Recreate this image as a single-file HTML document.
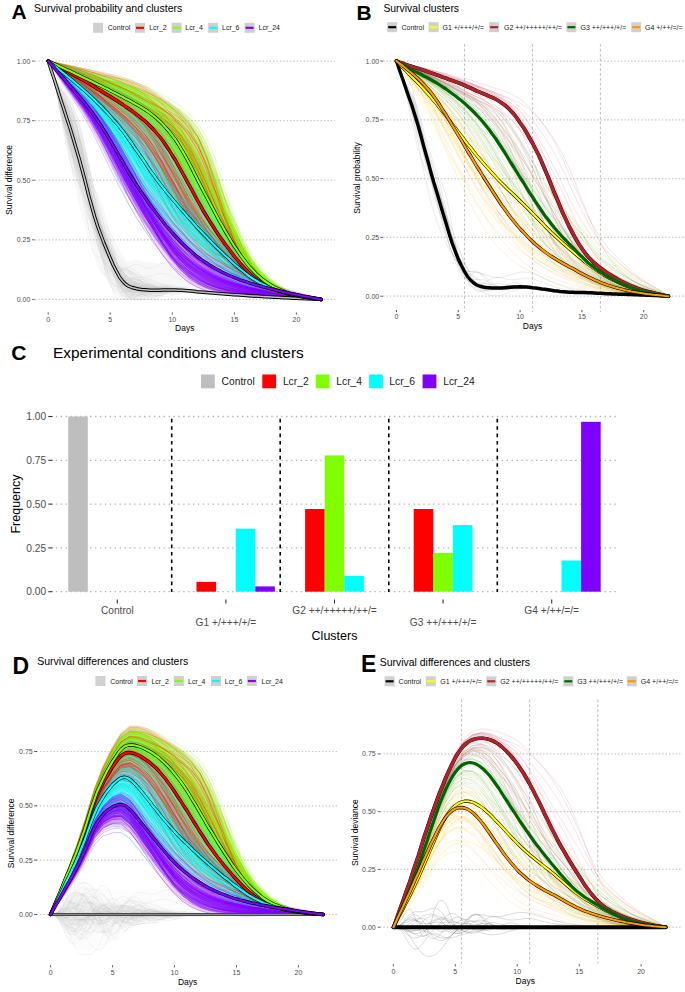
<!DOCTYPE html>
<html><head><meta charset="utf-8"><title>Survival clusters figure</title>
<style>html,body{margin:0;padding:0;background:#fff;}body{width:685px;height:992px;position:relative;overflow:hidden;font-family:"Liberation Sans", sans-serif;}</style>
</head><body>
<svg width="685" height="992" viewBox="0 0 685 992" style="position:absolute;left:0;top:0;font-family:'Liberation Sans', sans-serif">
<rect width="685" height="992" fill="#fff"/>
<text x="11.5" y="19.2" font-size="21" font-weight="bold">A</text>
<text x="34" y="12.4" font-size="10.55">Survival probability and clusters</text>
<rect x="93.1" y="22.8" width="10" height="10" fill="#d0d0d0"/>
<text x="107.8" y="30.3" font-size="7" fill="#1a1a1a">Control</text>
<rect x="135" y="22.8" width="10" height="10" fill="#d0d0d0"/>
<line x1="136" y1="27.8" x2="144" y2="27.8" stroke="#ff0000" stroke-width="2.2"/>
<text x="149.2" y="30.3" font-size="7" fill="#1a1a1a">Lcr_2</text>
<rect x="171.6" y="22.8" width="10" height="10" fill="#d0d0d0"/>
<line x1="172.6" y1="27.8" x2="180.6" y2="27.8" stroke="#80ff00" stroke-width="2.2"/>
<text x="185.3" y="30.3" font-size="7" fill="#1a1a1a">Lcr_4</text>
<rect x="208.2" y="22.8" width="10" height="10" fill="#d0d0d0"/>
<line x1="209.2" y1="27.8" x2="217.2" y2="27.8" stroke="#00ffff" stroke-width="2.2"/>
<text x="222" y="30.3" font-size="7" fill="#1a1a1a">Lcr_6</text>
<rect x="244.6" y="22.8" width="10" height="10" fill="#d0d0d0"/>
<line x1="245.6" y1="27.8" x2="253.6" y2="27.8" stroke="#8000ff" stroke-width="2.2"/>
<text x="258.6" y="30.3" font-size="7" fill="#1a1a1a">Lcr_24</text>
<line x1="35" y1="299.4" x2="335" y2="299.4" stroke="#c6c6c6" stroke-width="1.2" stroke-dasharray="1.4 2.0"/>
<line x1="35" y1="239.8" x2="335" y2="239.8" stroke="#c6c6c6" stroke-width="1.2" stroke-dasharray="1.4 2.0"/>
<line x1="35" y1="180.2" x2="335" y2="180.2" stroke="#c6c6c6" stroke-width="1.2" stroke-dasharray="1.4 2.0"/>
<line x1="35" y1="120.7" x2="335" y2="120.7" stroke="#c6c6c6" stroke-width="1.2" stroke-dasharray="1.4 2.0"/>
<line x1="35" y1="61.1" x2="335" y2="61.1" stroke="#c6c6c6" stroke-width="1.2" stroke-dasharray="1.4 2.0"/>
<text x="30.4" y="301.9" font-size="7" text-anchor="end" fill="#4d4d4d">0.00</text>
<line x1="32.2" y1="299.4" x2="34.6" y2="299.4" stroke="#333" stroke-width="0.8"/>
<text x="30.4" y="242.3" font-size="7" text-anchor="end" fill="#4d4d4d">0.25</text>
<line x1="32.2" y1="239.8" x2="34.6" y2="239.8" stroke="#333" stroke-width="0.8"/>
<text x="30.4" y="182.7" font-size="7" text-anchor="end" fill="#4d4d4d">0.50</text>
<line x1="32.2" y1="180.2" x2="34.6" y2="180.2" stroke="#333" stroke-width="0.8"/>
<text x="30.4" y="123.2" font-size="7" text-anchor="end" fill="#4d4d4d">0.75</text>
<line x1="32.2" y1="120.7" x2="34.6" y2="120.7" stroke="#333" stroke-width="0.8"/>
<text x="30.4" y="63.6" font-size="7" text-anchor="end" fill="#4d4d4d">1.00</text>
<line x1="32.2" y1="61.1" x2="34.6" y2="61.1" stroke="#333" stroke-width="0.8"/>
<text x="48.2" y="321.5" font-size="7" text-anchor="middle" fill="#4d4d4d">0</text>
<line x1="48.2" y1="312.4" x2="48.2" y2="314.6" stroke="#333" stroke-width="0.8"/>
<text x="110.2" y="321.5" font-size="7" text-anchor="middle" fill="#4d4d4d">5</text>
<line x1="110.2" y1="312.4" x2="110.2" y2="314.6" stroke="#333" stroke-width="0.8"/>
<text x="172.3" y="321.5" font-size="7" text-anchor="middle" fill="#4d4d4d">10</text>
<line x1="172.3" y1="312.4" x2="172.3" y2="314.6" stroke="#333" stroke-width="0.8"/>
<text x="234.4" y="321.5" font-size="7" text-anchor="middle" fill="#4d4d4d">15</text>
<line x1="234.4" y1="312.4" x2="234.4" y2="314.6" stroke="#333" stroke-width="0.8"/>
<text x="296.4" y="321.5" font-size="7" text-anchor="middle" fill="#4d4d4d">20</text>
<line x1="296.4" y1="312.4" x2="296.4" y2="314.6" stroke="#333" stroke-width="0.8"/>
<text x="184.8" y="331.3" font-size="8.5" text-anchor="middle">Days</text>
<text transform="translate(12.3 180) rotate(-90)" font-size="8.5" text-anchor="middle">Survival difference</text>
<text x="356.5" y="19.5" font-size="21" font-weight="bold">B</text>
<text x="383.4" y="12" font-size="10.4">Survival clusters</text>
<rect x="387.2" y="22.2" width="10" height="10" fill="#d0d0d0"/>
<line x1="388.2" y1="27.2" x2="396.2" y2="27.2" stroke="#000000" stroke-width="2.2"/>
<text x="401.5" y="29.7" font-size="7" fill="#1a1a1a">Control</text>
<rect x="428.6" y="22.2" width="10" height="10" fill="#d0d0d0"/>
<line x1="429.6" y1="27.2" x2="437.6" y2="27.2" stroke="#ffff00" stroke-width="2.2"/>
<text x="442.5" y="29.7" font-size="7" fill="#1a1a1a">G1 +/+++/+/=</text>
<rect x="489.1" y="22.2" width="10" height="10" fill="#d0d0d0"/>
<line x1="490.1" y1="27.2" x2="498.1" y2="27.2" stroke="#a52a2a" stroke-width="2.2"/>
<text x="504" y="29.7" font-size="7" fill="#1a1a1a">G2 ++/+++++/++/=</text>
<rect x="566.4" y="22.2" width="10" height="10" fill="#d0d0d0"/>
<line x1="567.4" y1="27.2" x2="575.4" y2="27.2" stroke="#006400" stroke-width="2.2"/>
<text x="580.5" y="29.7" font-size="7" fill="#1a1a1a">G3 ++/+++/+/=</text>
<rect x="631.2" y="22.2" width="10" height="10" fill="#d0d0d0"/>
<line x1="632.2" y1="27.2" x2="640.2" y2="27.2" stroke="#ff9a00" stroke-width="2.2"/>
<text x="645" y="29.7" font-size="7" fill="#1a1a1a">G4 +/++/=/=</text>
<line x1="383" y1="296.2" x2="684" y2="296.2" stroke="#c6c6c6" stroke-width="1.2" stroke-dasharray="1.4 2.0"/>
<line x1="383" y1="237.4" x2="684" y2="237.4" stroke="#c6c6c6" stroke-width="1.2" stroke-dasharray="1.4 2.0"/>
<line x1="383" y1="178.6" x2="684" y2="178.6" stroke="#c6c6c6" stroke-width="1.2" stroke-dasharray="1.4 2.0"/>
<line x1="383" y1="119.9" x2="684" y2="119.9" stroke="#c6c6c6" stroke-width="1.2" stroke-dasharray="1.4 2.0"/>
<line x1="383" y1="61.1" x2="684" y2="61.1" stroke="#c6c6c6" stroke-width="1.2" stroke-dasharray="1.4 2.0"/>
<line x1="464.5" y1="44" x2="464.5" y2="312" stroke="#c4c4c4" stroke-width="1.1" stroke-dasharray="2.7 2.15"/>
<line x1="532.5" y1="44" x2="532.5" y2="312" stroke="#c4c4c4" stroke-width="1.1" stroke-dasharray="2.7 2.15"/>
<line x1="600.4" y1="44" x2="600.4" y2="312" stroke="#c4c4c4" stroke-width="1.1" stroke-dasharray="2.7 2.15"/>
<text x="379.2" y="298.7" font-size="7" text-anchor="end" fill="#4d4d4d">0.00</text>
<line x1="380.3" y1="296.2" x2="383" y2="296.2" stroke="#333" stroke-width="0.8"/>
<text x="379.2" y="239.9" font-size="7" text-anchor="end" fill="#4d4d4d">0.25</text>
<line x1="380.3" y1="237.4" x2="383" y2="237.4" stroke="#333" stroke-width="0.8"/>
<text x="379.2" y="181.1" font-size="7" text-anchor="end" fill="#4d4d4d">0.50</text>
<line x1="380.3" y1="178.6" x2="383" y2="178.6" stroke="#333" stroke-width="0.8"/>
<text x="379.2" y="122.4" font-size="7" text-anchor="end" fill="#4d4d4d">0.75</text>
<line x1="380.3" y1="119.9" x2="383" y2="119.9" stroke="#333" stroke-width="0.8"/>
<text x="379.2" y="63.6" font-size="7" text-anchor="end" fill="#4d4d4d">1.00</text>
<line x1="380.3" y1="61.1" x2="383" y2="61.1" stroke="#333" stroke-width="0.8"/>
<text x="396.5" y="318.5" font-size="7" text-anchor="middle" fill="#4d4d4d">0</text>
<line x1="396.5" y1="310" x2="396.5" y2="312.2" stroke="#333" stroke-width="0.8"/>
<text x="458.3" y="318.5" font-size="7" text-anchor="middle" fill="#4d4d4d">5</text>
<line x1="458.3" y1="310" x2="458.3" y2="312.2" stroke="#333" stroke-width="0.8"/>
<text x="520.1" y="318.5" font-size="7" text-anchor="middle" fill="#4d4d4d">10</text>
<line x1="520.1" y1="310" x2="520.1" y2="312.2" stroke="#333" stroke-width="0.8"/>
<text x="581.9" y="318.5" font-size="7" text-anchor="middle" fill="#4d4d4d">15</text>
<line x1="581.9" y1="310" x2="581.9" y2="312.2" stroke="#333" stroke-width="0.8"/>
<text x="643.7" y="318.5" font-size="7" text-anchor="middle" fill="#4d4d4d">20</text>
<line x1="643.7" y1="310" x2="643.7" y2="312.2" stroke="#333" stroke-width="0.8"/>
<text x="532.5" y="329.3" font-size="8.5" text-anchor="middle">Days</text>
<text transform="translate(359.5 178) rotate(-90)" font-size="8.5" text-anchor="middle">Survival probability</text>
<text x="11.2" y="360.3" font-size="21" font-weight="bold">C</text>
<text x="53.1" y="358.3" font-size="15.4">Experimental conditions and clusters</text>
<rect x="201" y="374.5" width="13.8" height="13.8" fill="#bebebe"/>
<text x="221.5" y="385.1" font-size="10.3" fill="#1a1a1a">Control</text>
<rect x="262.3" y="374.5" width="13.8" height="13.8" fill="#ff0000"/>
<text x="282.9" y="385.1" font-size="10.3" fill="#1a1a1a">Lcr_2</text>
<rect x="315.7" y="374.5" width="13.8" height="13.8" fill="#80ff00"/>
<text x="336.3" y="385.1" font-size="10.3" fill="#1a1a1a">Lcr_4</text>
<rect x="369.1" y="374.5" width="13.8" height="13.8" fill="#00ffff"/>
<text x="389.3" y="385.1" font-size="10.3" fill="#1a1a1a">Lcr_6</text>
<rect x="422.6" y="374.5" width="13.8" height="13.8" fill="#8000ff"/>
<text x="443.2" y="385.1" font-size="10.3" fill="#1a1a1a">Lcr_24</text>
<line x1="55.8" y1="591.7" x2="618" y2="591.7" stroke="#b4b4b4" stroke-width="1.3" stroke-dasharray="1.4 3.5"/>
<text x="46.2" y="595.3" font-size="10.2" text-anchor="end" fill="#4d4d4d">0.00</text>
<line x1="48.3" y1="591.7" x2="52.6" y2="591.7" stroke="#333" stroke-width="1.1"/>
<line x1="55.8" y1="547.9" x2="618" y2="547.9" stroke="#b4b4b4" stroke-width="1.3" stroke-dasharray="1.4 3.5"/>
<text x="46.2" y="551.5" font-size="10.2" text-anchor="end" fill="#4d4d4d">0.25</text>
<line x1="48.3" y1="547.9" x2="52.6" y2="547.9" stroke="#333" stroke-width="1.1"/>
<line x1="55.8" y1="504.1" x2="618" y2="504.1" stroke="#b4b4b4" stroke-width="1.3" stroke-dasharray="1.4 3.5"/>
<text x="46.2" y="507.7" font-size="10.2" text-anchor="end" fill="#4d4d4d">0.50</text>
<line x1="48.3" y1="504.1" x2="52.6" y2="504.1" stroke="#333" stroke-width="1.1"/>
<line x1="55.8" y1="460.3" x2="618" y2="460.3" stroke="#b4b4b4" stroke-width="1.3" stroke-dasharray="1.4 3.5"/>
<text x="46.2" y="463.9" font-size="10.2" text-anchor="end" fill="#4d4d4d">0.75</text>
<line x1="48.3" y1="460.3" x2="52.6" y2="460.3" stroke="#333" stroke-width="1.1"/>
<line x1="55.8" y1="416.5" x2="618" y2="416.5" stroke="#b4b4b4" stroke-width="1.3" stroke-dasharray="1.4 3.5"/>
<text x="46.2" y="420.1" font-size="10.2" text-anchor="end" fill="#4d4d4d">1.00</text>
<line x1="48.3" y1="416.5" x2="52.6" y2="416.5" stroke="#333" stroke-width="1.1"/>
<line x1="171.7" y1="418.8" x2="171.7" y2="592" stroke="#000" stroke-width="1.6" stroke-dasharray="3.6 3.8"/>
<line x1="280.2" y1="418.8" x2="280.2" y2="592" stroke="#000" stroke-width="1.6" stroke-dasharray="3.6 3.8"/>
<line x1="388.8" y1="418.8" x2="388.8" y2="592" stroke="#000" stroke-width="1.6" stroke-dasharray="3.6 3.8"/>
<line x1="497.3" y1="418.8" x2="497.3" y2="592" stroke="#000" stroke-width="1.6" stroke-dasharray="3.6 3.8"/>
<rect x="68.2" y="416.5" width="19.6" height="175.2" fill="#bebebe"/>
<rect x="196.5" y="581.9" width="19.6" height="9.8" fill="#ff0000"/>
<rect x="235.7" y="528.6" width="19.6" height="63.1" fill="#00ffff"/>
<rect x="255.3" y="586.4" width="19.6" height="5.3" fill="#8000ff"/>
<rect x="305.1" y="509" width="19.6" height="82.7" fill="#ff0000"/>
<rect x="324.7" y="455.4" width="19.6" height="136.3" fill="#80ff00"/>
<rect x="344.3" y="575.9" width="19.6" height="15.8" fill="#00ffff"/>
<rect x="413.7" y="509" width="19.6" height="82.7" fill="#ff0000"/>
<rect x="433.3" y="552.8" width="19.6" height="38.9" fill="#80ff00"/>
<rect x="452.9" y="525.1" width="19.6" height="66.6" fill="#00ffff"/>
<rect x="561.5" y="560.5" width="19.6" height="31.2" fill="#00ffff"/>
<rect x="581.1" y="421.8" width="19.6" height="169.9" fill="#8000ff"/>
<line x1="117.3" y1="599.5" x2="117.3" y2="603.5" stroke="#333" stroke-width="1.1"/>
<text x="117.3" y="613.8" font-size="10.2" text-anchor="middle" fill="#4d4d4d">Control</text>
<line x1="225.9" y1="599.5" x2="225.9" y2="603.5" stroke="#333" stroke-width="1.1"/>
<text x="225.9" y="625.6" font-size="10.2" text-anchor="middle" fill="#4d4d4d">G1 +/+++/+/=</text>
<line x1="334.5" y1="599.5" x2="334.5" y2="603.5" stroke="#333" stroke-width="1.1"/>
<text x="334.5" y="613.8" font-size="10.2" text-anchor="middle" fill="#4d4d4d">G2 ++/+++++/++/=</text>
<line x1="443.1" y1="599.5" x2="443.1" y2="603.5" stroke="#333" stroke-width="1.1"/>
<text x="443.1" y="625.6" font-size="10.2" text-anchor="middle" fill="#4d4d4d">G3 ++/+++/+/=</text>
<line x1="551.7" y1="599.5" x2="551.7" y2="603.5" stroke="#333" stroke-width="1.1"/>
<text x="551.7" y="613.8" font-size="10.2" text-anchor="middle" fill="#4d4d4d">G4 +/++/=/=</text>
<text x="334.5" y="640.4" font-size="12.5" text-anchor="middle">Clusters</text>
<text transform="translate(20.3 504) rotate(-90)" font-size="12.5" text-anchor="middle">Frequency</text>
<text x="12.4" y="673.8" font-size="23" font-weight="bold">D</text>
<text x="37.2" y="665.3" font-size="10.5">Survival differences and clusters</text>
<rect x="95.4" y="676" width="10" height="10" fill="#d0d0d0"/>
<text x="110.2" y="683.5" font-size="7" fill="#1a1a1a">Control</text>
<rect x="137" y="676" width="10" height="10" fill="#d0d0d0"/>
<line x1="138" y1="681" x2="146" y2="681" stroke="#ff0000" stroke-width="2.2"/>
<text x="151.4" y="683.5" font-size="7" fill="#1a1a1a">Lcr_2</text>
<rect x="173.9" y="676" width="10" height="10" fill="#d0d0d0"/>
<line x1="174.9" y1="681" x2="182.9" y2="681" stroke="#80ff00" stroke-width="2.2"/>
<text x="188" y="683.5" font-size="7" fill="#1a1a1a">Lcr_4</text>
<rect x="211" y="676" width="10" height="10" fill="#d0d0d0"/>
<line x1="212" y1="681" x2="220" y2="681" stroke="#00ffff" stroke-width="2.2"/>
<text x="224.8" y="683.5" font-size="7" fill="#1a1a1a">Lcr_6</text>
<rect x="246.9" y="676" width="10" height="10" fill="#d0d0d0"/>
<line x1="247.9" y1="681" x2="255.9" y2="681" stroke="#8000ff" stroke-width="2.2"/>
<text x="261.5" y="683.5" font-size="7" fill="#1a1a1a">Lcr_24</text>
<line x1="36.5" y1="914.5" x2="339" y2="914.5" stroke="#c6c6c6" stroke-width="1.2" stroke-dasharray="1.4 2.0"/>
<line x1="36.5" y1="860.1" x2="339" y2="860.1" stroke="#c6c6c6" stroke-width="1.2" stroke-dasharray="1.4 2.0"/>
<line x1="36.5" y1="805.8" x2="339" y2="805.8" stroke="#c6c6c6" stroke-width="1.2" stroke-dasharray="1.4 2.0"/>
<line x1="36.5" y1="751.5" x2="339" y2="751.5" stroke="#c6c6c6" stroke-width="1.2" stroke-dasharray="1.4 2.0"/>
<text x="32.7" y="917" font-size="7" text-anchor="end" fill="#4d4d4d">0.00</text>
<line x1="34.2" y1="914.5" x2="37" y2="914.5" stroke="#333" stroke-width="0.8"/>
<text x="32.7" y="862.6" font-size="7" text-anchor="end" fill="#4d4d4d">0.25</text>
<line x1="34.2" y1="860.1" x2="37" y2="860.1" stroke="#333" stroke-width="0.8"/>
<text x="32.7" y="808.3" font-size="7" text-anchor="end" fill="#4d4d4d">0.50</text>
<line x1="34.2" y1="805.8" x2="37" y2="805.8" stroke="#333" stroke-width="0.8"/>
<text x="32.7" y="754" font-size="7" text-anchor="end" fill="#4d4d4d">0.75</text>
<line x1="34.2" y1="751.5" x2="37" y2="751.5" stroke="#333" stroke-width="0.8"/>
<text x="50.6" y="975" font-size="7" text-anchor="middle" fill="#4d4d4d">0</text>
<line x1="50.6" y1="965.2" x2="50.6" y2="967.4" stroke="#333" stroke-width="0.8"/>
<text x="112.6" y="975" font-size="7" text-anchor="middle" fill="#4d4d4d">5</text>
<line x1="112.6" y1="965.2" x2="112.6" y2="967.4" stroke="#333" stroke-width="0.8"/>
<text x="174.5" y="975" font-size="7" text-anchor="middle" fill="#4d4d4d">10</text>
<line x1="174.5" y1="965.2" x2="174.5" y2="967.4" stroke="#333" stroke-width="0.8"/>
<text x="236.5" y="975" font-size="7" text-anchor="middle" fill="#4d4d4d">15</text>
<line x1="236.5" y1="965.2" x2="236.5" y2="967.4" stroke="#333" stroke-width="0.8"/>
<text x="298.4" y="975" font-size="7" text-anchor="middle" fill="#4d4d4d">20</text>
<line x1="298.4" y1="965.2" x2="298.4" y2="967.4" stroke="#333" stroke-width="0.8"/>
<text x="187.6" y="984.5" font-size="8.5" text-anchor="middle">Days</text>
<text transform="translate(14.4 833.3) rotate(-90)" font-size="8.5" text-anchor="middle">Survival difference</text>
<text x="361" y="672.3" font-size="23" font-weight="bold">E</text>
<text x="379.7" y="665.9" font-size="10.46">Survival differences and clusters</text>
<rect x="384.6" y="676.3" width="10" height="10" fill="#d0d0d0"/>
<line x1="385.6" y1="681.3" x2="393.6" y2="681.3" stroke="#000000" stroke-width="2.2"/>
<text x="398.6" y="683.8" font-size="7" fill="#1a1a1a">Control</text>
<rect x="425.8" y="676.3" width="10" height="10" fill="#d0d0d0"/>
<line x1="426.8" y1="681.3" x2="434.8" y2="681.3" stroke="#ffff00" stroke-width="2.2"/>
<text x="440.3" y="683.8" font-size="7" fill="#1a1a1a">G1 +/+++/+/=</text>
<rect x="486.3" y="676.3" width="10" height="10" fill="#d0d0d0"/>
<line x1="487.3" y1="681.3" x2="495.3" y2="681.3" stroke="#a52a2a" stroke-width="2.2"/>
<text x="500.3" y="683.8" font-size="7" fill="#1a1a1a">G2 ++/+++++/++/=</text>
<rect x="563.3" y="676.3" width="10" height="10" fill="#d0d0d0"/>
<line x1="564.3" y1="681.3" x2="572.3" y2="681.3" stroke="#006400" stroke-width="2.2"/>
<text x="577.3" y="683.8" font-size="7" fill="#1a1a1a">G3 ++/+++/+/=</text>
<rect x="626.8" y="676.3" width="10" height="10" fill="#d0d0d0"/>
<line x1="627.8" y1="681.3" x2="635.8" y2="681.3" stroke="#ff9a00" stroke-width="2.2"/>
<text x="640.8" y="683.8" font-size="7" fill="#1a1a1a">G4 +/++/=/=</text>
<line x1="380" y1="927.2" x2="681" y2="927.2" stroke="#c6c6c6" stroke-width="1.2" stroke-dasharray="1.4 2.0"/>
<line x1="380" y1="869.4" x2="681" y2="869.4" stroke="#c6c6c6" stroke-width="1.2" stroke-dasharray="1.4 2.0"/>
<line x1="380" y1="811.7" x2="681" y2="811.7" stroke="#c6c6c6" stroke-width="1.2" stroke-dasharray="1.4 2.0"/>
<line x1="380" y1="753.9" x2="681" y2="753.9" stroke="#c6c6c6" stroke-width="1.2" stroke-dasharray="1.4 2.0"/>
<line x1="461.5" y1="699.6" x2="461.5" y2="963.8" stroke="#c4c4c4" stroke-width="1.1" stroke-dasharray="2.7 2.15"/>
<line x1="529.6" y1="699.6" x2="529.6" y2="963.8" stroke="#c4c4c4" stroke-width="1.1" stroke-dasharray="2.7 2.15"/>
<line x1="597.8" y1="699.6" x2="597.8" y2="963.8" stroke="#c4c4c4" stroke-width="1.1" stroke-dasharray="2.7 2.15"/>
<text x="375.7" y="929.7" font-size="7" text-anchor="end" fill="#4d4d4d">0.00</text>
<line x1="377.8" y1="927.2" x2="380.2" y2="927.2" stroke="#333" stroke-width="0.8"/>
<text x="375.7" y="871.9" font-size="7" text-anchor="end" fill="#4d4d4d">0.25</text>
<line x1="377.8" y1="869.4" x2="380.2" y2="869.4" stroke="#333" stroke-width="0.8"/>
<text x="375.7" y="814.2" font-size="7" text-anchor="end" fill="#4d4d4d">0.50</text>
<line x1="377.8" y1="811.7" x2="380.2" y2="811.7" stroke="#333" stroke-width="0.8"/>
<text x="375.7" y="756.4" font-size="7" text-anchor="end" fill="#4d4d4d">0.75</text>
<line x1="377.8" y1="753.9" x2="380.2" y2="753.9" stroke="#333" stroke-width="0.8"/>
<text x="393.4" y="973.5" font-size="7" text-anchor="middle" fill="#4d4d4d">0</text>
<line x1="393.4" y1="964.2" x2="393.4" y2="966.4" stroke="#333" stroke-width="0.8"/>
<text x="455.3" y="973.5" font-size="7" text-anchor="middle" fill="#4d4d4d">5</text>
<line x1="455.3" y1="964.2" x2="455.3" y2="966.4" stroke="#333" stroke-width="0.8"/>
<text x="517.2" y="973.5" font-size="7" text-anchor="middle" fill="#4d4d4d">10</text>
<line x1="517.2" y1="964.2" x2="517.2" y2="966.4" stroke="#333" stroke-width="0.8"/>
<text x="579.2" y="973.5" font-size="7" text-anchor="middle" fill="#4d4d4d">15</text>
<line x1="579.2" y1="964.2" x2="579.2" y2="966.4" stroke="#333" stroke-width="0.8"/>
<text x="641.1" y="973.5" font-size="7" text-anchor="middle" fill="#4d4d4d">20</text>
<line x1="641.1" y1="964.2" x2="641.1" y2="966.4" stroke="#333" stroke-width="0.8"/>
<text x="525.3" y="983.5" font-size="8.5" text-anchor="middle">Days</text>
<text transform="translate(357.5 832.6) rotate(-90)" font-size="8.5" text-anchor="middle">Survival deviance</text>
<g transform="scale(0.25)" stroke-linejoin="round" stroke-linecap="round">
<g fill="#bebebe" fill-opacity="0.12">
<path d="M193 244l16 46 17 24 16 11 17 10 17 39 16 38 17 54 16 61 17 72 16 71 17 75 16 44 17 45 16 54 17 36 17 35 16 34 17 25 16 26 17 2 16-9 17 4 16 7 17 0 16-1 17 7 17-1 16-1 17 3 16 6 17 6 16 9 17 12 16 14 17 13 16 12 50 27 50 14 49 7 50 6 50 4 49 3 50 3 50 2 49 2 50 3 0 0-50-3-49-2-50-2-50-3-49-2-50-3-50-3-49-2-50-2-50-2-16-1-17 0-16 0-17 1-16 2-17 3-16-1-17 4-16 9-17 7-17 0-16 0-17 0-16 0-17 0-16 0-17 0-16 0-17-14-16-5-17-36-17-29-16-22-17-48-16-59-17-43-16-52-17-62-16-67-17-61-16-66-17-80-17-89-16-93-17-73-16-55z"/>
<path d="M193 244l16 48 17 36 16 27 17 20 17 27 16 38 17 53 16 54 17 72 16 76 17 70 16 61 17 49 16 46 17 40 17 37 16 37 17 26 16 10 17 11 16 9 17 9 16 9 17 6 16 6 17 7 17 7 16 0 17 0 16 3 17 5 16 5 17 4 16 3 17 3 16 2 50 7 50 5 49 5 50 4 50 4 49 3 50 3 50 2 49 2 50 3 0 0-50-3-49-2-50-2-50-3-49-3-50-3-50-3-49-2-50-3-50-3-16-1-17-1-16 0-17 0-16 1-17 0-16 2-17 3-16 3-17 5-17 5-16 1-17 7-16 2-17 0-16 0-17-2-16-10-17-24-16-22-17-33-17-38-16-39-17-39-16-54-17-60-16-56-17-57-16-44-17-54-16-67-17-74-17-80-16-80-17-67-16-54z"/>
<path d="M193 244l16 49 17 41 16 35 17 30 17 33 16 39 17 52 16 61 17 75 16 77 17 59 16 58 17 53 16 43 17 40 17 38 16 34 17 23 16 18 17 8 16 8 17 1 16 10 17 5 16 7 17 2 17 2 16 1 17 3 16 1 17 3 16 2 17 3 16 2 17 2 16 1 50 5 50 6 49 4 50 4 50 3 49 3 50 3 50 2 49 2 50 3 0 0-50-3-49-2-50-2-50-3-49-3-50-3-50-3-49-3-50-3-50-4-16-1-17-1-16-1-17 0-16 0-17 1-16 1-17 1-16 2-17 2-17 3-16 3-17 3-16 2-17-1-16 0-17-6-16-13-17-29-16-26-17-29-17-40-16-34-17-45-16-54-17-52-16-57-17-54-16-58-17-57-16-61-17-66-17-76-16-68-17-61-16-53z"/>
<path d="M193 244l16 49 17 44 16 39 17 40 17 39 16 44 17 45 16 61 17 72 16 77 17 67 16 49 17 48 16 45 17 42 17 40 16 27 17 27 16 15 17 11 16 6 17 5 16 5 17 3 16 3 17 2 17 2 16 1 17 1 16 1 17 2 16 2 17 2 16 1 17 2 16 2 50 4 50 5 49 4 50 4 50 3 49 3 50 3 50 2 49 2 50 3 0 0-50-3-49-2-50-2-50-3-49-3-50-3-50-3-49-3-50-4-50-4-16-1-17-1-16-1-17-1-16 0-17 0-16 1-17 1-16 1-17 2-17 1-16 1-17 2-16 1-17-2-16-5-17-5-16-16-17-26-16-26-17-37-17-32-16-41-17-43-16-51-17-57-16-57-17-59-16-57-17-61-16-55-17-65-17-64-16-61-17-58-16-52z"/>
<path d="M193 244l16 50 17 46 16 43 17 44 17 45 16 46 17 53 16 56 17 70 16 73 17 66 16 51 17 40 16 46 17 47 17 37 16 31 17 21 16 15 17 10 16 7 17 4 16 4 17 1 16 3 17 0 17 2 16 0 17 1 16 0 17 1 16 2 17 2 16 2 17 1 16 1 50 5 50 4 49 4 50 4 50 3 49 3 50 3 50 2 49 2 50 3 0 0-50-3-49-2-50-2-50-3-49-3-50-3-50-3-49-4-50-3-50-5-16-1-17-1-16-1-17-2-16 0-17 0-16 0-17 2-16 0-17 1-17 1-16 0-17 0-16-1-17-1-16-5-17-8-16-14-17-25-16-34-17-34-17-36-16-41-17-41-16-46-17-61-16-64-17-61-16-56-17-61-16-57-17-57-17-56-16-57-17-54-16-52z"/>
<path d="M193 244l16 51 17 48 16 47 17 48 17 46 16 55 17 52 16 63 17 68 16 66 17 59 16 49 17 45 16 41 17 42 17 37 16 33 17 24 16 15 17 9 16 5 17 5 16 1 17 3 16 2 17 0 17 0 16 0 17 0 16 0 17 1 16 1 17 2 16 1 17 2 16 1 50 4 50 5 49 3 50 4 50 3 49 3 50 3 50 2 49 2 50 3 0 0-50-3-49-2-50-2-50-3-49-3-50-3-50-3-49-4-50-4-50-4-16-1-17-2-16-1-17-1-16-1-17-1-16 1-17 0-16 1-17 1-17 0-16 0-17-1-16-2-17-2-16-5-17-9-16-15-17-23-16-34-17-38-17-36-16-41-17-42-16-54-17-56-16-62-17-60-16-57-17-61-16-57-17-54-17-53-16-54-17-52-16-51z"/>
</g>
<g fill="#ff0000" fill-opacity="0.08">
<path d="M193 244l35 8 35 7 35 8 36 9 35 7 35 9 35 8 36 10 35 10 35 11 35 15 36 21 35 25 35 28 35 29 35 41 36 51 35 73 35 98 35 109 36 95 35 71 35 60 35 50 36 29 35 22 35 17 35 11 35 9 36 7 35 6 0 0-35-4-36-4-35-5-35-6-35-7-35-10-36-14-35-15-35-16-35-20-36-10-35-15-35-17-35-23-36-30-35-26-35-32-35-49-35-58-36-73-35-77-35-77-35-59-36-54-35-47-35-39-35-40-36-34-35-33-35-30-35-30z"/>
<path d="M193 244l35 10 35 10 35 11 36 11 35 12 35 10 35 10 36 10 35 14 35 15 35 19 36 19 35 25 35 31 35 31 35 45 36 56 35 76 35 99 35 93 36 88 35 66 35 57 35 42 36 29 35 20 35 14 35 11 35 8 36 6 35 6 0 0-35-4-36-5-35-5-35-7-35-8-35-12-36-14-35-19-35-20-35-23-36-21-35-19-35-23-35-28-36-34-35-48-35-49-35-62-35-66-36-59-35-67-35-50-35-46-36-46-35-41-35-34-35-31-36-31-35-29-35-26-35-27z"/>
<path d="M193 244l35 12 35 12 35 12 36 13 35 13 35 14 35 13 36 15 35 16 35 18 35 19 36 23 35 23 35 29 35 32 35 49 36 62 35 79 35 94 35 93 36 75 35 66 35 50 35 36 36 26 35 18 35 13 35 10 35 7 36 6 35 6 0 0-35-5-36-4-35-6-35-7-35-9-35-12-36-16-35-20-35-26-35-25-36-26-35-26-35-28-35-38-36-45-35-54-35-57-35-55-35-66-36-58-35-46-35-44-35-40-36-39-35-36-35-33-35-29-36-28-35-26-35-25-35-25z"/>
<path d="M193 244l35 14 35 13 35 14 36 14 35 15 35 16 35 17 36 17 35 19 35 19 35 20 36 22 35 24 35 31 35 40 35 50 36 68 35 79 35 83 35 82 36 72 35 62 35 47 35 36 36 23 35 17 35 12 35 10 35 7 36 6 35 5 0 0-35-5-36-5-35-6-35-7-35-10-35-12-36-17-35-23-35-25-35-28-36-30-35-32-35-36-35-42-36-46-35-54-35-57-35-62-35-59-36-54-35-50-35-43-35-34-36-32-35-30-35-28-35-28-36-27-35-24-35-24-35-24z"/>
<path d="M193 244l35 16 35 16 35 16 36 17 35 17 35 17 35 21 36 19 35 22 35 22 35 24 36 28 35 25 35 31 35 40 35 50 36 76 35 82 35 82 35 69 36 64 35 48 35 42 35 33 36 23 35 16 35 11 35 9 35 7 36 6 35 5 0 0-35-5-36-5-35-6-35-8-35-10-35-13-36-18-35-23-35-28-35-30-36-33-35-37-35-36-35-45-36-50-35-55-35-61-35-63-35-58-36-55-35-40-35-36-35-33-36-30-35-28-35-28-35-26-36-25-35-24-35-22-35-23z"/>
<path d="M193 244l35 19 35 19 35 19 36 21 35 21 35 20 35 18 36 23 35 24 35 27 35 33 36 43 35 59 35 61 35 67 35 57 36 64 35 52 35 44 35 43 36 40 35 41 35 36 35 30 36 21 35 15 35 11 35 9 35 6 36 6 35 5 0 0-35-5-36-5-35-6-35-9-35-10-35-14-36-19-35-24-35-30-35-34-36-32-35-38-35-41-35-45-36-52-35-57-35-63-35-63-35-60-36-48-35-39-35-34-35-30-36-27-35-27-35-27-35-25-36-24-35-22-35-22-35-22z"/>
</g>
<g fill="#8000ff" fill-opacity="0.13">
<path d="M193 244l35 33 35 33 35 34 36 35 35 37 35 41 35 49 36 55 35 59 35 60 35 55 36 57 35 49 35 45 35 39 35 37 36 34 35 26 35 24 35 20 36 19 35 16 35 14 35 13 36 11 35 11 35 10 35 10 35 9 36 9 35 10 0 0-35-1-36-1-35-1-35-1-35-1-35-2-36-1-35-2-35-3-35-3-36-5-35-6-35-10-35-13-36-20-35-29-35-39-35-46-35-55-36-56-35-59-35-62-35-68-36-72-35-71-35-65-35-59-36-53-35-50-35-50-35-48z"/>
<path d="M193 244l35 35 35 34 35 36 36 37 35 40 35 44 35 51 36 57 35 63 35 64 35 58 36 50 35 51 35 45 35 41 35 37 36 31 35 27 35 22 35 20 36 16 35 14 35 13 35 11 36 9 35 9 35 9 35 8 35 7 36 7 35 8 0 0-35-2-36-1-35-2-35-2-35-2-35-2-36-2-35-3-35-3-35-4-36-6-35-8-35-11-35-17-36-23-35-32-35-38-35-46-35-55-36-57-35-61-35-62-35-66-36-69-35-69-35-63-35-57-36-50-35-48-35-46-35-45z"/>
<path d="M193 245l35 35 35 36 35 37 36 38 35 41 35 47 35 54 36 59 35 65 35 61 35 61 36 54 35 50 35 47 35 40 35 34 36 30 35 26 35 21 35 17 36 15 35 13 35 11 35 9 36 9 35 8 35 8 35 7 35 7 36 6 35 7 0 0-35-2-36-2-35-2-35-2-35-3-35-3-36-2-35-4-35-4-35-5-36-7-35-10-35-11-35-19-36-25-35-30-35-41-35-50-35-54-36-56-35-62-35-64-35-68-36-68-35-65-35-59-35-52-36-48-35-46-35-45-35-43z"/>
<path d="M193 245l35 37 35 37 35 38 36 40 35 43 35 48 35 57 36 62 35 65 35 61 35 61 36 56 35 51 35 45 35 40 35 33 36 30 35 25 35 18 35 17 36 13 35 12 35 10 35 8 36 8 35 8 35 7 35 6 35 6 36 5 35 6 0 0-35-3-36-2-35-2-35-3-35-3-35-3-36-4-35-4-35-4-35-6-36-8-35-10-35-13-35-19-36-25-35-33-35-41-35-50-35-55-36-57-35-59-35-64-35-66-36-67-35-64-35-58-35-51-36-47-35-45-35-44-35-42z"/>
<path d="M193 245l35 38 35 39 35 39 36 41 35 45 35 50 35 57 36 62 35 66 35 64 35 60 36 56 35 53 35 47 35 41 35 33 36 27 35 23 35 18 35 15 36 12 35 10 35 9 35 8 36 7 35 6 35 6 35 6 35 5 36 5 35 5 0 0-35-3-36-3-35-3-35-3-35-3-35-4-36-5-35-4-35-6-35-7-36-8-35-11-35-13-35-20-36-26-35-36-35-42-35-47-35-53-36-58-35-60-35-64-35-67-36-67-35-62-35-56-35-49-36-45-35-43-35-43-35-42z"/>
<path d="M193 245l35 39 35 40 35 40 36 42 35 45 35 51 35 58 36 64 35 65 35 64 35 63 36 56 35 54 35 46 35 40 35 34 36 27 35 22 35 17 35 14 36 11 35 9 35 8 35 8 36 6 35 6 35 5 35 5 35 5 36 4 35 5 0 0-35-4-36-3-35-4-35-4-35-4-35-5-36-5-35-6-35-7-35-8-36-9-35-13-35-15-35-21-36-25-35-34-35-39-35-49-35-53-36-57-35-60-35-64-35-67-36-66-35-61-35-54-35-47-36-45-35-42-35-41-35-41z"/>
</g>
<g fill="#80ff00" fill-opacity="0.13">
<path d="M193 244l35 8 35 8 35 8 36 9 35 10 35 8 35 8 36 8 35 10 35 13 35 16 36 19 35 20 35 20 35 23 35 28 36 44 35 60 35 92 35 94 36 112 35 88 35 69 35 48 36 43 35 28 35 21 35 14 35 11 36 7 35 7 0 0-35-4-36-5-35-6-35-8-35-10-35-12-36-19-35-23-35-27-35-24-36-30-35-29-35-41-35-58-36-56-35-56-35-55-35-66-35-60-36-50-35-35-35-33-35-33-36-34-35-33-35-30-35-25-36-25-35-23-35-22-35-22z"/>
<path d="M193 244l35 11 35 11 35 11 36 11 35 11 35 11 35 8 36 9 35 11 35 14 35 18 36 21 35 20 35 23 35 29 35 36 36 48 35 67 35 88 35 95 36 96 35 82 35 64 35 45 36 34 35 25 35 19 35 13 35 10 36 7 35 6 0 0-35-5-36-5-35-6-35-9-35-11-35-16-36-21-35-26-35-32-35-37-36-41-35-45-35-45-35-52-36-58-35-59-35-68-35-65-35-48-36-35-35-29-35-23-35-29-36-29-35-31-35-23-35-22-36-22-35-20-35-21-35-21z"/>
<path d="M193 244l35 13 35 12 35 12 36 12 35 13 35 12 35 9 36 11 35 12 35 15 35 18 36 24 35 25 35 30 35 33 35 45 36 61 35 71 35 83 35 88 36 77 35 72 35 56 35 42 36 33 35 23 35 17 35 13 35 9 36 7 35 6 0 0-35-5-36-5-35-7-35-9-35-12-35-16-36-22-35-30-35-36-35-41-36-44-35-49-35-58-35-62-36-60-35-64-35-63-35-54-35-46-36-33-35-24-35-25-35-23-36-23-35-24-35-22-35-19-36-20-35-19-35-19-35-20z"/>
<path d="M193 244l35 14 35 14 35 13 36 14 35 14 35 12 35 11 36 12 35 14 35 16 35 22 36 23 35 30 35 35 35 37 35 50 36 63 35 72 35 78 35 73 36 76 35 65 35 52 35 42 36 30 35 23 35 16 35 12 35 9 36 6 35 6 0 0-35-5-36-6-35-7-35-9-35-13-35-17-36-23-35-32-35-39-35-43-36-49-35-53-35-60-35-61-36-68-35-65-35-61-35-47-35-42-36-32-35-24-35-22-35-22-36-21-35-21-35-19-35-18-36-19-35-19-35-18-35-19z"/>
<path d="M193 244l35 15 35 14 35 15 36 15 35 15 35 14 35 11 36 13 35 15 35 17 35 22 36 26 35 30 35 37 35 46 35 58 36 66 35 70 35 72 35 70 36 69 35 58 35 50 35 38 36 29 35 22 35 15 35 12 35 8 36 6 35 6 0 0-35-5-36-6-35-7-35-10-35-13-35-19-36-25-35-32-35-40-35-46-36-53-35-57-35-60-35-64-36-70-35-65-35-59-35-48-35-38-36-30-35-23-35-21-35-19-36-19-35-19-35-18-35-17-36-18-35-18-35-17-35-18z"/>
<path d="M193 244l35 16 35 15 35 15 36 16 35 15 35 15 35 15 36 15 35 16 35 18 35 22 36 25 35 31 35 41 35 49 35 62 36 70 35 71 35 70 35 66 36 60 35 55 35 45 35 37 36 27 35 21 35 15 35 11 35 8 36 6 35 6 0 0-35-5-36-6-35-8-35-10-35-14-35-19-36-26-35-34-35-40-35-50-36-54-35-59-35-64-35-67-36-69-35-65-35-57-35-47-35-35-36-29-35-24-35-20-35-18-36-17-35-16-35-17-35-17-36-17-35-16-35-17-35-17z"/>
</g>
<g fill="#00ffff" fill-opacity="0.14">
<path d="M193 244l35 13 35 12 35 13 36 13 35 14 35 14 35 12 36 17 35 20 35 21 35 29 36 33 35 37 35 45 35 53 35 61 36 64 35 64 35 65 35 65 36 59 35 51 35 48 35 37 36 26 35 20 35 15 35 11 35 8 36 7 35 7 0 0-35-4-36-5-35-5-35-6-35-7-35-8-36-9-35-9-35-11-35-14-36-18-35-21-35-23-35-26-36-25-35-28-35-22-35-30-35-26-36-36-35-50-35-64-35-75-36-82-35-79-35-56-35-51-36-43-35-42-35-40-35-39z"/>
<path d="M193 244l35 14 35 14 35 14 36 16 35 17 35 18 35 17 36 20 35 23 35 25 35 31 36 30 35 44 35 45 35 55 35 65 36 61 35 57 35 56 35 59 36 58 35 52 35 43 35 33 36 24 35 19 35 13 35 10 35 8 36 7 35 6 0 0-35-5-36-5-35-5-35-6-35-8-35-10-36-11-35-13-35-14-35-17-36-20-35-24-35-27-35-29-36-30-35-27-35-31-35-33-35-39-36-46-35-53-35-63-35-67-36-66-35-61-35-51-35-46-36-40-35-37-35-35-35-35z"/>
<path d="M193 244l35 18 35 18 35 18 36 20 35 20 35 19 35 24 36 26 35 26 35 30 35 31 36 39 35 44 35 47 35 54 35 51 36 54 35 56 35 55 35 55 36 54 35 44 35 40 35 29 36 23 35 17 35 12 35 10 35 8 36 6 35 6 0 0-35-5-36-5-35-6-35-7-35-9-35-10-36-12-35-15-35-17-35-22-36-26-35-25-35-32-35-28-36-32-35-34-35-32-35-37-35-39-36-47-35-50-35-59-35-63-36-59-35-56-35-46-35-41-36-37-35-36-35-34-35-33z"/>
<path d="M193 244l35 23 35 22 35 24 36 24 35 25 35 29 35 29 36 32 35 36 35 35 35 45 36 54 35 53 35 51 35 52 35 44 36 40 35 37 35 42 35 39 36 38 35 38 35 35 35 29 36 21 35 16 35 12 35 9 35 8 36 6 35 6 0 0-35-5-36-5-35-6-35-8-35-9-35-11-36-14-35-17-35-20-35-24-36-27-35-29-35-30-35-31-36-35-35-31-35-38-35-37-35-41-36-49-35-55-35-56-35-58-36-52-35-49-35-44-35-39-36-36-35-34-35-32-35-32z"/>
<path d="M193 244l35 25 35 25 35 26 36 28 35 30 35 30 35 33 36 35 35 39 35 43 35 52 36 51 35 48 35 47 35 47 35 43 36 41 35 39 35 36 35 34 36 36 35 33 35 32 35 26 36 20 35 15 35 12 35 9 35 7 36 6 35 6 0 0-35-5-36-6-35-6-35-8-35-9-35-12-36-15-35-19-35-23-35-27-36-29-35-31-35-32-35-33-36-35-35-36-35-40-35-39-35-43-36-48-35-52-35-54-35-54-36-50-35-44-35-41-35-37-36-34-35-32-35-30-35-30z"/>
<path d="M193 244l35 27 35 26 35 28 36 28 35 32 35 34 35 37 36 39 35 44 35 49 35 50 36 51 35 48 35 44 35 41 35 37 36 40 35 38 35 38 35 33 36 33 35 31 35 31 35 23 36 19 35 15 35 11 35 8 35 7 36 6 35 6 0 0-35-5-36-6-35-7-35-8-35-10-35-12-36-16-35-21-35-25-35-30-36-31-35-31-35-34-35-33-36-37-35-36-35-38-35-40-35-45-36-50-35-52-35-52-35-51-36-46-35-44-35-38-35-36-36-32-35-30-35-29-35-29z"/>
</g>
<g fill="none" stroke="#80ff00" stroke-opacity="0.3" stroke-width="3.2">
<path d="M193 244l35 17 35 17 35 17 36 16 35 17 35 17 35 17 36 17 35 18 35 21 35 24 36 32 35 40 35 51 35 63 35 70 36 70 35 66 35 62 35 57 36 51 35 44 35 37 35 31 36 23 35 18 35 13 35 10 35 7 36 6 35 5"/>
<path d="M193 244l35 13 35 12 35 12 36 12 35 11 35 10 35 10 36 10 35 11 35 13 35 16 36 18 35 21 35 23 35 28 35 35 36 48 35 64 35 84 35 92 36 91 35 84 35 70 35 52 36 37 35 26 35 17 35 13 35 8 36 7 35 6"/>
<path d="M193 244l35 19 35 19 35 19 36 18 35 16 35 15 35 13 36 13 35 16 35 20 35 26 36 32 35 41 35 48 35 56 35 61 36 61 35 59 35 57 35 54 36 52 35 49 35 44 35 38 36 31 35 24 35 17 35 13 35 10 36 7 35 6"/>
<path d="M193 244l35 16 35 15 35 16 36 16 35 16 35 15 35 16 36 16 35 18 35 19 35 24 36 30 35 38 35 49 35 63 35 72 36 74 35 71 35 66 35 61 36 53 35 46 35 38 35 29 36 22 35 17 35 12 35 9 35 7 36 5 35 5"/>
<path d="M193 244l35 17 35 18 35 17 36 17 35 17 35 16 35 16 36 16 35 17 35 18 35 22 36 25 35 32 35 39 35 48 35 57 36 63 35 65 35 64 35 62 36 60 35 56 35 48 35 39 36 31 35 23 35 17 35 12 35 9 36 7 35 6"/>
<path d="M193 244l35 14 35 14 35 14 36 14 35 13 35 12 35 11 36 12 35 14 35 18 35 21 36 28 35 35 35 45 35 58 35 70 36 79 35 79 35 74 35 69 36 62 35 51 35 41 35 31 36 22 35 16 35 12 35 8 35 7 36 5 35 5"/>
<path d="M193 244l35 12 35 12 35 13 36 12 35 14 35 14 35 15 36 16 35 17 35 18 35 19 36 20 35 25 35 32 35 43 35 58 36 74 35 84 35 84 35 81 36 74 35 61 35 47 35 34 36 23 35 16 35 12 35 8 35 6 36 5 35 5"/>
<path d="M193 244l35 19 35 18 35 19 36 19 35 19 35 19 35 20 36 20 35 20 35 23 35 27 36 34 35 43 35 53 35 62 35 66 36 63 35 59 35 55 35 51 36 46 35 41 35 37 35 31 36 25 35 20 35 14 35 11 35 8 36 6 35 6"/>
<path d="M193 244l35 17 35 17 35 16 36 16 35 13 35 12 35 9 36 10 35 13 35 18 35 25 36 34 35 43 35 54 35 64 35 71 36 71 35 68 35 63 35 59 36 53 35 48 35 40 35 32 36 26 35 18 35 14 35 11 35 8 36 6 35 5"/>
<path d="M193 244l35 17 35 18 35 17 36 17 35 17 35 17 35 17 36 16 35 18 35 20 35 23 36 28 35 36 35 44 35 55 35 63 36 66 35 65 35 62 35 59 36 56 35 50 35 43 35 35 36 28 35 20 35 15 35 12 35 8 36 6 35 6"/>
<path d="M193 244l35 18 35 18 35 19 36 23 35 29 35 36 35 42 36 41 35 34 35 27 35 23 36 22 35 26 35 36 35 49 35 56 36 59 35 57 35 55 35 52 36 46 35 41 35 35 35 29 36 23 35 17 35 13 35 10 35 7 36 6 35 5"/>
<path d="M193 244l35 11 35 10 35 11 36 10 35 11 35 10 35 9 36 11 35 12 35 14 35 17 36 18 35 22 35 24 35 31 35 39 36 55 35 75 35 92 35 97 36 92 35 82 35 64 35 44 36 31 35 20 35 14 35 10 35 7 36 6 35 5"/>
<path d="M193 244l35 17 35 17 35 17 36 16 35 16 35 14 35 13 36 14 35 16 35 18 35 23 36 30 35 37 35 45 35 56 35 64 36 68 35 67 35 63 35 61 36 57 35 51 35 44 35 35 36 28 35 21 35 15 35 11 35 8 36 6 35 6"/>
<path d="M193 244l35 13 35 13 35 13 36 13 35 15 35 15 35 16 36 17 35 18 35 17 35 18 36 18 35 22 35 28 35 38 35 50 36 67 35 79 35 83 35 81 36 77 35 66 35 52 35 39 36 27 35 18 35 13 35 10 35 7 36 6 35 5"/>
<path d="M193 244l35 11 35 10 35 11 36 11 35 11 35 13 35 13 36 14 35 14 35 15 35 15 36 16 35 16 35 20 35 24 35 33 36 47 35 67 35 90 35 100 36 98 35 87 35 69 35 49 36 33 35 22 35 15 35 11 35 8 36 6 35 5"/>
<path d="M193 244l35 13 35 12 35 13 36 12 35 11 35 9 35 9 36 10 35 11 35 16 35 19 36 23 35 29 35 35 35 44 35 55 36 71 35 82 35 84 35 81 36 77 35 65 35 51 35 38 36 26 35 18 35 13 35 9 35 7 36 6 35 5"/>
<path d="M193 244l35 22 35 21 35 21 36 21 35 20 35 19 35 18 36 17 35 21 35 25 35 32 36 40 35 47 35 55 35 57 35 56 36 54 35 49 35 45 35 43 36 41 35 40 35 39 35 37 36 31 35 26 35 19 35 14 35 10 36 8 35 6"/>
<path d="M193 244l35 17 35 17 35 17 36 19 35 20 35 22 35 23 36 24 35 23 35 23 35 25 36 30 35 39 35 50 35 62 35 69 36 68 35 64 35 59 35 54 36 48 35 41 35 34 35 28 36 22 35 17 35 12 35 9 35 7 36 6 35 5"/>
</g>
<g fill="none" stroke="#8000ff" stroke-opacity="0.3" stroke-width="3.2">
<path d="M193 245l35 38 35 38 35 39 36 41 35 45 35 51 35 58 36 64 35 66 35 65 35 61 36 58 35 53 35 49 35 42 35 34 36 27 35 22 35 17 35 14 36 11 35 9 35 8 35 7 36 6 35 6 35 5 35 5 35 5 36 4 35 5"/>
<path d="M193 245l35 39 35 40 35 41 36 42 35 46 35 52 35 58 36 61 35 61 35 58 35 54 36 51 35 48 35 43 35 39 35 34 36 28 35 23 35 20 35 16 36 14 35 12 35 11 35 9 36 9 35 8 35 8 35 7 35 7 36 7 35 7"/>
<path d="M193 245l35 40 35 40 35 41 36 42 35 46 35 51 35 58 36 63 35 65 35 63 35 58 36 53 35 50 35 45 35 40 35 34 36 28 35 23 35 18 35 16 36 13 35 10 35 9 35 8 36 7 35 7 35 6 35 5 35 5 36 5 35 4"/>
<path d="M193 245l35 41 35 42 35 43 36 44 35 49 35 55 35 63 36 68 35 69 35 66 35 61 36 56 35 52 35 46 35 38 35 31 36 25 35 19 35 15 35 12 36 10 35 8 35 6 35 6 36 5 35 5 35 4 35 4 35 3 36 4 35 3"/>
<path d="M193 245l35 44 35 44 35 46 36 47 35 53 35 60 35 65 36 68 35 64 35 58 35 54 36 48 35 45 35 39 35 34 35 29 36 24 35 19 35 17 35 14 36 12 35 10 35 9 35 8 36 7 35 7 35 6 35 6 35 6 36 5 35 5"/>
<path d="M193 245l35 35 35 35 35 37 36 37 35 41 35 45 35 51 36 57 35 58 35 57 35 53 36 50 35 47 35 44 35 41 35 37 36 31 35 28 35 24 35 20 36 18 35 15 35 13 35 12 36 11 35 10 35 10 35 9 35 9 36 8 35 10"/>
<path d="M193 246l35 34 35 34 35 36 36 38 35 40 35 45 35 53 36 60 35 67 35 72 35 71 36 70 35 64 35 59 35 50 35 40 36 30 35 21 35 16 35 11 36 8 35 6 35 5 35 4 36 3 35 3 35 3 35 2 35 3 36 2 35 2"/>
<path d="M193 245l35 41 35 42 35 43 36 45 35 50 35 57 35 63 36 64 35 62 35 56 35 52 36 48 35 44 35 40 35 35 35 30 36 26 35 21 35 18 35 16 36 14 35 11 35 10 35 10 36 9 35 8 35 8 35 8 35 7 36 7 35 8"/>
<path d="M193 245l35 47 35 47 35 48 36 50 35 56 35 63 35 69 36 69 35 67 35 61 35 58 36 54 35 49 35 44 35 36 35 29 36 22 35 17 35 12 35 10 36 7 35 6 35 5 35 4 36 4 35 4 35 3 35 3 35 3 36 3 35 3"/>
<path d="M193 245l35 43 35 44 35 44 36 46 35 49 35 56 35 62 36 66 35 66 35 62 35 57 36 53 35 49 35 44 35 38 35 31 36 25 35 21 35 16 35 14 36 11 35 9 35 8 35 6 36 6 35 6 35 5 35 5 35 4 36 3 35 4"/>
<path d="M193 245l35 43 35 43 35 45 36 47 35 53 35 60 35 67 36 68 35 65 35 61 35 57 36 53 35 49 35 43 35 36 35 30 36 23 35 18 35 15 35 11 36 10 35 8 35 7 35 6 36 6 35 5 35 5 35 5 35 4 36 5 35 5"/>
<path d="M193 246l35 43 35 43 35 45 36 47 35 52 35 60 35 67 36 69 35 68 35 65 35 61 36 58 35 54 35 48 35 39 35 32 36 23 35 17 35 12 35 9 36 7 35 6 35 4 35 4 36 3 35 3 35 3 35 2 35 3 36 2 35 3"/>
<path d="M193 246l35 39 35 40 35 40 36 44 35 47 35 54 35 62 36 69 35 73 35 72 35 69 36 65 35 61 35 52 35 43 35 33 36 24 35 17 35 11 35 8 36 6 35 4 35 4 35 2 36 3 35 2 35 2 35 1 35 2 36 1 35 2"/>
<path d="M193 245l35 45 35 46 35 47 36 49 35 53 35 61 35 67 36 68 35 64 35 59 35 53 36 50 35 45 35 39 35 34 35 29 36 23 35 19 35 15 35 13 36 11 35 10 35 8 35 7 36 7 35 6 35 6 35 5 35 5 36 4 35 5"/>
<path d="M193 246l35 37 35 39 35 39 36 42 35 47 35 54 35 61 36 69 35 71 35 70 35 69 36 66 35 63 35 55 35 46 35 35 36 26 35 17 35 12 35 8 36 5 35 4 35 3 35 3 36 2 35 1 35 2 35 1 35 2 36 1 35 2"/>
<path d="M193 245l35 35 35 36 35 36 36 38 35 40 35 45 35 52 36 57 35 62 35 63 35 60 36 56 35 53 35 48 35 44 35 38 36 32 35 26 35 22 35 18 36 15 35 12 35 10 35 9 36 9 35 7 35 7 35 6 35 6 36 5 35 6"/>
<path d="M193 246l35 42 35 43 35 44 36 46 35 51 35 58 35 65 36 70 35 70 35 68 35 63 36 60 35 54 35 48 35 40 35 30 36 23 35 17 35 12 35 9 36 7 35 6 35 4 35 4 36 3 35 3 35 3 35 2 35 3 36 2 35 2"/>
<path d="M193 245l35 37 35 36 35 38 36 39 35 43 35 47 35 53 36 61 35 65 35 66 35 63 36 60 35 56 35 51 35 45 35 37 36 30 35 23 35 19 35 14 36 12 35 10 35 8 35 6 36 6 35 6 35 5 35 5 35 4 36 4 35 4"/>
</g>
<g fill="none" stroke="#ff0000" stroke-opacity="0.22" stroke-width="3.2">
<path d="M193 244l35 22 35 21 35 22 36 22 35 22 35 20 35 20 36 20 35 23 35 28 35 35 36 46 35 55 35 63 35 65 35 63 36 58 35 51 35 45 35 41 36 39 35 36 35 34 35 27 36 22 35 15 35 12 35 9 35 7 36 6 35 5"/>
<path d="M193 244l35 14 35 14 35 14 36 15 35 15 35 17 35 18 36 18 35 20 35 20 35 21 36 24 35 26 35 33 35 42 35 57 36 71 35 80 35 83 35 76 36 67 35 58 35 47 35 32 36 22 35 15 35 11 35 8 35 6 36 5 35 5"/>
<path d="M193 244l35 22 35 21 35 23 36 26 35 30 35 34 35 38 36 38 35 36 35 36 35 37 36 42 35 48 35 51 35 52 35 52 36 49 35 44 35 41 35 37 36 36 35 34 35 31 35 26 36 19 35 15 35 10 35 9 35 6 36 6 35 5"/>
<path d="M193 244l35 12 35 13 35 13 36 15 35 18 35 23 35 26 36 27 35 28 35 25 35 23 36 23 35 23 35 29 35 41 35 58 36 73 35 81 35 82 35 73 36 65 35 54 35 42 35 27 36 18 35 12 35 9 35 7 35 5 36 5 35 4"/>
<path d="M193 244l35 17 35 16 35 17 36 17 35 17 35 18 35 18 36 18 35 20 35 21 35 23 36 28 35 32 35 42 35 52 35 62 36 70 35 73 35 70 35 65 36 58 35 51 35 43 35 32 36 22 35 15 35 11 35 9 35 7 36 5 35 5"/>
<path d="M193 244l35 22 35 22 35 24 36 26 35 29 35 32 35 36 36 36 35 36 35 38 35 42 36 50 35 55 35 57 35 56 35 53 36 48 35 42 35 37 35 34 36 32 35 30 35 28 35 23 36 18 35 13 35 10 35 8 35 7 36 5 35 5"/>
<path d="M193 244l35 24 35 25 35 26 36 28 35 32 35 37 35 39 36 41 35 41 35 42 35 47 36 51 35 53 35 51 35 48 35 45 36 40 35 35 35 32 35 29 36 29 35 29 35 29 35 25 36 21 35 16 35 12 35 9 35 7 36 6 35 5"/>
<path d="M193 244l35 13 35 12 35 13 36 12 35 13 35 12 35 13 36 13 35 15 35 16 35 18 36 21 35 23 35 28 35 34 35 44 36 61 35 80 35 92 35 93 36 81 35 68 35 55 35 41 36 26 35 18 35 12 35 9 35 7 36 6 35 5"/>
<path d="M193 244l35 15 35 16 35 15 36 15 35 15 35 15 35 14 36 15 35 17 35 20 35 24 36 29 35 36 35 45 35 58 35 69 36 76 35 77 35 73 35 65 36 58 35 51 35 40 35 29 36 20 35 14 35 10 35 7 35 6 36 5 35 5"/>
<path d="M193 244l35 23 35 23 35 24 36 25 35 26 35 27 35 28 36 28 35 29 35 31 35 34 36 40 35 45 35 50 35 51 35 52 36 50 35 47 35 44 35 40 36 40 35 38 35 37 35 33 36 25 35 20 35 13 35 11 35 8 36 6 35 6"/>
<path d="M193 244l35 23 35 22 35 24 36 26 35 28 35 31 35 33 36 35 35 39 35 45 35 57 36 68 35 72 35 70 35 63 35 53 36 45 35 37 35 31 35 25 36 22 35 20 35 18 35 16 36 13 35 10 35 8 35 6 35 5 36 5 35 4"/>
<path d="M193 244l35 22 35 23 35 23 36 27 35 31 35 36 35 40 36 39 35 36 35 32 35 30 36 29 35 33 35 36 35 40 35 43 36 47 35 47 35 46 35 45 36 43 35 41 35 39 35 35 36 26 35 20 35 14 35 11 35 8 36 6 35 6"/>
<path d="M193 244l35 22 35 22 35 23 36 24 35 25 35 27 35 27 36 29 35 31 35 35 35 43 36 53 35 62 35 66 35 64 35 59 36 52 35 44 35 38 35 34 36 32 35 29 35 27 35 22 36 17 35 13 35 10 35 8 35 6 36 5 35 5"/>
<path d="M193 244l35 15 35 15 35 16 36 16 35 18 35 18 35 20 36 20 35 21 35 22 35 22 36 25 35 30 35 36 35 48 35 60 36 70 35 76 35 75 35 69 36 61 35 54 35 43 35 32 36 22 35 15 35 10 35 8 35 7 36 5 35 5"/>
<path d="M193 244l35 14 35 14 35 14 36 13 35 12 35 10 35 8 36 9 35 11 35 15 35 19 36 25 35 30 35 35 35 44 35 55 36 68 35 81 35 87 35 84 36 72 35 63 35 51 35 38 36 26 35 17 35 12 35 9 35 7 36 6 35 5"/>
<path d="M193 244l35 21 35 20 35 21 36 23 35 24 35 26 35 27 36 29 35 30 35 34 35 40 36 51 35 62 35 68 35 67 35 64 36 56 35 47 35 42 35 36 36 33 35 30 35 25 35 20 36 16 35 11 35 9 35 7 35 6 36 4 35 5"/>
<path d="M193 244l35 14 35 13 35 14 36 15 35 15 35 17 35 17 36 18 35 19 35 20 35 20 36 23 35 25 35 30 35 40 35 53 36 68 35 80 35 85 35 80 36 70 35 60 35 48 35 35 36 23 35 16 35 11 35 8 35 7 36 5 35 5"/>
<path d="M193 244l35 21 35 20 35 21 36 22 35 23 35 23 35 23 36 25 35 29 35 34 35 44 36 59 35 71 35 77 35 75 35 67 36 56 35 46 35 39 35 34 36 29 35 25 35 22 35 17 36 13 35 11 35 8 35 6 35 5 36 5 35 4"/>
</g>
<g fill="none" stroke="#00ffff" stroke-opacity="0.3" stroke-width="3.2">
<path d="M193 244l35 14 35 14 35 14 36 15 35 16 35 17 35 19 36 21 35 24 35 28 35 33 36 39 35 47 35 56 35 61 35 62 36 59 35 60 35 59 35 59 36 54 35 49 35 40 35 28 36 20 35 13 35 10 35 7 35 6 36 5 35 5"/>
<path d="M193 244l35 33 35 33 35 35 36 38 35 42 35 47 35 52 36 57 35 60 35 56 35 51 36 44 35 37 35 34 35 32 35 30 36 30 35 28 35 28 35 27 36 27 35 24 35 22 35 19 36 16 35 13 35 11 35 9 35 7 36 6 35 6"/>
<path d="M193 244l35 32 35 32 35 34 36 37 35 42 35 48 35 55 36 62 35 64 35 62 35 55 36 47 35 40 35 36 35 34 35 32 36 31 35 29 35 27 35 27 36 24 35 20 35 16 35 14 36 12 35 10 35 8 35 7 35 6 36 6 35 5"/>
<path d="M193 244l35 27 35 27 35 29 36 31 35 35 35 41 35 47 36 49 35 50 35 51 35 50 36 47 35 41 35 34 35 31 35 30 36 31 35 32 35 33 35 33 36 34 35 33 35 32 35 27 36 22 35 16 35 12 35 9 35 8 36 6 35 6"/>
<path d="M193 244l35 36 35 37 35 41 36 49 35 61 35 78 35 90 36 92 35 81 35 64 35 46 36 32 35 23 35 17 35 13 35 12 36 13 35 14 35 17 35 18 36 17 35 17 35 14 35 14 36 11 35 11 35 9 35 8 35 7 36 6 35 6"/>
<path d="M193 244l35 26 35 27 35 28 36 31 35 36 35 42 35 48 36 53 35 56 35 57 35 57 36 52 35 45 35 37 35 34 35 33 36 33 35 33 35 32 35 32 36 31 35 28 35 24 35 19 36 15 35 12 35 9 35 8 35 6 36 5 35 5"/>
<path d="M193 244l35 36 35 36 35 37 36 38 35 40 35 40 35 43 36 48 35 52 35 51 35 48 36 46 35 46 35 44 35 43 35 39 36 36 35 33 35 29 35 27 36 24 35 21 35 18 35 15 36 14 35 12 35 10 35 9 35 7 36 6 35 6"/>
<path d="M193 244l35 28 35 29 35 31 36 34 35 39 35 47 35 54 36 59 35 61 35 61 35 58 36 49 35 40 35 34 35 32 35 30 36 30 35 30 35 29 35 29 36 28 35 25 35 22 35 17 36 14 35 11 35 9 35 7 35 6 36 6 35 5"/>
<path d="M193 244l35 33 35 34 35 35 36 38 35 43 35 48 35 54 36 59 35 60 35 56 35 51 36 42 35 36 35 32 35 31 35 29 36 28 35 28 35 27 35 27 36 27 35 24 35 23 35 19 36 17 35 13 35 11 35 9 35 8 36 6 35 6"/>
<path d="M193 244l35 32 35 33 35 35 36 39 35 47 35 55 35 64 36 70 35 70 35 65 35 55 36 44 35 36 35 32 35 28 35 27 36 25 35 26 35 25 35 24 36 22 35 19 35 15 35 13 36 11 35 10 35 8 35 7 35 6 36 6 35 5"/>
<path d="M193 244l35 34 35 34 35 35 36 37 35 39 35 41 35 44 36 47 35 50 35 50 35 46 36 42 35 37 35 36 35 33 35 33 36 32 35 31 35 30 35 29 36 29 35 29 35 27 35 25 36 21 35 17 35 13 35 11 35 8 36 7 35 7"/>
<path d="M193 244l35 27 35 27 35 29 36 30 35 35 35 41 35 45 36 48 35 50 35 53 35 51 36 49 35 42 35 36 35 33 35 32 36 33 35 33 35 33 35 33 36 33 35 33 35 30 35 25 36 19 35 15 35 11 35 9 35 7 36 6 35 6"/>
<path d="M193 244l35 29 35 30 35 30 36 32 35 35 35 38 35 42 36 45 35 47 35 49 35 48 36 46 35 40 35 36 35 33 35 34 36 33 35 33 35 33 35 33 36 33 35 33 35 32 35 27 36 22 35 17 35 13 35 10 35 8 36 7 35 6"/>
<path d="M193 244l35 33 35 34 35 36 36 40 35 45 35 54 35 62 36 68 35 69 35 63 35 54 36 43 35 38 35 33 35 31 35 28 36 27 35 26 35 26 35 24 36 21 35 18 35 15 35 13 36 11 35 9 35 9 35 7 35 6 36 6 35 5"/>
<path d="M193 244l35 33 35 33 35 35 36 35 35 36 35 37 35 39 36 45 35 51 35 54 35 53 36 52 35 51 35 52 35 49 35 45 36 41 35 36 35 32 35 27 36 23 35 18 35 14 35 12 36 11 35 9 35 8 35 7 35 6 36 5 35 5"/>
<path d="M193 244l35 15 35 14 35 15 36 15 35 15 35 15 35 16 36 17 35 20 35 24 35 28 36 33 35 41 35 49 35 57 35 62 36 62 35 61 35 62 35 62 36 59 35 53 35 45 35 35 36 24 35 16 35 12 35 9 35 7 36 5 35 6"/>
<path d="M193 244l35 23 35 24 35 23 36 25 35 26 35 27 35 28 36 33 35 36 35 44 35 50 36 55 35 55 35 53 35 49 35 49 36 47 35 44 35 42 35 39 36 37 35 34 35 28 35 22 36 16 35 12 35 10 35 7 35 6 36 5 35 5"/>
<path d="M193 244l35 13 35 12 35 13 36 13 35 14 35 14 35 15 36 16 35 18 35 21 35 23 36 28 35 33 35 39 35 49 35 59 36 65 35 67 35 66 35 68 36 66 35 59 35 52 35 41 36 28 35 19 35 13 35 10 35 8 36 6 35 6"/>
</g>
<g fill="none" stroke="#bebebe" stroke-opacity="0.25" stroke-width="2.8">
<path d="M193 244l16 51 17 49 16 52 17 55 17 59 16 60 17 60 16 58 17 56 16 54 17 50 16 46 17 46 16 46 17 46 17 41 16 34 17 24 16 13 17 7 16 4 17 4 16 3 17 2 16 1 17-1 17-2 16-2 17-1 16-1 17 1 16 1 17 2 16 2 17 2 16 1 50 4 50 4 49 4 50 3 50 3 49 3 50 3 50 2 49 2 50 3"/>
<path d="M193 244l16 49 17 44 16 40 17 32 17 26 16 24 17 34 16 51 17 73 16 97 17 117 16 114 17 82 16 49 17 21 17-1 16-10 17-8 16 1 17 9 16 14 17 16 16 15 17 10 16 6 17 4 17 4 16 3 17 3 16 3 17 0 16 0 17-2 16-3 17-1 16 0 50 8 50 7 49 4 50 3 50 3 49 3 50 3 50 2 49 2 50 3"/>
<path d="M193 244l16 51 17 54 16 59 17 64 17 65 16 62 17 56 16 53 17 52 16 51 17 49 16 45 17 47 16 48 17 48 17 45 16 37 17 25 16 12 17 3 16-2 17-3 16-3 17-1 16 0 17 1 17 1 16 1 17 1 16 0 17 0 16 0 17 0 16 1 17 0 16 1 50 4 50 5 49 3 50 3 50 3 49 3 50 3 50 2 49 2 50 3"/>
<path d="M193 244l16 50 17 48 16 44 17 40 17 38 16 41 17 47 16 56 17 66 16 71 17 69 16 63 17 56 16 51 17 46 17 40 16 32 17 22 16 12 17 5 16 2 17 1 16 1 17 2 16 1 17 2 17 2 16 1 17 2 16 1 17 2 16 2 17 2 16 2 17 1 16 1 50 4 50 4 49 4 50 4 50 3 49 3 50 3 50 2 49 2 50 3"/>
<path d="M193 244l16 49 17 42 16 33 17 28 17 30 16 39 17 50 16 64 17 78 16 85 17 83 16 71 17 58 16 47 17 37 17 29 16 21 17 14 16 6 17 4 16 4 17 6 16 7 17 8 16 8 17 6 17 5 16 2 17 2 16 0 17 0 16 0 17 1 16 0 17 1 16 1 50 6 50 5 49 5 50 3 50 3 49 3 50 3 50 2 49 2 50 3"/>
<path d="M193 244l16 51 17 47 16 41 17 34 17 29 16 33 17 41 16 53 17 64 16 73 17 72 16 67 17 61 16 55 17 49 17 41 16 33 17 22 16 12 17 5 16 4 17 2 16 3 17 3 16 3 17 3 17 3 16 2 17 2 16 2 17 2 16 2 17 2 16 2 17 1 16 2 50 5 50 4 49 4 50 4 50 3 49 3 50 3 50 2 49 2 50 3"/>
<path d="M193 244l16 52 17 53 16 55 17 52 17 48 16 45 17 46 16 52 17 62 16 68 17 66 16 61 17 53 16 48 17 41 17 34 16 27 17 18 16 10 17 5 16 4 17 4 16 5 17 5 16 4 17 2 17 0 16 0 17-2 16-1 17-1 16 0 17 1 16 1 17 2 16 2 50 5 50 4 49 3 50 4 50 3 49 3 50 3 50 2 49 2 50 3"/>
<path d="M193 244l16 52 17 56 16 57 17 53 17 46 16 41 17 46 16 58 17 73 16 80 17 73 16 56 17 41 16 30 17 27 17 28 16 31 17 30 16 22 17 15 16 7 17 1 16-3 17-3 16-3 17 0 17 1 16 2 17 2 16 0 17 0 16 0 17-1 16 1 17 1 16 2 50 6 50 3 49 3 50 4 50 3 49 3 50 3 50 2 49 2 50 3"/>
<path d="M193 244l16 54 17 64 16 59 17 40 17 17 16 14 17 31 16 60 17 87 16 106 17 99 16 73 17 44 16 23 17 12 17 14 16 20 17 24 16 25 17 22 16 18 17 12 16 5 17-1 16-3 17-4 17-4 16-2 17 0 16 1 17 3 16 3 17 2 16 3 17 1 16 1 50 3 50 4 49 5 50 3 50 3 49 3 50 3 50 2 49 2 50 3"/>
<path d="M193 244l16 53 17 61 16 71 17 72 17 67 16 56 17 46 16 39 17 37 16 39 17 41 16 44 17 48 16 55 17 57 17 55 16 47 17 34 16 18 17 5 16-1 17-7 16-8 17-7 16-6 17-4 17-2 16 0 17 2 16 3 17 3 16 3 17 2 16 2 17 1 16 0 50 2 50 2 49 4 50 4 50 3 49 3 50 3 50 2 49 2 50 3"/>
</g>
<g fill="none" stroke="#8000ff" stroke-opacity="0.3" stroke-width="3.2">
<path d="M193 245l35 42 35 43 35 43 36 45 35 49 35 55 35 61 36 66 35 67 35 64 35 59 36 56 35 51 35 46 35 39 35 32 36 26 35 20 35 15 35 13 36 10 35 8 35 7 35 6 36 6 35 5 35 4 35 4 35 4 36 4 35 3"/>
<path d="M193 245l35 42 35 42 35 42 36 45 35 48 35 53 35 60 36 65 35 66 35 63 35 59 36 55 35 52 35 46 35 40 35 33 36 27 35 21 35 16 35 13 36 11 35 9 35 7 35 6 36 6 35 5 35 5 35 4 35 4 36 4 35 4"/>
<path d="M193 246l35 33 35 34 35 36 36 38 35 41 35 48 35 56 36 64 35 70 35 72 35 69 36 67 35 62 35 56 35 47 35 37 36 28 35 20 35 15 35 11 36 8 35 7 35 5 35 5 36 4 35 3 35 4 35 3 35 3 36 2 35 4"/>
<path d="M193 245l35 35 35 36 35 36 36 38 35 39 35 44 35 48 36 55 35 59 35 60 35 58 36 54 35 51 35 48 35 43 35 39 36 34 35 29 35 24 35 20 36 17 35 14 35 12 35 10 36 9 35 9 35 7 35 7 35 6 36 6 35 6"/>
<path d="M193 245l35 38 35 38 35 39 36 41 35 44 35 49 35 55 36 61 35 64 35 62 35 59 36 55 35 51 35 48 35 41 35 36 36 29 35 24 35 19 35 16 36 14 35 11 35 9 35 8 36 8 35 6 35 7 35 5 35 6 36 5 35 5"/>
<path d="M193 245l35 42 35 42 35 43 36 44 35 49 35 54 35 61 36 65 35 66 35 64 35 60 36 55 35 52 35 46 35 40 35 32 36 26 35 21 35 16 35 12 36 11 35 8 35 8 35 6 36 5 35 5 35 5 35 4 35 4 36 3 35 4"/>
<path d="M193 246l35 39 35 39 35 41 36 43 35 47 35 53 35 61 36 68 35 71 35 71 35 67 36 64 35 60 35 53 35 44 35 34 36 25 35 17 35 13 35 9 36 6 35 5 35 4 35 3 36 3 35 2 35 2 35 2 35 2 36 2 35 2"/>
<path d="M193 245l35 50 35 51 35 52 36 55 35 61 35 68 35 71 36 69 35 62 35 55 35 50 36 45 35 40 35 34 35 29 35 25 36 21 35 16 35 15 35 12 36 11 35 9 35 7 35 8 36 6 35 6 35 6 35 5 35 5 36 5 35 4"/>
<path d="M193 245l35 38 35 39 35 40 36 42 35 45 35 53 35 60 36 66 35 68 35 65 35 62 36 58 35 54 35 49 35 41 35 34 36 26 35 20 35 16 35 13 36 10 35 8 35 7 35 6 36 6 35 5 35 5 35 4 35 4 36 4 35 5"/>
<path d="M193 245l35 49 35 48 35 50 36 52 35 56 35 63 35 68 36 66 35 63 35 55 35 51 36 47 35 42 35 38 35 32 35 27 36 23 35 19 35 16 35 13 36 11 35 10 35 8 35 8 36 7 35 6 35 6 35 5 35 5 36 5 35 4"/>
<path d="M193 245l35 38 35 37 35 39 36 42 35 45 35 53 35 61 36 68 35 73 35 71 35 68 36 64 35 59 35 52 35 42 35 33 36 25 35 18 35 13 35 10 36 7 35 6 35 5 35 4 36 3 35 4 35 3 35 2 35 3 36 2 35 3"/>
<path d="M193 245l35 40 35 40 35 41 36 43 35 47 35 53 35 60 36 64 35 66 35 64 35 61 36 58 35 55 35 49 35 43 35 34 36 27 35 21 35 15 35 13 36 9 35 8 35 7 35 5 36 5 35 5 35 4 35 4 35 4 36 4 35 4"/>
<path d="M193 246l35 37 35 38 35 39 36 41 35 46 35 52 35 61 36 69 35 74 35 74 35 71 36 68 35 62 35 56 35 44 35 34 36 25 35 16 35 12 35 7 36 6 35 4 35 3 35 2 36 2 35 2 35 1 35 2 35 1 36 1 35 2"/>
<path d="M193 245l35 39 35 39 35 40 36 42 35 44 35 50 35 56 36 62 35 68 35 69 35 67 36 63 35 59 35 53 35 45 35 36 36 28 35 21 35 15 35 11 36 9 35 7 35 5 35 5 36 4 35 3 35 3 35 3 35 2 36 3 35 2"/>
<path d="M193 245l35 39 35 39 35 41 36 42 35 46 35 52 35 59 36 63 35 64 35 63 35 60 36 59 35 55 35 50 35 44 35 35 36 28 35 22 35 16 35 13 36 10 35 8 35 7 35 6 36 5 35 5 35 5 35 4 35 4 36 4 35 5"/>
<path d="M193 245l35 44 35 45 35 45 36 47 35 52 35 58 35 66 36 70 35 69 35 66 35 60 36 56 35 50 35 45 35 37 35 29 36 23 35 17 35 14 35 11 36 8 35 7 35 6 35 4 36 5 35 4 35 4 35 3 35 3 36 2 35 3"/>
<path d="M193 246l35 37 35 39 35 39 36 41 35 45 35 50 35 58 36 65 35 70 35 72 35 68 36 64 35 60 35 53 35 45 35 35 36 27 35 19 35 14 35 10 36 8 35 6 35 4 35 4 36 4 35 3 35 3 35 2 35 3 36 2 35 2"/>
<path d="M193 246l35 38 35 39 35 40 36 42 35 45 35 51 35 59 36 64 35 66 35 66 35 64 36 61 35 58 35 52 35 44 35 36 36 28 35 21 35 15 35 11 36 9 35 7 35 6 35 5 36 4 35 4 35 4 35 3 35 3 36 3 35 4"/>
</g>
<g fill="none" stroke="#bebebe" stroke-opacity="0.25" stroke-width="2.8">
<path d="M193 244l16 49 17 43 16 39 17 41 17 50 16 61 17 74 16 83 17 90 16 85 17 72 16 55 17 41 16 31 17 23 17 18 16 13 17 9 16 5 17 3 16 5 17 6 16 7 17 8 16 6 17 5 17 3 16 2 17-1 16-1 17-1 16-1 17-1 16 0 17 0 16 0 50 4 50 5 49 4 50 3 50 3 49 3 50 3 50 2 49 2 50 3"/>
<path d="M193 244l16 51 17 49 16 50 17 52 17 55 16 60 17 65 16 69 17 73 16 71 17 60 16 47 17 37 16 30 17 26 17 26 16 24 17 22 16 16 17 13 16 13 17 10 16 8 17 4 16 2 17-2 17-3 16-5 17-5 16-3 17-2 16 0 17 2 16 2 17 3 16 3 50 6 50 3 49 2 50 4 50 3 49 3 50 3 50 2 49 2 50 3"/>
<path d="M193 244l16 51 17 54 16 61 17 70 17 75 16 74 17 67 16 56 17 45 16 32 17 20 16 22 17 34 16 52 17 67 17 72 16 61 17 41 16 0 17 0 16-6 17-24 16-19 17-11 16 0 17 7 17 11 16 11 17 8 16 4 17-1 16-4 17-5 16-5 17-2 16 0 50 8 50 8 49 1 50 2 50 4 49 3 50 3 50 2 49 2 50 3"/>
<path d="M193 244l16 53 17 59 16 63 17 58 17 47 16 36 17 31 16 36 17 52 16 65 17 73 16 74 17 70 16 62 17 50 17 36 16 23 17 11 16-1 17-4 16-1 17 1 16 6 17 7 16 7 17 6 17 3 16 1 17-2 16-2 17-2 16-1 17-1 16 1 17 2 16 2 50 7 50 4 49 2 50 4 50 3 49 3 50 3 50 2 49 2 50 3"/>
<path d="M193 244l16 51 17 50 16 53 17 54 17 58 16 59 17 60 16 62 17 64 16 62 17 54 16 45 17 40 16 38 17 38 17 37 16 33 17 27 16 18 17 10 16 6 17 3 16 1 17-1 16-1 17-2 17-2 16-1 17-1 16 0 17 1 16 2 17 1 16 2 17 1 16 2 50 3 50 4 49 4 50 3 50 3 49 3 50 3 50 2 49 2 50 3"/>
<path d="M193 244l16 49 17 39 16 26 17 16 17 19 16 32 17 44 16 56 17 68 16 77 17 80 16 80 17 78 16 69 17 57 17 43 16 29 17 15 16 2 17-5 16-5 17-3 16-1 17 3 16 6 17 7 17 7 16 7 17 7 16 6 17 5 16 3 17 3 16 1 17 1 16 1 50 2 50 4 49 5 50 5 50 3 49 3 50 3 50 2 49 2 50 3"/>
<path d="M193 244l16 52 17 59 16 65 17 64 17 58 16 51 17 49 16 53 17 59 16 63 17 56 16 45 17 36 16 34 17 36 17 39 16 39 17 34 16 24 17 13 16 6 17-1 16-4 17-4 16-3 17-3 17-1 16-1 17-1 16-1 17 0 16 1 17 1 16 2 17 2 16 2 50 5 50 2 49 4 50 3 50 3 49 3 50 3 50 2 49 2 50 3"/>
<path d="M193 244l16 50 17 52 16 67 17 91 17 104 16 92 17 75 16 67 17 65 16 60 17 45 16 18 17-7 16-13 17 3 17 26 16 41 17 50 16 45 17 23 16 0 17 0 16 0 17 0 16 0 17 0 17-8 16-16 17-12 16-6 17-1 16 2 17 5 16 5 17 5 16 3 50 4 50-1 49 0 50 4 50 4 49 3 50 2 50 2 49 2 50 3"/>
<path d="M193 244l16 51 17 53 16 50 17 45 17 38 16 37 17 41 16 53 17 69 16 82 17 84 16 77 17 66 16 53 17 38 17 26 16 13 17 3 16-4 17-5 16 1 17 5 16 10 17 13 16 12 17 11 17 6 16 3 17-2 16-3 17-4 16-3 17-3 16-1 17 0 16 2 50 9 50 6 49 3 50 3 50 3 49 3 50 3 50 2 49 2 50 3"/>
<path d="M193 244l16 51 17 59 16 72 17 76 17 68 16 58 17 58 16 71 17 87 16 89 17 74 16 53 17 33 16 8 17-19 17-22 16 1 17 26 16 41 17 45 16 25 17 0 16 0 17 0 16 0 17-11 17-12 16-7 17-2 16 0 17 1 16 0 17-1 16 0 17 1 16 2 50 7 50 2 49 0 50 4 50 4 49 2 50 3 50 2 49 2 50 3"/>
</g>
<g fill="none" stroke="#80ff00" stroke-opacity="0.3" stroke-width="3.2">
<path d="M193 244l35 20 35 20 35 19 36 20 35 18 35 16 35 15 36 16 35 19 35 24 35 33 36 43 35 53 35 64 35 68 35 66 36 61 35 55 35 49 35 44 36 39 35 37 35 33 35 30 36 25 35 20 35 15 35 11 35 9 36 6 35 6"/>
<path d="M193 244l35 16 35 16 35 16 36 16 35 16 35 17 35 18 36 17 35 18 35 18 35 19 36 22 35 27 35 33 35 43 35 54 36 65 35 69 35 71 35 68 36 66 35 60 35 50 35 40 36 30 35 21 35 16 35 12 35 8 36 6 35 6"/>
<path d="M193 244l35 18 35 17 35 18 36 19 35 20 35 22 35 23 36 24 35 22 35 23 35 24 36 29 35 36 35 46 35 57 35 64 36 65 35 63 35 59 35 54 36 51 35 44 35 38 35 31 36 25 35 19 35 14 35 10 35 8 36 6 35 5"/>
<path d="M193 244l35 14 35 13 35 13 36 14 35 14 35 14 35 14 36 15 35 16 35 18 35 19 36 23 35 27 35 36 35 46 35 60 36 73 35 80 35 79 35 75 36 70 35 59 35 47 35 34 36 25 35 17 35 13 35 9 35 7 36 5 35 5"/>
<path d="M193 244l35 15 35 15 35 16 36 15 35 17 35 16 35 17 36 18 35 19 35 19 35 22 36 26 35 34 35 44 35 56 35 69 36 74 35 73 35 69 35 64 36 58 35 49 35 40 35 31 36 23 35 16 35 13 35 9 35 7 36 5 35 5"/>
<path d="M193 244l35 18 35 17 35 19 36 21 35 25 35 30 35 33 36 33 35 28 35 24 35 22 36 22 35 26 35 36 35 47 35 58 36 61 35 60 35 58 35 56 36 52 35 46 35 40 35 33 36 25 35 20 35 14 35 11 35 7 36 6 35 6"/>
<path d="M193 244l35 16 35 16 35 16 36 15 35 16 35 15 35 15 36 16 35 17 35 19 35 22 36 28 35 36 35 45 35 58 35 67 36 73 35 70 35 67 35 63 36 57 35 50 35 41 35 32 36 25 35 18 35 13 35 10 35 7 36 6 35 5"/>
<path d="M193 244l35 15 35 16 35 14 36 15 35 13 35 12 35 11 36 11 35 14 35 18 35 23 36 30 35 39 35 49 35 61 35 72 36 76 35 74 35 69 35 65 36 57 35 50 35 40 35 31 36 23 35 17 35 12 35 10 35 6 36 6 35 5"/>
<path d="M193 244l35 20 35 19 35 20 36 18 35 17 35 15 35 13 36 13 35 15 35 20 35 26 36 32 35 40 35 47 35 53 35 57 36 58 35 56 35 55 35 53 36 52 35 50 35 46 35 41 36 34 35 26 35 20 35 14 35 10 36 8 35 6"/>
<path d="M193 244l35 19 35 19 35 19 36 19 35 18 35 16 35 17 36 16 35 18 35 23 35 29 36 37 35 47 35 56 35 65 35 65 36 63 35 58 35 54 35 49 36 45 35 41 35 36 35 32 36 26 35 20 35 15 35 12 35 8 36 6 35 6"/>
<path d="M193 244l35 14 35 14 35 15 36 16 35 18 35 20 35 23 36 23 35 23 35 21 35 20 36 22 35 27 35 38 35 51 35 66 36 75 35 75 35 72 35 67 36 60 35 51 35 40 35 30 36 21 35 16 35 11 35 9 35 6 36 5 35 5"/>
<path d="M193 244l35 22 35 22 35 23 36 25 35 28 35 33 35 34 36 35 35 35 35 37 35 41 36 47 35 53 35 56 35 55 35 52 36 48 35 43 35 37 35 32 36 28 35 27 35 27 35 26 36 23 35 19 35 14 35 12 35 8 36 6 35 6"/>
<path d="M193 244l35 20 35 20 35 20 36 19 35 18 35 15 35 14 36 15 35 17 35 22 35 30 36 39 35 47 35 57 35 61 35 62 36 59 35 55 35 50 35 47 36 45 35 42 35 39 35 36 36 29 35 23 35 18 35 12 35 10 36 7 35 6"/>
<path d="M193 244l35 22 35 21 35 22 36 21 35 21 35 21 35 20 36 21 35 24 35 30 35 38 36 47 35 57 35 64 35 64 35 60 36 53 35 48 35 42 35 37 36 33 35 32 35 31 35 29 36 26 35 20 35 16 35 12 35 9 36 7 35 6"/>
<path d="M193 244l35 19 35 19 35 18 36 19 35 19 35 18 35 19 36 18 35 17 35 19 35 21 36 24 35 29 35 35 35 41 35 50 36 55 35 59 35 60 35 60 36 59 35 57 35 52 35 44 36 36 35 28 35 20 35 15 35 10 36 8 35 6"/>
<path d="M193 244l35 21 35 20 35 20 36 18 35 17 35 14 35 11 36 12 35 17 35 23 35 32 36 43 35 53 35 63 35 66 35 64 36 60 35 54 35 48 35 45 36 42 35 39 35 37 35 33 36 28 35 22 35 17 35 13 35 9 36 7 35 6"/>
<path d="M193 244l35 14 35 13 35 14 36 13 35 12 35 10 35 10 36 10 35 12 35 17 35 20 36 27 35 33 35 42 35 52 35 66 36 76 35 80 35 77 35 74 36 67 35 57 35 44 35 34 36 24 35 17 35 13 35 9 35 7 36 5 35 5"/>
<path d="M193 244l35 17 35 17 35 17 36 18 35 20 35 21 35 23 36 22 35 21 35 18 35 18 36 19 35 23 35 29 35 38 35 48 36 58 35 65 35 66 35 66 36 64 35 61 35 52 35 43 36 33 35 24 35 18 35 13 35 9 36 7 35 6"/>
</g>
<g fill="none" stroke="#00ffff" stroke-opacity="0.3" stroke-width="3.2">
<path d="M193 244l35 32 35 32 35 32 36 34 35 33 35 32 35 34 36 39 35 46 35 52 35 53 36 52 35 53 35 54 35 52 35 48 36 44 35 38 35 34 35 30 36 26 35 21 35 16 35 14 36 11 35 10 35 8 35 7 35 6 36 6 35 5"/>
<path d="M193 244l35 29 35 30 35 32 36 37 35 43 35 53 35 61 36 69 35 73 35 71 35 62 36 50 35 43 35 37 35 34 35 31 36 29 35 29 35 26 35 24 36 18 35 14 35 11 35 9 36 8 35 6 35 6 35 6 35 4 36 5 35 4"/>
<path d="M193 244l35 28 35 27 35 28 36 29 35 29 35 29 35 30 36 32 35 38 35 43 35 48 36 50 35 48 35 46 35 45 35 44 36 43 35 40 35 39 35 37 36 35 35 33 35 31 35 26 36 20 35 16 35 11 35 10 35 7 36 6 35 6"/>
<path d="M193 244l35 29 35 30 35 32 36 35 35 40 35 49 35 55 36 60 35 64 35 62 35 58 36 48 35 40 35 35 35 32 35 30 36 30 35 29 35 29 35 28 36 26 35 23 35 19 35 16 36 12 35 11 35 8 35 8 35 6 36 5 35 5"/>
<path d="M193 244l35 35 35 35 35 36 36 37 35 39 35 41 35 43 36 49 35 52 35 53 35 50 36 46 35 44 35 44 35 41 35 39 36 36 35 33 35 29 35 28 36 25 35 21 35 19 35 16 36 14 35 12 35 10 35 8 35 7 36 6 35 6"/>
<path d="M193 244l35 24 35 24 35 25 36 27 35 30 35 34 35 39 36 43 35 45 35 50 35 53 36 54 35 50 35 44 35 40 35 39 36 39 35 38 35 38 35 36 36 35 35 33 35 28 35 23 36 16 35 13 35 10 35 7 35 7 36 5 35 5"/>
<path d="M193 244l35 28 35 28 35 30 36 31 35 34 35 38 35 42 36 46 35 51 35 54 35 55 36 52 35 45 35 42 35 40 35 38 36 38 35 35 35 34 35 32 36 30 35 28 35 23 35 19 36 15 35 12 35 9 35 8 35 6 36 6 35 5"/>
<path d="M193 244l35 32 35 33 35 33 36 35 35 37 35 40 35 43 36 48 35 52 35 54 35 51 36 47 35 43 35 41 35 39 35 38 36 35 35 33 35 31 35 30 36 28 35 25 35 22 35 18 36 16 35 12 35 11 35 8 35 7 36 6 35 6"/>
<path d="M193 244l35 33 35 33 35 34 36 35 35 38 35 42 35 44 36 48 35 52 35 52 35 49 36 44 35 39 35 36 35 36 35 33 36 33 35 32 35 30 35 30 36 28 35 28 35 26 35 23 36 18 35 16 35 12 35 9 35 8 36 7 35 6"/>
<path d="M193 244l35 34 35 35 35 36 36 38 35 40 35 44 35 48 36 55 35 59 35 57 35 53 36 48 35 47 35 44 35 42 35 38 36 36 35 31 35 29 35 26 36 21 35 16 35 14 35 12 36 10 35 9 35 8 35 7 35 6 36 6 35 5"/>
<path d="M193 244l35 22 35 22 35 23 36 25 35 26 35 29 35 33 36 37 35 42 35 50 35 58 36 61 35 59 35 53 35 52 35 50 36 48 35 44 35 40 35 38 36 33 35 27 35 20 35 15 36 12 35 9 35 7 35 6 35 4 36 5 35 4"/>
<path d="M193 244l35 27 35 26 35 28 36 28 35 31 35 34 35 37 36 40 35 44 35 49 35 51 36 51 35 48 35 43 35 41 35 40 36 39 35 38 35 37 35 35 36 34 35 33 35 28 35 23 36 18 35 14 35 11 35 8 35 7 36 5 35 6"/>
<path d="M193 244l35 32 35 33 35 34 36 38 35 42 35 50 35 55 36 60 35 62 35 58 35 52 36 43 35 35 35 32 35 29 35 28 36 27 35 28 35 27 35 27 36 27 35 25 35 23 35 19 36 16 35 13 35 11 35 9 35 7 36 6 35 6"/>
<path d="M193 244l35 31 35 30 35 31 36 32 35 32 35 33 35 34 36 37 35 41 35 45 35 46 36 46 35 43 35 41 35 39 35 39 36 37 35 37 35 35 35 34 36 33 35 33 35 32 35 28 36 22 35 18 35 13 35 11 35 8 36 7 35 6"/>
<path d="M193 244l35 39 35 40 35 42 36 45 35 47 35 51 35 56 36 59 35 58 35 52 35 48 36 46 35 44 35 41 35 38 35 34 36 31 35 28 35 24 35 21 36 17 35 15 35 12 35 10 36 10 35 10 35 9 35 8 35 7 36 6 35 6"/>
<path d="M193 244l35 16 35 15 35 16 36 16 35 16 35 15 35 16 36 17 35 20 35 25 35 30 36 37 35 45 35 54 35 60 35 63 36 60 35 60 35 60 35 59 36 55 35 50 35 43 35 32 36 22 35 15 35 11 35 8 35 7 36 6 35 5"/>
<path d="M193 244l35 28 35 29 35 29 36 31 35 33 35 36 35 38 36 42 35 47 35 50 35 51 36 49 35 44 35 41 35 39 35 39 36 37 35 36 35 35 35 33 36 33 35 31 35 28 35 23 36 19 35 14 35 11 35 9 35 7 36 6 35 6"/>
<path d="M193 244l35 30 35 30 35 32 36 32 35 36 35 38 35 41 36 45 35 49 35 50 35 50 36 46 35 42 35 37 35 37 35 35 36 34 35 34 35 33 35 32 36 32 35 30 35 28 35 25 36 19 35 16 35 12 35 9 35 8 36 6 35 6"/>
</g>
<g fill="none" stroke="#ff0000" stroke-opacity="0.22" stroke-width="3.2">
<path d="M193 244l35 13 35 13 35 14 36 14 35 15 35 17 35 19 36 19 35 18 35 18 35 17 36 16 35 18 35 19 35 25 35 34 36 51 35 71 35 89 35 95 36 86 35 72 35 60 35 46 36 31 35 20 35 14 35 11 35 7 36 6 35 6"/>
<path d="M193 244l35 21 35 21 35 22 36 22 35 23 35 23 35 23 36 25 35 26 35 31 35 37 36 47 35 57 35 64 35 67 35 63 36 57 35 50 35 44 35 39 36 37 35 34 35 30 35 24 36 18 35 14 35 10 35 8 35 7 36 5 35 5"/>
<path d="M193 244l35 22 35 21 35 23 36 24 35 26 35 27 35 28 36 30 35 32 35 37 35 45 36 55 35 65 35 67 35 66 35 59 36 52 35 43 35 37 35 33 36 30 35 28 35 24 35 20 36 16 35 12 35 9 35 8 35 5 36 5 35 5"/>
<path d="M193 244l35 22 35 22 35 22 36 24 35 26 35 27 35 29 36 29 35 31 35 34 35 40 36 48 35 56 35 60 35 62 35 58 36 52 35 46 35 41 35 36 36 35 35 32 35 30 35 24 36 18 35 14 35 11 35 8 35 7 36 5 35 5"/>
<path d="M193 244l35 23 35 23 35 24 36 26 35 27 35 29 35 30 36 32 35 33 35 37 35 44 36 52 35 58 35 60 35 59 35 54 36 48 35 41 35 36 35 33 36 31 35 30 35 29 35 24 36 20 35 14 35 11 35 9 35 6 36 6 35 5"/>
<path d="M193 244l35 11 35 10 35 12 36 12 35 16 35 19 35 22 36 24 35 22 35 21 35 18 36 16 35 15 35 17 35 21 35 32 36 50 35 75 35 95 35 102 36 89 35 73 35 59 35 42 36 26 35 17 35 12 35 9 35 6 36 6 35 5"/>
<path d="M193 244l35 22 35 21 35 22 36 22 35 22 35 22 35 21 36 22 35 26 35 31 35 38 36 51 35 61 35 68 35 69 35 64 36 57 35 49 35 42 35 38 36 34 35 33 35 29 35 23 36 19 35 13 35 10 35 8 35 7 36 5 35 5"/>
<path d="M193 244l35 18 35 18 35 18 36 19 35 19 35 20 35 19 36 21 35 23 35 28 35 36 36 47 35 62 35 75 35 80 35 76 36 68 35 57 35 49 35 42 36 37 35 30 35 24 35 18 36 13 35 10 35 8 35 6 35 5 36 4 35 4"/>
<path d="M193 244l35 15 35 15 35 15 36 15 35 17 35 17 35 17 36 19 35 19 35 20 35 22 36 23 35 28 35 33 35 44 35 56 36 70 35 77 35 80 35 74 36 65 35 57 35 46 35 34 36 24 35 15 35 12 35 8 35 7 36 5 35 5"/>
<path d="M193 244l35 11 35 10 35 11 36 10 35 9 35 7 35 6 36 6 35 10 35 14 35 20 36 26 35 34 35 41 35 50 35 67 36 83 35 95 35 95 35 85 36 72 35 60 35 44 35 29 36 18 35 12 35 9 35 6 35 5 36 5 35 4"/>
<path d="M193 244l35 19 35 18 35 19 36 19 35 19 35 19 35 18 36 19 35 22 35 27 35 33 36 44 35 59 35 70 35 75 35 75 36 67 35 58 35 50 35 45 36 39 35 34 35 28 35 21 36 16 35 11 35 9 35 6 35 6 36 4 35 5"/>
<path d="M193 244l35 24 35 25 35 25 36 26 35 27 35 28 35 27 36 29 35 32 35 37 35 44 36 52 35 57 35 58 35 56 35 51 36 46 35 40 35 34 35 33 36 31 35 31 35 31 35 28 36 23 35 17 35 13 35 10 35 7 36 6 35 6"/>
<path d="M193 244l35 12 35 12 35 12 36 13 35 15 35 17 35 19 36 20 35 20 35 20 35 19 36 19 35 21 35 24 35 31 35 44 36 62 35 82 35 92 35 91 36 78 35 66 35 53 35 37 36 24 35 15 35 11 35 8 35 7 36 5 35 5"/>
<path d="M193 244l35 16 35 15 35 16 36 16 35 16 35 15 35 15 36 16 35 17 35 19 35 21 36 25 35 30 35 36 35 46 35 57 36 69 35 76 35 77 35 73 36 64 35 56 35 48 35 35 36 25 35 16 35 12 35 9 35 7 36 6 35 5"/>
<path d="M193 244l35 17 35 17 35 18 36 18 35 21 35 22 35 24 36 25 35 24 35 25 35 26 36 28 35 34 35 44 35 55 35 63 36 68 35 67 35 64 35 58 36 52 35 47 35 39 35 29 36 20 35 14 35 11 35 8 35 6 36 5 35 5"/>
<path d="M193 244l35 18 35 17 35 17 36 17 35 16 35 14 35 12 36 13 35 16 35 20 35 26 36 33 35 43 35 53 35 64 35 71 36 73 35 70 35 65 35 58 36 52 35 47 35 39 35 29 36 21 35 15 35 10 35 8 35 7 36 5 35 5"/>
<path d="M193 244l35 26 35 27 35 27 36 30 35 31 35 33 35 35 36 39 35 44 35 54 35 65 36 69 35 66 35 61 35 52 35 43 36 37 35 29 35 23 35 20 36 18 35 20 35 20 35 19 36 17 35 13 35 11 35 8 35 6 36 6 35 5"/>
<path d="M193 244l35 21 35 22 35 23 36 24 35 28 35 31 35 34 36 35 35 35 35 36 35 41 36 48 35 55 35 60 35 59 35 56 36 50 35 44 35 39 35 36 36 33 35 31 35 27 35 22 36 18 35 13 35 9 35 8 35 6 36 5 35 5"/>
</g>
<g fill="none" stroke="#00ffff" stroke-opacity="0.3" stroke-width="3.2">
<path d="M193 244l35 33 35 32 35 35 36 37 35 40 35 44 35 49 36 56 35 60 35 60 35 55 36 48 35 45 35 43 35 40 35 37 36 35 35 31 35 30 35 26 36 22 35 18 35 15 35 12 36 11 35 9 35 8 35 7 35 6 36 5 35 5"/>
<path d="M193 244l35 16 35 17 35 16 36 17 35 17 35 18 35 18 36 20 35 23 35 26 35 31 36 37 35 44 35 52 35 57 35 59 36 57 35 57 35 58 35 58 36 54 35 50 35 43 35 32 36 23 35 16 35 11 35 9 35 7 36 5 35 6"/>
<path d="M193 244l35 33 35 33 35 34 36 36 35 38 35 40 35 44 36 48 35 52 35 52 35 49 36 45 35 41 35 39 35 37 35 36 36 34 35 32 35 30 35 30 36 28 35 26 35 24 35 21 36 17 35 14 35 12 35 9 35 8 36 6 35 6"/>
<path d="M193 244l35 40 35 41 35 43 36 46 35 50 35 55 35 61 36 63 35 60 35 52 35 46 36 43 35 39 35 37 35 34 35 31 36 27 35 26 35 23 35 20 36 17 35 15 35 13 35 12 36 11 35 11 35 10 35 8 35 7 36 7 35 6"/>
<path d="M193 244l35 29 35 29 35 30 36 32 35 33 35 37 35 39 36 43 35 46 35 49 35 50 36 47 35 43 35 39 35 37 35 37 36 35 35 36 35 34 35 33 36 33 35 32 35 29 35 25 36 20 35 16 35 12 35 9 35 8 36 6 35 6"/>
<path d="M193 244l35 29 35 29 35 30 36 33 35 36 35 40 35 46 36 49 35 53 35 55 35 53 36 49 35 42 35 37 35 35 35 34 36 33 35 33 35 32 35 32 36 30 35 29 35 26 35 21 36 17 35 14 35 10 35 9 35 7 36 5 35 6"/>
<path d="M193 244l35 28 35 28 35 29 36 31 35 35 35 40 35 44 36 47 35 51 35 53 35 52 36 50 35 43 35 37 35 36 35 34 36 34 35 34 35 33 35 33 36 32 35 31 35 27 35 23 36 17 35 14 35 11 35 9 35 7 36 5 35 6"/>
<path d="M193 244l35 36 35 37 35 40 36 44 35 52 35 62 35 73 36 77 35 74 35 63 35 49 36 41 35 35 35 30 35 26 35 25 36 23 35 23 35 21 35 20 36 17 35 14 35 12 35 10 36 9 35 9 35 8 35 7 35 6 36 6 35 5"/>
<path d="M193 244l35 38 35 39 35 42 36 44 35 50 35 57 35 64 36 69 35 65 35 56 35 48 36 43 35 38 35 35 35 32 35 29 36 26 35 25 35 23 35 21 36 17 35 15 35 12 35 11 36 10 35 10 35 9 35 8 35 6 36 6 35 6"/>
<path d="M193 244l35 24 35 25 35 26 36 29 35 32 35 38 35 43 36 48 35 52 35 57 35 59 36 57 35 50 35 43 35 41 35 39 36 38 35 36 35 35 35 34 36 31 35 27 35 21 35 17 36 13 35 10 35 8 35 6 35 6 36 4 35 5"/>
<path d="M193 244l35 11 35 11 35 11 36 12 35 12 35 12 35 13 36 15 35 19 35 23 35 28 36 36 35 46 35 56 35 67 35 72 36 69 35 67 35 67 35 64 36 59 35 52 35 41 35 29 36 18 35 13 35 9 35 7 35 6 36 4 35 5"/>
<path d="M193 244l35 19 35 19 35 20 36 20 35 23 35 24 35 28 36 29 35 31 35 32 35 35 36 39 35 43 35 47 35 48 35 48 36 47 35 48 35 51 35 52 36 50 35 46 35 42 35 32 36 24 35 16 35 13 35 9 35 7 36 6 35 6"/>
<path d="M193 244l35 31 35 31 35 32 36 32 35 34 35 34 35 36 36 41 35 47 35 51 35 53 36 50 35 48 35 47 35 46 35 44 36 40 35 38 35 34 35 31 36 29 35 25 35 21 35 18 36 14 35 12 35 9 35 8 35 7 36 5 35 6"/>
<path d="M193 244l35 29 35 29 35 31 36 36 35 41 35 51 35 58 36 63 35 66 35 64 35 59 36 48 35 39 35 33 35 30 35 29 36 28 35 28 35 28 35 27 36 26 35 23 35 19 35 15 36 12 35 10 35 9 35 7 35 6 36 5 35 5"/>
<path d="M193 244l35 29 35 28 35 29 36 31 35 31 35 32 35 34 36 37 35 43 35 49 35 51 36 51 35 48 35 45 35 44 35 43 36 41 35 39 35 36 35 34 36 33 35 30 35 26 35 22 36 17 35 14 35 10 35 9 35 7 36 5 35 6"/>
<path d="M193 244l35 25 35 25 35 27 36 30 35 37 35 44 35 51 36 57 35 58 35 61 35 61 36 55 35 46 35 37 35 34 35 32 36 32 35 32 35 32 35 31 36 30 35 26 35 21 35 17 36 13 35 10 35 8 35 7 35 5 36 5 35 5"/>
<path d="M193 244l35 33 35 33 35 36 36 39 35 46 35 54 35 62 36 68 35 67 35 63 35 53 36 42 35 36 35 31 35 28 35 26 36 26 35 25 35 26 35 25 36 23 35 21 35 17 35 15 36 13 35 11 35 9 35 8 35 7 36 5 35 6"/>
<path d="M193 244l35 26 35 27 35 28 36 31 35 35 35 41 35 47 36 49 35 49 35 50 35 50 36 45 35 41 35 34 35 30 35 29 36 30 35 32 35 33 35 34 36 35 35 34 35 34 35 29 36 22 35 17 35 13 35 9 35 8 36 6 35 6"/>
<path d="M193 244l35 26 35 26 35 26 36 27 35 27 35 26 35 28 36 30 35 37 35 45 35 51 36 55 35 54 35 53 35 52 35 51 36 48 35 44 35 40 35 37 36 35 35 30 35 25 35 20 36 16 35 12 35 9 35 7 35 7 36 5 35 5"/>
</g>
<g fill="none" stroke="#8000ff" stroke-opacity="0.3" stroke-width="3.2">
<path d="M193 246l35 33 35 33 35 35 36 37 35 40 35 45 35 53 36 60 35 68 35 73 35 73 36 70 35 67 35 60 35 50 35 41 36 29 35 22 35 14 35 11 36 7 35 6 35 4 35 4 36 3 35 3 35 2 35 3 35 2 36 2 35 2"/>
<path d="M193 245l35 45 35 45 35 46 36 48 35 53 35 59 35 63 36 64 35 60 35 55 35 52 36 48 35 45 35 41 35 35 35 30 36 26 35 20 35 17 35 14 36 13 35 10 35 10 35 8 36 7 35 7 35 7 35 7 35 6 36 6 35 6"/>
<path d="M193 246l35 47 35 48 35 49 36 51 35 56 35 64 35 70 36 74 35 73 35 67 35 64 36 59 35 53 35 46 35 36 35 28 36 19 35 13 35 9 35 6 36 5 35 3 35 2 35 2 36 2 35 1 35 1 35 1 35 1 36 1 35 1"/>
<path d="M193 246l35 36 35 38 35 38 36 40 35 44 35 49 35 56 36 64 35 69 35 71 35 70 36 65 35 61 35 54 35 46 35 36 36 27 35 20 35 15 35 10 36 9 35 6 35 5 35 4 36 3 35 4 35 3 35 2 35 3 36 2 35 2"/>
<path d="M193 245l35 44 35 44 35 45 36 47 35 51 35 58 35 64 36 65 35 65 35 59 35 56 36 53 35 49 35 43 35 38 35 31 36 25 35 20 35 15 35 13 36 10 35 9 35 8 35 6 36 6 35 6 35 5 35 5 35 4 36 4 35 5"/>
<path d="M193 245l35 37 35 38 35 39 36 40 35 44 35 51 35 58 36 66 35 70 35 71 35 67 36 62 35 58 35 51 35 43 35 34 36 27 35 19 35 15 35 12 36 9 35 7 35 6 35 5 36 4 35 4 35 4 35 3 35 3 36 3 35 3"/>
<path d="M193 246l35 32 35 33 35 34 36 36 35 39 35 44 35 51 36 59 35 65 35 70 35 69 36 68 35 64 35 59 35 51 35 41 36 31 35 23 35 17 35 13 36 9 35 8 35 6 35 5 36 4 35 4 35 4 35 3 35 3 36 3 35 4"/>
<path d="M193 246l35 41 35 43 35 43 36 45 35 50 35 55 35 63 36 70 35 72 35 70 35 66 36 62 35 56 35 49 35 40 35 32 36 23 35 16 35 12 35 9 36 7 35 5 35 4 35 3 36 3 35 3 35 2 35 3 35 1 36 2 35 2"/>
<path d="M193 246l35 42 35 42 35 44 36 46 35 49 35 56 35 63 36 68 35 69 35 67 35 64 36 60 35 55 35 49 35 42 35 32 36 24 35 18 35 13 35 10 36 7 35 6 35 4 35 4 36 3 35 3 35 3 35 2 35 3 36 2 35 2"/>
<path d="M193 246l35 40 35 41 35 42 36 44 35 49 35 55 35 63 36 69 35 72 35 70 35 67 36 64 35 59 35 52 35 43 35 33 36 24 35 17 35 11 35 8 36 6 35 4 35 4 35 2 36 3 35 2 35 2 35 1 35 2 36 1 35 2"/>
<path d="M193 245l35 38 35 39 35 39 36 41 35 44 35 48 35 55 36 59 35 62 35 59 35 56 36 51 35 48 35 44 35 40 35 35 36 30 35 26 35 21 35 18 36 16 35 13 35 11 35 10 36 8 35 9 35 7 35 7 35 7 36 6 35 6"/>
<path d="M193 246l35 40 35 41 35 41 36 44 35 47 35 54 35 60 36 67 35 70 35 70 35 67 36 64 35 59 35 54 35 44 35 35 36 25 35 18 35 13 35 9 36 6 35 5 35 3 35 3 36 2 35 2 35 2 35 2 35 2 36 1 35 2"/>
<path d="M193 245l35 39 35 39 35 41 36 41 35 45 35 51 35 56 36 61 35 62 35 59 35 55 36 52 35 48 35 44 35 39 35 35 36 29 35 24 35 20 35 17 36 15 35 12 35 11 35 9 36 8 35 8 35 8 35 6 35 7 36 6 35 6"/>
<path d="M193 245l35 39 35 40 35 41 36 42 35 47 35 52 35 59 36 64 35 67 35 64 35 61 36 58 35 54 35 49 35 42 35 34 36 27 35 21 35 16 35 13 36 10 35 9 35 7 35 6 36 5 35 5 35 5 35 4 35 4 36 4 35 4"/>
<path d="M193 245l35 42 35 43 35 44 36 45 35 51 35 57 35 64 36 68 35 68 35 65 35 61 36 57 35 54 35 47 35 40 35 31 36 24 35 19 35 13 35 11 36 8 35 7 35 5 35 5 36 4 35 4 35 4 35 3 35 3 36 3 35 3"/>
<path d="M193 245l35 36 35 37 35 38 36 40 35 43 35 49 35 57 36 64 35 67 35 66 35 61 36 58 35 54 35 48 35 42 35 35 36 28 35 23 35 17 35 15 36 12 35 9 35 9 35 7 36 7 35 6 35 6 35 5 35 4 36 5 35 5"/>
<path d="M193 245l35 34 35 35 35 35 36 38 35 41 35 46 35 53 36 61 35 68 35 70 35 69 36 66 35 63 35 56 35 48 35 39 36 29 35 22 35 16 35 12 36 9 35 8 35 5 35 5 36 5 35 4 35 3 35 3 35 4 36 3 35 3"/>
<path d="M193 244l35 41 35 40 35 41 36 42 35 45 35 49 35 55 36 58 35 58 35 55 35 50 36 47 35 43 35 41 35 37 35 34 36 29 35 27 35 23 35 19 36 18 35 15 35 14 35 11 36 11 35 10 35 9 35 9 35 8 36 7 35 8"/>
<path d="M193 245l35 42 35 43 35 43 36 47 35 52 35 60 35 68 36 72 35 71 35 67 35 62 36 59 35 53 35 45 35 37 35 29 36 21 35 16 35 12 35 10 36 7 35 6 35 5 35 4 36 4 35 3 35 4 35 3 35 2 36 3 35 3"/>
</g>
<g fill="none" stroke="#bebebe" stroke-opacity="0.25" stroke-width="2.8">
<path d="M193 244l16 50 17 45 16 42 17 48 17 59 16 67 17 68 16 61 17 52 16 43 17 39 16 41 17 49 16 59 17 62 17 56 16 39 17 20 16 2 17-6 16-5 17-1 16 6 17 10 16 10 17 6 17 2 16-2 17-4 16-4 17-2 16 0 17 2 16 3 17 4 16 2 50 4 50 3 49 4 50 4 50 3 49 3 50 3 50 2 49 2 50 3"/>
<path d="M193 244l16 49 17 44 16 50 17 70 17 87 16 88 17 76 16 60 17 43 16 28 17 18 16 24 17 41 16 56 17 66 17 62 16 47 17 28 16 7 17-5 16-11 17-9 16-5 17 0 16 3 17 3 17 3 16 1 17 0 16-1 17-1 16 0 17-1 16 1 17 0 16 1 50 4 50 5 49 3 50 3 50 3 49 3 50 3 50 2 49 2 50 3"/>
<path d="M193 244l16 51 17 55 16 64 17 74 17 80 16 76 17 69 16 62 17 56 16 46 17 33 16 23 17 23 16 30 17 39 17 45 16 46 17 38 16 27 17 15 16 2 17 0 16-3 17-8 16-10 17-8 17-6 16-4 17-1 16 1 17 2 16 3 17 3 16 2 17 2 16 1 50 1 50 2 49 4 50 3 50 3 49 3 50 3 50 2 49 2 50 3"/>
<path d="M193 244l16 51 17 52 16 54 17 56 17 58 16 60 17 57 16 56 17 54 16 51 17 47 16 44 17 45 16 48 17 49 17 46 16 39 17 27 16 14 17 6 16 3 17 1 16 0 17 1 16-1 17-1 17-1 16-2 17-1 16 0 17 2 16 2 17 2 16 2 17 2 16 1 50 3 50 4 49 3 50 4 50 3 49 3 50 3 50 2 49 2 50 3"/>
<path d="M193 244l16 49 17 37 16 25 17 22 17 30 16 44 17 59 16 73 17 89 16 94 17 83 16 62 17 41 16 24 17 15 17 15 16 19 17 22 16 24 17 26 16 27 17 22 16 14 17 6 16-2 17-6 17-7 16-5 17-2 16 1 17 3 16 4 17 5 16 4 17 3 16 2 50 4 50 3 49 4 50 5 50 3 49 3 50 3 50 2 49 2 50 3"/>
<path d="M193 244l16 47 17 31 16 24 17 37 17 63 16 85 17 89 16 67 17 37 16 12 17 14 16 30 17 44 16 59 17 79 17 90 16 72 17 39 16 6 17-15 16-20 17-14 16-2 17 7 16 13 17 12 17 8 16 2 17-2 16-5 17-3 16-1 17 3 16 4 17 6 16 5 50 5 50 1 49 4 50 5 50 3 49 3 50 3 50 2 49 2 50 3"/>
<path d="M193 244l16 50 17 52 16 59 17 69 17 73 16 70 17 60 16 51 17 44 16 42 17 41 16 45 17 52 16 56 17 54 17 47 16 35 17 20 16 5 17-3 16-4 17-3 16 1 17 3 16 4 17 3 17 1 16-2 17-2 16-3 17-2 16 0 17 1 16 1 17 2 16 2 50 5 50 2 49 4 50 3 50 3 49 3 50 3 50 2 49 2 50 3"/>
<path d="M193 244l16 52 17 53 16 42 17 23 17 10 16 16 17 34 16 52 17 68 16 82 17 94 16 96 17 85 16 62 17 37 17 17 16 4 17-1 16-2 17 3 16 10 17 16 16 20 17 20 16 16 17 10 17 3 16-2 17-5 16-6 17-3 16-1 17 1 16 3 17 4 16 4 50 10 50 4 49 2 50 4 50 4 49 3 50 3 50 2 49 2 50 3"/>
<path d="M193 244l16 54 17 69 16 89 17 92 17 76 16 58 17 40 16 24 17 14 16 24 17 45 16 66 17 81 16 84 17 70 17 51 16 17 17 0 16 0 17-10 16-22 17-14 16-3 17 5 16 11 17 11 17 8 16 4 17-2 16-5 17-6 16-6 17-4 16-2 17 0 16 2 50 9 50 4 49 1 50 3 50 4 49 2 50 3 50 2 49 2 50 3"/>
<path d="M193 244l16 54 17 69 16 83 17 78 17 59 16 35 17 14 16 11 17 36 16 66 17 88 16 97 17 85 16 63 17 40 17 21 16 5 17-4 16-5 17 2 16 10 17 15 16 13 17 8 16 1 17-5 17-9 16-10 17-6 16-3 17 1 16 4 17 5 16 4 17 2 16 1 50 0 50 2 49 5 50 3 50 3 49 3 50 3 50 2 49 2 50 3"/>
</g>
<g fill="none" stroke="#80ff00" stroke-opacity="0.3" stroke-width="3.2">
<path d="M193 244l35 18 35 18 35 19 36 21 35 24 35 29 35 31 36 31 35 27 35 23 35 22 36 24 35 28 35 38 35 48 35 56 36 60 35 60 35 57 35 54 36 51 35 47 35 40 35 34 36 27 35 20 35 16 35 11 35 8 36 6 35 6"/>
<path d="M193 244l35 18 35 19 35 17 36 17 35 16 35 14 35 12 36 12 35 15 35 19 35 26 36 34 35 43 35 51 35 61 35 65 36 65 35 62 35 59 35 55 36 51 35 48 35 41 35 36 36 28 35 21 35 16 35 12 35 9 36 6 35 6"/>
<path d="M193 244l35 15 35 14 35 14 36 13 35 12 35 10 35 7 36 9 35 11 35 16 35 21 36 28 35 35 35 42 35 53 35 64 36 74 35 77 35 75 35 71 36 67 35 57 35 47 35 35 36 26 35 19 35 14 35 10 35 7 36 6 35 5"/>
<path d="M193 244l35 11 35 12 35 11 36 12 35 12 35 12 35 13 36 14 35 14 35 16 35 16 36 18 35 20 35 24 35 31 35 42 36 58 35 76 35 91 35 92 36 87 35 78 35 60 35 43 36 29 35 20 35 14 35 10 35 7 36 6 35 5"/>
<path d="M193 244l35 12 35 11 35 12 36 11 35 11 35 11 35 10 36 11 35 12 35 14 35 16 36 19 35 21 35 24 35 30 35 39 36 53 35 72 35 88 35 94 36 90 35 81 35 65 35 47 36 32 35 22 35 16 35 11 35 7 36 7 35 5"/>
<path d="M193 244l35 13 35 12 35 12 36 13 35 13 35 13 35 13 36 13 35 15 35 15 35 16 36 18 35 20 35 24 35 31 35 40 36 55 35 73 35 86 35 88 36 86 35 77 35 62 35 46 36 32 35 22 35 15 35 11 35 8 36 6 35 6"/>
<path d="M193 244l35 12 35 12 35 13 36 12 35 13 35 13 35 14 36 14 35 15 35 16 35 18 36 18 35 22 35 27 35 35 35 47 36 63 35 79 35 87 35 86 36 81 35 72 35 56 35 40 36 28 35 20 35 13 35 10 35 7 36 6 35 5"/>
<path d="M193 244l35 14 35 14 35 14 36 14 35 16 35 17 35 18 36 19 35 18 35 17 35 17 36 17 35 19 35 24 35 33 35 44 36 59 35 74 35 80 35 80 36 78 35 70 35 57 35 42 36 31 35 22 35 15 35 11 35 8 36 6 35 6"/>
<path d="M193 244l35 17 35 16 35 16 36 15 35 14 35 13 35 12 36 12 35 14 35 17 35 23 36 28 35 35 35 44 35 54 35 63 36 69 35 70 35 67 35 65 36 60 35 54 35 45 35 37 36 28 35 20 35 15 35 11 35 8 36 6 35 6"/>
<path d="M193 244l35 15 35 14 35 16 36 17 35 20 35 23 35 27 36 26 35 24 35 21 35 17 36 18 35 20 35 28 35 40 35 55 36 67 35 73 35 72 35 70 36 66 35 57 35 47 35 35 36 26 35 18 35 14 35 10 35 7 36 6 35 5"/>
<path d="M193 244l35 12 35 12 35 12 36 11 35 11 35 10 35 10 36 11 35 11 35 15 35 16 36 19 35 22 35 25 35 30 35 40 36 53 35 71 35 87 35 93 36 89 35 80 35 65 35 47 36 33 35 23 35 15 35 11 35 8 36 6 35 6"/>
<path d="M193 244l35 11 35 10 35 10 36 9 35 9 35 7 35 6 36 6 35 9 35 13 35 17 36 21 35 25 35 28 35 33 35 42 36 56 35 76 35 94 35 98 36 93 35 82 35 63 35 45 36 30 35 20 35 13 35 10 35 7 36 6 35 5"/>
<path d="M193 244l35 11 35 11 35 10 36 12 35 12 35 13 35 14 36 15 35 15 35 16 35 17 36 17 35 19 35 23 35 30 35 41 36 58 35 78 35 92 35 94 36 89 35 78 35 60 35 42 36 28 35 19 35 13 35 10 35 7 36 5 35 5"/>
<path d="M193 244l35 19 35 20 35 19 36 20 35 21 35 22 35 23 36 23 35 22 35 22 35 25 36 29 35 36 35 43 35 52 35 58 36 58 35 56 35 54 35 52 36 50 35 46 35 43 35 36 36 30 35 23 35 17 35 13 35 9 36 7 35 6"/>
<path d="M193 244l35 16 35 16 35 16 36 17 35 18 35 19 35 21 36 20 35 21 35 21 35 22 36 26 35 34 35 43 35 56 35 68 36 71 35 69 35 65 35 62 36 55 35 48 35 39 35 31 36 23 35 17 35 13 35 9 35 7 36 6 35 5"/>
<path d="M193 244l35 20 35 19 35 19 36 17 35 16 35 12 35 9 36 10 35 15 35 21 35 32 36 42 35 55 35 64 35 70 35 69 36 64 35 58 35 52 35 47 36 43 35 39 35 36 35 31 36 26 35 20 35 16 35 11 35 9 36 6 35 6"/>
<path d="M193 244l35 15 35 16 35 15 36 17 35 18 35 19 35 21 36 22 35 20 35 19 35 18 36 19 35 24 35 30 35 41 35 53 36 65 35 71 35 72 35 69 36 67 35 60 35 50 35 38 36 29 35 20 35 15 35 11 35 8 36 6 35 6"/>
<path d="M193 244l35 14 35 14 35 13 36 12 35 11 35 8 35 6 36 7 35 11 35 15 35 23 36 29 35 39 35 48 35 59 35 73 36 80 35 81 35 76 35 71 36 63 35 53 35 42 35 31 36 22 35 16 35 12 35 8 35 7 36 5 35 5"/>
<path d="M193 244l35 17 35 16 35 18 36 18 35 22 35 26 35 28 36 28 35 25 35 22 35 21 36 22 35 27 35 36 35 48 35 60 36 65 35 66 35 63 35 60 36 56 35 49 35 41 35 33 36 26 35 18 35 14 35 10 35 8 36 6 35 5"/>
</g>
<g fill="none" stroke="#ff0000" stroke-opacity="0.22" stroke-width="3.2">
<path d="M193 244l35 14 35 14 35 14 36 13 35 13 35 12 35 11 36 12 35 13 35 15 35 18 36 20 35 24 35 29 35 33 35 44 36 58 35 75 35 88 35 91 36 81 35 68 35 57 35 43 36 31 35 20 35 14 35 10 35 7 36 6 35 6"/>
<path d="M193 244l35 26 35 26 35 28 36 28 35 29 35 29 35 31 36 35 35 43 35 55 35 69 36 75 35 74 35 67 35 57 35 47 36 39 35 29 35 23 35 17 36 16 35 17 35 18 35 17 36 14 35 12 35 10 35 7 35 6 36 5 35 5"/>
<path d="M193 244l35 20 35 21 35 21 36 22 35 25 35 26 35 27 36 29 35 31 35 33 35 40 36 50 35 60 35 67 35 68 35 63 36 57 35 48 35 42 35 37 36 34 35 30 35 25 35 21 36 15 35 11 35 9 35 7 35 6 36 4 35 5"/>
<path d="M193 244l35 31 35 31 35 33 36 35 35 37 35 40 35 46 36 56 35 71 35 81 35 81 36 71 35 60 35 48 35 40 35 31 36 24 35 16 35 9 35 5 36 5 35 9 35 13 35 16 36 15 35 13 35 11 35 8 35 7 36 6 35 5"/>
<path d="M193 244l35 12 35 12 35 12 36 14 35 17 35 19 35 23 36 24 35 24 35 23 35 22 36 22 35 23 35 28 35 37 35 54 36 72 35 84 35 87 35 80 36 69 35 59 35 44 35 30 36 19 35 13 35 9 35 7 35 6 36 4 35 5"/>
<path d="M193 244l35 22 35 23 35 23 36 26 35 28 35 31 35 33 36 35 35 37 35 42 35 50 36 60 35 66 35 66 35 62 35 55 36 46 35 40 35 33 35 29 36 26 35 25 35 21 35 19 36 14 35 11 35 9 35 7 35 6 36 4 35 5"/>
<path d="M193 244l35 21 35 22 35 21 36 22 35 22 35 22 35 21 36 21 35 24 35 27 35 33 36 40 35 50 35 58 35 61 35 61 36 58 35 53 35 48 35 44 36 41 35 39 35 36 35 30 36 22 35 17 35 12 35 10 35 7 36 6 35 5"/>
<path d="M193 244l35 15 35 14 35 15 36 16 35 17 35 18 35 21 36 21 35 21 35 21 35 21 36 22 35 25 35 30 35 39 35 53 36 67 35 78 35 81 35 76 36 67 35 58 35 47 35 35 36 23 35 16 35 12 35 8 35 7 36 5 35 5"/>
<path d="M193 244l35 21 35 20 35 22 36 21 35 22 35 22 35 22 36 22 35 25 35 29 35 34 36 43 35 54 35 62 35 66 35 64 36 59 35 53 35 47 35 42 36 39 35 36 35 33 35 26 36 19 35 15 35 11 35 8 35 7 36 5 35 5"/>
<path d="M193 244l35 26 35 25 35 27 36 28 35 30 35 30 35 31 36 34 35 37 35 43 35 52 36 58 35 59 35 57 35 53 35 47 36 40 35 34 35 30 35 26 36 26 35 27 35 28 35 26 36 22 35 17 35 12 35 10 35 7 36 6 35 6"/>
<path d="M193 244l35 24 35 24 35 25 36 26 35 27 35 29 35 30 36 30 35 32 35 35 35 39 36 47 35 51 35 53 35 53 35 50 36 47 35 42 35 37 35 35 36 35 35 34 35 33 35 30 36 25 35 18 35 13 35 10 35 8 36 6 35 6"/>
<path d="M193 244l35 12 35 11 35 12 36 12 35 12 35 13 35 14 36 14 35 16 35 17 35 18 36 20 35 23 35 26 35 33 35 43 36 61 35 82 35 95 35 95 36 83 35 69 35 55 35 39 36 26 35 16 35 12 35 8 35 7 36 5 35 5"/>
<path d="M193 244l35 22 35 22 35 23 36 23 35 25 35 24 35 26 36 26 35 29 35 33 35 42 36 52 35 61 35 66 35 65 35 61 36 53 35 45 35 40 35 35 36 33 35 30 35 28 35 24 36 18 35 13 35 10 35 8 35 7 36 5 35 5"/>
<path d="M193 244l35 13 35 13 35 13 36 14 35 15 35 15 35 17 36 18 35 19 35 20 35 21 36 24 35 28 35 34 35 45 35 59 36 75 35 83 35 84 35 77 36 68 35 57 35 45 35 31 36 20 35 13 35 10 35 8 35 5 36 5 35 5"/>
<path d="M193 244l35 24 35 24 35 25 36 26 35 28 35 30 35 32 36 33 35 35 35 39 35 47 36 55 35 59 35 60 35 56 35 51 36 45 35 39 35 33 35 31 36 29 35 29 35 28 35 24 36 19 35 15 35 12 35 8 35 7 36 6 35 5"/>
<path d="M193 244l35 22 35 23 35 23 36 25 35 26 35 28 35 30 36 31 35 33 35 37 35 45 36 56 35 62 35 65 35 63 35 57 36 50 35 42 35 36 35 33 36 29 35 29 35 25 35 21 36 17 35 13 35 9 35 8 35 6 36 5 35 5"/>
<path d="M193 244l35 9 35 9 35 9 36 10 35 10 35 11 35 12 36 13 35 14 35 16 35 18 36 20 35 22 35 26 35 32 35 41 36 59 35 84 35 104 35 105 36 90 35 74 35 56 35 38 36 23 35 15 35 11 35 7 35 6 36 5 35 5"/>
<path d="M193 244l35 19 35 18 35 19 36 18 35 17 35 16 35 15 36 15 35 15 35 17 35 18 36 22 35 24 35 28 35 34 35 42 36 52 35 64 35 72 35 76 36 71 35 62 35 55 35 48 36 37 35 26 35 18 35 13 35 9 36 8 35 6"/>
<path d="M193 244l35 14 35 14 35 14 36 15 35 16 35 18 35 18 36 19 35 20 35 19 35 20 36 21 35 23 35 27 35 35 35 48 36 64 35 77 35 85 35 83 36 72 35 62 35 51 35 38 36 26 35 17 35 11 35 9 35 7 36 6 35 5"/>
</g>
<g fill="none" stroke="#00ffff" stroke-opacity="0.3" stroke-width="3.2">
<path d="M193 244l35 31 35 31 35 33 36 36 35 41 35 46 35 53 36 56 35 57 35 57 35 52 36 44 35 36 35 32 35 30 35 29 36 29 35 29 35 28 35 29 36 29 35 27 35 26 35 21 36 18 35 14 35 11 35 9 35 8 36 6 35 6"/>
<path d="M193 244l35 27 35 27 35 29 36 33 35 39 35 48 35 55 36 60 35 59 35 60 35 56 36 49 35 40 35 32 35 27 35 27 36 27 35 29 35 29 35 30 36 31 35 29 35 26 35 21 36 16 35 13 35 10 35 8 35 6 36 6 35 5"/>
<path d="M193 244l35 31 35 32 35 33 36 35 35 38 35 41 35 45 36 49 35 52 35 52 35 50 36 45 35 40 35 36 35 34 35 33 36 33 35 32 35 31 35 30 36 29 35 29 35 26 35 23 36 19 35 15 35 11 35 10 35 8 36 6 35 6"/>
<path d="M193 244l35 31 35 30 35 32 36 34 35 36 35 40 35 43 36 46 35 50 35 52 35 49 36 46 35 40 35 37 35 35 35 34 36 34 35 32 35 32 35 32 36 30 35 31 35 27 35 24 36 20 35 15 35 12 35 10 35 8 36 6 35 6"/>
<path d="M193 244l35 19 35 19 35 20 36 18 35 18 35 16 35 15 36 17 35 20 35 26 35 32 36 40 35 48 35 56 35 59 35 58 36 57 35 56 35 56 35 55 36 51 35 47 35 41 35 32 36 22 35 16 35 12 35 9 35 7 36 6 35 6"/>
<path d="M193 244l35 33 35 33 35 34 36 36 35 39 35 43 35 47 36 53 35 56 35 57 35 52 36 46 35 43 35 40 35 39 35 36 36 34 35 32 35 30 35 27 36 26 35 23 35 19 35 16 36 13 35 11 35 10 35 8 35 7 36 5 35 6"/>
<path d="M193 244l35 29 35 29 35 30 36 32 35 35 35 38 35 42 36 46 35 50 35 54 35 54 36 50 35 44 35 41 35 39 35 38 36 36 35 35 35 33 35 32 36 31 35 28 35 24 35 20 36 15 35 13 35 10 35 8 35 7 36 5 35 6"/>
<path d="M193 244l35 13 35 12 35 13 36 14 35 16 35 16 35 18 36 21 35 23 35 26 35 29 36 35 35 41 35 49 35 57 35 62 36 62 35 61 35 62 35 62 36 59 35 53 35 45 35 32 36 22 35 15 35 11 35 8 35 6 36 6 35 5"/>
<path d="M193 244l35 27 35 27 35 26 36 27 35 26 35 23 35 23 36 26 35 33 35 41 35 49 36 54 35 55 35 55 35 55 35 53 36 50 35 46 35 41 35 38 36 35 35 31 35 27 35 21 36 17 35 13 35 10 35 8 35 6 36 6 35 5"/>
<path d="M193 244l35 29 35 28 35 30 36 32 35 35 35 38 35 42 36 47 35 53 35 57 35 56 36 53 35 46 35 44 35 41 35 40 36 38 35 36 35 33 35 31 36 29 35 24 35 20 35 16 36 13 35 11 35 9 35 7 35 6 36 5 35 5"/>
<path d="M193 244l35 26 35 25 35 26 36 27 35 28 35 29 35 31 36 33 35 39 35 45 35 49 36 53 35 51 35 48 35 46 35 45 36 44 35 42 35 39 35 38 36 35 35 34 35 29 35 24 36 18 35 14 35 10 35 8 35 7 36 6 35 5"/>
<path d="M193 244l35 34 35 34 35 36 36 40 35 45 35 51 35 58 36 63 35 63 35 58 35 50 36 41 35 34 35 31 35 28 35 26 36 27 35 26 35 25 35 26 36 25 35 24 35 22 35 18 36 16 35 13 35 11 35 9 35 8 36 6 35 6"/>
<path d="M193 244l35 26 35 26 35 27 36 28 35 32 35 36 35 39 36 44 35 46 35 51 35 53 36 51 35 48 35 42 35 39 35 38 36 37 35 37 35 36 35 35 36 34 35 32 35 28 35 23 36 17 35 13 35 11 35 8 35 6 36 6 35 5"/>
<path d="M193 244l35 24 35 23 35 25 36 25 35 27 35 28 35 31 36 34 35 38 35 45 35 51 36 54 35 54 35 50 35 48 35 47 36 45 35 43 35 41 35 39 36 36 35 33 35 29 35 21 36 17 35 13 35 9 35 8 35 6 36 5 35 5"/>
<path d="M193 244l35 26 35 26 35 27 36 30 35 33 35 38 35 42 36 46 35 50 35 54 35 55 36 53 35 47 35 41 35 38 35 37 36 37 35 36 35 35 35 33 36 33 35 29 35 26 35 20 36 16 35 12 35 10 35 7 35 6 36 6 35 5"/>
<path d="M193 244l35 26 35 26 35 27 36 27 35 27 35 26 35 28 36 31 35 36 35 44 35 50 36 53 35 53 35 51 35 50 35 49 36 46 35 44 35 40 35 37 36 35 35 33 35 27 35 22 36 17 35 13 35 11 35 8 35 6 36 6 35 5"/>
<path d="M193 244l35 28 35 29 35 30 36 33 35 36 35 41 35 46 36 51 35 54 35 57 35 56 36 50 35 43 35 39 35 37 35 35 36 34 35 34 35 32 35 30 36 30 35 27 35 23 35 18 36 15 35 12 35 9 35 8 35 6 36 6 35 5"/>
<path d="M193 244l35 23 35 24 35 24 36 27 35 30 35 34 35 39 36 43 35 45 35 50 35 53 36 53 35 51 35 44 35 40 35 39 36 39 35 38 35 38 35 37 36 35 35 33 35 29 35 23 36 17 35 12 35 10 35 8 35 6 36 5 35 5"/>
</g>
<g fill="none" stroke="#bebebe" stroke-opacity="0.25" stroke-width="2.8">
<path d="M193 244l16 51 17 48 16 45 17 42 17 40 16 44 17 52 16 61 17 70 16 73 17 67 16 57 17 47 16 42 17 37 17 35 16 30 17 24 16 16 17 11 16 7 17 6 16 3 17 3 16 1 17 0 17 0 16 0 17 0 16 1 17 1 16 2 17 1 16 2 17 2 16 1 50 4 50 4 49 4 50 4 50 3 49 3 50 3 50 2 49 2 50 3"/>
<path d="M193 244l16 50 17 47 16 42 17 41 17 45 16 54 17 64 16 72 17 74 16 69 17 54 16 39 17 33 16 33 17 37 17 42 16 42 17 35 16 24 17 13 16 5 17-1 16-3 17-3 16-2 17 1 17 2 16 2 17 3 16 2 17 2 16 0 17 1 16 0 17 0 16 2 50 5 50 5 49 3 50 4 50 3 49 3 50 3 50 2 49 2 50 3"/>
<path d="M193 244l16 53 17 60 16 69 17 69 17 65 16 55 17 45 16 40 17 38 16 41 17 43 16 44 17 48 16 52 17 56 17 54 16 46 17 35 16 19 17 8 16 1 17-5 16-6 17-7 16-6 17-4 17-3 16 0 17 1 16 2 17 2 16 3 17 3 16 2 17 2 16 1 50 2 50 2 49 4 50 4 50 3 49 3 50 3 50 2 49 2 50 3"/>
<path d="M193 244l16 51 17 49 16 43 17 36 17 33 16 37 17 46 16 60 17 71 16 78 17 72 16 60 17 49 16 41 17 36 17 33 16 30 17 25 16 19 17 14 16 11 17 9 16 5 17 3 16 0 17-1 17-2 16-1 17-1 16 1 17 2 16 3 17 3 16 3 17 3 16 2 50 3 50 3 49 5 50 4 50 3 49 3 50 3 50 2 49 2 50 3"/>
<path d="M193 244l16 51 17 49 16 41 17 31 17 25 16 31 17 43 16 62 17 81 16 95 17 95 16 80 17 58 16 39 17 23 17 13 16 9 17 9 16 8 17 10 16 15 17 16 16 16 17 13 16 7 17 3 17-2 16-3 17-4 16-3 17-1 16 1 17 2 16 3 17 2 16 3 50 5 50 4 49 4 50 4 50 3 49 3 50 3 50 2 49 2 50 3"/>
<path d="M193 244l16 52 17 61 16 71 17 71 17 58 16 41 17 32 16 42 17 66 16 86 17 87 16 70 17 47 16 27 17 13 17 12 16 19 17 25 16 27 17 22 16 13 17 3 16-5 17-9 16-8 17-5 17 0 16 2 17 2 16 2 17 0 16-1 17-2 16 0 17 0 16 2 50 6 50 3 49 3 50 3 50 3 49 3 50 3 50 2 49 2 50 3"/>
<path d="M193 244l16 48 17 39 16 38 17 49 17 71 16 88 17 89 16 75 17 59 16 38 17 20 16 18 17 28 16 44 17 54 17 59 16 50 17 35 16 17 17 4 16-2 17-3 16-2 17-1 16 0 17 0 17-1 16-1 17 0 16 1 17 2 16 3 17 2 16 2 17 1 16 0 50 2 50 5 49 4 50 3 50 3 49 3 50 3 50 2 49 2 50 3"/>
<path d="M193 244l16 54 17 63 16 70 17 64 17 49 16 30 17 18 16 22 17 42 16 59 17 69 16 73 17 74 16 69 17 58 17 44 16 32 17 19 16 7 17 0 16-2 17-3 16-3 17-2 16-1 17 0 17 1 16 3 17 3 16 4 17 3 16 3 17 2 16 0 17 0 16 0 50 1 50 5 49 5 50 3 50 3 49 3 50 3 50 2 49 2 50 3"/>
<path d="M193 244l16 51 17 51 16 56 17 61 17 64 16 63 17 60 16 52 17 48 16 43 17 39 16 38 17 43 16 52 17 57 17 57 16 49 17 34 16 16 17 1 16-6 17-9 16-9 17-5 16-2 17 2 17 4 16 5 17 3 16 3 17 1 16 1 17-1 16 0 17 0 16 0 50 4 50 5 49 4 50 3 50 3 49 3 50 3 50 2 49 2 50 3"/>
<path d="M193 244l16 49 17 40 16 27 17 24 17 29 16 43 17 56 16 72 17 86 16 88 17 78 16 60 17 44 16 35 17 30 17 29 16 29 17 24 16 19 17 13 16 11 17 7 16 4 17 3 16 1 17 1 17 1 16 1 17 3 16 2 17 4 16 3 17 2 16 2 17 1 16 0 50 3 50 5 49 5 50 4 50 3 49 3 50 3 50 2 49 2 50 3"/>
</g>
<g fill="none" stroke="#8000ff" stroke-opacity="0.3" stroke-width="3.2">
<path d="M193 245l35 45 35 46 35 46 36 49 35 54 35 60 35 68 36 71 35 71 35 65 35 62 36 56 35 52 35 45 35 36 35 29 36 22 35 16 35 11 35 10 36 7 35 5 35 4 35 4 36 4 35 3 35 3 35 2 35 3 36 2 35 2"/>
<path d="M193 246l35 45 35 46 35 48 36 51 35 56 35 65 35 71 36 72 35 67 35 63 35 59 36 55 35 50 35 43 35 35 35 28 36 21 35 15 35 11 35 9 36 7 35 5 35 5 35 4 36 3 35 4 35 3 35 3 35 2 36 3 35 3"/>
<path d="M193 246l35 41 35 43 35 43 36 45 35 49 35 55 35 63 36 68 35 70 35 68 35 65 36 60 35 56 35 49 35 42 35 32 36 24 35 18 35 13 35 9 36 7 35 6 35 4 35 4 36 4 35 3 35 2 35 3 35 2 36 2 35 2"/>
<path d="M193 246l35 43 35 43 35 45 36 47 35 53 35 59 35 66 36 69 35 68 35 64 35 61 36 57 35 54 35 47 35 39 35 31 36 23 35 18 35 12 35 10 36 7 35 6 35 5 35 4 36 3 35 4 35 3 35 3 35 2 36 3 35 3"/>
<path d="M193 244l35 43 35 44 35 44 36 46 35 50 35 56 35 63 36 67 35 66 35 60 35 55 36 50 35 47 35 41 35 36 35 30 36 25 35 21 35 17 35 15 36 12 35 10 35 9 35 8 36 7 35 7 35 6 35 5 35 5 36 4 35 5"/>
<path d="M193 245l35 44 35 45 35 46 36 47 35 52 35 58 35 63 36 66 35 64 35 58 35 54 36 49 35 46 35 41 35 36 35 30 36 25 35 20 35 17 35 14 36 12 35 10 35 9 35 7 36 7 35 7 35 6 35 5 35 6 36 4 35 5"/>
<path d="M193 245l35 34 35 34 35 36 36 37 35 41 35 47 35 54 36 63 35 69 35 71 35 69 36 66 35 62 35 55 35 47 35 37 36 29 35 21 35 16 35 12 36 9 35 7 35 6 35 5 36 5 35 4 35 4 35 3 35 3 36 3 35 4"/>
<path d="M193 245l35 39 35 40 35 40 36 42 35 45 35 50 35 57 36 62 35 64 35 63 35 58 36 53 35 50 35 45 35 40 35 34 36 29 35 24 35 20 35 16 36 13 35 12 35 9 35 8 36 8 35 6 35 6 35 6 35 5 36 5 35 4"/>
<path d="M193 245l35 45 35 45 35 47 36 49 35 55 35 62 35 67 36 67 35 63 35 58 35 54 36 50 35 46 35 41 35 35 35 29 36 23 35 19 35 15 35 12 36 10 35 9 35 7 35 7 36 6 35 6 35 6 35 5 35 5 36 5 35 5"/>
<path d="M193 245l35 46 35 46 35 47 36 50 35 56 35 63 35 68 36 68 35 65 35 59 35 55 36 50 35 46 35 41 35 33 35 28 36 23 35 17 35 15 35 11 36 10 35 8 35 7 35 7 36 6 35 5 35 5 35 5 35 4 36 4 35 5"/>
<path d="M193 246l35 37 35 37 35 38 36 41 35 43 35 49 35 56 36 63 35 68 35 70 35 69 36 65 35 63 35 56 35 47 35 38 36 28 35 21 35 14 35 10 36 8 35 6 35 4 35 4 36 3 35 3 35 2 35 2 35 3 36 2 35 2"/>
<path d="M193 245l35 41 35 40 35 42 36 43 35 47 35 53 35 60 36 64 35 66 35 64 35 61 36 58 35 55 35 49 35 43 35 34 36 27 35 21 35 16 35 12 36 9 35 8 35 7 35 5 36 5 35 4 35 4 35 4 35 4 36 3 35 4"/>
<path d="M193 245l35 41 35 42 35 42 36 45 35 49 35 55 35 62 36 64 35 62 35 58 35 53 36 50 35 46 35 41 35 37 35 31 36 26 35 22 35 18 35 16 36 13 35 11 35 10 35 9 36 8 35 8 35 8 35 6 35 7 36 6 35 7"/>
<path d="M193 245l35 46 35 46 35 46 36 49 35 52 35 59 35 65 36 66 35 64 35 59 35 53 36 48 35 45 35 39 35 35 35 29 36 25 35 20 35 17 35 14 36 12 35 10 35 9 35 7 36 7 35 7 35 5 35 6 35 4 36 5 35 4"/>
<path d="M193 245l35 40 35 40 35 40 36 43 35 46 35 51 35 59 36 66 35 69 35 68 35 64 36 61 35 56 35 50 35 42 35 34 36 26 35 20 35 15 35 12 36 9 35 7 35 6 35 5 36 5 35 4 35 3 35 3 35 3 36 3 35 3"/>
<path d="M193 245l35 36 35 36 35 37 36 39 35 42 35 48 35 54 36 61 35 65 35 67 35 63 36 60 35 57 35 51 35 45 35 37 36 29 35 23 35 18 35 15 36 11 35 10 35 8 35 6 36 7 35 5 35 5 35 5 35 4 36 5 35 4"/>
<path d="M193 245l35 41 35 42 35 43 36 44 35 48 35 54 35 61 36 65 35 65 35 61 35 57 36 54 35 49 35 45 35 38 35 32 36 27 35 21 35 17 35 14 36 12 35 10 35 8 35 7 36 7 35 6 35 6 35 5 35 5 36 4 35 5"/>
<path d="M193 245l35 42 35 43 35 44 36 46 35 50 35 57 35 64 36 66 35 64 35 58 35 54 36 51 35 46 35 41 35 35 35 31 36 25 35 20 35 18 35 14 36 13 35 10 35 9 35 8 36 8 35 7 35 6 35 6 35 6 36 5 35 6"/>
</g>
<g fill="none" stroke="#ff0000" stroke-opacity="0.22" stroke-width="3.2">
<path d="M193 244l35 22 35 23 35 23 36 24 35 26 35 26 35 27 36 28 35 31 35 34 35 42 36 51 35 60 35 63 35 62 35 58 36 51 35 44 35 39 35 34 36 33 35 31 35 29 35 24 36 19 35 14 35 11 35 8 35 6 36 6 35 5"/>
<path d="M193 244l35 17 35 16 35 17 36 18 35 20 35 20 35 23 36 22 35 24 35 24 35 27 36 31 35 37 35 48 35 60 35 67 36 71 35 69 35 63 35 56 36 52 35 45 35 36 35 27 36 18 35 13 35 10 35 7 35 6 36 5 35 5"/>
<path d="M193 244l35 23 35 23 35 23 36 25 35 27 35 27 35 28 36 30 35 32 35 35 35 42 36 51 35 58 35 60 35 60 35 56 36 50 35 42 35 38 35 34 36 33 35 31 35 30 35 24 36 20 35 15 35 11 35 8 35 7 36 6 35 5"/>
<path d="M193 244l35 18 35 18 35 19 36 20 35 24 35 26 35 29 36 30 35 30 35 29 35 31 36 35 35 43 35 53 35 61 35 65 36 64 35 59 35 53 35 48 36 44 35 39 35 32 35 23 36 17 35 13 35 9 35 7 35 6 36 4 35 5"/>
<path d="M193 244l35 16 35 16 35 17 36 17 35 19 35 22 35 23 36 23 35 22 35 21 35 20 36 20 35 21 35 26 35 33 35 46 36 59 35 71 35 78 35 76 36 68 35 60 35 51 35 40 36 28 35 19 35 13 35 10 35 7 36 6 35 6"/>
<path d="M193 244l35 9 35 8 35 9 36 9 35 10 35 10 35 11 36 12 35 14 35 15 35 16 36 19 35 21 35 24 35 29 35 36 36 52 35 78 35 104 35 112 36 97 35 79 35 61 35 42 36 25 35 16 35 11 35 9 35 6 36 5 35 5"/>
<path d="M193 244l35 10 35 11 35 10 36 12 35 12 35 14 35 15 36 17 35 17 35 18 35 19 36 18 35 20 35 23 35 29 35 38 36 57 35 81 35 99 35 101 36 87 35 73 35 57 35 39 36 25 35 16 35 11 35 8 35 7 36 5 35 5"/>
<path d="M193 244l35 22 35 23 35 23 36 23 35 24 35 24 35 23 36 24 35 27 35 30 35 37 36 46 35 54 35 59 35 61 35 59 36 54 35 48 35 42 35 39 36 37 35 36 35 33 35 28 36 22 35 16 35 12 35 10 35 7 36 6 35 5"/>
<path d="M193 244l35 16 35 15 35 17 36 17 35 18 35 19 35 21 36 22 35 23 35 25 35 27 36 32 35 39 35 52 35 64 35 72 36 75 35 71 35 63 35 57 36 50 35 44 35 33 35 24 36 17 35 11 35 9 35 7 35 5 36 5 35 4"/>
<path d="M193 244l35 26 35 26 35 27 36 27 35 27 35 26 35 26 36 29 35 36 35 48 35 62 36 71 35 73 35 69 35 60 35 50 36 41 35 33 35 26 35 21 36 20 35 21 35 22 35 20 36 17 35 14 35 10 35 9 35 6 36 6 35 5"/>
<path d="M193 244l35 29 35 28 35 31 36 31 35 34 35 34 35 38 36 41 35 49 35 59 35 64 36 65 35 59 35 52 35 45 35 37 36 30 35 25 35 20 35 16 36 18 35 20 35 23 35 24 36 22 35 17 35 13 35 10 35 8 36 6 35 6"/>
<path d="M193 244l35 28 35 28 35 30 36 31 35 33 35 36 35 38 36 43 35 51 35 62 35 69 36 69 35 64 35 55 35 46 35 38 36 31 35 25 35 19 35 15 36 15 35 18 35 20 35 20 36 18 35 14 35 11 35 9 35 7 36 6 35 5"/>
<path d="M193 244l35 23 35 23 35 23 36 26 35 27 35 28 35 30 36 33 35 35 35 43 35 53 36 65 35 71 35 70 35 64 35 56 36 46 35 39 35 32 35 27 36 24 35 22 35 21 35 18 36 14 35 11 35 8 35 7 35 6 36 4 35 5"/>
<path d="M193 244l35 14 35 14 35 14 36 14 35 14 35 13 35 14 36 14 35 16 35 17 35 20 36 24 35 27 35 33 35 41 35 54 36 69 35 80 35 85 35 81 36 71 35 61 35 49 35 37 36 24 35 17 35 11 35 9 35 6 36 6 35 5"/>
<path d="M193 244l35 18 35 18 35 18 36 19 35 18 35 19 35 18 36 18 35 20 35 21 35 24 36 28 35 34 35 42 35 51 35 60 36 65 35 68 35 67 35 61 36 56 35 50 35 44 35 34 36 25 35 18 35 12 35 10 35 7 36 6 35 5"/>
<path d="M193 244l35 26 35 25 35 28 36 29 35 32 35 35 35 38 36 41 35 43 35 50 35 57 36 61 35 60 35 56 35 49 35 43 36 37 35 31 35 27 35 23 36 23 35 23 35 24 35 22 36 19 35 14 35 12 35 8 35 7 36 6 35 5"/>
<path d="M193 244l35 19 35 19 35 20 36 22 35 23 35 25 35 26 36 28 35 28 35 31 35 36 36 45 35 56 35 65 35 68 35 67 36 61 35 53 35 46 35 41 36 37 35 33 35 27 35 21 36 15 35 12 35 8 35 7 35 6 36 4 35 5"/>
<path d="M193 244l35 14 35 14 35 14 36 13 35 12 35 8 35 6 36 6 35 11 35 15 35 22 36 30 35 37 35 47 35 59 35 71 36 81 35 83 35 81 35 72 36 63 35 54 35 43 35 31 36 20 35 14 35 10 35 7 35 6 36 5 35 5"/>
</g>
<g fill="none" stroke="#80ff00" stroke-opacity="0.3" stroke-width="3.2">
<path d="M193 244l35 12 35 11 35 11 36 11 35 10 35 10 35 9 36 9 35 12 35 13 35 15 36 18 35 20 35 23 35 27 35 34 36 46 35 65 35 87 35 98 36 95 35 88 35 70 35 52 36 36 35 23 35 17 35 12 35 8 36 6 35 6"/>
<path d="M193 244l35 14 35 15 35 14 36 15 35 17 35 19 35 20 36 21 35 19 35 17 35 15 36 15 35 16 35 21 35 29 35 39 36 54 35 68 35 79 35 81 36 79 35 72 35 61 35 46 36 34 35 24 35 17 35 12 35 9 36 6 35 6"/>
<path d="M193 244l35 17 35 17 35 16 36 17 35 15 35 14 35 14 36 13 35 16 35 18 35 23 36 29 35 36 35 45 35 55 35 64 36 67 35 68 35 64 35 62 36 57 35 52 35 44 35 36 36 28 35 20 35 16 35 11 35 8 36 6 35 6"/>
<path d="M193 244l35 16 35 15 35 16 36 15 35 15 35 13 35 14 36 13 35 16 35 18 35 23 36 29 35 37 35 47 35 59 35 70 36 73 35 72 35 68 35 63 36 58 35 49 35 41 35 32 36 24 35 17 35 13 35 10 35 7 36 6 35 5"/>
<path d="M193 244l35 21 35 22 35 21 36 23 35 24 35 26 35 27 36 28 35 31 35 39 35 49 36 63 35 73 35 74 35 68 35 62 36 54 35 44 35 34 35 25 36 21 35 19 35 19 35 19 36 17 35 14 35 11 35 9 35 7 36 5 35 5"/>
<path d="M193 244l35 19 35 19 35 19 36 19 35 20 35 20 35 20 36 20 35 21 35 22 35 27 36 33 35 40 35 50 35 58 35 62 36 61 35 58 35 54 35 51 36 47 35 44 35 39 35 34 36 27 35 21 35 16 35 12 35 9 36 6 35 6"/>
<path d="M193 244l35 18 35 19 35 18 36 18 35 18 35 17 35 18 36 17 35 17 35 19 35 22 36 26 35 32 35 38 35 46 35 54 36 60 35 61 35 61 35 59 36 58 35 55 35 49 35 41 36 33 35 25 35 19 35 13 35 10 36 7 35 6"/>
<path d="M193 244l35 9 35 8 35 8 36 8 35 8 35 8 35 7 36 9 35 9 35 12 35 15 36 17 35 18 35 21 35 23 35 29 36 39 35 59 35 88 35 111 36 112 35 100 35 79 35 54 36 36 35 22 35 15 35 11 35 8 36 6 35 5"/>
<path d="M193 244l35 17 35 17 35 17 36 16 35 18 35 17 35 17 36 17 35 17 35 18 35 18 36 21 35 26 35 31 35 38 35 49 36 58 35 65 35 68 35 68 36 66 35 63 35 54 35 44 36 35 35 25 35 18 35 13 35 10 36 7 35 6"/>
<path d="M193 244l35 16 35 15 35 17 36 17 35 19 35 21 35 23 36 24 35 23 35 21 35 23 36 26 35 33 35 43 35 58 35 68 36 72 35 69 35 65 35 60 36 54 35 45 35 37 35 29 36 22 35 16 35 12 35 9 35 7 36 5 35 5"/>
<path d="M193 244l35 10 35 10 35 10 36 10 35 10 35 9 35 8 36 9 35 12 35 14 35 17 36 21 35 23 35 28 35 34 35 44 36 61 35 81 35 95 35 96 36 91 35 78 35 59 35 41 36 27 35 18 35 12 35 9 35 7 36 5 35 5"/>
<path d="M193 244l35 16 35 16 35 15 36 15 35 15 35 13 35 13 36 13 35 13 35 15 35 16 36 18 35 20 35 25 35 29 35 36 36 46 35 60 35 73 35 79 36 79 35 75 35 67 35 54 36 42 35 30 35 21 35 15 35 11 36 7 35 7"/>
<path d="M193 244l35 13 35 13 35 13 36 13 35 13 35 13 35 13 36 14 35 15 35 16 35 18 36 21 35 25 35 31 35 40 35 52 36 67 35 79 35 83 35 80 36 76 35 67 35 52 35 39 36 27 35 19 35 14 35 10 35 7 36 6 35 5"/>
<path d="M193 244l35 17 35 17 35 17 36 20 35 22 35 26 35 29 36 29 35 26 35 23 35 23 36 24 35 30 35 40 35 53 35 63 36 66 35 64 35 60 35 57 36 52 35 45 35 38 35 31 36 23 35 18 35 13 35 10 35 7 36 6 35 5"/>
<path d="M193 244l35 17 35 16 35 17 36 16 35 15 35 13 35 12 36 13 35 14 35 18 35 23 36 29 35 36 35 46 35 54 35 64 36 69 35 68 35 65 35 62 36 59 35 52 35 45 35 36 36 28 35 21 35 15 35 11 35 8 36 6 35 6"/>
<path d="M193 244l35 24 35 23 35 23 36 22 35 19 35 16 35 14 36 16 35 24 35 38 35 54 36 72 35 80 35 79 35 70 35 61 36 50 35 41 35 31 35 23 36 20 35 20 35 22 35 24 36 22 35 18 35 15 35 12 35 9 36 6 35 6"/>
<path d="M193 244l35 19 35 19 35 18 36 19 35 18 35 16 35 16 36 17 35 17 35 22 35 26 36 34 35 42 35 51 35 59 35 64 36 62 35 59 35 56 35 52 36 49 35 45 35 40 35 35 36 28 35 22 35 16 35 12 35 9 36 6 35 6"/>
<path d="M193 244l35 8 35 8 35 8 36 9 35 10 35 12 35 13 36 14 35 15 35 16 35 15 36 16 35 17 35 19 35 23 35 33 36 47 35 72 35 99 35 109 36 104 35 91 35 67 35 45 36 28 35 19 35 12 35 9 35 6 36 5 35 5"/>
</g>
<g fill="none" stroke="#8000ff" stroke-opacity="0.3" stroke-width="3.2">
<path d="M193 245l35 42 35 43 35 44 36 44 35 49 35 53 35 60 36 64 35 65 35 60 35 55 36 51 35 47 35 42 35 37 35 33 36 27 35 22 35 19 35 15 36 13 35 11 35 10 35 8 36 7 35 7 35 6 35 5 35 5 36 5 35 4"/>
<path d="M193 245l35 42 35 43 35 44 36 45 35 48 35 55 35 60 36 66 35 66 35 62 35 56 36 52 35 47 35 43 35 37 35 32 36 26 35 22 35 18 35 15 36 12 35 10 35 9 35 7 36 7 35 6 35 6 35 5 35 4 36 4 35 4"/>
<path d="M193 245l35 44 35 44 35 46 36 47 35 52 35 59 35 66 36 68 35 69 35 64 35 60 36 56 35 52 35 45 35 38 35 31 36 23 35 18 35 13 35 10 36 8 35 7 35 5 35 5 36 4 35 4 35 3 35 3 35 3 36 3 35 3"/>
<path d="M193 246l35 39 35 39 35 42 36 43 35 48 35 56 35 63 36 69 35 70 35 69 35 66 36 63 35 60 35 53 35 43 35 34 36 25 35 17 35 12 35 9 36 6 35 5 35 3 35 3 36 3 35 2 35 2 35 2 35 2 36 2 35 2"/>
<path d="M193 245l35 40 35 40 35 40 36 43 35 47 35 52 35 59 36 64 35 63 35 61 35 58 36 54 35 52 35 46 35 41 35 34 36 27 35 22 35 18 35 14 36 12 35 9 35 9 35 7 36 7 35 6 35 6 35 6 35 5 36 5 35 6"/>
<path d="M193 245l35 33 35 33 35 34 36 36 35 39 35 44 35 51 36 59 35 65 35 68 35 67 36 64 35 60 35 55 35 47 35 40 36 31 35 24 35 19 35 14 36 12 35 9 35 8 35 6 36 6 35 6 35 5 35 5 35 4 36 4 35 5"/>
<path d="M193 244l35 37 35 37 35 37 36 39 35 42 35 46 35 54 36 58 35 61 35 59 35 55 36 52 35 48 35 45 35 41 35 36 36 31 35 27 35 22 35 19 36 16 35 14 35 11 35 11 36 10 35 8 35 9 35 7 35 8 36 7 35 7"/>
<path d="M193 245l35 50 35 50 35 50 36 54 35 58 35 66 35 71 36 71 35 67 35 59 35 55 36 49 35 44 35 39 35 31 35 26 36 21 35 15 35 13 35 11 36 8 35 7 35 6 35 6 36 5 35 4 35 4 35 4 35 3 36 3 35 3"/>
<path d="M193 245l35 35 35 36 35 37 36 38 35 41 35 45 35 51 36 57 35 61 35 60 35 58 36 53 35 51 35 47 35 42 35 38 36 32 35 27 35 22 35 19 36 16 35 13 35 12 35 10 36 9 35 8 35 8 35 7 35 7 36 6 35 7"/>
<path d="M193 245l35 44 35 43 35 45 36 47 35 51 35 59 35 65 36 70 35 69 35 66 35 61 36 57 35 53 35 46 35 38 35 30 36 23 35 17 35 13 35 10 36 8 35 6 35 5 35 5 36 4 35 3 35 4 35 3 35 3 36 2 35 3"/>
<path d="M193 246l35 43 35 44 35 44 36 47 35 51 35 58 35 64 36 69 35 69 35 65 35 62 36 58 35 54 35 48 35 39 35 32 36 23 35 18 35 13 35 9 36 8 35 6 35 4 35 4 36 4 35 3 35 3 35 3 35 2 36 3 35 2"/>
<path d="M193 246l35 35 35 36 35 37 36 40 35 42 35 49 35 57 36 65 35 70 35 73 35 70 36 68 35 63 35 56 35 47 35 37 36 27 35 19 35 14 35 10 36 7 35 5 35 4 35 4 36 3 35 3 35 2 35 2 35 3 36 2 35 2"/>
<path d="M193 245l35 38 35 39 35 40 36 41 35 45 35 52 35 58 36 63 35 64 35 61 35 57 36 54 35 50 35 45 35 40 35 33 36 28 35 23 35 18 35 16 36 13 35 11 35 10 35 8 36 8 35 7 35 7 35 6 35 6 36 6 35 6"/>
<path d="M193 245l35 34 35 35 35 36 36 37 35 40 35 44 35 50 36 57 35 63 35 65 35 65 36 60 35 57 35 53 35 46 35 39 36 32 35 26 35 21 35 16 36 13 35 11 35 9 35 7 36 7 35 6 35 6 35 5 35 4 36 5 35 4"/>
<path d="M193 245l35 41 35 41 35 43 36 44 35 48 35 54 35 61 36 66 35 65 35 63 35 57 36 54 35 50 35 45 35 38 35 32 36 27 35 20 35 17 35 14 36 11 35 10 35 8 35 7 36 6 35 6 35 6 35 5 35 5 36 4 35 5"/>
<path d="M193 245l35 44 35 44 35 45 36 47 35 51 35 58 35 64 36 66 35 65 35 59 35 54 36 51 35 46 35 42 35 35 35 31 36 25 35 20 35 16 35 14 36 12 35 10 35 8 35 8 36 7 35 6 35 6 35 5 35 5 36 4 35 5"/>
<path d="M193 245l35 34 35 35 35 36 36 37 35 40 35 44 35 52 36 58 35 63 35 64 35 61 36 58 35 54 35 50 35 45 35 38 36 32 35 26 35 21 35 17 36 14 35 12 35 9 35 9 36 8 35 7 35 6 35 6 35 6 36 5 35 6"/>
<path d="M193 244l35 36 35 37 35 37 36 39 35 43 35 49 35 55 36 59 35 61 35 57 35 53 36 50 35 46 35 44 35 39 35 34 36 30 35 25 35 22 35 18 36 17 35 14 35 12 35 11 36 10 35 10 35 10 35 9 35 8 36 9 35 10"/>
</g>
<g fill="none" stroke="#bebebe" stroke-opacity="0.25" stroke-width="2.8">
<path d="M193 244l16 53 17 57 16 58 17 51 17 38 16 27 17 23 16 31 17 45 16 57 17 61 16 61 17 64 16 67 17 67 17 61 16 48 17 32 16 15 17 2 16-4 17-7 16-7 17-5 16-2 17 0 17 2 16 3 17 5 16 4 17 5 16 4 17 3 16 2 17 2 16 1 50 2 50 3 49 5 50 4 50 3 49 3 50 3 50 2 49 2 50 3"/>
<path d="M193 244l16 52 17 54 16 57 17 58 17 57 16 54 17 53 16 54 17 56 16 57 17 52 16 47 17 43 16 43 17 42 17 41 16 36 17 28 16 18 17 11 16 6 17 3 16 1 17 0 16-1 17-2 17-2 16-2 17-1 16-1 17 1 16 1 17 1 16 2 17 2 16 2 50 5 50 3 49 4 50 3 50 3 49 3 50 3 50 2 49 2 50 3"/>
<path d="M193 244l16 55 17 69 16 78 17 67 17 40 16 7 17-9 16 13 17 48 16 75 17 100 16 124 17 112 16 76 17 45 17 18 16-9 17-25 16-25 17-10 16 5 17 17 16 25 17 23 16 16 17 6 17-2 16-7 17-9 16-7 17-4 16-1 17 2 16 4 17 3 16 3 50 5 50 3 49 4 50 3 50 3 49 3 50 3 50 2 49 2 50 3"/>
<path d="M193 244l16 49 17 37 16 27 17 33 17 51 16 73 17 84 16 73 17 51 16 32 17 27 16 36 17 50 16 63 17 66 17 54 16 29 17 5 16-10 17-12 16-5 17 3 16 7 17 5 16 0 17-5 17-9 16-6 17-2 16 4 17 9 16 12 17 12 16 11 17 10 16 8 50 27 50 21 49 10 50 6 50 5 49 3 50 3 50 2 49 2 50 3"/>
<path d="M193 244l16 51 17 50 16 49 17 50 17 49 16 52 17 56 16 61 17 66 16 65 17 59 16 50 17 43 16 40 17 39 17 37 16 33 17 27 16 17 17 11 16 7 17 3 16 2 17 0 16-1 17-1 17-1 16-1 17 0 16 1 17 1 16 2 17 2 16 1 17 2 16 1 50 4 50 3 49 4 50 4 50 3 49 3 50 3 50 2 49 2 50 3"/>
<path d="M193 244l16 52 17 54 16 58 17 59 17 58 16 56 17 54 16 55 17 56 16 56 17 51 16 44 17 42 16 43 17 43 17 44 16 39 17 31 16 19 17 9 16 3 17 0 16-3 17-3 16-3 17-2 17-1 16 0 17 0 16 1 17 2 16 1 17 2 16 1 17 2 16 1 50 3 50 4 49 3 50 4 50 3 49 3 50 3 50 2 49 2 50 3"/>
<path d="M193 244l16 49 17 40 16 34 17 35 17 45 16 58 17 71 16 82 17 88 16 82 17 69 16 51 17 36 16 28 17 21 17 20 16 19 17 17 16 14 17 14 16 14 17 14 16 11 17 9 16 5 17 1 17-2 16-3 17-4 16-3 17-1 16-1 17 1 16 2 17 2 16 2 50 7 50 5 49 2 50 4 50 3 49 3 50 3 50 2 49 2 50 3"/>
<path d="M193 244l16 49 17 39 16 31 17 34 17 45 16 60 17 72 16 77 17 74 16 65 17 50 16 38 17 33 16 34 17 38 17 40 16 41 17 35 16 26 17 17 16 10 17 4 16-1 17-4 16-3 17-2 17 0 16 3 17 4 16 4 17 3 16 2 17 1 16 0 17 0 16 0 50 6 50 6 49 3 50 4 50 3 49 3 50 3 50 2 49 2 50 3"/>
<path d="M193 244l16 49 17 45 16 44 17 50 17 62 16 68 17 67 16 61 17 55 16 48 17 43 16 43 17 47 16 53 17 54 17 47 16 36 17 21 16 7 17 0 16-1 17 2 16 5 17 6 16 6 17 3 17 1 16-2 17-3 16-2 17-1 16 0 17 2 16 3 17 2 16 2 50 4 50 3 49 5 50 3 50 3 49 3 50 3 50 2 49 2 50 3"/>
<path d="M193 244l16 50 17 50 16 57 17 66 17 69 16 59 17 46 16 37 17 42 16 53 17 64 16 67 17 62 16 49 17 32 17 17 16 8 17 4 16 3 17 6 16 9 17 8 16 5 17-1 16-4 17-4 17-4 16 0 17 4 16 6 17 7 16 7 17 6 16 6 17 5 16 5 50 16 50 13 49 7 50 5 50 4 49 3 50 3 50 2 49 2 50 3"/>
</g>
<g fill="none" stroke="#ff0000" stroke-opacity="0.22" stroke-width="3.2">
<path d="M193 244l35 7 35 7 35 8 36 8 35 8 35 10 35 11 36 12 35 14 35 16 35 17 36 20 35 21 35 25 35 29 35 38 36 54 35 83 35 109 35 114 36 98 35 79 35 59 35 38 36 23 35 14 35 10 35 7 35 6 36 4 35 5"/>
<path d="M193 244l35 21 35 21 35 22 36 24 35 26 35 29 35 32 36 31 35 32 35 31 35 34 36 39 35 46 35 52 35 56 35 56 36 54 35 51 35 45 35 42 36 40 35 37 35 33 35 27 36 21 35 15 35 11 35 9 35 6 36 6 35 5"/>
<path d="M193 244l35 16 35 16 35 16 36 18 35 21 35 22 35 26 36 27 35 27 35 28 35 30 36 35 35 45 35 59 35 69 35 74 36 72 35 65 35 57 35 50 36 45 35 37 35 28 35 20 36 14 35 10 35 8 35 6 35 5 36 4 35 4"/>
<path d="M193 244l35 22 35 23 35 23 36 25 35 27 35 29 35 30 36 32 35 33 35 37 35 45 36 53 35 61 35 63 35 61 35 57 36 49 35 42 35 36 35 33 36 31 35 29 35 26 35 22 36 18 35 13 35 10 35 8 35 6 36 5 35 5"/>
<path d="M193 244l35 10 35 10 35 10 36 12 35 13 35 15 35 18 36 18 35 19 35 17 35 17 36 16 35 16 35 17 35 22 35 30 36 45 35 70 35 97 35 108 36 98 35 80 35 63 35 45 36 30 35 18 35 13 35 9 35 7 36 6 35 5"/>
<path d="M193 244l35 23 35 23 35 24 36 25 35 26 35 25 35 27 36 27 35 32 35 38 35 48 36 59 35 66 35 68 35 64 35 58 36 48 35 41 35 34 35 31 36 28 35 27 35 25 35 22 36 17 35 13 35 10 35 8 35 7 36 5 35 5"/>
<path d="M193 244l35 9 35 9 35 9 36 9 35 9 35 7 35 7 36 8 35 10 35 14 35 17 36 22 35 26 35 31 35 37 35 46 36 65 35 88 35 105 35 104 36 88 35 72 35 55 35 37 36 22 35 15 35 10 35 8 35 5 36 5 35 5"/>
<path d="M193 244l35 23 35 23 35 25 36 28 35 32 35 38 35 42 36 42 35 40 35 39 35 40 36 44 35 46 35 47 35 47 35 46 36 43 35 39 35 36 35 35 36 33 35 33 35 31 35 26 36 21 35 16 35 12 35 9 35 7 36 6 35 5"/>
<path d="M193 244l35 23 35 23 35 24 36 25 35 24 35 24 35 23 36 25 35 28 35 33 35 43 36 52 35 61 35 64 35 63 35 58 36 51 35 44 35 38 35 34 36 32 35 32 35 30 35 25 36 21 35 15 35 12 35 9 35 7 36 6 35 5"/>
<path d="M193 244l35 22 35 22 35 24 36 25 35 27 35 31 35 33 36 33 35 33 35 33 35 36 36 40 35 46 35 51 35 52 35 53 36 50 35 46 35 42 35 40 36 38 35 36 35 34 35 29 36 22 35 16 35 12 35 10 35 7 36 6 35 5"/>
<path d="M193 244l35 20 35 20 35 21 36 20 35 20 35 17 35 17 36 17 35 22 35 28 35 39 36 52 35 68 35 76 35 78 35 73 36 62 35 52 35 44 35 39 36 34 35 31 35 25 35 21 36 15 35 12 35 9 35 7 35 6 36 4 35 5"/>
<path d="M193 244l35 14 35 15 35 15 36 18 35 21 35 27 35 30 36 31 35 29 35 25 35 21 36 19 35 19 35 23 35 33 35 47 36 63 35 74 35 78 35 74 36 66 35 57 35 47 35 34 36 23 35 15 35 11 35 8 35 7 36 5 35 5"/>
<path d="M193 244l35 20 35 21 35 21 36 21 35 22 35 22 35 22 36 23 35 26 35 29 35 36 36 46 35 57 35 65 35 68 35 66 36 60 35 52 35 46 35 40 36 38 35 34 35 30 35 24 36 18 35 13 35 10 35 8 35 6 36 5 35 5"/>
<path d="M193 244l35 17 35 16 35 16 36 17 35 16 35 16 35 15 36 15 35 16 35 17 35 19 36 22 35 24 35 29 35 35 35 46 36 58 35 70 35 79 35 79 36 72 35 63 35 54 35 43 36 32 35 22 35 15 35 10 35 9 36 6 35 6"/>
<path d="M193 244l35 24 35 24 35 25 36 28 35 32 35 35 35 38 36 40 35 39 35 41 35 46 36 50 35 53 35 52 35 50 35 47 36 41 35 37 35 33 35 31 36 30 35 29 35 29 35 26 36 20 35 15 35 12 35 9 35 7 36 6 35 5"/>
<path d="M193 244l35 20 35 20 35 20 36 21 35 21 35 21 35 21 36 23 35 24 35 29 35 35 36 45 35 57 35 67 35 70 35 68 36 62 35 54 35 47 35 42 36 38 35 34 35 30 35 23 36 17 35 12 35 10 35 7 35 6 36 5 35 5"/>
<path d="M193 244l35 21 35 22 35 22 36 24 35 26 35 28 35 30 36 31 35 32 35 34 35 40 36 49 35 58 35 62 35 62 35 59 36 52 35 46 35 40 35 36 36 34 35 31 35 28 35 23 36 17 35 13 35 10 35 8 35 6 36 5 35 5"/>
<path d="M193 244l35 32 35 34 35 34 36 35 35 35 35 36 35 40 36 52 35 68 35 76 35 77 36 71 35 60 35 50 35 41 35 32 36 23 35 15 35 8 35 5 36 5 35 9 35 16 35 20 36 20 35 16 35 14 35 10 35 8 36 6 35 6"/>
</g>
<g fill="none" stroke="#80ff00" stroke-opacity="0.3" stroke-width="3.2">
<path d="M193 244l35 14 35 14 35 13 36 14 35 12 35 11 35 9 36 11 35 13 35 17 35 21 36 27 35 33 35 43 35 53 35 67 36 77 35 80 35 76 35 72 36 66 35 55 35 44 35 33 36 24 35 17 35 12 35 9 35 7 36 5 35 5"/>
<path d="M193 244l35 16 35 15 35 15 36 16 35 17 35 17 35 19 36 18 35 18 35 17 35 17 36 19 35 22 35 27 35 36 35 47 36 59 35 69 35 74 35 73 36 72 35 66 35 55 35 44 36 33 35 23 35 17 35 12 35 9 36 6 35 6"/>
<path d="M193 244l35 15 35 15 35 14 36 13 35 11 35 8 35 6 36 7 35 10 35 15 35 22 36 29 35 37 35 44 35 54 35 66 36 73 35 77 35 73 35 71 36 65 35 58 35 46 35 36 36 27 35 19 35 14 35 10 35 8 36 6 35 5"/>
<path d="M193 244l35 16 35 16 35 16 36 16 35 16 35 16 35 16 36 16 35 16 35 17 35 18 36 21 35 24 35 30 35 37 35 48 36 59 35 68 35 72 35 72 36 70 35 65 35 55 35 44 36 34 35 24 35 18 35 12 35 9 36 7 35 6"/>
<path d="M193 244l35 16 35 17 35 17 36 19 35 23 35 27 35 31 36 30 35 27 35 23 35 21 36 21 35 27 35 35 35 50 35 60 36 67 35 65 35 63 35 60 36 55 35 47 35 39 35 32 36 24 35 17 35 13 35 10 35 7 36 6 35 5"/>
<path d="M193 244l35 17 35 16 35 18 36 18 35 20 35 21 35 24 36 23 35 22 35 22 35 22 36 26 35 32 35 41 35 54 35 63 36 67 35 66 35 63 35 59 36 54 35 48 35 40 35 32 36 25 35 18 35 14 35 10 35 8 36 6 35 5"/>
<path d="M193 244l35 15 35 14 35 14 36 15 35 16 35 15 35 17 36 17 35 17 35 19 35 19 36 24 35 28 35 37 35 49 35 62 36 72 35 76 35 74 35 70 36 66 35 56 35 45 35 34 36 25 35 18 35 13 35 9 35 7 36 6 35 5"/>
<path d="M193 244l35 16 35 15 35 16 36 15 35 15 35 14 35 13 36 14 35 16 35 20 35 24 36 32 35 41 35 53 35 66 35 76 36 75 35 72 35 65 35 60 36 53 35 44 35 36 35 28 36 22 35 16 35 11 35 9 35 7 36 5 35 5"/>
<path d="M193 244l35 16 35 16 35 16 36 16 35 18 35 18 35 19 36 20 35 20 35 20 35 22 36 26 35 33 35 44 35 55 35 67 36 72 35 70 35 66 35 62 36 56 35 49 35 40 35 31 36 24 35 18 35 12 35 10 35 7 36 6 35 5"/>
<path d="M193 244l35 20 35 19 35 19 36 18 35 18 35 15 35 15 36 15 35 17 35 21 35 26 36 34 35 42 35 50 35 57 35 61 36 61 35 58 35 54 35 52 36 50 35 46 35 43 35 37 36 30 35 23 35 18 35 13 35 9 36 7 35 6"/>
<path d="M193 244l35 22 35 21 35 21 36 22 35 23 35 22 35 23 36 23 35 26 35 30 35 37 36 46 35 56 35 61 35 63 35 58 36 54 35 48 35 42 35 37 36 33 35 32 35 31 35 29 36 25 35 20 35 16 35 12 35 8 36 7 35 6"/>
<path d="M193 244l35 16 35 16 35 15 36 16 35 16 35 17 35 16 36 16 35 17 35 16 35 18 36 20 35 23 35 29 35 36 35 46 36 58 35 68 35 72 35 73 36 71 35 66 35 57 35 45 36 34 35 25 35 17 35 13 35 9 36 7 35 6"/>
<path d="M193 244l35 15 35 15 35 14 36 14 35 12 35 10 35 8 36 9 35 12 35 15 35 19 36 24 35 29 35 35 35 41 35 51 36 63 35 73 35 76 35 76 36 73 35 67 35 56 35 43 36 32 35 23 35 16 35 12 35 9 36 6 35 6"/>
<path d="M193 244l35 16 35 16 35 16 36 17 35 19 35 20 35 22 36 23 35 22 35 21 35 22 36 25 35 32 35 42 35 55 35 67 36 71 35 69 35 66 35 61 36 56 35 47 35 39 35 31 36 23 35 17 35 12 35 9 35 7 36 6 35 5"/>
<path d="M193 244l35 16 35 15 35 15 36 14 35 13 35 11 35 10 36 10 35 12 35 16 35 21 36 25 35 32 35 39 35 46 35 58 36 66 35 73 35 73 35 70 36 68 35 61 35 51 35 40 36 30 35 22 35 15 35 12 35 8 36 6 35 6"/>
<path d="M193 244l35 21 35 21 35 20 36 18 35 14 35 7 35 3 36 5 35 12 35 27 35 45 36 65 35 83 35 91 35 84 35 74 36 62 35 51 35 41 35 32 36 27 35 24 35 24 35 23 36 21 35 17 35 13 35 10 35 8 36 6 35 5"/>
<path d="M193 244l35 15 35 14 35 15 36 15 35 15 35 16 35 16 36 17 35 17 35 17 35 17 36 19 35 23 35 29 35 37 35 48 36 61 35 73 35 77 35 76 36 73 35 67 35 55 35 42 36 31 35 22 35 15 35 12 35 8 36 6 35 6"/>
<path d="M193 244l35 17 35 17 35 16 36 16 35 13 35 9 35 8 36 8 35 11 35 15 35 22 36 27 35 34 35 40 35 46 35 54 36 62 35 66 35 67 35 67 36 65 35 61 35 54 35 44 36 35 35 25 35 19 35 13 35 10 36 7 35 6"/>
</g>
<g fill="none" stroke="#00ffff" stroke-opacity="0.3" stroke-width="3.2">
<path d="M193 244l35 35 35 35 35 38 36 40 35 45 35 51 35 58 36 66 35 67 35 61 35 54 36 48 35 45 35 41 35 38 35 34 36 32 35 29 35 25 35 21 36 16 35 13 35 10 35 8 36 8 35 8 35 6 35 7 35 5 36 5 35 5"/>
<path d="M193 244l35 16 35 16 35 17 36 18 35 21 35 23 35 26 36 29 35 31 35 35 35 38 36 42 35 49 35 53 35 55 35 52 36 50 35 52 35 53 35 52 36 49 35 46 35 37 35 28 36 19 35 13 35 10 35 8 35 6 36 5 35 5"/>
<path d="M193 244l35 23 35 24 35 23 36 23 35 21 35 19 35 19 36 20 35 27 35 36 35 47 36 55 35 60 35 61 35 61 35 59 36 56 35 51 35 46 35 41 36 39 35 34 35 27 35 22 36 16 35 12 35 9 35 7 35 6 36 5 35 5"/>
<path d="M193 244l35 31 35 32 35 32 36 31 35 32 35 29 35 30 36 32 35 39 35 43 35 47 36 47 35 46 35 46 35 45 35 44 36 41 35 39 35 36 35 33 36 33 35 31 35 29 35 25 36 21 35 16 35 13 35 10 35 8 36 7 35 6"/>
<path d="M193 244l35 21 35 20 35 23 36 24 35 29 35 35 35 41 36 45 35 48 35 49 35 54 36 55 35 53 35 46 35 40 35 37 36 38 35 39 35 38 35 37 36 37 35 34 35 29 35 22 36 17 35 12 35 9 35 7 35 5 36 5 35 5"/>
<path d="M193 244l35 14 35 15 35 14 36 16 35 16 35 18 35 19 36 21 35 24 35 28 35 32 36 39 35 46 35 55 35 60 35 61 36 58 35 59 35 59 35 58 36 55 35 49 35 41 35 29 36 20 35 14 35 10 35 8 35 6 36 5 35 5"/>
<path d="M193 244l35 30 35 31 35 32 36 33 35 37 35 41 35 45 36 49 35 52 35 52 35 51 36 45 35 40 35 36 35 33 35 33 36 32 35 32 35 32 35 31 36 30 35 30 35 28 35 24 36 19 35 15 35 12 35 9 35 8 36 6 35 6"/>
<path d="M193 244l35 25 35 26 35 27 36 30 35 34 35 40 35 47 36 50 35 52 35 56 35 56 36 53 35 46 35 39 35 35 35 35 36 34 35 34 35 34 35 33 36 32 35 30 35 25 35 20 36 16 35 12 35 9 35 8 35 6 36 5 35 5"/>
<path d="M193 244l35 26 35 25 35 27 36 30 35 33 35 39 35 44 36 47 35 50 35 54 35 54 36 52 35 46 35 40 35 36 35 35 36 36 35 34 35 35 35 34 36 33 35 31 35 27 35 22 36 16 35 13 35 10 35 8 35 6 36 6 35 5"/>
<path d="M193 244l35 15 35 16 35 16 36 17 35 20 35 23 35 27 36 30 35 31 35 33 35 36 36 40 35 44 35 50 35 52 35 53 36 50 35 52 35 54 35 54 36 52 35 48 35 41 35 30 36 20 35 15 35 10 35 8 35 6 36 6 35 5"/>
<path d="M193 244l35 31 35 31 35 32 36 33 35 36 35 37 35 42 36 47 35 56 35 59 35 58 36 54 35 53 35 51 35 50 35 45 36 41 35 37 35 32 35 27 36 21 35 16 35 12 35 10 36 9 35 7 35 7 35 6 35 5 36 4 35 5"/>
<path d="M193 244l35 34 35 34 35 36 36 39 35 44 35 51 35 57 36 61 35 62 35 57 35 49 36 41 35 34 35 30 35 27 35 27 36 26 35 26 35 27 35 26 36 26 35 25 35 23 35 20 36 17 35 14 35 11 35 10 35 7 36 7 35 6"/>
<path d="M193 244l35 26 35 26 35 26 36 28 35 28 35 31 35 32 36 35 35 39 35 43 35 48 36 49 35 48 35 44 35 43 35 41 36 40 35 40 35 39 35 38 36 37 35 35 35 33 35 28 36 21 35 16 35 12 35 9 35 7 36 6 35 6"/>
<path d="M193 244l35 10 35 10 35 10 36 11 35 11 35 11 35 12 36 13 35 16 35 21 35 26 36 33 35 42 35 53 35 65 35 73 36 72 35 70 35 70 35 67 36 62 35 55 35 45 35 30 36 20 35 14 35 10 35 7 35 5 36 5 35 5"/>
<path d="M193 244l35 27 35 28 35 29 36 34 35 41 35 50 35 59 36 64 35 64 35 65 35 59 36 50 35 40 35 31 35 28 35 27 36 27 35 28 35 28 35 29 36 27 35 26 35 20 35 17 36 14 35 10 35 9 35 7 35 6 36 5 35 5"/>
<path d="M193 244l35 32 35 32 35 33 36 35 35 39 35 43 35 47 36 52 35 55 35 54 35 51 36 45 35 39 35 36 35 34 35 33 36 32 35 31 35 30 35 29 36 29 35 27 35 24 35 21 36 17 35 14 35 11 35 9 35 8 36 6 35 6"/>
<path d="M193 244l35 21 35 20 35 21 36 21 35 21 35 21 35 22 36 24 35 28 35 34 35 41 36 48 35 54 35 56 35 55 35 51 36 51 35 49 35 47 35 45 36 43 35 41 35 37 35 30 36 21 35 15 35 11 35 9 35 6 36 6 35 5"/>
<path d="M193 244l35 35 35 35 35 37 36 40 35 45 35 51 35 57 36 64 35 64 35 60 35 51 36 45 35 40 35 37 35 34 35 32 36 30 35 27 35 26 35 24 36 21 35 18 35 14 35 13 36 11 35 9 35 9 35 7 35 7 36 5 35 6"/>
</g>
<g fill="none" stroke="#00ffff" stroke-opacity="0.3" stroke-width="3.2">
<path d="M193 244l35 29 35 29 35 31 36 35 35 42 35 51 35 59 36 64 35 65 35 65 35 58 36 48 35 39 35 31 35 29 35 28 36 27 35 27 35 28 35 28 36 26 35 24 35 19 35 16 36 13 35 11 35 9 35 7 35 6 36 5 35 5"/>
<path d="M193 244l35 22 35 22 35 23 36 25 35 26 35 29 35 32 36 35 35 39 35 43 35 49 36 53 35 53 35 50 35 45 35 44 36 44 35 43 35 41 35 40 36 38 35 36 35 31 35 25 36 18 35 14 35 10 35 7 35 7 36 5 35 5"/>
<path d="M193 244l35 34 35 35 35 35 36 36 35 37 35 36 35 37 36 42 35 46 35 49 35 47 36 45 35 44 35 44 35 42 35 40 36 38 35 34 35 31 35 30 36 28 35 26 35 23 35 21 36 17 35 15 35 12 35 9 35 8 36 7 35 6"/>
<path d="M193 244l35 32 35 31 35 34 36 36 35 39 35 45 35 49 36 54 35 55 35 55 35 51 36 44 35 38 35 33 35 32 35 30 36 30 35 30 35 30 35 29 36 28 35 28 35 26 35 22 36 18 35 14 35 12 35 9 35 8 36 6 35 6"/>
<path d="M193 244l35 27 35 28 35 29 36 31 35 34 35 38 35 43 36 46 35 48 35 51 35 50 36 48 35 43 35 38 35 34 35 34 36 34 35 34 35 34 35 33 36 34 35 32 35 30 35 26 36 20 35 15 35 12 35 9 35 7 36 6 35 6"/>
<path d="M193 244l35 30 35 29 35 31 36 33 35 35 35 39 35 43 36 47 35 51 35 53 35 53 36 48 35 43 35 39 35 38 35 37 36 35 35 34 35 33 35 31 36 30 35 29 35 25 35 21 36 16 35 13 35 11 35 9 35 6 36 6 35 6"/>
<path d="M193 244l35 29 35 28 35 31 36 32 35 36 35 42 35 46 36 51 35 56 35 58 35 57 36 51 35 45 35 40 35 38 35 36 36 35 35 34 35 32 35 30 36 29 35 24 35 21 35 16 36 14 35 10 35 9 35 8 35 6 36 5 35 5"/>
<path d="M193 244l35 16 35 15 35 15 36 16 35 16 35 15 35 16 36 18 35 20 35 24 35 28 36 35 35 42 35 50 35 58 35 61 36 60 35 60 35 61 35 61 36 57 35 52 35 45 35 34 36 24 35 16 35 12 35 9 35 7 36 5 35 6"/>
<path d="M193 244l35 27 35 26 35 29 36 31 35 36 35 43 35 48 36 51 35 52 35 52 35 51 36 47 35 41 35 34 35 29 35 29 36 30 35 31 35 32 35 33 36 33 35 34 35 31 35 27 36 21 35 16 35 12 35 9 35 7 36 6 35 6"/>
<path d="M193 244l35 13 35 12 35 13 36 13 35 14 35 15 35 16 36 17 35 20 35 22 35 26 36 31 35 36 35 43 35 53 35 61 36 66 35 64 35 65 35 66 36 63 35 56 35 49 35 38 36 25 35 17 35 13 35 9 35 7 36 5 35 6"/>
<path d="M193 244l35 27 35 27 35 27 36 29 35 32 35 34 35 38 36 40 35 45 35 49 35 51 36 51 35 47 35 42 35 40 35 39 36 39 35 37 35 37 35 35 36 33 35 33 35 29 35 23 36 18 35 14 35 11 35 9 35 7 36 5 35 6"/>
<path d="M193 244l35 16 35 16 35 16 36 15 35 15 35 14 35 14 36 14 35 18 35 22 35 28 36 33 35 42 35 50 35 59 35 63 36 62 35 61 35 62 35 61 36 58 35 53 35 45 35 35 36 25 35 17 35 12 35 9 35 7 36 6 35 6"/>
<path d="M193 244l35 18 35 19 35 19 36 20 35 22 35 25 35 28 36 30 35 30 35 30 35 31 36 32 35 36 35 40 35 44 35 46 36 48 35 49 35 52 35 55 36 54 35 51 35 45 35 38 36 27 35 20 35 14 35 10 35 8 36 7 35 6"/>
<path d="M193 244l35 31 35 31 35 32 36 34 35 37 35 41 35 45 36 50 35 55 35 56 35 54 36 49 35 43 35 40 35 39 35 37 36 35 35 33 35 32 35 29 36 28 35 24 35 21 35 17 36 14 35 12 35 9 35 8 35 7 36 5 35 6"/>
<path d="M193 244l35 28 35 28 35 30 36 31 35 36 35 40 35 45 36 48 35 51 35 51 35 51 36 47 35 42 35 35 35 32 35 32 36 33 35 32 35 33 35 33 36 32 35 33 35 30 35 25 36 20 35 16 35 11 35 10 35 7 36 6 35 6"/>
<path d="M193 244l35 31 35 32 35 32 36 35 35 37 35 41 35 45 36 50 35 55 35 57 35 54 36 49 35 44 35 42 35 40 35 38 36 36 35 33 35 31 35 30 36 26 35 23 35 19 35 16 36 13 35 11 35 9 35 8 35 6 36 6 35 5"/>
<path d="M193 244l35 28 35 29 35 29 36 30 35 33 35 34 35 36 36 41 35 45 35 51 35 52 36 51 35 47 35 44 35 43 35 41 36 39 35 38 35 35 35 34 36 32 35 30 35 25 35 21 36 16 35 13 35 11 35 8 35 7 36 5 35 6"/>
<path d="M193 244l35 30 35 30 35 31 36 33 35 37 35 41 35 45 36 50 35 53 35 55 35 54 36 48 35 42 35 38 35 37 35 35 36 34 35 33 35 32 35 30 36 30 35 27 35 24 35 19 36 16 35 13 35 10 35 9 35 7 36 5 35 6"/>
<path d="M193 244l35 32 35 33 35 35 36 39 35 45 35 54 35 62 36 66 35 66 35 62 35 53 36 42 35 34 35 29 35 27 35 25 36 25 35 25 35 26 35 25 36 25 35 23 35 21 35 17 36 14 35 12 35 10 35 9 35 6 36 6 35 6"/>
</g>
<g fill="none" stroke="#8000ff" stroke-opacity="0.3" stroke-width="3.2">
<path d="M193 245l35 43 35 44 35 45 36 47 35 51 35 59 35 65 36 68 35 67 35 62 35 58 36 55 35 51 35 44 35 38 35 31 36 24 35 18 35 14 35 11 36 10 35 7 35 6 35 6 36 5 35 4 35 5 35 4 35 4 36 3 35 4"/>
<path d="M193 245l35 38 35 39 35 40 36 42 35 46 35 53 35 60 36 67 35 69 35 67 35 64 36 60 35 56 35 49 35 42 35 33 36 26 35 19 35 15 35 12 36 9 35 7 35 7 35 5 36 5 35 4 35 4 35 4 35 4 36 3 35 4"/>
<path d="M193 245l35 39 35 39 35 40 36 43 35 47 35 53 35 60 36 64 35 65 35 62 35 59 36 58 35 53 35 49 35 42 35 35 36 27 35 21 35 16 35 13 36 10 35 9 35 7 35 6 36 6 35 5 35 5 35 5 35 5 36 5 35 5"/>
<path d="M193 246l35 47 35 48 35 49 36 51 35 57 35 63 35 71 36 73 35 72 35 67 35 63 36 59 35 53 35 46 35 37 35 28 36 20 35 13 35 9 35 7 36 4 35 3 35 2 35 2 36 2 35 1 35 1 35 1 35 1 36 1 35 1"/>
<path d="M193 245l35 34 35 34 35 36 36 36 35 39 35 44 35 50 36 57 35 63 35 67 35 66 36 64 35 59 35 55 35 48 35 40 36 33 35 25 35 19 35 15 36 12 35 10 35 8 35 6 36 6 35 6 35 4 35 5 35 4 36 4 35 4"/>
<path d="M193 245l35 39 35 40 35 40 36 42 35 45 35 50 35 56 36 59 35 60 35 58 35 54 36 50 35 48 35 44 35 39 35 35 36 29 35 25 35 21 35 17 36 15 35 13 35 11 35 10 36 9 35 8 35 8 35 7 35 7 36 7 35 7"/>
<path d="M193 246l35 39 35 40 35 42 36 43 35 49 35 56 35 63 36 69 35 71 35 68 35 66 36 64 35 59 35 52 35 43 35 34 36 24 35 17 35 12 35 9 36 6 35 5 35 3 35 3 36 3 35 2 35 2 35 2 35 2 36 2 35 2"/>
<path d="M193 244l35 36 35 36 35 36 36 36 35 39 35 42 35 46 36 52 35 56 35 57 35 55 36 52 35 48 35 45 35 42 35 40 36 35 35 31 35 27 35 23 36 20 35 17 35 14 35 12 36 11 35 9 35 9 35 8 35 7 36 7 35 6"/>
<path d="M193 244l35 40 35 40 35 41 36 42 35 45 35 51 35 57 36 61 35 63 35 59 35 54 36 50 35 46 35 43 35 39 35 33 36 29 35 25 35 20 35 18 36 15 35 13 35 11 35 9 36 9 35 8 35 8 35 7 35 6 36 6 35 6"/>
<path d="M193 245l35 45 35 46 35 46 36 49 35 53 35 61 35 66 36 67 35 64 35 57 35 53 36 49 35 44 35 39 35 33 35 29 36 24 35 19 35 17 35 13 36 12 35 10 35 9 35 7 36 8 35 6 35 6 35 6 35 5 36 5 35 5"/>
<path d="M193 245l35 45 35 46 35 46 36 49 35 53 35 60 35 68 36 72 35 72 35 68 35 63 36 58 35 53 35 45 35 37 35 28 36 21 35 16 35 11 35 8 36 6 35 5 35 4 35 3 36 3 35 3 35 2 35 3 35 1 36 2 35 2"/>
<path d="M193 244l35 36 35 37 35 37 36 38 35 42 35 47 35 52 36 57 35 57 35 55 35 50 36 47 35 45 35 42 35 38 35 35 36 31 35 27 35 23 35 21 36 18 35 16 35 14 35 13 36 12 35 11 35 11 35 10 35 10 36 10 35 12"/>
<path d="M193 245l35 40 35 40 35 41 36 43 35 48 35 54 35 62 36 65 35 65 35 62 35 58 36 56 35 51 35 47 35 40 35 32 36 27 35 20 35 17 35 13 36 11 35 8 35 8 35 7 36 6 35 6 35 6 35 5 35 5 36 4 35 6"/>
<path d="M193 246l35 53 35 53 35 54 36 58 35 63 35 71 35 73 36 72 35 65 35 60 35 55 36 51 35 46 35 40 35 32 35 25 36 19 35 14 35 10 35 7 36 6 35 4 35 4 35 3 36 2 35 3 35 2 35 2 35 2 36 1 35 2"/>
<path d="M193 245l35 37 35 38 35 38 36 40 35 42 35 47 35 53 36 59 35 62 35 62 35 59 36 54 35 50 35 47 35 42 35 36 36 31 35 26 35 22 35 18 36 15 35 12 35 10 35 9 36 9 35 7 35 7 35 6 35 5 36 5 35 5"/>
<path d="M193 246l35 39 35 41 35 41 36 44 35 48 35 55 35 61 36 65 35 65 35 62 35 60 36 57 35 55 35 49 35 42 35 35 36 26 35 21 35 15 35 12 36 9 35 8 35 6 35 5 36 5 35 5 35 4 35 4 35 4 36 4 35 5"/>
<path d="M193 244l35 43 35 44 35 44 36 46 35 50 35 57 35 63 36 64 35 62 35 56 35 51 36 48 35 43 35 39 35 35 35 30 36 25 35 22 35 18 35 17 36 13 35 12 35 11 35 9 36 9 35 8 35 8 35 7 35 7 36 6 35 7"/>
<path d="M193 245l35 40 35 40 35 42 36 43 35 48 35 55 35 63 36 67 35 67 35 65 35 61 36 58 35 54 35 47 35 41 35 32 36 25 35 20 35 14 35 12 36 9 35 8 35 6 35 6 36 5 35 5 35 4 35 4 35 4 36 4 35 4"/>
<path d="M193 245l35 41 35 42 35 43 36 44 35 47 35 53 35 58 36 64 35 64 35 61 35 57 36 52 35 49 35 44 35 39 35 33 36 27 35 23 35 18 35 15 36 13 35 11 35 9 35 7 36 7 35 7 35 6 35 5 35 5 36 5 35 4"/>
</g>
<g fill="none" stroke="#bebebe" stroke-opacity="0.25" stroke-width="2.8">
<path d="M193 244l16 53 17 63 16 76 17 81 17 70 16 53 17 38 16 29 17 34 16 49 17 64 16 73 17 74 16 65 17 49 17 34 16 17 17 3 16-8 17-8 16-1 17 4 16 9 17 10 16 7 17 2 17-2 16-6 17-6 16-6 17-3 16 0 17 1 16 3 17 3 16 2 50 4 50 1 49 4 50 4 50 2 49 3 50 3 50 2 49 2 50 3"/>
<path d="M193 244l16 49 17 43 16 37 17 36 17 41 16 50 17 62 16 74 17 83 16 84 17 72 16 57 17 44 16 34 17 27 17 24 16 21 17 17 16 12 17 10 16 10 17 9 16 9 17 7 16 5 17 3 17 1 16-1 17-2 16-2 17-1 16 0 17 0 16 2 17 1 16 2 50 6 50 5 49 4 50 3 50 3 49 3 50 3 50 2 49 2 50 3"/>
<path d="M193 244l16 51 17 49 16 47 17 43 17 42 16 42 17 45 16 53 17 61 16 65 17 64 16 58 17 53 16 50 17 48 17 43 16 36 17 28 16 16 17 8 16 4 17 2 16 0 17 0 16 0 17 0 17-1 16 1 17 0 16 2 17 2 16 2 17 3 16 2 17 2 16 2 50 4 50 3 49 4 50 4 50 3 49 3 50 3 50 2 49 2 50 3"/>
<path d="M193 244l16 53 17 62 16 76 17 77 17 64 16 46 17 31 16 28 17 46 16 69 17 84 16 86 17 72 16 54 17 35 17 16 16 2 17-6 16-6 17 2 16 11 17 16 16 15 17 11 16 3 17-3 17-8 16-9 17-7 16-4 17 0 16 2 17 3 16 3 17 2 16 1 50 1 50 3 49 5 50 2 50 3 49 3 50 3 50 2 49 2 50 3"/>
<path d="M193 244l16 55 17 71 16 74 17 56 17 27 16 4 17 10 16 39 17 71 16 101 17 114 16 98 17 66 16 39 17 15 17 1 16-2 17 5 16 13 17 19 16 23 17 21 16 14 17 4 16-3 17-8 17-9 16-7 17-3 16 1 17 3 16 4 17 4 16 3 17 2 16 0 50 1 50 5 49 4 50 3 50 3 49 3 50 3 50 2 49 2 50 3"/>
<path d="M193 244l16 49 17 44 16 41 17 42 17 49 16 57 17 65 16 73 17 79 16 78 17 69 16 55 17 44 16 35 17 27 17 23 16 19 17 16 16 10 17 9 16 9 17 8 16 8 17 6 16 5 17 2 17 1 16-1 17-1 16-1 17-1 16-1 17 0 16 0 17 1 16 2 50 5 50 5 49 4 50 3 50 3 49 3 50 3 50 2 49 2 50 3"/>
<path d="M193 244l16 49 17 41 16 39 17 47 17 62 16 78 17 87 16 86 17 78 16 63 17 44 16 24 17 13 16 16 17 25 17 34 16 40 17 39 16 32 17 23 16 14 17 6 16-1 17-5 16-7 17-8 17-5 16-4 17-1 16 2 17 3 16 3 17 3 16 3 17 1 16 1 50 2 50 3 49 5 50 3 50 3 49 3 50 3 50 2 49 2 50 3"/>
<path d="M193 244l16 51 17 53 16 57 17 58 17 57 16 56 17 55 16 55 17 58 16 58 17 54 16 48 17 44 16 45 17 43 17 40 16 36 17 26 16 15 17 8 16 3 17 0 16 0 17-1 16-1 17-1 17-1 16 0 17 0 16 0 17 1 16 2 17 1 16 1 17 1 16 1 50 4 50 4 49 4 50 3 50 3 49 3 50 3 50 2 49 2 50 3"/>
<path d="M193 244l16 54 17 59 16 47 17 21 17 9 16 26 17 55 16 88 17 115 16 106 17 69 16 29 17 5 16 8 17 26 17 45 16 55 17 52 16 34 17 13 16-2 17-9 16-8 17-3 16 3 17 7 17 8 16 4 17 1 16-1 17-2 16-1 17 1 16 1 17 3 16 3 50 6 50 3 49 4 50 4 50 3 49 3 50 3 50 2 49 2 50 3"/>
<path d="M193 244l16 50 17 43 16 37 17 38 17 46 16 57 17 68 16 77 17 77 16 69 17 52 16 38 17 29 16 31 17 35 17 40 16 41 17 36 16 26 17 16 16 8 17 2 16-2 17-4 16-2 17-2 17 1 16 1 17 3 16 2 17 3 16 2 17 1 16 1 17 1 16 0 50 4 50 6 49 4 50 3 50 3 49 3 50 3 50 2 49 2 50 3"/>
</g>
<g fill="none" stroke="#80ff00" stroke-opacity="0.3" stroke-width="3.2">
<path d="M193 244l35 15 35 15 35 15 36 14 35 12 35 8 35 7 36 8 35 12 35 18 35 27 36 39 35 53 35 68 35 82 35 86 36 82 35 74 35 65 35 55 36 46 35 38 35 29 35 23 36 18 35 13 35 10 35 7 35 6 36 5 35 4"/>
<path d="M193 244l35 14 35 14 35 14 36 14 35 13 35 14 35 13 36 13 35 15 35 16 35 17 36 19 35 23 35 27 35 35 35 44 36 59 35 72 35 80 35 81 36 79 35 71 35 59 35 45 36 32 35 23 35 16 35 11 35 9 36 6 35 6"/>
<path d="M193 244l35 18 35 18 35 18 36 17 35 17 35 16 35 14 36 15 35 18 35 21 35 28 36 37 35 46 35 59 35 67 35 70 36 67 35 62 35 56 35 52 36 46 35 41 35 35 35 30 36 24 35 19 35 14 35 10 35 8 36 6 35 5"/>
<path d="M193 244l35 15 35 14 35 14 36 15 35 14 35 14 35 14 36 14 35 15 35 14 35 16 36 17 35 19 35 23 35 28 35 37 36 48 35 64 35 78 35 83 36 82 35 78 35 66 35 51 36 39 35 27 35 19 35 13 35 10 36 7 35 6"/>
<path d="M193 244l35 15 35 15 35 15 36 14 35 14 35 13 35 12 36 13 35 14 35 17 35 19 36 23 35 28 35 35 35 43 35 55 36 66 35 73 35 75 35 73 36 70 35 63 35 52 35 40 36 30 35 21 35 15 35 11 35 8 36 6 35 6"/>
<path d="M193 244l35 20 35 21 35 20 36 20 35 19 35 19 35 18 36 18 35 20 35 25 35 31 36 39 35 49 35 57 35 61 35 62 36 58 35 53 35 49 35 44 36 42 35 39 35 37 35 33 36 27 35 22 35 17 35 12 35 9 36 7 35 6"/>
<path d="M193 244l35 18 35 17 35 19 36 22 35 26 35 33 35 38 36 36 35 30 35 25 35 21 36 20 35 24 35 32 35 45 35 56 36 60 35 59 35 58 35 56 36 52 35 46 35 40 35 32 36 26 35 19 35 14 35 11 35 8 36 6 35 5"/>
<path d="M193 244l35 15 35 14 35 13 36 13 35 11 35 7 35 6 36 6 35 9 35 14 35 18 36 24 35 28 35 33 35 39 35 46 36 59 35 71 35 80 35 80 36 79 35 72 35 61 35 47 36 34 35 24 35 17 35 13 35 8 36 7 35 6"/>
<path d="M193 244l35 20 35 20 35 19 36 19 35 16 35 14 35 11 36 11 35 17 35 24 35 36 36 49 35 63 35 72 35 75 35 69 36 62 35 55 35 47 35 41 36 36 35 33 35 31 35 27 36 24 35 18 35 14 35 11 35 8 36 6 35 6"/>
<path d="M193 244l35 11 35 10 35 11 36 11 35 11 35 12 35 12 36 12 35 14 35 14 35 15 36 16 35 17 35 19 35 24 35 32 36 45 35 65 35 89 35 100 36 98 35 90 35 71 35 51 36 34 35 23 35 16 35 11 35 8 36 6 35 6"/>
<path d="M193 244l35 20 35 19 35 20 36 19 35 18 35 16 35 15 36 15 35 18 35 25 35 34 36 44 35 57 35 66 35 71 35 67 36 62 35 55 35 49 35 43 36 38 35 35 35 32 35 28 36 24 35 19 35 14 35 11 35 8 36 6 35 6"/>
<path d="M193 244l35 20 35 19 35 20 36 20 35 21 35 22 35 23 36 22 35 22 35 22 35 25 36 28 35 35 35 42 35 50 35 55 36 58 35 56 35 54 35 52 36 50 35 48 35 43 35 38 36 31 35 24 35 18 35 13 35 10 36 7 35 6"/>
<path d="M193 244l35 18 35 17 35 18 36 19 35 19 35 19 35 21 36 20 35 21 35 23 35 27 36 35 35 44 35 56 35 66 35 69 36 67 35 61 35 57 35 51 36 45 35 39 35 34 35 28 36 22 35 17 35 13 35 10 35 7 36 6 35 5"/>
<path d="M193 244l35 16 35 17 35 15 36 16 35 14 35 13 35 11 36 12 35 13 35 17 35 20 36 26 35 31 35 38 35 47 35 56 36 64 35 69 35 70 35 68 36 65 35 60 35 51 35 41 36 31 35 23 35 17 35 12 35 9 36 6 35 6"/>
<path d="M193 244l35 11 35 11 35 11 36 11 35 9 35 7 35 6 36 6 35 10 35 13 35 17 36 22 35 25 35 29 35 34 35 43 36 58 35 76 35 91 35 94 36 89 35 80 35 62 35 45 36 30 35 21 35 14 35 10 35 8 36 6 35 5"/>
<path d="M193 244l35 16 35 15 35 16 36 17 35 20 35 22 35 24 36 24 35 22 35 18 35 15 36 15 35 17 35 22 35 31 35 43 36 56 35 67 35 73 35 74 36 72 35 66 35 57 35 44 36 33 35 24 35 17 35 12 35 9 36 7 35 6"/>
<path d="M193 244l35 16 35 15 35 16 36 18 35 20 35 23 35 26 36 26 35 24 35 22 35 21 36 22 35 28 35 38 35 52 35 64 36 71 35 70 35 66 35 63 36 57 35 48 35 39 35 31 36 23 35 16 35 13 35 9 35 7 36 5 35 5"/>
<path d="M193 244l35 8 35 8 35 8 36 9 35 11 35 12 35 13 36 15 35 16 35 15 35 16 36 16 35 16 35 19 35 23 35 33 36 48 35 73 35 99 35 109 36 104 35 90 35 66 35 44 36 28 35 18 35 12 35 9 35 6 36 5 35 5"/>
<path d="M193 244l35 16 35 16 35 16 36 16 35 16 35 14 35 15 36 15 35 17 35 20 35 26 36 33 35 43 35 56 35 69 35 75 36 75 35 69 35 63 35 57 36 50 35 42 35 34 35 27 36 21 35 16 35 11 35 9 35 7 36 5 35 5"/>
</g>
<g fill="none" stroke="#ff0000" stroke-opacity="0.22" stroke-width="3.2">
<path d="M193 244l35 18 35 18 35 19 36 19 35 21 35 21 35 22 36 24 35 24 35 28 35 33 36 42 35 53 35 65 35 72 35 72 36 66 35 59 35 51 35 45 36 41 35 35 35 28 35 21 36 16 35 11 35 9 35 7 35 5 36 5 35 4"/>
<path d="M193 244l35 22 35 23 35 24 36 27 35 32 35 37 35 41 36 42 35 40 35 40 35 42 36 46 35 51 35 51 35 50 35 48 36 45 35 39 35 36 35 34 36 32 35 31 35 28 35 24 36 19 35 14 35 11 35 8 35 7 36 5 35 5"/>
<path d="M193 244l35 20 35 20 35 21 36 24 35 27 35 32 35 35 36 36 35 36 35 36 35 40 36 47 35 55 35 61 35 62 35 59 36 53 35 47 35 41 35 37 36 34 35 30 35 25 35 20 36 15 35 11 35 9 35 6 35 6 36 4 35 5"/>
<path d="M193 244l35 24 35 23 35 25 36 27 35 29 35 33 35 34 36 36 35 38 35 42 35 48 36 56 35 60 35 59 35 56 35 50 36 43 35 38 35 33 35 29 36 28 35 27 35 26 35 23 36 18 35 13 35 11 35 8 35 7 36 5 35 5"/>
<path d="M193 244l35 22 35 22 35 22 36 23 35 21 35 19 35 18 36 19 35 22 35 30 35 39 36 51 35 63 35 69 35 69 35 65 36 57 35 49 35 41 35 38 36 35 35 33 35 30 35 26 36 19 35 15 35 11 35 9 35 6 36 6 35 5"/>
<path d="M193 244l35 15 35 14 35 14 36 15 35 15 35 16 35 16 36 17 35 18 35 18 35 20 36 22 35 26 35 31 35 39 35 51 36 67 35 78 35 83 35 80 36 71 35 60 35 50 35 38 36 25 35 17 35 11 35 9 35 7 36 6 35 5"/>
<path d="M193 244l35 27 35 28 35 29 36 33 35 36 35 40 35 45 36 49 35 54 35 61 35 67 36 64 35 58 35 50 35 41 35 35 36 30 35 25 35 20 35 17 36 16 35 19 35 20 35 21 36 17 35 15 35 11 35 8 35 7 36 6 35 5"/>
<path d="M193 244l35 9 35 9 35 9 36 9 35 10 35 11 35 11 36 12 35 13 35 14 35 15 36 16 35 18 35 20 35 23 35 30 36 41 35 65 35 96 35 115 36 109 35 87 35 68 35 50 36 32 35 20 35 14 35 9 35 8 36 6 35 5"/>
<path d="M193 244l35 7 35 8 35 7 36 8 35 7 35 8 35 7 36 8 35 11 35 13 35 17 36 20 35 24 35 28 35 32 35 41 36 57 35 85 35 109 35 114 36 98 35 78 35 59 35 38 36 23 35 15 35 9 35 8 35 6 36 4 35 5"/>
<path d="M193 244l35 14 35 14 35 14 36 15 35 17 35 19 35 21 36 21 35 21 35 21 35 20 36 21 35 22 35 27 35 35 35 49 36 64 35 78 35 84 35 81 36 71 35 61 35 50 35 36 36 24 35 17 35 11 35 9 35 6 36 6 35 5"/>
<path d="M193 244l35 22 35 22 35 22 36 22 35 22 35 20 35 20 36 20 35 24 35 29 35 38 36 49 35 60 35 66 35 67 35 64 36 57 35 49 35 43 35 38 36 36 35 34 35 32 35 26 36 20 35 15 35 11 35 8 35 7 36 6 35 5"/>
<path d="M193 244l35 19 35 19 35 19 36 20 35 21 35 22 35 22 36 24 35 27 35 31 35 40 36 53 35 68 35 77 35 79 35 73 36 62 35 51 35 45 35 37 36 32 35 27 35 21 35 17 36 12 35 10 35 7 35 6 35 5 36 4 35 4"/>
<path d="M193 244l35 10 35 10 35 11 36 11 35 13 35 14 35 16 36 18 35 17 35 19 35 18 36 19 35 20 35 22 35 29 35 38 36 57 35 81 35 99 35 101 36 88 35 72 35 56 35 39 36 25 35 15 35 11 35 9 35 6 36 5 35 5"/>
<path d="M193 244l35 18 35 17 35 18 36 19 35 19 35 21 35 21 36 22 35 23 35 24 35 28 36 31 35 39 35 50 35 59 35 67 36 68 35 66 35 61 35 55 36 50 35 44 35 38 35 27 36 20 35 14 35 11 35 8 35 6 36 5 35 5"/>
<path d="M193 244l35 22 35 21 35 23 36 24 35 26 35 28 35 29 36 31 35 31 35 35 35 39 36 48 35 56 35 61 35 61 35 58 36 53 35 45 35 41 35 37 36 34 35 32 35 29 35 23 36 19 35 13 35 10 35 8 35 7 36 5 35 5"/>
<path d="M193 244l35 27 35 26 35 28 36 30 35 30 35 31 35 33 36 38 35 44 35 57 35 68 36 73 35 70 35 63 35 54 35 44 36 36 35 29 35 22 35 17 36 16 35 17 35 19 35 18 36 16 35 13 35 10 35 8 35 7 36 5 35 5"/>
<path d="M193 244l35 26 35 25 35 27 36 27 35 26 35 24 35 24 36 28 35 35 35 49 35 63 36 75 35 77 35 73 35 64 35 52 36 42 35 33 35 26 35 20 36 19 35 19 35 19 35 19 36 15 35 13 35 10 35 8 35 6 36 5 35 5"/>
<path d="M193 244l35 13 35 13 35 13 36 13 35 13 35 12 35 12 36 13 35 15 35 18 35 21 36 25 35 30 35 37 35 47 35 62 36 76 35 85 35 87 35 78 36 69 35 58 35 45 35 32 36 20 35 14 35 10 35 7 35 6 36 5 35 5"/>
<path d="M193 244l35 23 35 22 35 24 36 24 35 27 35 27 35 29 36 30 35 32 35 37 35 44 36 54 35 62 35 64 35 62 35 56 36 50 35 42 35 37 35 33 36 30 35 29 35 27 35 23 36 18 35 13 35 10 35 8 35 7 36 5 35 5"/>
</g>
<defs><path id="m1" d="M193 244l12 38 13 38 12 38 12 38 13 39 12 38 13 39 12 40 12 41 13 43 12 45 13 49 12 49 13 47 12 42 12 38 13 35 12 32 13 31 12 29 12 28 13 25 12 22 13 17 12 12 12 8 13 5 12 3 13 3 12 2 13 1 12 1 12 1 13 0 12 0 13 0 12-1 12 0 13 0 12 0 13 0 12 1 12 0 13 1 12 1 13 1 12 1 12 2 13 1 12 1 13 1 12 1 13 1 12 1 12 1 13 1 12 1 13 1 12 1 12 1 13 0 12 1 13 1 12 1 12 1 13 1 12 0 13 1 12 1 13 1 12 0 12 1 13 1 12 0 13 1 12 1 12 0 13 1 12 1 13 0 12 1 12 0 13 1 12 0 13 1 12 1 12 0 13 1"/></defs>
<use href="#m1" fill="none" stroke="#000" stroke-width="13.6"/>
<use href="#m1" fill="none" stroke="#bebebe" stroke-width="6.4"/>
<defs><path id="m2" d="M193 244l12 7 13 6 12 7 12 7 13 6 12 7 13 7 12 7 12 7 13 7 12 7 13 7 12 7 13 8 12 7 12 8 13 7 12 8 13 8 12 7 12 8 13 8 12 8 13 8 12 9 12 8 13 9 12 9 13 10 12 10 13 10 12 11 12 12 13 13 12 14 13 15 12 16 12 18 13 19 12 20 13 20 12 22 12 22 13 23 12 23 13 23 12 22 12 23 13 22 12 22 13 21 12 20 13 20 12 19 12 18 13 18 12 17 13 17 12 16 12 16 13 15 12 15 13 14 12 13 12 12 13 12 12 10 13 9 12 8 13 8 12 6 12 6 13 5 12 5 13 4 12 3 12 4 13 3 12 3 13 2 12 3 12 2 13 2 12 2 13 2 12 1 12 2 13 2"/></defs>
<use href="#m2" fill="none" stroke="#000" stroke-width="13.6"/>
<use href="#m2" fill="none" stroke="#ff0000" stroke-width="8.8"/>
<defs><path id="m3" d="M193 244l12 6 13 6 12 5 12 6 13 6 12 6 13 5 12 6 12 6 13 6 12 6 13 6 12 6 13 6 12 6 12 6 13 6 12 6 13 6 12 7 12 6 13 6 12 7 13 6 12 7 12 6 13 7 12 7 13 7 12 7 13 8 12 8 12 9 13 10 12 10 13 12 12 12 12 14 13 14 12 16 13 17 12 19 12 20 13 22 12 22 13 24 12 24 12 24 13 25 12 24 13 24 12 23 13 24 12 22 12 23 13 22 12 22 13 21 12 21 12 19 13 19 12 18 13 17 12 16 12 15 13 13 12 13 13 11 12 11 13 9 12 8 12 8 13 7 12 6 13 5 12 5 12 5 13 4 12 3 13 3 12 3 12 3 13 2 12 2 13 2 12 2 12 2 13 2"/></defs>
<use href="#m3" fill="none" stroke="#000" stroke-width="13.6"/>
<use href="#m3" fill="none" stroke="#80ff00" stroke-width="8.8"/>
<defs><path id="m4" d="M193 244l12 10 13 10 12 9 12 10 13 10 12 10 13 10 12 10 12 11 13 10 12 11 13 11 12 11 13 12 12 12 12 12 13 12 12 13 13 13 12 14 12 14 13 14 12 15 13 16 12 16 12 17 13 18 12 18 13 18 12 18 13 18 12 19 12 18 13 17 12 17 13 17 12 15 12 16 13 15 12 15 13 14 12 15 12 14 13 14 12 15 13 13 12 14 12 14 13 13 12 13 13 13 12 13 13 13 12 12 12 12 13 12 12 12 13 11 12 12 12 11 13 11 12 10 13 10 12 10 12 9 13 9 12 7 13 8 12 6 13 6 12 6 12 5 13 5 12 4 13 4 12 3 12 4 13 3 12 3 13 2 12 3 12 2 13 2 12 2 13 2 12 2 12 2 13 2"/></defs>
<use href="#m4" fill="none" stroke="#000" stroke-width="13.6"/>
<use href="#m4" fill="none" stroke="#00ffff" stroke-width="8.8"/>
<defs><path id="m5" d="M193 244l12 14 13 14 12 14 12 14 13 14 12 14 13 15 12 14 12 14 13 15 12 15 13 15 12 16 13 16 12 17 12 18 13 18 12 20 13 20 12 20 12 21 13 22 12 22 13 21 12 22 12 21 13 21 12 20 13 19 12 19 13 18 12 18 12 17 13 17 12 16 13 16 12 16 12 15 13 15 12 14 13 14 12 13 12 13 13 12 12 11 13 11 12 11 12 10 13 9 12 9 13 8 12 8 13 8 12 7 12 6 13 7 12 6 13 6 12 5 12 5 13 5 12 5 13 4 12 4 12 4 13 4 12 3 13 4 12 3 13 4 12 3 12 3 13 3 12 3 13 3 12 3 12 3 13 3 12 2 13 3 12 2 12 3 13 2 12 2 13 3 12 2 12 2 13 3"/></defs>
<use href="#m5" fill="none" stroke="#000" stroke-width="13.6"/>
<use href="#m5" fill="none" stroke="#8000ff" stroke-width="8.8"/>
<g fill="#bebebe" fill-opacity="0.041999999999999996">
<path d="M202 3658l17-4 16-24 17-37 16-37 17-12 17-13 16-1 17 1 16 8 17 5 16 14 17-7 16 0 17 10 16-3 17-1 16 2 17 1 16 10 17-5 16-13 17 1 16 4 17-2 16-1 17 6 16 0 17-1 16 4 17 5 17 5 16 7 17 10 16 12 17 10 16 10 50 21 49 9 50 3 49 2 50 1 49 0 50 0 50 0 49 0 50 0 0 0-50 0-49 0-50 0-50 0-49 0-50 1-49 1-50 1-49 2-50 2-16 0-17 2-16 1-17 2-16 2-17 4-17-2-16 3-17 8-16 6-17 0-16 1-17 1-16 2-17 3-16 5-17 8-16 13-17 9-16 25-17 1-16 9-17 18-16-2-17-7-16 15-17 12-16 2-17-8-16-4-17-12-17-26-16-35-17-39-16-20-17-4z"/>
<path d="M202 3658l17-3 16-13 17-22 16-28 17-22 17-14 16-2 17-4 16 7 17 10 16 9 17 9 16 3 17 3 16 2 17 0 16 4 17 2 16-4 17 3 16 3 17 6 16 6 17 3 16 5 17 7 16 6 17 1 16 0 17 3 17 4 16 5 17 1 16 2 17 1 16 1 50 2 49 2 50 1 49 0 50 1 49 0 50 0 50 0 49 0 50 0 0 0-50 0-49 0-50 0-50 0-49 0-50 0-49 1-50 1-49 1-50 1-16 1-17 0-16 1-17 1-16 2-17 1-17 1-16 2-17 2-16 4-17 6-16 1-17 8-16 3-17 3-16 5-17 6-16 4-17 1-16 8-17 4-16 1-17 3-16 6-17-3-16 0-17 8-16 7-17 14-16 1-17-14-17-20-16-26-17-27-16-15-17-3z"/>
<path d="M202 3658l17-2 16-8 17-15 16-19 17-17 17-13 16-2 17 2 16 9 17 11 16 0 17 6 16 6 17 1 16 1 17 1 16 2 17 0 16 3 17-1 16 3 17-3 16 8 17 3 16 6 17 2 16 1 17 2 16 3 17 1 17 2 16 2 17 1 16 1 17 0 16 0 50 0 49 2 50 0 49 1 50 0 49 0 50 0 50 0 49 0 50 0 0 0-50 0-49 0-50 0-50 0-49 0-50 0-49 1-50 0-49 1-50 1-16-1-17 1-16 1-17 1-16 1-17 1-17 1-16 0-17 1-16 2-17 3-16 3-17 4-16 4-17 2-16 4-17 3-16 1-17-4-16 5-17 7-16-1-17 8-16 0-17-2-16 7-17 7-16 9-17 2-16-2-17-8-17-13-16-23-17-16-16-9-17-2z"/>
<path d="M202 3658l17-1 16-7 17-10 16-11 17-11 17-8 16-9 17 1 16 8 17 11 16 7 17-3 16 3 17 2 16 2 17 4 16-5 17 3 16 0 17 3 16 0 17 2 16 3 17 1 16 2 17 2 16 2 17 1 16 1 17 2 17 1 16 1 17 1 16 0 17 0 16 0 50 1 49 0 50 1 49 0 50 0 49 0 50 0 50 0 49 0 50 0 0 0-50 0-49 0-50 0-50 0-49 0-50 0-49 0-50 1-49 0-50 0-16 1-17 0-16 0-17 1-16 0-17 1-17 1-16 0-17 1-16 1-17 1-16 2-17 3-16 2-17 2-16 0-17 3-16-1-17-2-16 5-17 0-16 6-17 2-16 2-17 0-16 3-17 7-16 5-17 1-16-5-17-1-17-13-16-12-17-9-16-7-17-1z"/>
<path d="M202 3658l17-1 16-4 17-7 16-7 17-5 17-7 16-2 17-2 16 5 17 7 16 6 17-1 16-4 17 3 16 7 17 0 16 0 17-3 16 0 17 2 16 1 17 2 16 1 17 0 16 2 17 0 16 1 17 1 16 1 17 1 17 0 16 2 17 0 16 0 17 0 16 0 50 0 49 0 50 1 49 0 50 0 49 0 50 0 50 0 49 0 50 0 0 0-50 0-49 0-50 0-50 0-49 0-50 0-49 0-50 0-49 1-50 0-16 0-17 0-16 0-17 0-16 0-17 1-17 0-16 1-17 0-16 1-17 0-16 2-17 1-16 1-17 2-16 0-17 0-16 1-17-1-16-2-17 2-16 3-17 1-16 4-17 5-16-1-17 1-16 3-17 3-16-6-17-3-17-6-16-4-17-6-16-3-17-1z"/>
<path d="M202 3658l17 0 16-2 17-4 16-2 17-6 17 3 16-3 17 4 16 3 17 1 16-1 17-2 16-1 17-1 16 2 17 1 16 2 17-1 16 1 17 1 16 0 17 0 16 0 17 1 16 1 17 0 16 0 17 1 16 0 17 0 17 1 16 0 17 1 16 0 17 0 16 0 50 0 49 0 50 0 49 0 50 0 49 0 50 0 50 0 49 0 50 0 0 0-50 0-49 0-50 0-50 0-49 0-50 0-49 0-50 0-49 0-50 0-16 1-17 0-16 0-17 0-16 0-17 0-17 0-16 0-17 0-16 1-17 0-16 0-17 1-16 0-17 1-16 1-17-1-16-1-17 1-16-2-17-1-16 3-17 1-16 3-17-2-16 3-17 3-16 3-17 3-16-6-17-4-17-2-16-2-17-2-16-2-17 0z"/>
</g>
<g fill="#ff0000" fill-opacity="0.08">
<path d="M202 3658l36-91 35-93 35-95 35-106 35-118 35-90 36-72 35-58 35-26 35-2 35 8 35 18 36 24 35 26 35 26 35 34 35 44 35 64 36 86 35 97 35 84 35 63 35 53 36 44 35 24 35 19 35 13 35 9 35 6 36 5 35 4 0 0-35-2-36-2-35-3-35-4-35-5-35-7-35-11-36-11-35-13-35-16-35-6-35-12-36-12-35-19-35-25-35-20-35-28-35-47-36-53-35-65-35-66-35-58-35-18-35 17-36 37-35 63-35 87-35 84-35 72-35 72-36 71z"/>
<path d="M202 3658l36-89 35-90 35-92 35-105 35-114 35-88 36-71 35-57 35-24 35 3 35 12 35 16 36 23 35 29 35 28 35 38 35 49 35 66 36 88 35 82 35 77 35 59 35 49 36 37 35 25 35 16 35 11 35 8 35 6 36 4 35 4 0 0-35-2-36-3-35-3-35-5-35-6-35-8-35-12-36-15-35-16-35-18-35-17-35-15-36-18-35-23-35-29-35-41-35-43-35-57-36-62-35-52-35-56-35-34-35-6-35 25-36 42-35 67-35 95-35 87-35 76-35 75-36 74z"/>
<path d="M202 3658l36-88 35-88 35-90 35-104 35-112 35-85 36-68 35-53 35-21 35 5 35 12 35 19 36 22 35 27 35 28 35 42 35 54 35 69 36 83 35 83 35 66 35 58 35 44 36 30 35 22 35 15 35 10 35 7 35 6 36 4 35 3 0 0-35-2-36-3-35-4-35-5-35-6-35-9-35-13-36-17-35-21-35-21-35-21-35-21-36-23-35-32-35-38-35-46-35-51-35-52-36-61-35-51-35-38-35-28-35 0-35 31-36 47-35 67-35 99-35 89-35 78-35 76-36 76z"/>
<path d="M202 3658l36-86 35-87 35-89 35-102 35-111 35-83 36-65 35-50 35-19 35 6 35 13 35 18 36 24 35 28 35 35 35 43 35 60 35 69 36 73 35 72 35 64 35 54 35 41 36 30 35 20 35 13 35 10 35 7 35 5 36 4 35 3 0 0-35-3-36-3-35-3-35-6-35-7-35-10-35-13-36-19-35-21-35-23-35-24-35-28-36-30-35-35-35-40-35-46-35-51-35-57-36-55-35-48-35-41-35-27-35 5-35 37-36 53-35 72-35 99-35 90-35 80-35 77-36 77z"/>
<path d="M202 3658l36-84 35-85 35-87 35-99 35-109 35-82 36-61 35-49 35-16 35 8 35 18 35 24 36 23 35 29 35 36 35 43 35 66 35 72 36 72 35 60 35 56 35 42 35 37 36 28 35 18 35 13 35 9 35 6 35 5 36 4 35 3 0 0-35-3-36-3-35-4-35-5-35-8-35-10-35-15-36-19-35-23-35-25-35-28-35-31-36-30-35-38-35-43-35-48-35-54-35-59-36-53-35-49-35-32-35-21-35 6-35 39-36 54-35 73-35 100-35 92-35 81-35 78-36 78z"/>
<path d="M202 3658l36-81 35-82 35-84 35-96 35-105 35-80 36-63 35-46 35-14 35 13 35 25 35 38 36 54 35 57 35 60 35 50 35 55 35 44 36 38 35 37 35 34 35 35 35 30 36 26 35 17 35 12 35 9 35 6 35 5 36 3 35 3 0 0-35-3-36-3-35-4-35-6-35-8-35-11-35-15-36-21-35-24-35-29-35-27-35-32-36-35-35-39-35-44-35-49-35-57-35-58-36-55-35-43-35-31-35-19-35 9-35 41-36 56-35 73-35 102-35 93-35 81-35 79-36 79z"/>
</g>
<g fill="#8000ff" fill-opacity="0.13">
<path d="M202 3658l36-68 35-69 35-72 35-82 35-91 35-60 36-36 35-16 35 18 35 43 35 46 35 50 36 45 35 42 35 35 35 31 35 28 35 21 36 19 35 16 35 15 35 12 35 11 36 10 35 8 35 8 35 8 35 7 35 7 36 7 35 7 0 0-35 1-36 0-35 1-35 1-35 0-35 0-35 1-36 0-35 0-35 0-35-3-35-3-36-6-35-9-35-16-35-24-35-34-35-42-36-52-35-49-35-49-35-45-35-26-35 0-36 16-35 38-35 71-35 66-35 56-35 54-36 54z"/>
<path d="M202 3658l36-67 35-67 35-70 35-81 35-88 35-57 36-34 35-14 35 21 35 47 35 48 35 45 36 46 35 43 35 35 35 32 35 26 35 21 36 18 35 15 35 13 35 10 35 9 36 8 35 7 35 7 35 6 35 5 35 5 36 6 35 5 0 0-35 0-36 0-35 0-35 0-35 0-35 0-35 0-36-1-35-1-35-1-35-3-35-5-36-7-35-13-35-18-35-26-35-34-35-43-36-51-35-51-35-50-35-45-35-25-35 4-36 17-35 41-35 72-35 69-35 59-35 57-36 56z"/>
<path d="M202 3658l36-65 35-67 35-68 35-80 35-87 35-55 36-31 35-12 35 23 35 44 35 51 35 48 36 46 35 43 35 36 35 28 35 25 35 21 36 16 35 13 35 12 35 9 35 8 36 7 35 6 35 5 35 6 35 5 35 4 36 5 35 4 0 0-35 0-36-1-35 0-35 0-35-1-35-1-35 0-36-2-35-1-35-3-35-4-35-6-36-8-35-14-35-20-35-24-35-37-35-46-36-50-35-50-35-52-35-47-35-26-35 5-36 20-35 45-35 76-35 71-35 61-35 58-36 58z"/>
<path d="M202 3658l36-64 35-65 35-68 35-78 35-85 35-53 36-29 35-10 35 24 35 44 35 51 35 49 36 47 35 42 35 36 35 27 35 25 35 19 36 15 35 12 35 10 35 8 35 7 36 6 35 5 35 5 35 5 35 4 35 4 36 4 35 3 0 0-35-1-36 0-35-1-35-1-35-1-35-1-35-1-36-2-35-2-35-3-35-5-35-6-36-10-35-14-35-20-35-28-35-36-35-46-36-51-35-51-35-49-35-47-35-24-35 6-36 21-35 45-35 78-35 71-35 62-35 59-36 59z"/>
<path d="M202 3658l36-63 35-64 35-66 35-77 35-84 35-52 36-28 35-9 35 23 35 47 35 50 35 50 36 49 35 44 35 36 35 27 35 23 35 17 36 14 35 11 35 9 35 7 35 6 36 5 35 5 35 4 35 3 35 4 35 3 36 3 35 3 0 0-35-1-36-1-35-1-35-2-35-1-35-2-35-2-36-2-35-3-35-4-35-5-35-8-36-9-35-15-35-22-35-29-35-38-35-43-36-50-35-50-35-51-35-47-35-25-35 5-36 24-35 47-35 80-35 73-35 63-35 60-36 60z"/>
<path d="M202 3659l36-63 35-63 35-65 35-77 35-83 35-51 36-27 35-9 35 24 35 47 35 52 35 50 36 50 35 43 35 36 35 28 35 22 35 16 36 13 35 10 35 8 35 7 35 5 36 4 35 4 35 4 35 3 35 3 35 3 36 3 35 2 0 0-35-1-36-2-35-2-35-2-35-3-35-2-35-3-36-3-35-4-35-5-35-7-35-9-36-11-35-16-35-20-35-28-35-35-35-45-36-50-35-50-35-50-35-47-35-24-35 5-36 25-35 49-35 80-35 75-35 63-35 62-36 61z"/>
</g>
<g fill="#80ff00" fill-opacity="0.13">
<path d="M202 3658l36-91 35-92 35-95 35-106 35-116 35-90 36-73 35-59 35-27 35 0 35 11 35 15 36 19 35 20 35 19 35 23 35 37 35 52 36 81 35 84 35 99 35 79 35 61 36 41 35 37 35 24 35 17 35 12 35 8 36 6 35 4 0 0-35-2-36-3-35-4-35-5-35-8-35-10-35-15-36-19-35-22-35-20-35-25-35-24-36-34-35-50-35-48-35-49-35-49-35-61-36-56-35-44-35-27-35-19-35 6-35 36-36 49-35 71-35 101-35 92-35 82-35 79-36 78z"/>
<path d="M202 3658l36-88 35-90 35-92 35-104 35-114 35-89 36-72 35-58 35-26 35 1 35 11 35 18 36 19 35 22 35 25 35 31 35 40 35 59 36 77 35 85 35 84 35 74 35 56 36 39 35 28 35 22 35 15 35 11 35 7 36 5 35 4 0 0-35-3-36-3-35-4-35-6-35-9-35-13-35-17-36-22-35-27-35-32-35-35-35-37-36-39-35-45-35-50-35-51-35-61-35-60-36-45-35-30-35-22-35-9-35 10-35 39-36 53-35 76-35 104-35 95-35 83-35 81-36 79z"/>
<path d="M202 3658l36-87 35-88 35-91 35-103 35-113 35-87 36-72 35-57 35-25 35 2 35 13 35 20 36 24 35 27 35 30 35 38 35 53 35 62 36 73 35 78 35 67 35 64 35 49 36 36 35 28 35 20 35 14 35 10 35 7 36 4 35 4 0 0-35-3-36-3-35-5-35-6-35-9-35-14-35-18-36-25-35-31-35-35-35-38-35-42-36-50-35-53-35-53-35-55-35-57-35-50-36-42-35-29-35-17-35-12-35 16-35 45-36 58-35 78-35 107-35 96-35 85-35 81-36 81z"/>
<path d="M202 3658l36-86 35-86 35-90 35-102 35-112 35-86 36-70 35-56 35-24 35 4 35 15 35 20 36 28 35 32 35 33 35 43 35 55 35 62 36 68 35 65 35 67 35 57 35 46 36 35 35 26 35 19 35 13 35 9 35 7 36 4 35 4 0 0-35-3-36-3-35-5-35-7-35-10-35-14-35-20-36-26-35-34-35-37-35-43-35-45-36-52-35-53-35-59-35-57-35-54-35-44-36-39-35-27-35-18-35-9-35 17-35 46-36 62-35 81-35 107-35 97-35 85-35 83-36 81z"/>
<path d="M202 3658l36-85 35-86 35-89 35-101 35-111 35-84 36-70 35-55 35-22 35 4 35 15 35 22 36 28 35 35 35 41 35 50 35 57 35 61 36 64 35 61 35 60 35 51 35 43 36 33 35 25 35 18 35 12 35 9 35 6 36 5 35 3 0 0-35-3-36-4-35-5-35-7-35-11-35-15-35-21-36-28-35-33-35-40-35-46-35-50-36-52-35-55-35-61-35-57-35-53-35-44-36-35-35-26-35-17-35-7-35 18-35 50-36 62-35 82-35 108-35 99-35 86-35 83-36 82z"/>
<path d="M202 3658l36-84 35-85 35-88 35-101 35-110 35-84 36-67 35-53 35-21 35 5 35 15 35 22 36 28 35 38 35 44 35 54 35 61 35 62 36 61 35 58 35 52 35 48 35 40 36 31 35 23 35 17 35 12 35 9 35 5 36 5 35 3 0 0-35-3-36-4-35-5-35-8-35-11-35-16-35-22-36-29-35-34-35-44-35-47-35-50-36-56-35-59-35-59-35-58-35-50-35-44-36-32-35-26-35-17-35-6-35 19-35 51-36 65-35 83-35 109-35 99-35 87-35 84-36 83z"/>
</g>
<g fill="#00ffff" fill-opacity="0.14">
<path d="M202 3658l36-87 35-88 35-90 35-103 35-111 35-85 36-69 35-51 35-18 35 7 35 22 35 28 36 35 35 42 35 47 35 53 35 55 35 56 36 57 35 56 35 53 35 44 35 41 36 32 35 21 35 17 35 12 35 9 35 6 36 5 35 4 0 0-35-2-36-3-35-3-35-4-35-4-35-6-35-6-36-6-35-9-35-10-35-14-35-16-36-19-35-21-35-20-35-23-35-19-35-28-36-24-35-31-35-42-35-46-35-33-35-9-36 9-35 46-35 78-35 75-35 64-35 63-36 63z"/>
<path d="M202 3658l36-86 35-86 35-89 35-100 35-109 35-82 36-64 35-48 35-15 35 10 35 24 35 26 36 41 35 42 35 49 35 57 35 53 35 48 36 49 35 52 35 50 35 45 35 38 36 28 35 20 35 14 35 11 35 8 35 5 36 5 35 4 0 0-35-3-36-3-35-3-35-4-35-6-35-7-35-8-36-10-35-10-35-13-35-17-35-19-36-22-35-23-35-25-35-23-35-26-35-31-36-37-35-40-35-44-35-45-35-26-35 7-36 24-35 51-35 83-35 78-35 68-35 67-36 67z"/>
<path d="M202 3658l36-82 35-83 35-85 35-97 35-106 35-80 36-59 35-42 35-12 35 15 35 23 35 34 36 42 35 44 35 47 35 45 35 46 35 48 36 48 35 47 35 47 35 38 35 34 36 25 35 19 35 13 35 10 35 7 35 6 36 4 35 4 0 0-35-3-36-3-35-4-35-5-35-6-35-7-35-10-36-11-35-14-35-17-35-22-35-21-36-25-35-23-35-27-35-28-35-28-35-34-36-37-35-41-35-41-35-42-35-22-35 12-36 30-35 55-35 88-35 80-35 70-35 68-36 68z"/>
<path d="M202 3658l36-78 35-78 35-81 35-93 35-101 35-71 36-54 35-37 35-4 35 21 35 37 35 47 36 50 35 46 35 47 35 37 35 33 35 32 36 35 35 33 35 33 35 33 35 29 36 25 35 17 35 13 35 9 35 7 35 5 36 4 35 4 0 0-35-3-36-3-35-4-35-5-35-7-35-9-35-10-36-13-35-17-35-19-35-23-35-24-36-25-35-25-35-29-35-25-35-34-35-35-36-38-35-43-35-45-35-40-35-17-35 19-36 35-35 58-35 89-35 82-35 71-35 70-36 69z"/>
<path d="M202 3658l36-76 35-76 35-78 35-89 35-98 35-69 36-51 35-34 35-1 35 28 35 43 35 44 36 45 35 44 35 41 35 37 35 35 35 32 36 31 35 28 35 30 35 29 35 27 36 21 35 16 35 13 35 9 35 6 35 5 36 4 35 4 0 0-35-3-36-4-35-4-35-5-35-7-35-9-35-12-36-15-35-19-35-22-35-25-35-25-36-27-35-27-35-29-35-30-35-36-35-36-36-41-35-41-35-44-35-37-35-13-35 21-36 40-35 60-35 90-35 84-35 73-35 72-36 71z"/>
<path d="M202 3658l36-74 35-75 35-77 35-89 35-95 35-67 36-46 35-31 35 4 35 33 35 41 35 45 36 44 35 42 35 35 35 32 35 34 35 32 36 31 35 28 35 28 35 26 35 26 36 19 35 16 35 11 35 8 35 7 35 5 36 4 35 3 0 0-35-3-36-4-35-4-35-6-35-7-35-10-35-13-36-17-35-21-35-24-35-27-35-26-36-27-35-28-35-31-35-30-35-34-35-37-36-41-35-45-35-43-35-35-35-11-35 24-36 41-35 62-35 92-35 86-35 74-35 73-36 72z"/>
</g>
<g fill="none" stroke="#80ff00" stroke-opacity="0.3" stroke-width="3.2">
<path d="M202 3658l36-83 35-84 35-87 35-99 35-109 35-82 36-65 35-51 35-19 35 7 35 18 35 27 36 37 35 48 35 56 35 61 35 61 35 58 36 53 35 50 35 44 35 38 35 32 36 26 35 19 35 14 35 11 35 7 35 5 36 4 35 3"/>
<path d="M202 3658l36-87 35-88 35-91 35-103 35-115 35-88 36-72 35-57 35-26 35 1 35 10 35 14 36 20 35 22 35 24 35 30 35 40 35 56 36 74 35 82 35 80 35 75 35 61 36 46 35 32 35 21 35 14 35 10 35 7 36 4 35 4"/>
<path d="M202 3658l36-81 35-82 35-85 35-98 35-110 35-84 36-68 35-54 35-22 35 6 35 19 35 29 36 37 35 45 35 50 35 53 35 53 35 51 36 49 35 47 35 45 35 42 35 38 36 33 35 26 35 20 35 15 35 10 35 7 36 5 35 4"/>
<path d="M202 3658l36-84 35-85 35-88 35-100 35-110 35-83 36-66 35-52 35-20 35 6 35 17 35 26 36 35 35 46 35 56 35 64 35 64 35 62 36 57 35 53 35 47 35 40 35 32 36 24 35 19 35 13 35 9 35 7 35 5 36 3 35 3"/>
<path d="M202 3658l36-83 35-83 35-86 35-100 35-108 35-83 36-66 35-52 35-20 35 5 35 15 35 22 36 29 35 36 35 43 35 49 35 55 35 57 36 55 35 55 35 52 35 48 35 42 36 34 35 27 35 19 35 13 35 10 35 7 36 4 35 4"/>
<path d="M202 3658l36-86 35-86 35-89 35-103 35-112 35-87 36-70 35-55 35-23 35 4 35 15 35 24 36 33 35 42 35 51 35 62 35 69 35 68 36 65 35 61 35 54 35 45 35 35 36 26 35 18 35 13 35 9 35 7 35 4 36 3 35 3"/>
<path d="M202 3658l36-87 35-88 35-91 35-103 35-112 35-85 36-66 35-52 35-21 35 5 35 12 35 18 36 23 35 30 35 38 35 50 35 65 35 74 36 74 35 71 35 65 35 54 35 40 36 29 35 19 35 13 35 9 35 6 35 4 36 3 35 3"/>
<path d="M202 3658l36-81 35-83 35-85 35-97 35-107 35-80 36-62 35-49 35-17 35 9 35 21 35 29 36 40 35 49 35 55 35 57 35 56 35 51 36 47 35 44 35 39 35 36 35 31 36 27 35 21 35 16 35 11 35 9 35 6 36 4 35 3"/>
<path d="M202 3658l36-83 35-84 35-87 35-100 35-112 35-88 36-72 35-57 35-24 35 5 35 18 35 29 36 41 35 50 35 57 35 62 35 62 35 59 36 55 35 51 35 47 35 41 35 34 36 28 35 21 35 15 35 11 35 8 35 6 36 4 35 3"/>
<path d="M202 3658l36-83 35-83 35-86 35-99 35-109 35-82 36-65 35-52 35-19 35 6 35 16 35 25 36 33 35 41 35 49 35 54 35 58 35 57 36 54 35 51 35 48 35 44 35 37 36 30 35 23 35 17 35 13 35 8 35 6 36 5 35 3"/>
<path d="M202 3658l36-82 35-83 35-84 35-94 35-98 35-65 36-42 35-29 35-5 35 13 35 16 35 19 36 25 35 33 35 43 35 50 35 50 35 50 36 47 35 44 35 40 35 35 35 30 36 25 35 18 35 15 35 10 35 7 35 5 36 4 35 3"/>
<path d="M202 3658l36-89 35-89 35-93 35-105 35-115 35-88 36-72 35-57 35-25 35 2 35 10 35 16 36 20 35 23 35 27 35 33 35 47 35 66 36 81 35 86 35 82 35 72 35 56 36 39 35 26 35 16 35 12 35 7 35 5 36 4 35 3"/>
<path d="M202 3658l36-83 35-84 35-86 35-100 35-110 35-85 36-68 35-54 35-21 35 5 35 16 35 25 36 35 35 42 35 50 35 56 35 59 35 58 36 55 35 53 35 50 35 44 35 38 36 30 35 24 35 17 35 12 35 8 35 6 36 5 35 3"/>
<path d="M202 3658l36-87 35-87 35-90 35-103 35-111 35-84 36-65 35-51 35-20 35 4 35 12 35 15 36 21 35 26 35 33 35 44 35 58 35 69 36 73 35 71 35 68 35 58 35 46 36 33 35 22 35 16 35 10 35 7 35 5 36 4 35 3"/>
<path d="M202 3658l36-89 35-89 35-93 35-105 35-113 35-87 36-68 35-53 35-23 35 1 35 10 35 12 36 16 35 19 35 21 35 27 35 40 35 59 36 79 35 89 35 87 35 77 35 61 36 43 35 28 35 18 35 12 35 8 35 6 36 4 35 3"/>
<path d="M202 3658l36-87 35-87 35-91 35-104 35-114 35-89 36-72 35-58 35-25 35 2 35 13 35 20 36 26 35 33 35 39 35 48 35 62 35 72 36 74 35 71 35 68 35 57 35 45 36 32 35 22 35 14 35 11 35 7 35 5 36 3 35 3"/>
<path d="M202 3658l36-79 35-79 35-83 35-96 35-106 35-80 36-64 35-51 35-17 35 12 35 24 35 35 36 44 35 50 35 51 35 49 35 46 35 42 36 38 35 37 35 35 35 35 35 33 36 31 35 27 35 22 35 15 35 12 35 8 36 5 35 4"/>
<path d="M202 3658l36-83 35-84 35-86 35-98 35-106 35-78 36-58 35-45 35-15 35 9 35 19 35 26 36 36 35 46 35 56 35 60 35 59 35 56 36 51 35 47 35 41 35 35 35 29 36 24 35 18 35 13 35 10 35 7 35 5 36 3 35 3"/>
</g>
<g fill="none" stroke="#8000ff" stroke-opacity="0.3" stroke-width="3.2">
<path d="M202 3659l36-64 35-65 35-66 35-77 35-84 35-51 36-27 35-8 35 25 35 47 35 51 35 51 36 50 35 45 35 37 35 28 35 23 35 17 36 12 35 10 35 8 35 6 35 5 36 4 35 4 35 4 35 3 35 3 35 3 36 2 35 3"/>
<path d="M202 3658l36-62 35-63 35-65 35-76 35-82 35-50 36-28 35-10 35 20 35 41 35 44 35 45 36 44 35 41 35 34 35 28 35 23 35 19 36 15 35 12 35 11 35 9 35 7 36 6 35 6 35 6 35 5 35 5 35 5 36 5 35 5"/>
<path d="M202 3658l36-61 35-63 35-64 35-77 35-82 35-51 36-28 35-9 35 24 35 45 35 49 35 47 36 46 35 42 35 35 35 28 35 23 35 18 36 15 35 11 35 10 35 7 35 6 36 5 35 5 35 4 35 4 35 3 35 3 36 3 35 2"/>
<path d="M202 3659l36-61 35-61 35-63 35-74 35-80 35-48 36-23 35-4 35 27 35 49 35 51 35 50 36 48 35 42 35 34 35 26 35 20 35 14 36 11 35 9 35 6 35 5 35 4 36 3 35 3 35 2 35 3 35 2 35 1 36 2 35 1"/>
<path d="M202 3658l36-58 35-58 35-61 35-71 35-76 35-43 36-21 35-5 35 23 35 41 35 44 35 43 36 42 35 36 35 30 35 24 35 19 35 15 36 12 35 11 35 8 35 7 35 6 36 5 35 5 35 5 35 4 35 3 35 4 36 3 35 3"/>
<path d="M202 3658l36-66 35-66 35-69 35-81 35-87 35-57 36-33 35-15 35 17 35 40 35 44 35 44 36 44 35 41 35 36 35 31 35 26 35 23 36 18 35 16 35 14 35 12 35 10 36 8 35 8 35 8 35 7 35 7 35 7 36 6 35 7"/>
<path d="M202 3659l36-67 35-67 35-70 35-80 35-88 35-56 36-33 35-11 35 25 35 54 35 61 35 61 36 60 35 54 35 45 35 33 35 25 35 17 36 11 35 8 35 5 35 3 35 2 36 2 35 1 35 1 35 1 35 1 35 0 36 1 35 0"/>
<path d="M202 3658l36-60 35-61 35-63 35-74 35-78 35-46 36-23 35-8 35 21 35 39 35 43 35 42 36 42 35 37 35 30 35 25 35 21 35 16 36 14 35 12 35 10 35 9 35 7 36 6 35 7 35 6 35 5 35 5 35 5 36 6 35 5"/>
<path d="M202 3659l36-56 35-56 35-59 35-68 35-73 35-40 36-18 35-3 35 24 35 45 35 48 35 47 36 46 35 41 35 32 35 24 35 17 35 12 36 9 35 6 35 5 35 3 35 2 36 2 35 2 35 1 35 2 35 1 35 1 36 1 35 1"/>
<path d="M202 3658l36-58 35-60 35-61 35-73 35-79 35-47 36-24 35-6 35 24 35 45 35 48 35 47 36 45 35 40 35 34 35 26 35 20 35 16 36 12 35 10 35 8 35 6 35 5 36 4 35 4 35 3 35 3 35 2 35 2 36 2 35 2"/>
<path d="M202 3659l36-59 35-60 35-61 35-72 35-76 35-43 36-19 35-5 35 24 35 43 35 48 35 47 36 45 35 40 35 32 35 25 35 18 35 14 36 10 35 9 35 6 35 5 35 4 36 4 35 3 35 3 35 3 35 3 35 2 36 3 35 3"/>
<path d="M202 3659l36-59 35-59 35-62 35-71 35-77 35-43 36-19 35-4 35 27 35 47 35 51 35 52 36 50 35 44 35 35 35 26 35 18 35 13 36 8 35 6 35 4 35 3 35 2 36 1 35 1 35 1 35 1 35 1 35 0 36 1 35 1"/>
<path d="M202 3659l36-62 35-63 35-65 35-75 35-82 35-48 36-24 35-3 35 31 35 54 35 58 35 58 36 56 35 49 35 38 35 27 35 19 35 13 36 7 35 5 35 3 35 2 35 1 36 0 35 0 35 0 35 0 35 0 35 0 36 0 35 0"/>
<path d="M202 3658l36-56 35-58 35-59 35-70 35-75 35-42 36-20 35-4 35 22 35 42 35 44 35 44 36 42 35 37 35 29 35 24 35 18 35 14 36 12 35 9 35 8 35 6 35 5 36 5 35 4 35 4 35 4 35 3 35 3 36 2 35 3"/>
<path d="M202 3659l36-64 35-64 35-66 35-76 35-82 35-49 36-23 35-5 35 29 35 53 35 58 35 59 36 58 35 51 35 41 35 29 35 21 35 13 36 8 35 5 35 2 35 2 35 0 36 0 35 0 35 0 35 0 35 0 35-1 36 0 35 0"/>
<path d="M202 3658l36-66 35-66 35-69 35-80 35-88 35-56 36-34 35-14 35 21 35 45 35 51 35 49 36 49 35 45 35 39 35 32 35 26 35 22 36 17 35 13 35 11 35 10 35 7 36 6 35 6 35 5 35 4 35 4 35 4 36 4 35 3"/>
<path d="M202 3659l36-59 35-60 35-62 35-73 35-78 35-45 36-20 35-3 35 28 35 50 35 53 35 53 36 51 35 44 35 35 35 25 35 19 35 12 36 8 35 6 35 4 35 3 35 2 36 1 35 1 35 1 35 1 35 1 35 0 36 1 35 0"/>
<path d="M202 3659l36-65 35-66 35-67 35-79 35-86 35-55 36-31 35-11 35 23 35 48 35 54 35 53 36 52 35 47 35 39 35 32 35 24 35 19 36 14 35 11 35 8 35 7 35 5 36 4 35 4 35 3 35 3 35 2 35 3 36 2 35 2"/>
</g>
<g fill="none" stroke="#ff0000" stroke-opacity="0.22" stroke-width="3.2">
<path d="M202 3658l36-79 35-79 35-82 35-95 35-104 35-79 36-63 35-48 35-15 35 14 35 28 35 39 36 52 35 58 35 58 35 55 35 50 35 44 36 38 35 35 35 33 35 31 35 28 36 24 35 17 35 13 35 9 35 6 35 5 36 4 35 3"/>
<path d="M202 3658l36-86 35-86 35-90 35-101 35-110 35-82 36-64 35-50 35-18 35 7 35 15 35 19 36 25 35 31 35 37 35 50 35 61 35 71 36 73 35 67 35 59 35 50 35 40 36 28 35 18 35 12 35 8 35 6 35 4 36 3 35 3"/>
<path d="M202 3658l36-79 35-79 35-81 35-91 35-98 35-66 36-46 35-32 35-2 35 21 35 29 35 37 36 44 35 47 35 47 35 44 35 42 35 38 36 34 35 32 35 30 35 29 35 26 36 21 35 16 35 12 35 8 35 6 35 5 36 3 35 3"/>
<path d="M202 3658l36-87 35-88 35-90 35-101 35-108 35-77 36-56 35-42 35-11 35 12 35 16 35 19 36 23 35 27 35 36 35 50 35 64 35 71 36 72 35 64 35 57 35 47 35 36 36 23 35 14 35 10 35 6 35 5 35 3 36 3 35 2"/>
<path d="M202 3658l36-83 35-85 35-86 35-100 35-108 35-82 36-63 35-50 35-18 35 7 35 17 35 24 36 30 35 39 35 46 35 54 35 61 35 64 36 62 35 56 35 50 35 45 35 37 36 27 35 18 35 13 35 8 35 6 35 5 36 3 35 3"/>
<path d="M202 3658l36-78 35-79 35-81 35-91 35-98 35-68 36-48 35-33 35-3 35 23 35 34 35 44 36 50 35 54 35 50 35 45 35 41 35 35 36 32 35 28 35 27 35 25 35 23 36 19 35 15 35 10 35 8 35 6 35 4 36 3 35 3"/>
<path d="M202 3658l36-76 35-77 35-78 35-89 35-95 35-65 36-44 35-29 35 1 35 27 35 38 35 45 36 49 35 47 35 43 35 38 35 34 35 29 36 27 35 24 35 24 35 25 35 24 36 21 35 17 35 12 35 9 35 7 35 5 36 4 35 3"/>
<path d="M202 3658l36-87 35-88 35-90 35-103 35-113 35-87 36-68 35-55 35-22 35 3 35 12 35 17 36 22 35 26 35 30 35 38 35 53 35 70 36 81 35 82 35 72 35 59 35 49 36 35 35 22 35 14 35 10 35 6 35 5 36 4 35 3"/>
<path d="M202 3658l36-84 35-86 35-88 35-100 35-111 35-84 36-68 35-52 35-21 35 7 35 17 35 25 36 33 35 42 35 52 35 60 35 67 35 67 36 64 35 57 35 51 35 44 35 34 36 25 35 16 35 11 35 7 35 5 35 4 36 3 35 3"/>
<path d="M202 3658l36-77 35-79 35-80 35-92 35-100 35-73 36-55 35-41 35-9 35 16 35 27 35 34 36 42 35 46 35 46 35 45 35 43 35 40 36 37 35 35 35 33 35 33 35 31 36 28 35 22 35 15 35 11 35 8 35 6 36 4 35 4"/>
<path d="M202 3658l36-78 35-78 35-81 35-91 35-98 35-70 36-50 35-34 35-1 35 30 35 47 35 60 36 67 35 64 35 57 35 46 35 38 35 31 36 25 35 20 35 18 35 16 35 15 36 12 35 10 35 7 35 6 35 4 35 3 36 3 35 2"/>
<path d="M202 3658l36-78 35-79 35-80 35-91 35-96 35-64 36-44 35-31 35-3 35 17 35 23 35 25 36 31 35 33 35 35 35 38 35 39 35 40 36 40 35 38 35 37 35 35 35 34 36 29 35 23 35 16 35 11 35 8 35 6 36 4 35 4"/>
<path d="M202 3658l36-78 35-79 35-82 35-92 35-102 35-73 36-55 35-41 35-7 35 20 35 35 35 47 36 57 35 61 35 57 35 51 35 45 35 37 36 32 35 29 35 26 35 25 35 22 36 18 35 14 35 10 35 7 35 6 35 4 36 3 35 3"/>
<path d="M202 3658l36-84 35-86 35-88 35-99 35-109 35-81 36-62 35-48 35-17 35 8 35 16 35 22 36 27 35 34 35 42 35 52 35 62 35 66 36 66 35 60 35 54 35 46 35 38 36 27 35 18 35 12 35 8 35 6 35 4 36 3 35 3"/>
<path d="M202 3658l36-85 35-87 35-89 35-103 35-114 35-89 36-72 35-59 35-25 35 2 35 13 35 21 36 28 35 33 35 38 35 48 35 60 35 71 36 76 35 74 35 64 35 55 35 44 36 33 35 22 35 14 35 9 35 6 35 5 36 4 35 3"/>
<path d="M202 3658l36-80 35-80 35-83 35-94 35-102 35-74 36-55 35-41 35-8 35 19 35 32 35 45 36 57 35 63 35 60 35 56 35 48 35 40 36 35 35 31 35 28 35 25 35 21 36 16 35 12 35 9 35 6 35 5 35 4 36 3 35 2"/>
<path d="M202 3658l36-86 35-87 35-89 35-101 35-111 35-82 36-65 35-49 35-19 35 6 35 14 35 19 36 24 35 28 35 35 35 46 35 59 35 71 36 74 35 71 35 61 35 52 35 43 36 29 35 20 35 12 35 8 35 6 35 5 36 3 35 3"/>
<path d="M202 3658l36-80 35-80 35-83 35-94 35-104 35-77 36-59 35-43 35-10 35 19 35 36 35 52 36 66 35 71 35 67 35 58 35 48 35 40 36 33 35 28 35 24 35 21 35 17 36 14 35 11 35 7 35 6 35 4 35 3 36 3 35 2"/>
</g>
<g fill="none" stroke="#00ffff" stroke-opacity="0.3" stroke-width="3.2">
<path d="M202 3658l36-86 35-86 35-89 35-101 35-110 35-82 36-63 35-48 35-14 35 14 35 26 35 34 36 44 35 51 35 55 35 54 35 51 35 51 36 52 35 51 35 47 35 42 35 35 36 24 35 15 35 11 35 7 35 5 35 4 36 3 35 3"/>
<path d="M202 3658l36-68 35-69 35-70 35-81 35-86 35-55 36-32 35-14 35 18 35 40 35 42 35 38 36 34 35 32 35 28 35 25 35 25 35 23 36 23 35 22 35 22 35 20 35 18 36 15 35 12 35 10 35 9 35 6 35 5 36 4 35 4"/>
<path d="M202 3658l36-70 35-69 35-72 35-81 35-86 35-53 36-30 35-10 35 22 35 45 35 46 35 41 36 37 35 34 35 30 35 27 35 25 35 23 36 23 35 21 35 20 35 16 35 13 36 10 35 9 35 7 35 6 35 5 35 5 36 3 35 3"/>
<path d="M202 3658l36-74 35-74 35-76 35-86 35-92 35-61 36-38 35-21 35 10 35 35 35 41 35 41 36 38 35 32 35 27 35 25 35 25 35 26 36 28 35 28 35 28 35 28 35 27 36 23 35 17 35 13 35 10 35 7 35 5 36 4 35 4"/>
<path d="M202 3658l36-66 35-65 35-64 35-71 35-68 35-27 36 2 35 18 35 38 35 46 35 37 35 28 36 22 35 16 35 11 35 8 35 9 35 10 36 13 35 14 35 13 35 13 35 11 36 10 35 9 35 8 35 7 35 6 35 5 36 3 35 4"/>
<path d="M202 3658l36-75 35-74 35-77 35-86 35-92 35-59 36-36 35-18 35 14 35 41 35 48 35 46 36 41 35 34 35 30 35 28 35 27 35 27 36 27 35 26 35 26 35 24 35 20 36 15 35 12 35 9 35 6 35 6 35 4 36 3 35 3"/>
<path d="M202 3658l36-66 35-66 35-68 35-80 35-88 35-61 36-41 35-23 35 11 35 35 35 40 35 40 36 43 35 41 35 37 35 34 35 30 35 27 36 24 35 22 35 19 35 17 35 14 36 12 35 11 35 9 35 8 35 6 35 5 36 4 35 4"/>
<path d="M202 3658l36-73 35-72 35-75 35-83 35-89 35-55 36-30 35-13 35 19 35 45 35 47 35 44 36 37 35 32 35 28 35 25 35 24 35 24 36 25 35 24 35 23 35 21 35 17 36 13 35 11 35 9 35 6 35 5 35 5 36 3 35 3"/>
<path d="M202 3658l36-68 35-69 35-69 35-80 35-86 35-53 36-31 35-13 35 18 35 40 35 42 35 36 36 34 35 31 35 26 35 24 35 23 35 23 36 22 35 22 35 22 35 20 35 18 36 16 35 13 35 10 35 9 35 7 35 5 36 4 35 4"/>
<path d="M202 3658l36-69 35-69 35-70 35-79 35-82 35-48 36-21 35-3 35 28 35 48 35 46 35 38 36 34 35 29 35 25 35 21 35 21 35 20 36 21 35 19 35 18 35 15 35 12 36 9 35 9 35 7 35 6 35 5 35 4 36 3 35 3"/>
<path d="M202 3658l36-68 35-68 35-70 35-81 35-89 35-60 36-40 35-23 35 10 35 33 35 38 35 36 36 35 35 33 35 30 35 27 35 26 35 26 36 24 35 24 35 24 35 24 35 23 36 21 35 17 35 14 35 10 35 9 35 6 36 5 35 4"/>
<path d="M202 3658l36-74 35-74 35-76 35-87 35-92 35-61 36-39 35-23 35 10 35 36 35 43 35 42 36 40 35 34 35 28 35 27 35 27 35 27 36 28 35 28 35 28 35 27 35 25 36 21 35 16 35 11 35 9 35 7 35 5 36 4 35 3"/>
<path d="M202 3658l36-72 35-72 35-74 35-86 35-92 35-63 36-42 35-26 35 7 35 33 35 40 35 39 36 38 35 34 35 29 35 28 35 27 35 28 36 27 35 28 35 28 35 28 35 26 36 23 35 18 35 14 35 10 35 8 35 6 36 4 35 4"/>
<path d="M202 3658l36-68 35-68 35-70 35-78 35-83 35-48 36-24 35-4 35 26 35 46 35 45 35 38 36 35 35 31 35 26 35 24 35 22 35 21 36 20 35 20 35 17 35 14 35 12 36 9 35 8 35 7 35 6 35 5 35 4 36 4 35 3"/>
<path d="M202 3658l36-68 35-69 35-71 35-82 35-92 35-64 36-45 35-25 35 11 35 38 35 44 35 45 36 48 35 47 35 44 35 39 35 34 35 30 36 27 35 22 35 18 35 15 35 11 36 8 35 8 35 6 35 6 35 5 35 4 36 3 35 3"/>
<path d="M202 3658l36-85 35-86 35-89 35-101 35-110 35-84 36-66 35-51 35-17 35 10 35 21 35 28 36 38 35 46 35 51 35 54 35 54 35 52 36 54 35 54 35 51 35 46 35 40 36 30 35 19 35 14 35 9 35 6 35 5 36 4 35 3"/>
<path d="M202 3658l36-77 35-78 35-80 35-93 35-100 35-74 36-54 35-37 35-2 35 28 35 42 35 48 36 51 35 48 35 44 35 42 35 40 35 38 36 35 35 34 35 31 35 28 35 24 36 18 35 13 35 9 35 7 35 5 35 4 36 3 35 3"/>
<path d="M202 3658l36-87 35-87 35-91 35-102 35-112 35-85 36-67 35-52 35-19 35 7 35 17 35 24 36 30 35 37 35 43 35 51 35 57 35 58 36 58 35 60 35 57 35 52 35 45 36 35 35 24 35 16 35 10 35 8 35 5 36 4 35 4"/>
</g>
<g fill="none" stroke="#bebebe" stroke-opacity="0.25" stroke-width="2.8">
<path d="M202 3658l17 0 16-1 17 1 16 3 17 7 17 7 16 4 17-1 16-7 17-10 16-9 17-5 16 0 17 4 16 6 17 4 16 2 17 0 16-1 17-2 16 0 17 0 16 1 17 1 16 0 17-1 16-2 17-1 16-1 17-1 17 1 16 0 17 1 16 1 17 0 16 0 50-1 49 0 50 0 49 0 50 0 49 0 50 0 50 0 49 0 50 0"/>
<path d="M202 3658l17-1 16-6 17-11 16-17 17-24 17-26 16-19 17-7 16 8 17 29 16 53 17 56 16 34 17 6 16-16 17-35 16-38 17-29 16-13 17 1 16 8 17 12 16 11 17 8 16 5 17 4 16 3 17 4 16 3 17 2 17 1 16-2 17-3 16-3 17-3 16-1 50 3 49 4 50-1 49 0 50 0 49 0 50 0 50 0 49 0 50 0"/>
<path d="M202 3658l17 0 16 3 17 8 16 12 17 12 17 8 16 2 17-6 16-11 17-13 16-10 17-6 16 1 17 6 16 7 17 8 16 5 17 1 16-2 17-5 16-6 17-6 16-5 17-3 16 0 17 0 16 2 17 1 16 1 17 1 17 0 16-1 17-1 16-1 17-1 16-1 50 0 49 1 50-1 49 0 50 0 49 0 50 0 50 0 49 0 50 0"/>
<path d="M202 3658l17 0 16-3 17-7 16-10 17-11 17-11 16-7 17-4 16 2 17 6 16 8 17 10 16 10 17 8 16 6 17 3 16 0 17-1 16-3 17-3 16-2 17-2 16-1 17 0 16 0 17 2 16 2 17 1 16 2 17 2 17 1 16 1 17 1 16 0 17 0 16 0 50-1 49 0 50 1 49 0 50 0 49 0 50 0 50 0 49 0 50 0"/>
<path d="M202 3658l17-1 16-8 17-16 16-22 17-19 17-13 16-4 17 4 16 13 17 18 16 21 17 18 16 12 17 4 16-2 17-7 16-10 17-10 16-7 17-4 16-1 17 2 16 5 17 6 16 6 17 6 16 4 17 3 16 2 17 0 17 0 16-1 17-1 16 0 17-1 16 0 50 1 49 1 50 1 49 0 50 0 49 0 50 0 50 0 49 0 50 0"/>
<path d="M202 3658l17 0 16-3 17-9 16-16 17-20 17-18 16-13 17-6 16 1 17 6 16 12 17 14 16 14 17 12 16 8 17 5 16 0 17-1 16-3 17-2 16-2 17 0 16 0 17 2 16 2 17 3 16 2 17 3 16 2 17 2 17 1 16 1 17 1 16 0 17 0 16 1 50 0 49 0 50 0 49 1 50 0 49 0 50 0 50 0 49 0 50 0"/>
<path d="M202 3658l17 1 16 2 17 4 16 1 17-3 17-7 16-8 17-7 16-2 17 2 16 7 17 8 16 7 17 5 16 2 17-2 16-5 17-5 16-5 17-3 16-1 17 1 16 3 17 3 16 2 17 2 16 1 17 0 16-1 17-1 17-1 16-1 17 0 16-1 17 1 16 0 50 1 49 0 50 0 49 0 50 0 49 0 50 0 50 0 49 0 50 0"/>
<path d="M202 3658l17 1 16 5 17 6 16 2 17-6 17-10 16-9 17-1 16 9 17 13 16 12 17 5 16-5 17-11 16-12 17-7 16-1 17 6 16 7 17 6 16 2 17-2 16-5 17-5 16-3 17 0 16 1 17 3 16 2 17 0 17 0 16-1 17-2 16-1 17 0 16 1 50 1 49-1 50 0 49 0 50 0 49 0 50 0 50 0 49 0 50 0"/>
<path d="M202 3658l17 3 16 12 17 8 16-11 17-31 17-36 16-21 17 0 16 22 17 37 16 36 17 19 16-1 17-18 16-25 17-20 16-11 17 1 16 9 17 12 16 12 17 8 16 2 17-1 16-4 17-4 16-3 17-2 16 1 17 1 17 2 16 2 17 1 16 1 17 0 16 0 50-2 49 0 50 1 49 0 50 0 49 0 50 0 50 0 49 0 50 0"/>
<path d="M202 3658l17 2 16 10 17 18 16 19 17 14 17 3 16-8 17-19 16-24 17-24 16-17 17-7 16 3 17 11 16 16 17 17 16 14 17 9 16 3 17-2 16-7 17-9 16-9 17-8 16-6 17-4 16-1 17 1 16 2 17 2 17 2 16 2 17 1 16 1 17-1 16-1 50-2 49-2 50 1 49 0 50 0 49 0 50 0 50 0 49 0 50 0"/>
</g>
<g fill="none" stroke="#8000ff" stroke-opacity="0.3" stroke-width="3.2">
<path d="M202 3659l36-60 35-60 35-63 35-73 35-80 35-48 36-24 35-6 35 25 35 46 35 50 35 49 36 47 35 43 35 34 35 27 35 21 35 15 36 12 35 9 35 7 35 5 35 4 36 4 35 3 35 2 35 3 35 2 35 2 36 2 35 1"/>
<path d="M202 3659l36-61 35-60 35-63 35-75 35-80 35-49 36-25 35-8 35 24 35 46 35 49 35 49 36 48 35 43 35 35 35 28 35 21 35 17 36 12 35 9 35 8 35 5 35 5 36 4 35 3 35 3 35 3 35 2 35 2 36 2 35 2"/>
<path d="M202 3659l36-68 35-67 35-70 35-80 35-87 35-54 36-29 35-8 35 28 35 54 35 59 35 59 36 58 35 52 35 41 35 31 35 23 35 15 36 11 35 8 35 5 35 3 35 3 36 2 35 2 35 2 35 1 35 1 35 1 36 2 35 1"/>
<path d="M202 3658l36-66 35-66 35-69 35-80 35-89 35-58 36-36 35-16 35 17 35 44 35 48 35 48 36 47 35 44 35 39 35 33 35 28 35 23 36 20 35 15 35 13 35 11 35 9 36 7 35 7 35 5 35 6 35 4 35 5 36 4 35 3"/>
<path d="M202 3658l36-63 35-64 35-66 35-78 35-84 35-54 36-29 35-11 35 22 35 45 35 49 35 49 36 48 35 43 35 37 35 30 35 24 35 19 36 15 35 12 35 10 35 8 35 6 36 6 35 4 35 5 35 4 35 4 35 3 36 3 35 3"/>
<path d="M202 3659l36-60 35-61 35-63 35-74 35-80 35-49 36-24 35-7 35 24 35 47 35 50 35 49 36 47 35 43 35 35 35 28 35 21 35 15 36 12 35 9 35 8 35 5 35 4 36 4 35 3 35 3 35 2 35 3 35 2 36 1 35 2"/>
<path d="M202 3659l36-62 35-63 35-65 35-76 35-81 35-49 36-25 35-4 35 29 35 52 35 57 35 57 36 55 35 49 35 39 35 28 35 20 35 14 36 8 35 6 35 3 35 3 35 1 36 1 35 0 35 1 35 0 35 0 35 1 36 0 35 0"/>
<path d="M202 3658l36-52 35-52 35-55 35-65 35-68 35-36 36-15 35-4 35 21 35 38 35 41 35 39 36 38 35 32 35 25 35 20 35 16 35 13 36 10 35 9 35 7 35 6 35 5 36 5 35 4 35 4 35 3 35 3 35 3 36 3 35 2"/>
<path d="M202 3659l36-64 35-63 35-66 35-77 35-82 35-50 36-25 35-7 35 26 35 48 35 52 35 51 36 51 35 45 35 36 35 28 35 21 35 16 36 12 35 9 35 7 35 5 35 4 36 4 35 3 35 3 35 3 35 2 35 2 36 3 35 2"/>
<path d="M202 3658l36-53 35-55 35-57 35-67 35-73 35-40 36-19 35-5 35 20 35 39 35 42 35 41 36 39 35 36 35 28 35 22 35 18 35 15 36 11 35 10 35 8 35 7 35 5 36 5 35 4 35 4 35 4 35 3 35 3 36 3 35 2"/>
<path d="M202 3659l36-64 35-65 35-66 35-77 35-83 35-50 36-25 35-3 35 30 35 53 35 57 35 57 36 55 35 48 35 37 35 28 35 19 35 14 36 9 35 7 35 4 35 3 35 2 36 2 35 2 35 1 35 1 35 1 35 1 36 0 35 1"/>
<path d="M202 3659l36-62 35-63 35-64 35-76 35-81 35-49 36-26 35-8 35 25 35 46 35 51 35 52 36 50 35 46 35 37 35 29 35 22 35 16 36 12 35 8 35 7 35 5 35 3 36 4 35 2 35 3 35 2 35 2 35 2 36 2 35 2"/>
<path d="M202 3659l36-64 35-64 35-67 35-77 35-82 35-50 36-25 35-4 35 32 35 55 35 61 35 60 36 58 35 51 35 40 35 28 35 19 35 13 36 7 35 5 35 3 35 1 35 0 36 1 35-1 35 0 35 0 35 0 35 0 36-1 35 0"/>
<path d="M202 3659l36-63 35-63 35-66 35-77 35-83 35-53 36-29 35-9 35 25 35 52 35 56 35 56 36 55 35 49 35 40 35 30 35 22 35 17 36 11 35 8 35 5 35 4 35 3 36 2 35 2 35 1 35 1 35 1 35 1 36 1 35 0"/>
<path d="M202 3659l36-63 35-63 35-65 35-77 35-82 35-50 36-27 35-9 35 23 35 46 35 50 35 52 36 51 35 46 35 39 35 30 35 23 35 17 36 12 35 9 35 7 35 5 35 4 36 3 35 3 35 3 35 3 35 2 35 2 36 2 35 3"/>
<path d="M202 3659l36-58 35-59 35-61 35-71 35-77 35-45 36-20 35-3 35 28 35 48 35 50 35 49 36 47 35 42 35 32 35 24 35 18 35 14 36 9 35 7 35 6 35 4 35 3 36 2 35 2 35 2 35 2 35 1 35 1 36 1 35 1"/>
<path d="M202 3659l36-64 35-64 35-66 35-77 35-83 35-52 36-28 35-7 35 28 35 53 35 58 35 57 36 56 35 49 35 40 35 29 35 21 35 15 36 10 35 7 35 5 35 3 35 2 36 2 35 1 35 1 35 1 35 1 35 0 36 1 35 0"/>
<path d="M202 3659l36-63 35-64 35-65 35-77 35-83 35-51 36-26 35-9 35 25 35 49 35 53 35 54 36 54 35 48 35 40 35 30 35 22 35 16 36 11 35 8 35 6 35 4 35 3 36 3 35 2 35 2 35 1 35 2 35 1 36 2 35 1"/>
</g>
<g fill="none" stroke="#bebebe" stroke-opacity="0.25" stroke-width="2.8">
<path d="M202 3658l17-2 16-7 17-11 16-8 17-2 17 8 16 17 17 22 16 23 17 18 16 11 17 4 16-4 17-11 16-14 17-18 16-16 17-14 16-9 17-4 16-1 17 3 16 4 17 6 16 5 17 5 16 3 17 1 16 1 17-1 17-2 16-1 17-2 16-2 17-2 16-1 50 0 49 1 50 0 49 0 50 0 49 0 50 0 50 0 49 0 50 0"/>
<path d="M202 3658l17 0 16-1 17-1 16 1 17 3 17 7 16 9 17 9 16 8 17 5 16 1 17-4 16-9 17-11 16-11 17-10 16-7 17-2 16 1 17 5 16 6 17 7 16 5 17 3 16 0 17-1 16-3 17-4 16-4 17-3 17-2 16-1 17 1 16 1 17 1 16 1 50 2 49-1 50-1 49 0 50 0 49 0 50 0 50 0 49 0 50 0"/>
<path d="M202 3658l17 0 16 3 17 10 16 16 17 22 17 20 16 10 17-2 16-17 17-31 16-36 17-27 16-10 17 9 16 25 17 32 16 27 17 15 16-13 17-8 16-10 17-24 16-20 17-11 16-1 17 6 16 11 17 11 16 7 17 4 17-2 16-4 17-6 16-5 17-4 16-1 50 4 49 3 50-2 49-2 50 1 49 0 50 0 50 0 49 0 50 0"/>
<path d="M202 3658l17 2 16 7 17 12 16 6 17-4 17-15 16-23 17-20 16-12 17 1 16 12 17 20 16 23 17 18 16 9 17 0 16-8 17-12 16-14 17-11 16-6 17-2 16 3 17 6 16 6 17 5 16 3 17 1 16-1 17-2 17-2 16-2 17-2 16 0 17 0 16 1 50 2 49 0 50-1 49 0 50 0 49 0 50 0 50 0 49 0 50 0"/>
<path d="M202 3658l17 0 16 0 17 1 16 4 17 5 17 6 16 4 17 3 16 0 17-3 16-5 17-6 16-5 17-4 16-1 17 0 16 2 17 2 16 3 17 2 16 1 17-1 16-1 17-2 16-1 17-2 16-2 17 0 16 0 17 0 17 0 16 1 17 0 16 0 17 0 16 0 50-1 49 0 50 0 49 0 50 0 49 0 50 0 50 0 49 0 50 0"/>
<path d="M202 3658l17-2 16-10 17-23 16-32 17-29 17-20 16-10 17-2 16 4 17 10 16 19 17 26 16 29 17 25 16 16 17 6 16-3 17-8 16-12 17-11 16-10 17-6 16-2 17 1 16 4 17 6 16 8 17 7 16 7 17 5 17 4 16 2 17 1 16 1 17-1 16-1 50-2 49 0 50 2 49 1 50 0 49 0 50 0 50 0 49 0 50 0"/>
<path d="M202 3658l17 1 16 8 17 13 16 12 17 5 17-1 16-6 17-6 16-3 17-3 16-3 17-6 16-8 17-8 16-3 17 1 16 7 17 10 16 8 17 5 16 0 17-4 16-5 17-5 16-4 17-2 16-1 17-1 16 0 17 0 17-1 16 0 17 0 16 0 17 1 16 0 50 0 49-1 50 0 49 0 50 0 49 0 50 0 50 0 49 0 50 0"/>
<path d="M202 3658l17-1 16 1 17 16 16 36 17 47 17 37 16 18 17 7 16 0 17-4 16-14 17-30 16-48 17-50 16-33 17-10 16 9 17 23 16 28 17 13 16-5 17-3 16-2 17-1 16-1 17 0 16-6 17-14 16-11 17-5 17-2 16 2 17 3 16 3 17 3 16 2 50-1 49-5 50-2 49 0 50 1 49-1 50 0 50 0 49 0 50 0"/>
<path d="M202 3658l17 0 16 2 17 0 16-6 17-12 17-15 16-12 17-6 16 5 17 15 16 22 17 24 16 18 17 10 16-1 17-10 16-17 17-19 16-18 17-11 16-5 17 2 16 8 17 10 16 11 17 9 16 6 17 3 16 0 17-3 17-4 16-4 17-4 16-2 17-1 16 0 50 4 49 2 50 0 49-1 50 0 49 0 50 0 50 0 49 0 50 0"/>
<path d="M202 3658l17 0 16 8 17 19 16 23 17 15 17 5 16 3 17 11 16 20 17 22 16 13 17 2 16-12 17-31 16-53 17-54 16-28 17 2 16 24 17 34 16 17 17-3 16-2 17-1 16-1 17-9 16-11 17-6 16-1 17 0 17 0 16-1 17-1 16-2 17 0 16 0 50 3 49-2 50-3 49 0 50 1 49-1 50 0 50 0 49 0 50 0"/>
</g>
<g fill="none" stroke="#80ff00" stroke-opacity="0.3" stroke-width="3.2">
<path d="M202 3658l36-80 35-81 35-84 35-98 35-107 35-83 36-67 35-52 35-19 35 11 35 25 35 38 36 50 35 58 35 61 35 58 35 53 35 47 36 42 35 37 35 34 35 31 35 28 36 26 35 21 35 16 35 12 35 9 35 6 36 5 35 3"/>
<path d="M202 3658l36-84 35-85 35-87 35-100 35-109 35-83 36-64 35-50 35-20 35 4 35 13 35 19 36 25 35 31 35 38 35 47 35 56 35 61 36 61 35 60 35 58 35 52 35 44 36 34 35 25 35 19 35 12 35 9 35 6 36 5 35 3"/>
<path d="M202 3658l36-82 35-84 35-85 35-98 35-106 35-77 36-59 35-45 35-16 35 9 35 18 35 24 36 34 35 42 35 51 35 57 35 56 35 54 36 51 35 48 35 43 35 38 35 33 36 27 35 20 35 15 35 11 35 8 35 6 36 4 35 3"/>
<path d="M202 3658l36-86 35-87 35-90 35-102 35-112 35-85 36-67 35-53 35-21 35 4 35 14 35 18 36 26 35 33 35 41 35 53 35 64 35 70 36 69 35 66 35 61 35 52 35 41 36 29 35 20 35 15 35 9 35 7 35 5 36 3 35 3"/>
<path d="M202 3658l36-85 35-85 35-88 35-100 35-110 35-83 36-64 35-50 35-19 35 6 35 15 35 23 36 31 35 41 35 50 35 60 35 65 35 64 36 60 35 56 35 50 35 43 35 34 36 26 35 19 35 14 35 9 35 7 35 5 36 3 35 3"/>
<path d="M202 3658l36-82 35-83 35-85 35-96 35-102 35-70 36-50 35-37 35-10 35 11 35 15 35 18 36 25 35 34 35 42 35 49 35 53 35 53 36 50 35 48 35 45 35 40 35 34 36 28 35 22 35 15 35 12 35 8 35 6 36 4 35 3"/>
<path d="M202 3658l36-84 35-85 35-87 35-101 35-110 35-83 36-67 35-52 35-20 35 5 35 16 35 24 36 33 35 43 35 50 35 60 35 63 35 61 36 59 35 55 35 49 35 44 35 35 36 27 35 21 35 14 35 11 35 7 35 5 36 4 35 3"/>
<path d="M202 3658l36-84 35-86 35-88 35-102 35-112 35-87 36-70 35-56 35-23 35 4 35 17 35 25 36 37 35 45 35 55 35 63 35 67 35 64 36 60 35 57 35 50 35 43 35 34 36 26 35 20 35 13 35 10 35 7 35 5 36 3 35 3"/>
<path d="M202 3658l36-80 35-82 35-84 35-98 35-109 35-84 36-69 35-54 35-22 35 6 35 19 35 29 36 37 35 43 35 47 35 49 35 50 35 49 36 47 35 46 35 45 35 43 35 41 36 35 35 29 35 22 35 16 35 12 35 8 36 5 35 4"/>
<path d="M202 3658l36-81 35-82 35-85 35-97 35-108 35-83 36-65 35-52 35-19 35 9 35 22 35 32 36 43 35 53 35 57 35 58 35 55 35 50 36 46 35 42 35 38 35 36 35 31 36 27 35 22 35 16 35 12 35 9 35 6 36 5 35 3"/>
<path d="M202 3658l36-85 35-87 35-88 35-100 35-108 35-79 36-60 35-45 35-16 35 8 35 13 35 19 36 26 35 35 35 45 35 58 35 65 35 66 36 63 35 59 35 52 35 44 35 34 36 26 35 17 35 13 35 9 35 6 35 4 36 3 35 3"/>
<path d="M202 3658l36-78 35-79 35-82 35-91 35-99 35-68 36-49 35-34 35-4 35 22 35 32 35 41 36 49 35 52 35 50 35 44 35 41 35 37 36 31 35 27 35 23 35 22 35 23 36 21 35 19 35 16 35 11 35 9 35 6 36 5 35 3"/>
<path d="M202 3658l36-80 35-81 35-84 35-97 35-108 35-84 36-67 35-54 35-20 35 9 35 23 35 33 36 44 35 52 35 55 35 54 35 51 35 47 36 43 35 41 35 39 35 36 35 33 36 30 35 25 35 20 35 14 35 10 35 7 36 5 35 4"/>
<path d="M202 3658l36-79 35-79 35-83 35-95 35-105 35-79 36-61 35-48 35-14 35 16 35 30 35 41 36 53 35 59 35 57 35 52 35 46 35 41 36 36 35 31 35 28 35 27 35 26 36 24 35 22 35 17 35 13 35 9 35 7 36 4 35 4"/>
<path d="M202 3658l36-81 35-82 35-85 35-98 35-107 35-81 36-63 35-51 35-19 35 5 35 15 35 20 36 27 35 33 35 36 35 43 35 48 35 51 36 52 35 52 35 51 35 50 35 45 36 39 35 31 35 23 35 17 35 11 35 8 36 6 35 4"/>
<path d="M202 3658l36-80 35-80 35-84 35-98 35-109 35-85 36-70 35-55 35-22 35 10 35 25 35 37 36 50 35 58 35 59 35 56 35 51 35 47 36 41 35 39 35 35 35 34 35 31 36 29 35 23 35 19 35 14 35 10 35 6 36 5 35 4"/>
<path d="M202 3658l36-86 35-87 35-89 35-103 35-114 35-88 36-72 35-57 35-24 35 3 35 14 35 23 36 31 35 39 35 46 35 58 35 67 35 70 36 67 35 65 35 59 35 49 35 39 36 29 35 20 35 14 35 9 35 7 35 5 36 3 35 3"/>
<path d="M202 3658l36-83 35-84 35-86 35-98 35-106 35-79 36-59 35-47 35-17 35 5 35 12 35 16 36 22 35 27 35 33 35 42 35 50 35 56 36 58 35 57 35 57 35 53 35 45 36 37 35 28 35 21 35 14 35 10 35 7 36 5 35 4"/>
</g>
<g fill="none" stroke="#00ffff" stroke-opacity="0.3" stroke-width="3.2">
<path d="M202 3658l36-69 35-70 35-73 35-84 35-94 35-68 36-50 35-31 35 6 35 36 35 44 35 46 36 49 35 50 35 46 35 41 35 37 35 33 36 28 35 25 35 21 35 17 35 13 36 10 35 9 35 7 35 6 35 5 35 4 36 3 35 3"/>
<path d="M202 3658l36-72 35-72 35-72 35-82 35-85 35-50 36-23 35-4 35 31 35 53 35 52 35 44 36 39 35 35 35 30 35 26 35 24 35 23 36 21 35 19 35 14 35 11 35 8 36 6 35 5 35 5 35 3 35 4 35 2 36 3 35 2"/>
<path d="M202 3658l36-73 35-74 35-77 35-88 35-98 35-72 36-53 35-36 35-2 35 28 35 39 35 44 36 45 35 43 35 40 35 37 35 36 35 34 36 33 35 31 35 29 35 29 35 26 36 21 35 17 35 12 35 9 35 7 35 5 36 4 35 4"/>
<path d="M202 3658l36-72 35-72 35-73 35-83 35-87 35-54 36-29 35-12 35 22 35 46 35 48 35 42 36 37 35 33 35 28 35 25 35 24 35 24 36 23 35 23 35 22 35 19 35 15 36 12 35 10 35 7 35 7 35 5 35 4 36 3 35 3"/>
<path d="M202 3658l36-67 35-67 35-69 35-81 35-89 35-60 36-41 35-22 35 12 35 36 35 41 35 41 36 41 35 41 35 36 35 33 35 30 35 27 36 24 35 23 35 20 35 18 35 15 36 12 35 11 35 9 35 7 35 6 35 5 36 4 35 4"/>
<path d="M202 3658l36-77 35-77 35-79 35-90 35-97 35-67 36-44 35-28 35 6 35 33 35 44 35 48 36 46 35 41 35 35 35 34 35 32 35 32 36 32 35 30 35 30 35 28 35 23 36 19 35 13 35 10 35 7 35 6 35 4 36 3 35 3"/>
<path d="M202 3658l36-73 35-73 35-75 35-86 35-94 35-63 36-42 35-24 35 10 35 38 35 46 35 45 36 42 35 39 35 35 35 33 35 31 35 29 36 29 35 26 35 26 35 23 35 19 36 15 35 12 35 9 35 7 35 5 35 4 36 4 35 3"/>
<path d="M202 3658l36-69 35-70 35-71 35-83 35-90 35-62 36-41 35-23 35 12 35 37 35 43 35 41 36 40 35 38 35 34 35 32 35 30 35 27 36 26 35 24 35 23 35 21 35 18 36 15 35 12 35 9 35 8 35 7 35 4 36 4 35 4"/>
<path d="M202 3658l36-69 35-69 35-71 35-82 35-89 35-61 36-39 35-23 35 12 35 35 35 40 35 39 36 36 35 34 35 31 35 28 35 27 35 26 36 26 35 24 35 24 35 23 35 22 36 18 35 15 35 12 35 10 35 7 35 6 36 4 35 4"/>
<path d="M202 3658l36-67 35-68 35-69 35-80 35-88 35-57 36-36 35-17 35 18 35 40 35 44 35 42 36 43 35 42 35 37 35 32 35 30 35 26 36 23 35 21 35 17 35 13 35 10 36 9 35 7 35 7 35 6 35 4 35 4 36 4 35 3"/>
<path d="M202 3658l36-78 35-79 35-81 35-93 35-100 35-71 36-51 35-32 35 2 35 34 35 49 35 53 36 55 35 50 35 46 35 43 35 40 35 38 36 34 35 32 35 27 35 23 35 16 36 12 35 9 35 6 35 5 35 4 35 2 36 3 35 2"/>
<path d="M202 3658l36-74 35-75 35-77 35-88 35-97 35-67 36-46 35-30 35 4 35 33 35 42 35 45 36 44 35 41 35 36 35 34 35 33 35 32 36 30 35 30 35 29 35 27 35 24 36 19 35 14 35 11 35 8 35 6 35 5 36 4 35 3"/>
<path d="M202 3658l36-69 35-70 35-70 35-81 35-85 35-53 36-29 35-12 35 20 35 42 35 42 35 38 36 33 35 30 35 25 35 23 35 22 35 22 36 23 35 22 35 22 35 21 35 18 36 16 35 12 35 11 35 8 35 6 35 5 36 4 35 4"/>
<path d="M202 3658l36-71 35-71 35-74 35-85 35-95 35-68 36-49 35-33 35 2 35 29 35 38 35 40 36 40 35 37 35 35 35 33 35 32 35 30 36 29 35 29 35 28 35 28 35 26 36 24 35 18 35 15 35 10 35 8 35 6 36 5 35 4"/>
<path d="M202 3658l36-63 35-62 35-64 35-74 35-81 35-52 36-29 35-12 35 17 35 36 35 39 35 40 36 41 35 38 35 33 35 29 35 26 35 22 36 20 35 16 35 14 35 10 35 9 36 8 35 7 35 7 35 7 35 6 35 4 36 4 35 4"/>
<path d="M202 3658l36-84 35-85 35-88 35-100 35-110 35-84 36-65 35-51 35-17 35 10 35 23 35 32 36 42 35 50 35 54 35 54 35 52 35 52 36 52 35 52 35 48 35 43 35 37 36 27 35 18 35 12 35 9 35 6 35 4 36 4 35 3"/>
<path d="M202 3658l36-73 35-73 35-75 35-87 35-94 35-65 36-45 35-28 35 6 35 34 35 42 35 43 36 42 35 38 35 34 35 33 35 31 35 30 36 29 35 28 35 28 35 26 35 23 36 19 35 15 35 12 35 8 35 7 35 5 36 4 35 3"/>
<path d="M202 3658l36-71 35-72 35-73 35-85 35-92 35-63 36-42 35-26 35 8 35 35 35 41 35 40 36 39 35 35 35 32 35 30 35 28 35 28 36 28 35 26 35 27 35 25 35 24 36 20 35 16 35 12 35 9 35 8 35 5 36 4 35 4"/>
</g>
<g fill="none" stroke="#ff0000" stroke-opacity="0.22" stroke-width="3.2">
<path d="M202 3658l36-86 35-88 35-89 35-102 35-110 35-83 36-63 35-49 35-19 35 4 35 11 35 13 36 17 35 19 35 21 35 29 35 43 35 62 36 78 35 85 35 76 35 64 35 52 36 40 35 26 35 17 35 11 35 8 35 5 36 5 35 3"/>
<path d="M202 3658l36-79 35-80 35-83 35-94 35-103 35-77 36-59 35-44 35-12 35 16 35 30 35 41 36 53 35 59 35 59 35 56 35 49 35 43 36 37 35 34 35 31 35 28 35 25 36 20 35 15 35 11 35 8 35 6 35 4 36 3 35 3"/>
<path d="M202 3658l36-79 35-79 35-81 35-93 35-101 35-73 36-54 35-39 35-7 35 22 35 36 35 49 36 59 35 63 35 59 35 51 35 44 35 37 36 31 35 28 35 25 35 23 35 20 36 16 35 13 35 9 35 7 35 5 35 3 36 3 35 3"/>
<path d="M202 3658l36-79 35-79 35-81 35-93 35-101 35-73 36-54 35-39 35-8 35 19 35 32 35 42 36 52 35 56 35 54 35 51 35 45 35 39 36 34 35 31 35 29 35 28 35 24 36 20 35 16 35 11 35 7 35 6 35 5 36 3 35 3"/>
<path d="M202 3658l36-77 35-78 35-81 35-91 35-99 35-72 36-52 35-38 35-6 35 22 35 36 35 46 36 54 35 55 35 53 35 46 35 41 35 35 36 30 35 28 35 26 35 25 35 24 36 20 35 16 35 11 35 9 35 6 35 4 36 4 35 3"/>
<path d="M202 3658l36-89 35-89 35-92 35-103 35-110 35-81 36-59 35-46 35-15 35 7 35 12 35 13 36 15 35 16 35 18 35 27 35 42 35 66 36 84 35 90 35 79 35 65 35 51 36 36 35 23 35 14 35 9 35 6 35 5 36 3 35 3"/>
<path d="M202 3658l36-79 35-79 35-83 35-94 35-104 35-78 36-61 35-46 35-13 35 17 35 31 35 44 36 57 35 62 35 62 35 56 35 49 35 42 36 35 35 32 35 30 35 27 35 24 36 20 35 15 35 10 35 8 35 6 35 4 36 3 35 3"/>
<path d="M202 3658l36-82 35-83 35-85 35-98 35-106 35-81 36-62 35-48 35-14 35 14 35 28 35 41 36 58 35 69 35 71 35 67 35 59 35 50 36 41 35 36 35 32 35 25 35 20 36 14 35 10 35 8 35 5 35 4 35 3 36 2 35 2"/>
<path d="M202 3658l36-85 35-86 35-88 35-100 35-110 35-82 36-64 35-49 35-19 35 7 35 15 35 20 36 26 35 31 35 38 35 49 35 61 35 68 36 69 35 65 35 58 35 49 35 41 36 29 35 19 35 13 35 8 35 6 35 5 36 3 35 3"/>
<path d="M202 3658l36-89 35-89 35-93 35-105 35-116 35-92 36-75 35-60 35-27 35 1 35 14 35 22 36 31 35 38 35 46 35 58 35 73 35 83 36 84 35 75 35 64 35 53 35 38 36 24 35 14 35 9 35 7 35 4 35 3 36 3 35 2"/>
<path d="M202 3658l36-82 35-82 35-85 35-97 35-107 35-81 36-63 35-49 35-16 35 12 35 27 35 38 36 54 35 65 35 68 35 65 35 59 35 50 36 43 35 38 35 33 35 30 35 23 36 17 35 12 35 9 35 6 35 4 35 4 36 3 35 2"/>
<path d="M202 3658l36-76 35-77 35-79 35-91 35-99 35-73 36-55 35-40 35-7 35 22 35 35 35 46 36 53 35 53 35 50 35 45 35 39 35 33 36 29 35 27 35 26 35 26 35 26 36 24 35 19 35 14 35 10 35 7 35 6 36 4 35 3"/>
<path d="M202 3658l36-88 35-88 35-91 35-102 35-111 35-82 36-63 35-49 35-17 35 6 35 13 35 16 36 20 35 23 35 27 35 37 35 54 35 71 36 82 35 80 35 69 35 58 35 46 36 32 35 20 35 12 35 9 35 6 35 4 36 3 35 3"/>
<path d="M202 3658l36-84 35-85 35-88 35-100 35-110 35-84 36-66 35-52 35-20 35 5 35 15 35 21 36 28 35 34 35 40 35 50 35 60 35 66 36 68 35 64 35 56 35 50 35 40 36 31 35 20 35 14 35 9 35 7 35 4 36 4 35 3"/>
<path d="M202 3658l36-83 35-84 35-86 35-97 35-106 35-77 36-59 35-44 35-13 35 11 35 19 35 24 36 32 35 41 35 48 35 55 35 59 35 59 36 56 35 50 35 46 35 40 35 33 36 24 35 17 35 11 35 8 35 6 35 4 36 3 35 3"/>
<path d="M202 3658l36-83 35-83 35-86 35-100 35-109 35-85 36-69 35-55 35-21 35 7 35 19 35 28 36 40 35 49 35 58 35 62 35 63 35 62 36 56 35 50 35 46 35 40 35 33 36 25 35 17 35 12 35 8 35 5 35 5 36 3 35 3"/>
<path d="M202 3658l36-75 35-75 35-76 35-88 35-96 35-68 36-48 35-31 35 5 35 37 35 55 35 61 36 61 35 56 35 47 35 37 35 30 35 24 36 18 35 16 35 14 35 16 35 16 36 16 35 13 35 10 35 8 35 6 35 5 36 3 35 3"/>
<path d="M202 3658l36-79 35-79 35-82 35-92 35-99 35-69 36-50 35-34 35-5 35 22 35 32 35 43 36 51 35 55 35 53 35 48 35 43 35 38 36 33 35 30 35 28 35 26 35 22 36 19 35 13 35 10 35 8 35 5 35 4 36 3 35 3"/>
</g>
<g fill="none" stroke="#00ffff" stroke-opacity="0.3" stroke-width="3.2">
<path d="M202 3658l36-69 35-69 35-71 35-81 35-87 35-58 36-35 35-16 35 19 35 43 35 46 35 42 36 42 35 39 35 36 35 31 35 29 35 26 36 24 35 22 35 18 35 14 35 11 36 9 35 8 35 6 35 6 35 5 35 4 36 3 35 3"/>
<path d="M202 3658l36-83 35-85 35-87 35-99 35-109 35-81 36-64 35-48 35-15 35 12 35 24 35 32 36 41 35 48 35 51 35 51 35 49 35 49 36 51 35 50 35 47 35 43 35 37 36 28 35 18 35 13 35 9 35 6 35 5 36 4 35 3"/>
<path d="M202 3658l36-69 35-68 35-71 35-82 35-90 35-61 36-40 35-23 35 11 35 36 35 41 35 39 36 38 35 36 35 33 35 30 35 28 35 27 36 25 35 24 35 23 35 22 35 20 36 17 35 14 35 11 35 9 35 6 35 6 36 4 35 4"/>
<path d="M202 3658l36-62 35-61 35-63 35-73 35-79 35-47 36-25 35-9 35 18 35 36 35 38 35 37 36 37 35 35 35 29 35 26 35 22 35 20 36 19 35 16 35 13 35 12 35 9 36 9 35 8 35 8 35 7 35 7 35 5 36 4 35 4"/>
<path d="M202 3658l36-72 35-73 35-74 35-86 35-94 35-64 36-44 35-28 35 6 35 33 35 41 35 42 36 39 35 37 35 32 35 31 35 30 35 29 36 29 35 28 35 27 35 27 35 25 36 21 35 16 35 12 35 10 35 7 35 5 36 4 35 4"/>
<path d="M202 3658l36-72 35-73 35-74 35-85 35-92 35-60 36-39 35-21 35 12 35 38 35 44 35 43 36 39 35 34 35 31 35 29 35 27 35 28 36 26 35 26 35 26 35 24 35 22 36 17 35 13 35 11 35 8 35 6 35 5 36 4 35 3"/>
<path d="M202 3658l36-73 35-74 35-75 35-86 35-93 35-61 36-40 35-24 35 11 35 36 35 44 35 43 36 40 35 35 35 31 35 29 35 28 35 28 36 28 35 27 35 27 35 26 35 23 36 18 35 15 35 10 35 9 35 6 35 5 36 4 35 3"/>
<path d="M202 3658l36-66 35-65 35-66 35-74 35-77 35-41 36-14 35 4 35 32 35 45 35 41 35 36 36 32 35 28 35 23 35 20 35 18 35 18 36 17 35 16 35 13 35 10 35 9 36 7 35 7 35 6 35 5 35 5 35 4 36 4 35 3"/>
<path d="M202 3658l36-64 35-63 35-65 35-73 35-79 35-46 36-22 35-4 35 24 35 40 35 39 35 37 36 36 35 32 35 28 35 24 35 22 35 19 36 19 35 16 35 13 35 11 35 9 36 8 35 8 35 7 35 6 35 6 35 5 36 3 35 4"/>
<path d="M202 3658l36-76 35-77 35-78 35-89 35-95 35-63 36-41 35-22 35 11 35 40 35 50 35 50 36 46 35 41 35 35 35 34 35 31 35 31 36 29 35 28 35 26 35 23 35 17 36 13 35 10 35 7 35 6 35 4 35 4 36 2 35 3"/>
<path d="M202 3658l36-89 35-89 35-91 35-104 35-114 35-86 36-68 35-53 35-19 35 9 35 22 35 31 36 42 35 52 35 60 35 63 35 60 35 58 36 59 35 56 35 51 35 45 35 36 36 24 35 15 35 10 35 6 35 5 35 4 36 3 35 2"/>
<path d="M202 3658l36-81 35-82 35-84 35-96 35-104 35-75 36-55 35-40 35-8 35 18 35 28 35 33 36 41 35 43 35 43 35 41 35 39 35 42 36 44 35 44 35 43 35 41 35 35 36 28 35 19 35 14 35 9 35 7 35 5 36 4 35 4"/>
<path d="M202 3658l36-70 35-71 35-73 35-85 35-94 35-66 36-48 35-29 35 7 35 35 35 44 35 44 36 44 35 44 35 41 35 37 35 34 35 31 36 29 35 26 35 24 35 21 35 17 36 14 35 11 35 9 35 7 35 5 35 5 36 4 35 3"/>
<path d="M202 3658l36-72 35-73 35-73 35-83 35-86 35-52 36-27 35-8 35 24 35 47 35 48 35 43 36 36 35 31 35 26 35 24 35 23 35 22 36 23 35 23 35 21 35 18 35 15 36 12 35 10 35 7 35 6 35 5 35 4 36 3 35 3"/>
<path d="M202 3658l36-72 35-73 35-76 35-87 35-96 35-68 36-49 35-33 35 4 35 32 35 42 35 45 36 44 35 42 35 40 35 36 35 35 35 32 36 31 35 28 35 28 35 25 35 22 36 18 35 13 35 11 35 8 35 6 35 5 36 4 35 3"/>
<path d="M202 3658l36-76 35-76 35-77 35-87 35-92 35-57 36-33 35-15 35 17 35 44 35 51 35 49 36 42 35 35 35 29 35 27 35 27 35 26 36 26 35 26 35 25 35 22 35 17 36 13 35 10 35 8 35 6 35 4 35 4 36 2 35 3"/>
<path d="M202 3658l36-69 35-68 35-70 35-79 35-82 35-48 36-24 35-5 35 26 35 45 35 44 35 37 36 33 35 29 35 25 35 21 35 21 35 20 36 21 35 20 35 19 35 17 35 14 36 11 35 10 35 8 35 7 35 5 35 5 36 4 35 3"/>
<path d="M202 3658l36-74 35-75 35-77 35-86 35-92 35-61 36-37 35-22 35 9 35 34 35 40 35 41 36 37 35 33 35 26 35 23 35 25 35 26 36 28 35 28 35 29 35 30 35 28 36 24 35 19 35 14 35 9 35 8 35 5 36 4 35 4"/>
<path d="M202 3658l36-75 35-75 35-78 35-90 35-100 35-74 36-55 35-39 35-2 35 29 35 42 35 49 36 50 35 49 35 46 35 44 35 41 35 37 36 34 35 32 35 29 35 25 35 21 36 16 35 12 35 9 35 7 35 6 35 4 36 3 35 3"/>
</g>
<g fill="none" stroke="#8000ff" stroke-opacity="0.3" stroke-width="3.2">
<path d="M202 3659l36-68 35-68 35-70 35-82 35-88 35-56 36-32 35-11 35 26 35 54 35 62 35 63 36 61 35 56 35 45 35 34 35 24 35 17 36 11 35 7 35 4 35 3 35 2 36 1 35 1 35 1 35 0 35 1 35 0 36 1 35 0"/>
<path d="M202 3659l36-58 35-58 35-60 35-71 35-76 35-43 36-23 35-8 35 19 35 38 35 43 35 42 36 42 35 38 35 31 35 25 35 20 35 16 36 13 35 10 35 9 35 8 35 6 36 5 35 5 35 5 35 5 35 4 35 4 36 4 35 4"/>
<path d="M202 3659l36-55 35-55 35-57 35-68 35-73 35-40 36-16 35 1 35 30 35 50 35 53 35 53 36 49 35 42 35 32 35 23 35 15 35 9 36 5 35 4 35 1 35 1 35 0 36-1 35 0 35-1 35 0 35-1 35-1 36 0 35-1"/>
<path d="M202 3659l36-64 35-65 35-67 35-79 35-84 35-53 36-29 35-9 35 28 35 53 35 59 35 58 36 56 35 51 35 40 35 30 35 22 35 16 36 10 35 8 35 5 35 3 35 2 36 2 35 2 35 1 35 1 35 0 35 1 36 1 35 0"/>
<path d="M202 3659l36-59 35-59 35-61 35-72 35-77 35-45 36-22 35-6 35 22 35 43 35 47 35 46 36 45 35 41 35 33 35 26 35 20 35 15 36 11 35 9 35 8 35 5 35 5 36 4 35 3 35 4 35 3 35 3 35 2 36 3 35 2"/>
<path d="M202 3659l36-65 35-64 35-67 35-78 35-84 35-52 36-27 35-6 35 29 35 52 35 57 35 55 36 53 35 48 35 38 35 28 35 22 35 15 36 11 35 8 35 6 35 4 35 3 36 3 35 2 35 2 35 1 35 2 35 1 36 1 35 1"/>
<path d="M202 3659l36-69 35-68 35-71 35-82 35-89 35-58 36-33 35-13 35 24 35 51 35 59 35 60 36 60 35 54 35 45 35 35 35 26 35 18 36 13 35 9 35 6 35 5 35 3 36 2 35 3 35 1 35 2 35 2 35 1 36 1 35 2"/>
<path d="M202 3659l36-60 35-60 35-63 35-73 35-80 35-47 36-22 35-3 35 30 35 52 35 56 35 54 36 52 35 46 35 35 35 26 35 19 35 12 36 8 35 6 35 3 35 3 35 1 36 1 35 1 35 1 35 0 35 1 35 0 36 0 35 0"/>
<path d="M202 3659l36-60 35-60 35-62 35-73 35-79 35-47 36-22 35-5 35 27 35 50 35 53 35 53 36 51 35 46 35 36 35 27 35 20 35 13 36 9 35 6 35 5 35 3 35 2 36 1 35 1 35 1 35 1 35 1 35 0 36 1 35 0"/>
<path d="M202 3659l36-61 35-62 35-64 35-74 35-80 35-47 36-23 35-3 35 29 35 53 35 56 35 57 36 54 35 49 35 38 35 27 35 19 35 12 36 8 35 5 35 3 35 2 35 1 36 0 35 0 35 0 35 0 35 0 35 0 36 0 35 0"/>
<path d="M202 3658l36-63 35-64 35-66 35-77 35-85 35-53 36-30 35-13 35 21 35 42 35 46 35 45 36 45 35 41 35 35 35 29 35 25 35 21 36 16 35 14 35 12 35 10 35 8 36 7 35 6 35 6 35 5 35 5 35 4 36 4 35 4"/>
<path d="M202 3659l36-61 35-62 35-64 35-75 35-81 35-49 36-25 35-6 35 28 35 52 35 57 35 56 36 56 35 49 35 39 35 29 35 21 35 13 36 9 35 6 35 3 35 2 35 1 36 1 35 0 35 0 35 0 35 0 35 0 36 0 35 0"/>
<path d="M202 3658l36-62 35-63 35-65 35-77 35-83 35-52 36-29 35-11 35 21 35 42 35 46 35 45 36 45 35 41 35 35 35 28 35 24 35 19 36 16 35 13 35 11 35 9 35 7 36 7 35 6 35 5 35 5 35 5 35 4 36 4 35 4"/>
<path d="M202 3659l36-63 35-62 35-65 35-76 35-82 35-51 36-26 35-8 35 25 35 47 35 52 35 51 36 50 35 45 35 37 35 29 35 22 35 16 36 12 35 9 35 7 35 5 35 5 36 3 35 3 35 3 35 2 35 3 35 2 36 2 35 2"/>
<path d="M202 3659l36-60 35-60 35-62 35-73 35-79 35-46 36-21 35-5 35 26 35 48 35 51 35 51 36 49 35 44 35 35 35 27 35 19 35 14 36 9 35 8 35 5 35 4 35 2 36 3 35 2 35 1 35 2 35 1 35 2 36 1 35 1"/>
<path d="M202 3658l36-65 35-65 35-67 35-79 35-85 35-52 36-29 35-8 35 25 35 48 35 52 35 51 36 50 35 45 35 37 35 29 35 23 35 18 36 13 35 11 35 8 35 7 35 5 36 5 35 4 35 4 35 4 35 3 35 3 36 2 35 3"/>
<path d="M202 3659l36-67 35-68 35-69 35-81 35-87 35-56 36-31 35-11 35 26 35 52 35 58 35 59 36 58 35 52 35 43 35 32 35 24 35 18 36 12 35 8 35 6 35 4 35 4 36 2 35 2 35 2 35 2 35 1 35 1 36 2 35 1"/>
<path d="M202 3658l36-62 35-62 35-65 35-76 35-83 35-53 36-30 35-13 35 17 35 38 35 41 35 41 36 41 35 37 35 33 35 28 35 24 35 22 36 18 35 15 35 14 35 12 35 10 36 8 35 8 35 7 35 7 35 6 35 6 36 6 35 5"/>
<path d="M202 3659l36-60 35-61 35-62 35-72 35-77 35-43 36-18 35 0 35 29 35 49 35 52 35 52 36 49 35 42 35 32 35 24 35 17 35 11 36 9 35 6 35 4 35 3 35 3 36 2 35 1 35 2 35 1 35 1 35 1 36 1 35 1"/>
</g>
<g fill="none" stroke="#bebebe" stroke-opacity="0.25" stroke-width="2.8">
<path d="M202 3658l17-1 16-5 17-8 16-2 17 6 17 13 16 12 17 2 16-11 17-20 16-20 17-9 16 3 17 16 16 21 17 17 16 7 17-4 16-11 17-13 16-10 17-3 16 3 17 7 16 9 17 5 16 3 17-2 16-3 17-3 17-3 16-1 17 1 16 2 17 2 16 1 50-1 49-1 50 1 49 0 50 0 49 0 50 0 50 0 49 0 50 0"/>
<path d="M202 3658l17-2 16-6 17 0 16 17 17 32 17 33 16 19 17 0 16-19 17-34 16-38 17-25 16-4 17 13 16 24 17 23 16 14 17 3 16-6 17-13 16-14 17-11 16-7 17-1 16 2 17 3 16 3 17 1 16 1 17-1 17-1 16-2 17-1 16-1 17-1 16 0 50-1 49 1 50 0 49-1 50 0 49 0 50 0 50 0 49 0 50 0"/>
<path d="M202 3658l17 0 16 4 17 12 16 21 17 26 17 21 16 13 17 3 16-8 17-17 16-25 17-26 16-20 17-11 16-1 17 8 16 13 17 13 16 11 17 6 16-3 17-3 16-4 17-9 16-9 17-8 16-5 17-3 16-1 17 1 17 2 16 2 17 1 16 1 17 0 16 0 50-3 49-2 50 0 49 0 50 0 49 0 50 0 50 0 49 0 50 0"/>
<path d="M202 3658l17 0 16 1 17 3 16 5 17 6 17 6 16 3 17-4 16-9 17-12 16-12 17-7 16 0 17 5 16 9 17 8 16 7 17 2 16 0 17-2 16-2 17-2 16-2 17-1 16-1 17-1 16-1 17-1 16 0 17 0 17 1 16 1 17 1 16 0 17 0 16 0 50-1 49 0 50 0 49 0 50 0 49 0 50 0 50 0 49 0 50 0"/>
<path d="M202 3658l17-2 16-12 17-24 16-26 17-19 17-8 16 3 17 13 16 22 17 27 16 21 17 10 16-5 17-16 16-23 17-19 16-12 17-1 16 8 17 16 16 20 17 17 16 11 17 4 16-2 17-6 16-6 17-4 16-1 17 0 17 3 16 3 17 3 16 2 17 2 16 1 50-1 49-1 50 1 49 1 50 0 49 0 50 0 50 0 49 0 50 0"/>
<path d="M202 3658l17-4 16-17 17-25 16-12 17 10 17 29 16 31 17 8 16-25 17-48 16-42 17-20 16-1 17 15 16 36 17 49 16 37 17 13 16-8 17-21 16-23 17-15 16-5 17 6 16 11 17 11 16 8 17 2 16-2 17-4 17-3 16-2 17 2 16 2 17 4 16 3 50 1 49-3 50 1 49 1 50 0 49 0 50 0 50 0 49 0 50 0"/>
<path d="M202 3658l17 0 16 0 17 8 16 16 17 20 17 16 16 4 17-7 16-19 17-21 16-16 17-6 16 5 17 13 16 14 17 9 16 3 17-4 16-9 17-10 16-9 17-5 16-1 17 2 16 3 17 2 16 1 17-1 16-1 17-3 17-2 16-1 17-1 16 1 17 0 16 1 50-1 49-1 50 0 49 0 50 0 49 0 50 0 50 0 49 0 50 0"/>
<path d="M202 3658l17 1 16 2 17-8 16-26 17-38 17-33 16-19 17-6 16 4 17 15 16 30 17 42 16 36 17 17 16-2 17-17 16-26 17-23 16-15 17-5 16 4 17 12 16 17 17 17 16 14 17 8 16 3 17-1 16-4 17-5 17-3 16-2 17-1 16 2 17 2 16 3 50 5 49 0 50-1 49 0 50 1 49 0 50 0 50 0 49 0 50 0"/>
<path d="M202 3658l17 3 16 17 17 35 16 37 17 22 17 5 16-13 17-33 16-45 17-38 16-13 17 13 16 33 17 37 16 28 17 13 16-13 17-22 16-13 17-17 16-25 17-15 16-5 17 4 16 9 17 10 16 7 17 4 16-1 17-4 17-7 16-6 17-5 16-3 17-1 16 1 50 4 49 0 50-3 49 0 50 0 49 0 50 0 50 0 49 0 50 0"/>
<path d="M202 3658l17 3 16 17 17 29 16 25 17 7 17-17 16-38 17-43 16-26 17 1 16 26 17 41 16 37 17 19 16 1 17-15 16-24 17-26 16-18 17-6 16 5 17 10 16 11 17 6 16 0 17-6 16-7 17-8 16-6 17-2 17 1 16 2 17 3 16 3 17 1 16-1 50-4 49-1 50 1 49-1 50 0 49 0 50 0 50 0 49 0 50 0"/>
</g>
<g fill="none" stroke="#80ff00" stroke-opacity="0.3" stroke-width="3.2">
<path d="M202 3658l36-82 35-83 35-84 35-96 35-102 35-72 36-52 35-38 35-11 35 9 35 16 35 20 36 27 35 34 35 43 35 49 35 52 35 51 36 50 35 47 35 44 35 40 35 35 36 29 35 23 35 16 35 13 35 8 35 6 36 5 35 3"/>
<path d="M202 3658l36-82 35-82 35-86 35-99 35-110 35-86 36-69 35-55 35-22 35 6 35 19 35 29 36 40 35 48 35 53 35 57 35 57 35 54 36 51 35 47 35 45 35 41 35 36 36 30 35 24 35 17 35 13 35 10 35 6 36 4 35 4"/>
<path d="M202 3658l36-85 35-86 35-89 35-103 35-113 35-90 36-73 35-58 35-26 35 3 35 15 35 23 36 33 35 39 35 47 35 56 35 65 35 67 36 66 35 62 35 58 35 51 35 40 36 31 35 21 35 16 35 10 35 8 35 5 36 4 35 3"/>
<path d="M202 3658l36-88 35-89 35-92 35-104 35-113 35-86 36-69 35-54 35-23 35 3 35 11 35 14 36 19 35 23 35 27 35 36 35 49 35 68 36 79 35 82 35 77 35 69 35 53 36 37 35 25 35 16 35 11 35 7 35 5 36 4 35 3"/>
<path d="M202 3658l36-88 35-88 35-92 35-104 35-114 35-89 36-71 35-56 35-25 35 1 35 11 35 15 36 20 35 23 35 26 35 33 35 45 35 63 36 78 35 83 35 79 35 72 35 57 36 41 35 28 35 18 35 13 35 8 35 6 36 4 35 3"/>
<path d="M202 3658l36-87 35-88 35-90 35-104 35-112 35-86 36-69 35-54 35-22 35 2 35 10 35 15 36 19 35 22 35 27 35 35 35 47 35 63 36 76 35 78 35 76 35 68 35 55 36 39 35 28 35 18 35 12 35 9 35 6 36 4 35 3"/>
<path d="M202 3658l36-87 35-88 35-91 35-104 35-112 35-86 36-68 35-53 35-22 35 3 35 11 35 16 36 20 35 26 35 30 35 41 35 54 35 69 36 77 35 76 35 72 35 63 35 49 36 35 35 23 35 16 35 11 35 7 35 5 36 4 35 3"/>
<path d="M202 3658l36-86 35-86 35-90 35-101 35-110 35-82 36-63 35-50 35-19 35 4 35 10 35 14 36 18 35 23 35 29 35 37 35 52 35 64 36 70 35 71 35 68 35 62 35 50 36 37 35 26 35 18 35 12 35 9 35 6 36 4 35 3"/>
<path d="M202 3658l36-83 35-85 35-87 35-101 35-111 35-86 36-70 35-55 35-23 35 4 35 16 35 24 36 33 35 41 35 47 35 56 35 60 35 61 36 58 35 56 35 53 35 47 35 40 36 31 35 23 35 17 35 12 35 9 35 5 36 5 35 3"/>
<path d="M202 3658l36-85 35-86 35-88 35-99 35-106 35-76 36-57 35-42 35-14 35 7 35 12 35 14 36 19 35 27 35 35 35 48 35 58 35 63 36 64 35 61 35 58 35 50 35 40 36 30 35 22 35 15 35 11 35 7 35 5 36 4 35 3"/>
<path d="M202 3658l36-87 35-89 35-91 35-104 35-115 35-88 36-71 35-57 35-25 35 1 35 10 35 16 36 20 35 24 35 27 35 33 35 46 35 62 36 77 35 82 35 79 35 71 35 57 36 41 35 28 35 19 35 12 35 9 35 6 36 4 35 3"/>
<path d="M202 3658l36-89 35-90 35-92 35-106 35-117 35-91 36-75 35-61 35-28 35 0 35 11 35 18 36 23 35 27 35 28 35 36 35 48 35 67 36 83 35 87 35 83 35 72 35 56 36 39 35 25 35 16 35 11 35 7 35 5 36 4 35 3"/>
<path d="M202 3658l36-89 35-89 35-92 35-104 35-114 35-85 36-68 35-53 35-22 35 3 35 11 35 14 36 18 35 22 35 26 35 35 35 49 35 69 36 81 35 83 35 80 35 68 35 53 36 36 35 24 35 15 35 11 35 7 35 5 36 3 35 3"/>
<path d="M202 3658l36-81 35-81 35-85 35-96 35-105 35-78 36-59 35-46 35-16 35 9 35 18 35 25 36 33 35 41 35 46 35 50 35 50 35 49 36 46 35 45 35 43 35 40 35 37 36 31 35 25 35 20 35 14 35 9 35 7 36 5 35 4"/>
<path d="M202 3658l36-84 35-85 35-87 35-99 35-108 35-80 36-62 35-47 35-17 35 7 35 16 35 22 36 31 35 41 35 50 35 59 35 62 35 60 36 57 35 53 35 48 35 42 35 33 36 26 35 20 35 14 35 9 35 8 35 4 36 4 35 3"/>
<path d="M202 3658l36-81 35-81 35-85 35-99 35-110 35-87 36-71 35-58 35-22 35 8 35 24 35 37 36 50 35 60 35 63 35 60 35 56 35 49 36 45 35 41 35 36 35 34 35 30 36 27 35 22 35 17 35 12 35 9 35 6 36 5 35 3"/>
<path d="M202 3658l36-84 35-86 35-87 35-100 35-108 35-80 36-61 35-47 35-17 35 5 35 12 35 16 36 22 35 29 35 36 35 46 35 56 35 62 36 63 35 61 35 59 35 52 35 43 36 33 35 24 35 17 35 12 35 9 35 6 36 4 35 3"/>
<path d="M202 3658l36-86 35-86 35-90 35-104 35-114 35-91 36-74 35-60 35-27 35 3 35 16 35 25 36 36 35 44 35 54 35 63 35 71 35 71 36 66 35 62 35 56 35 46 35 36 36 26 35 18 35 13 35 9 35 7 35 4 36 3 35 3"/>
<path d="M202 3658l36-83 35-84 35-87 35-97 35-104 35-75 36-54 35-41 35-13 35 8 35 14 35 19 36 25 35 34 35 43 35 52 35 57 35 57 36 55 35 52 35 48 35 43 35 35 36 29 35 21 35 15 35 11 35 8 35 5 36 4 35 3"/>
</g>
<g fill="none" stroke="#ff0000" stroke-opacity="0.22" stroke-width="3.2">
<path d="M202 3658l36-86 35-86 35-89 35-103 35-112 35-87 36-70 35-56 35-24 35 2 35 11 35 18 36 22 35 27 35 29 35 37 35 51 35 66 36 77 35 80 35 72 35 60 35 49 36 38 35 26 35 17 35 10 35 8 35 6 36 4 35 3"/>
<path d="M202 3658l36-75 35-75 35-77 35-89 35-98 35-71 36-52 35-34 35 3 35 39 35 58 35 66 36 69 35 62 35 51 35 40 35 32 35 25 36 17 35 14 35 12 35 13 35 14 36 13 35 12 35 9 35 7 35 5 35 4 36 3 35 3"/>
<path d="M202 3658l36-80 35-81 35-82 35-95 35-102 35-73 36-55 35-41 35-8 35 19 35 32 35 44 36 55 35 62 35 61 35 55 35 49 35 41 36 36 35 31 35 28 35 26 35 21 36 16 35 12 35 9 35 6 35 5 35 4 36 3 35 2"/>
<path d="M202 3658l36-70 35-71 35-72 35-82 35-91 35-61 36-38 35-16 35 29 35 62 35 69 35 64 36 55 35 44 35 35 35 27 35 19 35 11 36 6 35 2 35 2 35 6 35 10 36 12 35 12 35 11 35 7 35 7 35 4 36 4 35 3"/>
<path d="M202 3658l36-88 35-88 35-90 35-102 35-110 35-80 36-59 35-45 35-14 35 10 35 15 35 18 36 22 35 26 35 33 35 47 35 63 35 74 36 76 35 71 35 60 35 51 35 39 36 25 35 16 35 10 35 6 35 5 35 4 36 3 35 2"/>
<path d="M202 3658l36-78 35-79 35-81 35-91 35-99 35-69 36-50 35-34 35-2 35 26 35 41 35 53 36 61 35 61 35 56 35 47 35 39 35 33 36 28 35 24 35 22 35 20 35 18 36 14 35 12 35 8 35 6 35 5 35 4 36 3 35 2"/>
<path d="M202 3658l36-79 35-80 35-82 35-95 35-104 35-78 36-61 35-47 35-14 35 13 35 25 35 36 36 46 35 53 35 54 35 54 35 50 35 46 36 41 35 37 35 36 35 33 35 30 36 25 35 19 35 14 35 9 35 7 35 5 36 4 35 3"/>
<path d="M202 3658l36-85 35-86 35-89 35-100 35-109 35-80 36-62 35-47 35-17 35 7 35 15 35 18 36 24 35 28 35 35 35 46 35 58 35 68 36 71 35 67 35 59 35 50 35 42 36 29 35 20 35 12 35 9 35 6 35 5 36 3 35 3"/>
<path d="M202 3658l36-80 35-80 35-83 35-94 35-105 35-78 36-60 35-46 35-13 35 14 35 27 35 38 36 50 35 57 35 58 35 56 35 52 35 45 36 40 35 36 35 34 35 31 35 27 36 22 35 16 35 11 35 8 35 6 35 5 36 3 35 3"/>
<path d="M202 3658l36-75 35-76 35-77 35-89 35-98 35-70 36-52 35-35 35-3 35 28 35 43 35 51 36 55 35 53 35 47 35 40 35 34 35 28 36 24 35 22 35 21 35 23 35 23 36 22 35 18 35 13 35 10 35 7 35 6 36 4 35 3"/>
<path d="M202 3658l36-77 35-77 35-79 35-91 35-99 35-72 36-53 35-39 35-6 35 19 35 32 35 41 36 47 35 49 35 47 35 43 35 40 35 36 36 31 35 30 35 29 35 29 35 28 36 26 35 20 35 15 35 10 35 8 35 5 36 5 35 3"/>
<path d="M202 3658l36-88 35-89 35-91 35-104 35-113 35-86 36-67 35-53 35-22 35 4 35 12 35 17 36 21 35 25 35 28 35 37 35 53 35 71 36 85 35 84 35 73 35 61 35 48 36 34 35 21 35 13 35 9 35 6 35 5 36 3 35 3"/>
<path d="M202 3658l36-78 35-79 35-82 35-93 35-102 35-75 36-57 35-43 35-9 35 19 35 33 35 46 36 56 35 61 35 58 35 53 35 46 35 38 36 34 35 29 35 28 35 26 35 23 36 19 35 15 35 10 35 8 35 6 35 4 36 3 35 3"/>
<path d="M202 3658l36-87 35-87 35-90 35-102 35-111 35-83 36-65 35-50 35-19 35 6 35 16 35 20 36 26 35 32 35 39 35 52 35 65 35 73 36 74 35 68 35 59 35 50 35 39 36 26 35 17 35 10 35 7 35 6 35 4 36 2 35 3"/>
<path d="M202 3658l36-77 35-77 35-79 35-91 35-98 35-71 36-51 35-37 35-3 35 24 35 38 35 48 36 55 35 55 35 50 35 45 35 38 35 32 36 28 35 25 35 25 35 24 35 23 36 20 35 16 35 12 35 8 35 7 35 4 36 4 35 3"/>
<path d="M202 3658l36-78 35-79 35-81 35-92 35-100 35-72 36-53 35-39 35-5 35 22 35 37 35 49 36 57 35 61 35 56 35 49 35 43 35 35 36 31 35 27 35 25 35 23 35 21 36 17 35 14 35 10 35 7 35 5 35 4 36 3 35 3"/>
<path d="M202 3658l36-90 35-91 35-94 35-105 35-115 35-88 36-70 35-55 35-23 35 3 35 12 35 17 36 21 35 25 35 27 35 35 35 51 35 74 36 92 35 93 35 80 35 65 35 50 36 32 35 19 35 12 35 8 35 5 35 4 36 3 35 3"/>
<path d="M202 3658l36-81 35-83 35-85 35-98 35-108 35-84 36-66 35-53 35-22 35 3 35 13 35 17 36 23 35 27 35 29 35 36 35 45 35 55 36 64 35 66 35 63 35 54 35 49 36 41 35 32 35 22 35 15 35 10 35 7 36 5 35 4"/>
<path d="M202 3658l36-86 35-86 35-89 35-101 35-110 35-82 36-63 35-49 35-18 35 6 35 13 35 18 36 21 35 26 35 31 35 41 35 55 35 68 36 75 35 73 35 63 35 55 35 44 36 33 35 21 35 14 35 9 35 7 35 4 36 4 35 3"/>
</g>
<g fill="none" stroke="#00ffff" stroke-opacity="0.3" stroke-width="3.2">
<path d="M202 3658l36-70 35-71 35-72 35-82 35-87 35-55 36-33 35-15 35 17 35 40 35 42 35 39 36 34 35 30 35 26 35 24 35 23 35 24 36 23 35 24 35 24 35 23 35 21 36 17 35 14 35 11 35 9 35 7 35 5 36 4 35 4"/>
<path d="M202 3658l36-74 35-74 35-76 35-85 35-88 35-54 36-30 35-12 35 18 35 43 35 47 35 43 36 37 35 30 35 23 35 22 35 23 35 23 36 24 35 25 35 25 35 24 35 22 36 17 35 13 35 10 35 7 35 6 35 4 36 4 35 3"/>
<path d="M202 3658l36-70 35-70 35-72 35-83 35-90 35-60 36-39 35-22 35 12 35 36 35 41 35 39 36 37 35 34 35 30 35 28 35 27 35 26 36 25 35 25 35 25 35 24 35 22 36 18 35 15 35 12 35 9 35 7 35 6 36 4 35 4"/>
<path d="M202 3658l36-71 35-71 35-73 35-84 35-91 35-61 36-41 35-24 35 9 35 35 35 41 35 40 36 38 35 34 35 31 35 28 35 28 35 27 36 27 35 26 35 25 35 26 35 23 36 20 35 16 35 12 35 9 35 7 35 6 36 4 35 4"/>
<path d="M202 3658l36-81 35-81 35-85 35-98 35-108 35-83 36-66 35-51 35-18 35 12 35 25 35 34 36 45 35 51 35 53 35 51 35 49 35 48 36 49 35 47 35 45 35 40 35 35 36 27 35 19 35 13 35 9 35 7 35 5 36 4 35 3"/>
<path d="M202 3658l36-69 35-69 35-71 35-81 35-89 35-58 36-38 35-18 35 15 35 40 35 43 35 41 36 40 35 37 35 34 35 31 35 28 35 26 36 24 35 23 35 21 35 19 35 15 36 12 35 11 35 8 35 7 35 6 35 5 36 4 35 3"/>
<path d="M202 3658l36-72 35-73 35-74 35-86 35-93 35-63 36-41 35-25 35 10 35 38 35 44 35 44 36 41 35 38 35 35 35 31 35 31 35 29 36 28 35 26 35 26 35 23 35 20 36 16 35 12 35 10 35 8 35 5 35 5 36 4 35 3"/>
<path d="M202 3658l36-87 35-87 35-91 35-102 35-110 35-83 36-63 35-48 35-15 35 12 35 23 35 29 36 38 35 46 35 51 35 54 35 54 35 52 36 54 35 55 35 51 35 46 35 39 36 27 35 18 35 12 35 8 35 6 35 5 36 3 35 3"/>
<path d="M202 3658l36-74 35-75 35-77 35-91 35-101 35-76 36-59 35-43 35-6 35 26 35 40 35 48 36 51 35 51 35 49 35 45 35 43 35 39 36 35 35 32 35 29 35 27 35 22 36 18 35 13 35 10 35 7 35 6 35 4 36 4 35 3"/>
<path d="M202 3658l36-72 35-73 35-75 35-86 35-93 35-62 36-42 35-23 35 12 35 40 35 47 35 46 36 43 35 41 35 36 35 34 35 32 35 30 36 27 35 26 35 24 35 20 35 16 36 13 35 10 35 8 35 6 35 5 35 4 36 3 35 3"/>
<path d="M202 3658l36-75 35-76 35-78 35-90 35-99 35-72 36-52 35-35 35-1 35 29 35 41 35 46 36 47 35 45 35 41 35 38 35 37 35 36 36 33 35 32 35 30 35 28 35 25 36 19 35 15 35 11 35 8 35 6 35 4 36 4 35 3"/>
<path d="M202 3658l36-68 35-68 35-69 35-78 35-84 35-50 36-27 35-9 35 21 35 41 35 41 35 36 36 32 35 28 35 25 35 22 35 21 35 21 36 20 35 21 35 21 35 19 35 18 36 15 35 12 35 11 35 8 35 7 35 5 36 4 35 4"/>
<path d="M202 3658l36-75 35-75 35-78 35-88 35-96 35-65 36-44 35-27 35 7 35 34 35 44 35 45 36 44 35 39 35 35 35 32 35 31 35 31 36 30 35 30 35 28 35 27 35 24 36 18 35 14 35 10 35 8 35 6 35 4 36 4 35 3"/>
<path d="M202 3658l36-77 35-77 35-80 35-92 35-100 35-72 36-52 35-35 35-1 35 29 35 42 35 48 36 50 35 46 35 43 35 40 35 38 35 37 36 34 35 33 35 31 35 28 35 24 36 18 35 13 35 9 35 8 35 5 35 4 36 3 35 3"/>
<path d="M202 3658l36-75 35-75 35-77 35-88 35-94 35-64 36-41 35-24 35 9 35 38 35 45 35 47 36 43 35 39 35 33 35 32 35 31 35 29 36 29 35 28 35 28 35 25 35 21 36 16 35 13 35 9 35 7 35 5 35 5 36 3 35 3"/>
<path d="M202 3658l36-75 35-75 35-78 35-90 35-100 35-73 36-55 35-38 35-3 35 28 35 41 35 47 36 49 35 48 35 44 35 42 35 39 35 37 36 34 35 32 35 29 35 28 35 23 36 18 35 13 35 11 35 7 35 6 35 4 36 4 35 3"/>
<path d="M202 3658l36-73 35-72 35-75 35-85 35-92 35-60 36-38 35-20 35 14 35 40 35 46 35 44 36 41 35 36 35 32 35 30 35 28 35 28 36 26 35 26 35 24 35 23 35 18 36 15 35 12 35 9 35 7 35 5 35 4 36 4 35 3"/>
<path d="M202 3658l36-77 35-78 35-80 35-90 35-97 35-67 36-44 35-28 35 6 35 33 35 44 35 47 36 47 35 42 35 35 35 33 35 32 35 33 36 31 35 31 35 30 35 28 35 24 36 19 35 13 35 10 35 7 35 6 35 4 36 3 35 3"/>
</g>
<g fill="none" stroke="#bebebe" stroke-opacity="0.25" stroke-width="2.8">
<path d="M202 3658l17 0 16-2 17-5 16-9 17-10 17-8 16-3 17 1 16 6 17 7 16 7 17 5 16 2 17-1 16-2 17-2 16-1 17 0 16 2 17 2 16 2 17 2 16 1 17 1 16 0 17 0 16 1 17 0 16 1 17 0 17 1 16 1 17 0 16 0 17 1 16-1 50 0 49 0 50 1 49 0 50 0 49 0 50 0 50 0 49 0 50 0"/>
<path d="M202 3658l17 0 16-4 17-8 16-9 17-6 17 1 16 8 17 12 16 9 17 3 16-5 17-11 16-12 17-8 16-2 17 5 16 9 17 10 16 9 17 4 16 0 17-4 16-5 17-4 16-2 17 0 16 3 17 3 16 2 17 3 17 0 16 0 17-1 16-1 17 0 16-1 50 1 49 1 50 0 49 0 50 0 49 0 50 0 50 0 49 0 50 0"/>
<path d="M202 3658l17 2 16 9 17 16 16 17 17 12 17 2 16-9 17-18 16-23 17-22 16-16 17-7 16 2 17 10 16 14 17 16 16 14 17 10 16 4 17 0 16-5 17-7 16-8 17-7 16-6 17-4 16-2 17 0 16 1 17 2 17 2 16 2 17 2 16 0 17 0 16 0 50-2 49-1 50 0 49 0 50 0 49 0 50 0 50 0 49 0 50 0"/>
<path d="M202 3658l17 0 16-1 17-8 16-14 17-17 17-14 16-7 17 0 16 7 17 11 16 11 17 8 16 3 17-1 16-3 17-3 16-2 17 1 16 4 17 5 16 6 17 5 16 3 17 1 16 0 17-1 16-2 17-1 16 0 17 1 17 2 16 2 17 1 16 2 17 1 16 0 50-1 49 0 50 0 49 1 50 0 49 0 50 0 50 0 49 0 50 0"/>
<path d="M202 3658l17 0 16-1 17-9 16-18 17-24 17-21 16-10 17 2 16 15 17 28 16 32 17 26 16 12 17-3 16-15 17-21 16-21 17-15 16-6 17 3 16 8 17 12 16 13 17 10 16 6 17 2 16-1 17-3 16-3 17-2 17-1 16-1 17 1 16 1 17 1 16 1 50 1 49 0 50 1 49 0 50 0 49 0 50 0 50 0 49 0 50 0"/>
<path d="M202 3658l17 1 16 9 17 19 16 18 17 6 17-11 16-20 17-16 16 2 17 19 16 24 17 17 16 1 17-13 16-24 17-23 16-11 17 1 16 11 17 12 16 8 17-1 16-6 17-10 16-8 17-4 16 0 17 2 16 3 17 2 17-1 16-2 17-2 16-2 17-1 16 0 50 2 49-1 50-1 49 0 50 0 49 0 50 0 50 0 49 0 50 0"/>
<path d="M202 3658l17-2 16-11 17-12 16-1 17 17 17 32 16 31 17 15 16-5 17-25 16-35 17-32 16-15 17 1 16 14 17 20 16 17 17 10 16 2 17-4 16-6 17-6 16-4 17-2 16-1 17 0 16 0 17-1 16 1 17 1 17 1 16 1 17 1 16 1 17-1 16-1 50-2 49 1 50 1 49-1 50 0 49 0 50 0 50 0 49 0 50 0"/>
<path d="M202 3658l17 2 16 12 17 18 16 12 17-3 17-21 16-33 17-34 16-21 17-5 16 8 17 20 16 27 17 24 16 16 17 8 16 0 17-5 16-7 17-8 16-6 17-6 16-4 17-3 16-2 17 0 16 1 17 3 16 4 17 3 17 3 16 1 17 1 16-1 17-1 16-2 50-3 49 1 50 1 49 0 50 0 49 0 50 0 50 0 49 0 50 0"/>
<path d="M202 3658l17 0 16 1 17 4 16 9 17 11 17 10 16 4 17-5 16-15 17-21 16-19 17-12 16-2 17 9 16 16 17 19 16 15 17 9 16 1 17-6 16-10 17-12 16-9 17-7 16-2 17 2 16 4 17 4 16 4 17 3 17 1 16-1 17-1 16-2 17-1 16-1 50-1 49 1 50 0 49 0 50 0 49 0 50 0 50 0 49 0 50 0"/>
<path d="M202 3658l17-2 16-10 17-21 16-25 17-20 17-10 16 2 17 12 16 19 17 22 16 16 17 8 16-1 17-7 16-8 17-7 16-3 17 0 16 4 17 4 16 5 17 4 16 2 17 1 16 0 17 1 16 1 17 2 16 3 17 2 17 3 16 2 17 1 16 0 17 0 16-1 50-1 49 0 50 2 49 0 50 0 49 0 50 0 50 0 49 0 50 0"/>
</g>
<g fill="none" stroke="#8000ff" stroke-opacity="0.3" stroke-width="3.2">
<path d="M202 3659l36-57 35-58 35-59 35-71 35-75 35-43 36-18 35-2 35 29 35 48 35 51 35 51 36 47 35 42 35 32 35 24 35 17 35 12 36 8 35 5 35 4 35 3 35 2 36 2 35 1 35 1 35 1 35 1 35 0 36 1 35 0"/>
<path d="M202 3659l36-57 35-56 35-59 35-69 35-72 35-38 36-16 35-1 35 25 35 46 35 49 35 49 36 46 35 40 35 31 35 23 35 16 35 11 36 8 35 5 35 4 35 3 35 2 36 1 35 2 35 1 35 1 35 1 35 1 36 1 35 1"/>
<path d="M202 3659l36-60 35-60 35-63 35-74 35-79 35-47 36-24 35-4 35 28 35 51 35 54 35 53 36 52 35 46 35 36 35 27 35 19 35 14 36 9 35 6 35 4 35 3 35 2 36 1 35 2 35 0 35 1 35 1 35 0 36 1 35 0"/>
<path d="M202 3659l36-59 35-59 35-61 35-72 35-76 35-44 36-20 35-3 35 26 35 46 35 51 35 51 36 50 35 43 35 35 35 25 35 19 35 13 36 9 35 6 35 4 35 3 35 2 36 2 35 2 35 1 35 1 35 1 35 1 36 1 35 1"/>
<path d="M202 3658l36-59 35-59 35-62 35-73 35-79 35-46 36-23 35-5 35 24 35 43 35 45 35 45 36 43 35 38 35 32 35 25 35 20 35 16 36 13 35 11 35 9 35 7 35 6 36 5 35 5 35 4 35 4 35 3 35 3 36 3 35 2"/>
<path d="M202 3658l36-57 35-58 35-61 35-71 35-77 35-45 36-23 35-6 35 22 35 42 35 44 35 44 36 42 35 38 35 32 35 24 35 20 35 16 36 13 35 10 35 9 35 7 35 6 36 5 35 4 35 4 35 4 35 3 35 4 36 2 35 3"/>
<path d="M202 3659l36-68 35-67 35-70 35-81 35-87 35-55 36-30 35-9 35 27 35 53 35 58 35 59 36 57 35 51 35 41 35 32 35 23 35 17 36 11 35 9 35 6 35 4 35 4 36 2 35 2 35 2 35 2 35 2 35 1 36 2 35 1"/>
<path d="M202 3658l36-62 35-63 35-65 35-77 35-83 35-52 36-28 35-10 35 23 35 45 35 48 35 48 36 45 35 43 35 35 35 29 35 23 35 19 36 15 35 12 35 10 35 8 35 7 36 5 35 5 35 5 35 3 35 4 35 3 36 3 35 2"/>
<path d="M202 3659l36-58 35-57 35-60 35-70 35-74 35-41 36-19 35-6 35 22 35 41 35 45 35 44 36 43 35 38 35 31 35 24 35 18 35 14 36 11 35 8 35 7 35 6 35 5 36 4 35 4 35 3 35 4 35 3 35 3 36 3 35 3"/>
<path d="M202 3659l36-57 35-57 35-59 35-69 35-73 35-41 36-18 35-4 35 23 35 43 35 45 35 44 36 43 35 38 35 29 35 23 35 18 35 13 36 10 35 9 35 6 35 5 35 5 36 3 35 4 35 3 35 3 35 3 35 2 36 3 35 2"/>
<path d="M202 3659l36-64 35-65 35-67 35-78 35-85 35-53 36-29 35-9 35 26 35 52 35 58 35 59 36 57 35 52 35 42 35 32 35 23 35 16 36 10 35 7 35 5 35 3 35 2 36 1 35 1 35 0 35 1 35 1 35 0 36 1 35 0"/>
<path d="M202 3659l36-62 35-61 35-65 35-75 35-81 35-49 36-26 35-8 35 24 35 47 35 51 35 51 36 51 35 46 35 37 35 29 35 22 35 16 36 12 35 8 35 7 35 4 35 4 36 3 35 3 35 2 35 2 35 2 35 2 36 1 35 2"/>
<path d="M202 3658l36-60 35-61 35-63 35-74 35-80 35-47 36-24 35-9 35 21 35 41 35 44 35 44 36 43 35 39 35 32 35 26 35 21 35 17 36 14 35 11 35 10 35 8 35 7 36 6 35 6 35 5 35 5 35 5 35 4 36 5 35 4"/>
<path d="M202 3658l36-56 35-57 35-60 35-70 35-76 35-44 36-22 35-5 35 22 35 42 35 43 35 43 36 41 35 37 35 31 35 24 35 19 35 16 36 12 35 11 35 8 35 7 35 6 36 5 35 5 35 4 35 3 35 4 35 2 36 3 35 2"/>
<path d="M202 3659l36-62 35-63 35-65 35-76 35-82 35-51 36-26 35-7 35 27 35 50 35 55 35 53 36 52 35 46 35 38 35 28 35 21 35 16 36 10 35 9 35 6 35 4 35 3 36 3 35 2 35 2 35 2 35 1 35 1 36 1 35 1"/>
<path d="M202 3659l36-66 35-66 35-68 35-79 35-86 35-55 36-30 35-11 35 24 35 48 35 54 35 53 36 52 35 48 35 39 35 31 35 25 35 18 36 14 35 10 35 9 35 6 35 5 36 4 35 4 35 3 35 3 35 3 35 2 36 3 35 2"/>
<path d="M202 3658l36-60 35-61 35-63 35-75 35-80 35-48 36-25 35-7 35 23 35 44 35 48 35 47 36 46 35 41 35 34 35 27 35 22 35 16 36 13 35 10 35 9 35 6 35 6 36 4 35 4 35 4 35 4 35 3 35 3 36 2 35 3"/>
<path d="M202 3658l36-59 35-60 35-62 35-73 35-78 35-46 36-22 35-7 35 23 35 42 35 44 35 45 36 42 35 39 35 31 35 25 35 20 35 16 36 13 35 11 35 9 35 7 35 6 36 6 35 5 35 4 35 5 35 4 35 3 36 4 35 3"/>
</g>
<g fill="none" stroke="#ff0000" stroke-opacity="0.22" stroke-width="3.2">
<path d="M202 3658l36-78 35-79 35-81 35-92 35-101 35-74 36-55 35-41 35-8 35 19 35 34 35 45 36 55 35 58 35 56 35 50 35 44 35 37 36 33 35 29 35 27 35 27 35 24 36 20 35 15 35 11 35 8 35 6 35 5 36 3 35 3"/>
<path d="M202 3658l36-83 35-84 35-87 35-98 35-107 35-78 36-60 35-46 35-15 35 11 35 20 35 26 36 35 35 45 35 53 35 59 35 62 35 59 36 55 35 49 35 45 35 39 35 31 36 22 35 15 35 10 35 7 35 6 35 3 36 3 35 3"/>
<path d="M202 3658l36-78 35-78 35-80 35-92 35-101 35-72 36-55 35-39 35-7 35 20 35 34 35 45 36 53 35 57 35 53 35 48 35 43 35 36 36 32 35 29 35 27 35 26 35 25 36 20 35 16 35 12 35 8 35 7 35 4 36 4 35 3"/>
<path d="M202 3658l36-82 35-83 35-85 35-96 35-103 35-73 36-54 35-39 35-9 35 15 35 24 35 30 36 40 35 49 35 55 35 56 35 56 35 51 36 45 35 42 35 38 35 33 35 27 36 19 35 14 35 9 35 7 35 5 35 4 36 3 35 2"/>
<path d="M202 3658l36-84 35-84 35-87 35-99 35-107 35-78 36-59 35-45 35-16 35 7 35 14 35 16 36 20 35 24 35 30 35 39 35 51 35 62 36 68 35 67 35 60 35 52 35 45 36 34 35 24 35 15 35 11 35 7 35 6 36 4 35 3"/>
<path d="M202 3658l36-91 35-91 35-94 35-106 35-116 35-88 36-70 35-56 35-23 35 2 35 10 35 16 36 20 35 22 35 25 35 31 35 44 35 69 36 92 35 99 35 87 35 70 35 53 36 36 35 21 35 13 35 9 35 6 35 4 36 3 35 3"/>
<path d="M202 3658l36-89 35-90 35-92 35-105 35-112 35-85 36-66 35-52 35-20 35 5 35 12 35 15 36 19 35 22 35 25 35 33 35 49 35 70 36 88 35 89 35 78 35 64 35 49 36 34 35 21 35 13 35 9 35 6 35 4 36 3 35 3"/>
<path d="M202 3658l36-78 35-79 35-81 35-93 35-103 35-76 36-59 35-44 35-12 35 16 35 29 35 40 36 50 35 56 35 54 35 51 35 46 35 41 36 36 35 33 35 31 35 31 35 28 36 23 35 19 35 13 35 9 35 7 35 5 36 4 35 3"/>
<path d="M202 3658l36-84 35-85 35-87 35-99 35-108 35-80 36-61 35-47 35-15 35 11 35 20 35 28 36 36 35 48 35 58 35 63 35 65 35 62 36 55 35 49 35 44 35 38 35 28 36 20 35 13 35 9 35 6 35 5 35 3 36 3 35 2"/>
<path d="M202 3658l36-75 35-75 35-78 35-90 35-99 35-75 36-56 35-40 35-3 35 33 35 51 35 63 36 67 35 64 35 54 35 43 35 35 35 27 36 21 35 17 35 16 35 16 35 18 36 16 35 14 35 11 35 8 35 6 35 5 36 3 35 3"/>
<path d="M202 3658l36-72 35-73 35-75 35-85 35-95 35-66 36-46 35-28 35 9 35 41 35 55 35 57 36 55 35 48 35 39 35 32 35 25 35 19 36 16 35 12 35 14 35 16 35 19 36 20 35 18 35 14 35 10 35 8 35 5 36 4 35 4"/>
<path d="M202 3658l36-73 35-73 35-75 35-86 35-94 35-66 36-45 35-27 35 10 35 45 35 59 35 61 36 58 35 51 35 41 35 33 35 25 35 20 36 15 35 11 35 12 35 13 35 16 36 17 35 14 35 11 35 9 35 6 35 5 36 4 35 3"/>
<path d="M202 3658l36-78 35-78 35-80 35-92 35-100 35-71 36-53 35-37 35-3 35 26 35 45 35 57 36 66 35 65 35 57 35 48 35 39 35 33 36 26 35 23 35 19 35 19 35 16 36 14 35 11 35 8 35 6 35 5 35 4 36 3 35 2"/>
<path d="M202 3658l36-86 35-86 35-89 35-102 35-112 35-85 36-68 35-54 35-21 35 4 35 14 35 19 36 26 35 31 35 36 35 47 35 60 35 70 36 75 35 72 35 62 35 53 35 43 36 31 35 21 35 13 35 9 35 6 35 5 36 3 35 3"/>
<path d="M202 3658l36-82 35-83 35-85 35-98 35-107 35-81 36-64 35-49 35-19 35 8 35 18 35 23 36 32 35 39 35 46 35 51 35 57 35 59 36 58 35 54 35 48 35 44 35 38 36 29 35 21 35 14 35 10 35 7 35 5 36 4 35 3"/>
<path d="M202 3658l36-75 35-76 35-77 35-88 35-95 35-66 36-45 35-29 35 3 35 34 35 47 35 55 36 55 35 52 35 44 35 36 35 31 35 25 36 22 35 19 35 18 35 19 35 20 36 18 35 15 35 12 35 8 35 6 35 5 36 4 35 3"/>
<path d="M202 3658l36-81 35-82 35-83 35-96 35-103 35-75 36-56 35-41 35-10 35 17 35 28 35 39 36 52 35 60 35 61 35 58 35 53 35 45 36 40 35 35 35 31 35 28 35 23 36 17 35 12 35 8 35 7 35 4 35 4 36 3 35 2"/>
<path d="M202 3658l36-85 35-87 35-89 35-103 35-114 35-90 36-75 35-60 35-27 35 3 35 15 35 25 36 35 35 44 35 53 35 62 35 70 35 74 36 71 35 63 35 56 35 47 35 37 36 25 35 17 35 11 35 7 35 5 35 4 36 3 35 3"/>
</g>
<g fill="none" stroke="#80ff00" stroke-opacity="0.3" stroke-width="3.2">
<path d="M202 3658l36-88 35-89 35-92 35-105 35-114 35-89 36-72 35-58 35-26 35 1 35 9 35 15 36 19 35 21 35 24 35 28 35 40 35 57 36 76 35 86 35 85 35 78 35 62 36 45 35 31 35 20 35 13 35 9 35 6 36 5 35 3"/>
<path d="M202 3658l36-85 35-87 35-88 35-101 35-109 35-80 36-62 35-48 35-19 35 4 35 10 35 11 36 16 35 20 35 25 35 33 35 46 35 60 36 69 35 71 35 70 35 64 35 53 36 41 35 28 35 20 35 14 35 9 35 7 36 4 35 4"/>
<path d="M202 3658l36-83 35-84 35-87 35-100 35-110 35-85 36-67 35-54 35-22 35 5 35 16 35 25 36 34 35 41 35 49 35 56 35 59 35 58 36 56 35 54 35 50 35 45 35 38 36 31 35 23 35 18 35 12 35 8 35 6 36 5 35 3"/>
<path d="M202 3658l36-84 35-85 35-88 35-101 35-111 35-85 36-68 35-54 35-22 35 5 35 17 35 24 36 35 35 44 35 52 35 61 35 65 35 62 36 59 35 56 35 50 35 43 35 35 36 27 35 20 35 14 35 10 35 7 35 5 36 4 35 3"/>
<path d="M202 3658l36-79 35-80 35-82 35-94 35-102 35-74 36-56 35-41 35-7 35 23 35 41 35 55 36 67 35 69 35 61 35 54 35 46 35 37 36 29 35 21 35 16 35 15 35 15 36 15 35 14 35 11 35 9 35 6 35 5 36 3 35 3"/>
<path d="M202 3658l36-81 35-82 35-85 35-97 35-106 35-80 36-61 35-48 35-18 35 9 35 20 35 28 36 38 35 46 35 52 35 54 35 53 35 50 36 46 35 44 35 41 35 38 35 33 36 29 35 23 35 18 35 12 35 10 35 6 36 4 35 4"/>
<path d="M202 3658l36-82 35-82 35-86 35-98 35-108 35-82 36-64 35-51 35-20 35 6 35 15 35 22 36 30 35 35 35 41 35 47 35 52 35 53 36 53 35 51 35 51 35 48 35 42 36 36 35 28 35 21 35 15 35 11 35 7 36 5 35 4"/>
<path d="M202 3658l36-91 35-91 35-95 35-107 35-117 35-91 36-73 35-59 35-27 35-1 35 9 35 13 36 18 35 20 35 20 35 24 35 33 35 50 36 78 35 99 35 99 35 90 35 70 36 47 35 30 35 19 35 12 35 8 35 6 36 4 35 3"/>
<path d="M202 3658l36-83 35-84 35-87 35-99 35-108 35-83 36-64 35-51 35-20 35 4 35 12 35 18 36 24 35 29 35 34 35 42 35 50 35 57 36 59 35 59 35 58 35 55 35 48 36 38 35 29 35 22 35 15 35 10 35 7 36 5 35 4"/>
<path d="M202 3658l36-84 35-85 35-87 35-99 35-107 35-78 36-59 35-45 35-15 35 8 35 15 35 22 36 31 35 41 35 51 35 60 35 63 35 60 36 57 35 52 35 46 35 40 35 31 36 25 35 18 35 12 35 10 35 6 35 5 36 3 35 3"/>
<path d="M202 3658l36-89 35-90 35-93 35-106 35-115 35-90 36-72 35-58 35-26 35 1 35 12 35 17 36 22 35 26 35 29 35 38 35 53 35 71 36 84 35 85 35 81 35 69 35 51 36 36 35 22 35 15 35 10 35 6 35 5 36 3 35 3"/>
<path d="M202 3658l36-84 35-85 35-88 35-100 35-112 35-85 36-68 35-55 35-24 35 2 35 10 35 14 36 20 35 23 35 25 35 30 35 40 35 52 36 64 35 69 35 70 35 66 35 59 36 48 35 36 35 25 35 18 35 12 35 8 36 6 35 4"/>
<path d="M202 3658l36-86 35-88 35-90 35-103 35-112 35-86 36-68 35-54 35-23 35 3 35 13 35 17 36 23 35 29 35 36 35 45 35 58 35 69 36 73 35 71 35 67 35 58 35 46 36 33 35 23 35 16 35 11 35 7 35 5 36 4 35 3"/>
<path d="M202 3658l36-83 35-84 35-86 35-97 35-104 35-74 36-53 35-40 35-13 35 10 35 16 35 20 36 28 35 38 35 47 35 55 35 57 35 55 36 53 35 49 35 45 35 39 35 33 36 26 35 19 35 14 35 11 35 7 35 5 36 4 35 3"/>
<path d="M202 3658l36-83 35-84 35-87 35-100 35-111 35-86 36-69 35-55 35-22 35 4 35 16 35 25 36 34 35 42 35 49 35 56 35 59 35 60 36 57 35 54 35 51 35 46 35 38 36 31 35 24 35 17 35 12 35 8 35 6 36 5 35 3"/>
<path d="M202 3658l36-77 35-78 35-81 35-94 35-107 35-83 36-68 35-52 35-13 35 22 35 45 35 63 36 75 35 72 35 64 35 52 35 43 35 34 36 26 35 19 35 16 35 16 35 18 36 19 35 18 35 16 35 12 35 9 35 6 36 4 35 4"/>
<path d="M202 3658l36-81 35-82 35-85 35-98 35-108 35-83 36-65 35-52 35-20 35 8 35 20 35 29 36 39 35 47 35 53 35 55 35 55 35 51 36 48 35 45 35 42 35 39 35 35 36 29 35 24 35 18 35 13 35 9 35 7 36 4 35 4"/>
<path d="M202 3658l36-91 35-92 35-95 35-106 35-115 35-87 36-69 35-53 35-22 35 2 35 10 35 13 36 16 35 18 35 20 35 27 35 41 35 62 36 87 35 98 35 93 35 80 35 59 36 39 35 24 35 15 35 9 35 7 35 4 36 3 35 3"/>
</g>
<g fill="none" stroke="#8000ff" stroke-opacity="0.3" stroke-width="3.2">
<path d="M202 3658l36-59 35-60 35-62 35-74 35-80 35-49 36-26 35-8 35 23 35 43 35 46 35 45 36 43 35 40 35 33 35 26 35 22 35 18 36 14 35 12 35 9 35 8 35 6 36 6 35 4 35 5 35 4 35 3 35 3 36 3 35 2"/>
<path d="M202 3658l36-59 35-60 35-62 35-74 35-80 35-48 36-25 35-7 35 25 35 44 35 47 35 46 36 44 35 39 35 33 35 27 35 21 35 17 36 13 35 12 35 8 35 8 35 5 36 5 35 4 35 4 35 4 35 3 35 2 36 2 35 2"/>
<path d="M202 3659l36-58 35-59 35-61 35-71 35-77 35-44 36-20 35-4 35 26 35 47 35 50 35 50 36 48 35 42 35 34 35 25 35 18 35 13 36 10 35 7 35 5 35 3 35 3 36 2 35 2 35 2 35 1 35 2 35 1 36 1 35 1"/>
<path d="M202 3659l36-62 35-63 35-65 35-75 35-80 35-47 36-22 35-4 35 28 35 51 35 55 35 57 36 55 35 49 35 38 35 29 35 19 35 14 36 8 35 5 35 3 35 2 35 1 36 1 35 0 35 1 35 0 35 0 35 0 36 1 35 0"/>
<path d="M202 3659l36-62 35-63 35-65 35-76 35-81 35-50 36-26 35-9 35 22 35 44 35 48 35 48 36 47 35 44 35 36 35 28 35 22 35 18 36 13 35 10 35 8 35 7 35 6 36 4 35 5 35 4 35 3 35 4 35 3 36 3 35 4"/>
<path d="M202 3659l36-69 35-68 35-71 35-82 35-89 35-58 36-33 35-13 35 24 35 50 35 56 35 57 36 55 35 51 35 43 35 33 35 26 35 19 36 14 35 11 35 8 35 6 35 5 36 4 35 4 35 3 35 3 35 2 35 3 36 2 35 3"/>
<path d="M202 3658l36-65 35-65 35-68 35-80 35-86 35-55 36-32 35-13 35 20 35 42 35 46 35 45 36 45 35 42 35 36 35 30 35 26 35 21 36 18 35 15 35 12 35 10 35 9 36 7 35 7 35 7 35 6 35 5 35 5 36 5 35 5"/>
<path d="M202 3659l36-53 35-54 35-56 35-66 35-70 35-38 36-15 35-2 35 25 35 42 35 45 35 44 36 41 35 36 35 27 35 21 35 16 35 12 36 9 35 7 35 5 35 4 35 4 36 3 35 2 35 2 35 2 35 2 35 2 36 1 35 1"/>
<path d="M202 3658l36-65 35-67 35-68 35-80 35-87 35-57 36-33 35-15 35 20 35 43 35 48 35 47 36 47 35 43 35 38 35 32 35 26 35 22 36 18 35 14 35 12 35 11 35 8 36 7 35 6 35 6 35 6 35 5 35 4 36 5 35 4"/>
<path d="M202 3659l36-59 35-59 35-61 35-72 35-78 35-44 36-21 35-2 35 27 35 48 35 51 35 51 36 48 35 43 35 34 35 25 35 18 35 13 36 9 35 6 35 5 35 4 35 2 36 2 35 2 35 2 35 1 35 1 35 1 36 1 35 1"/>
<path d="M202 3659l36-59 35-59 35-61 35-72 35-78 35-45 36-22 35-3 35 27 35 48 35 52 35 51 36 50 35 44 35 35 35 26 35 19 35 13 36 9 35 6 35 5 35 3 35 2 36 2 35 1 35 1 35 1 35 1 35 1 36 1 35 0"/>
<path d="M202 3659l36-66 35-66 35-68 35-79 35-85 35-53 36-29 35-7 35 28 35 55 35 60 35 60 36 58 35 52 35 42 35 31 35 21 35 15 36 10 35 6 35 4 35 3 35 2 36 1 35 1 35 1 35 0 35 1 35 0 36 1 35 0"/>
<path d="M202 3658l36-63 35-64 35-65 35-77 35-83 35-51 36-27 35-9 35 22 35 44 35 48 35 47 36 46 35 43 35 34 35 29 35 22 35 18 36 14 35 12 35 10 35 8 35 6 36 6 35 5 35 5 35 4 35 4 35 4 36 4 35 4"/>
<path d="M202 3659l36-67 35-67 35-70 35-81 35-88 35-58 36-34 35-14 35 21 35 48 35 54 35 54 36 53 35 48 35 41 35 34 35 26 35 21 36 16 35 12 35 10 35 7 35 6 36 5 35 4 35 4 35 4 35 3 35 2 36 3 35 2"/>
<path d="M202 3658l36-60 35-62 35-63 35-75 35-80 35-48 36-24 35-7 35 24 35 45 35 48 35 47 36 46 35 42 35 34 35 27 35 21 35 16 36 13 35 10 35 8 35 6 35 5 36 5 35 4 35 4 35 3 35 3 35 3 36 2 35 3"/>
<path d="M202 3658l36-58 35-58 35-61 35-72 35-78 35-45 36-22 35-6 35 23 35 43 35 45 35 44 36 43 35 39 35 31 35 25 35 20 35 16 36 12 35 10 35 9 35 6 35 6 36 5 35 4 35 4 35 4 35 3 35 3 36 3 35 2"/>
<path d="M202 3658l36-66 35-68 35-69 35-81 35-88 35-57 36-33 35-14 35 22 35 47 35 51 35 51 36 50 35 47 35 39 35 33 35 26 35 21 36 16 35 13 35 10 35 9 35 7 36 5 35 6 35 4 35 5 35 4 35 3 36 4 35 3"/>
<path d="M202 3658l36-65 35-66 35-68 35-79 35-85 35-54 36-30 35-12 35 19 35 41 35 43 35 44 36 44 35 40 35 34 35 29 35 24 35 21 36 17 35 14 35 13 35 10 35 9 36 8 35 8 35 7 35 7 35 7 35 6 36 7 35 7"/>
</g>
<g fill="none" stroke="#bebebe" stroke-opacity="0.25" stroke-width="2.8">
<path d="M202 3658l17 2 16 6 17 7 16-1 17-12 17-23 16-29 17-26 16-17 17-8 16 1 17 9 16 16 17 23 16 25 17 22 16 16 17 7 16 0 17-5 16-9 17-9 16-8 17-6 16-3 17 0 16 2 17 4 16 4 17 4 17 4 16 3 17 1 16 1 17 0 16 0 50-2 49 0 50 0 49 1 50 0 49 0 50 0 50 0 49 0 50 0"/>
<path d="M202 3658l17 1 16 3 17 5 16 7 17 5 17 1 16-2 17-5 16-7 17-7 16-7 17-4 16-2 17 0 16 3 17 3 16 5 17 3 16 4 17 2 16 0 17 0 16-1 17-1 16-2 17-2 16-1 17-1 16-1 17 0 17 0 16 0 17 0 16 1 17 0 16 0 50 1 49-1 50 0 49 0 50 0 49 0 50 0 50 0 49 0 50 0"/>
<path d="M202 3658l17 3 16 18 17 25 16 14 17-10 17-42 16-59 17-42 16-15 17 9 16 38 17 65 16 61 17 31 16 5 17-17 16-36 17-46 16-35 17-18 16 0 17 13 16 20 17 20 16 14 17 6 16-2 17-6 16-7 17-7 17-4 16-1 17 0 16 2 17 2 16 2 50 0 49-1 50 0 49 0 50 0 49 0 50 0 50 0 49 0 50 0"/>
<path d="M202 3658l17-2 16-12 17-21 16-18 17 0 17 19 16 26 17 13 16-12 17-30 16-30 17-14 16 4 17 19 16 24 17 16 16-2 17-17 16-23 17-19 16-9 17 0 16 4 17 4 16-1 17-5 16-8 17-5 16-1 17 4 17 8 16 9 17 10 16 9 17 8 16 6 50 20 49 16 50 6 49 3 50 1 49 0 50 0 50 0 49 0 50 0"/>
<path d="M202 3658l17 0 16 0 17-2 16-1 17-2 17-1 16 1 17 2 16 1 17 1 16-1 17-2 16-2 17-2 16-1 17 1 16 1 17 3 16 3 17 2 16 1 17 1 16-1 17-1 16-2 17-1 16-1 17 0 16 0 17 1 17 1 16 1 17 0 16 1 17 0 16 0 50-1 49 0 50 0 49 0 50 0 49 0 50 0 50 0 49 0 50 0"/>
<path d="M202 3658l17 1 16 3 17 7 16 7 17 6 17 3 16-1 17-4 16-7 17-8 16-9 17-6 16-3 17 0 16 4 17 6 16 7 17 6 16 4 17 1 16-2 17-3 16-4 17-5 16-3 17-2 16 0 17 0 16 1 17 1 17 1 16 0 17 1 16 0 17 0 16-1 50-1 49 0 50 0 49 0 50 0 49 0 50 0 50 0 49 0 50 0"/>
<path d="M202 3658l17-2 16-9 17-16 16-14 17-6 17 4 16 15 17 21 16 21 17 16 16 8 17 0 16-8 17-14 16-16 17-15 16-12 17-6 16 0 17 4 16 9 17 9 16 9 17 6 16 4 17 0 16-1 17-2 16-3 17-2 17-2 16-1 17-1 16 0 17 1 16 1 50 2 49 1 50-1 49 0 50 0 49 0 50 0 50 0 49 0 50 0"/>
<path d="M202 3658l17-2 16-10 17-18 16-16 17-6 17 7 16 15 17 16 16 10 17 0 16-9 17-13 16-11 17-7 16-2 17 4 16 8 17 10 16 10 17 9 16 4 17 0 16-3 17-4 16-4 17-2 16 1 17 3 16 4 17 4 17 2 16 1 17-1 16-1 17-1 16-1 50 2 49 1 50 0 49 0 50 0 49 0 50 0 50 0 49 0 50 0"/>
<path d="M202 3658l17-1 16-6 17-6 16-1 17 9 17 14 16 11 17 2 16-8 17-16 16-15 17-8 16 2 17 10 16 13 17 10 16 3 17-2 16-7 17-8 16-5 17-1 16 2 17 4 16 5 17 3 16 0 17-1 16-2 17-2 17-1 16 0 17 0 16 1 17 1 16 1 50-1 49 0 50 0 49 0 50 0 49 0 50 0 50 0 49 0 50 0"/>
<path d="M202 3658l17-1 16-1 17 6 16 14 17 16 17 6 16-9 17-19 16-21 17-11 16 4 17 14 16 15 17 6 16-7 17-17 16-22 17-18 16-11 17-2 16 4 17 4 16 2 17-1 16-4 17-5 16-3 17 1 16 3 17 6 17 6 16 6 17 4 16 4 17 3 16 4 50 11 49 7 50 3 49 2 50 1 49 0 50 0 50 0 49 0 50 0"/>
</g>
<g fill="none" stroke="#ff0000" stroke-opacity="0.22" stroke-width="3.2">
<path d="M202 3658l36-92 35-93 35-95 35-107 35-117 35-89 36-70 35-55 35-23 35 2 35 11 35 17 36 20 35 23 35 26 35 32 35 47 35 72 36 97 35 102 35 87 35 69 35 52 36 32 35 19 35 12 35 7 35 5 35 4 36 3 35 2"/>
<path d="M202 3658l36-79 35-80 35-82 35-94 35-100 35-71 36-51 35-38 35-7 35 17 35 26 35 34 36 43 35 48 35 50 35 49 35 46 35 43 36 39 35 36 35 34 35 31 35 29 36 22 35 17 35 12 35 9 35 6 35 4 36 4 35 3"/>
<path d="M202 3658l36-84 35-85 35-87 35-98 35-106 35-77 36-57 35-42 35-11 35 14 35 23 35 31 36 41 35 54 35 62 35 65 35 63 35 57 36 49 35 44 35 38 35 32 35 23 36 16 35 11 35 8 35 5 35 4 35 3 36 2 35 2"/>
<path d="M202 3658l36-78 35-79 35-80 35-92 35-100 35-72 36-52 35-38 35-5 35 22 35 36 35 47 36 56 35 59 35 54 35 49 35 42 35 36 36 30 35 28 35 25 35 24 35 22 36 19 35 13 35 11 35 7 35 6 35 4 36 3 35 3"/>
<path d="M202 3658l36-89 35-90 35-93 35-104 35-113 35-83 36-64 35-50 35-19 35 4 35 11 35 13 36 15 35 17 35 19 35 24 35 38 35 62 36 85 35 97 35 87 35 70 35 55 36 40 35 24 35 16 35 9 35 7 35 5 36 4 35 3"/>
<path d="M202 3658l36-77 35-78 35-80 35-93 35-101 35-74 36-56 35-41 35-7 35 22 35 40 35 52 36 61 35 63 35 57 35 50 35 41 35 35 36 29 35 25 35 23 35 22 35 21 36 18 35 14 35 10 35 8 35 6 35 4 36 3 35 3"/>
<path d="M202 3658l36-90 35-91 35-94 35-106 35-117 35-91 36-74 35-59 35-27 35 1 35 12 35 18 36 24 35 29 35 33 35 40 35 56 35 77 36 93 35 92 35 79 35 63 35 48 36 32 35 18 35 12 35 7 35 6 35 4 36 2 35 3"/>
<path d="M202 3658l36-78 35-77 35-80 35-89 35-95 35-63 36-42 35-28 35 1 35 23 35 33 35 38 36 43 35 43 35 42 35 39 35 36 35 33 36 31 35 29 35 28 35 27 35 26 36 23 35 17 35 12 35 9 35 7 35 5 36 4 35 3"/>
<path d="M202 3658l36-77 35-78 35-81 35-92 35-102 35-76 36-59 35-44 35-10 35 19 35 34 35 46 36 56 35 60 35 56 35 50 35 44 35 37 36 31 35 29 35 27 35 27 35 25 36 22 35 16 35 13 35 9 35 6 35 5 36 4 35 3"/>
<path d="M202 3658l36-78 35-79 35-81 35-92 35-99 35-69 36-51 35-36 35-6 35 19 35 28 35 35 36 43 35 47 35 46 35 45 35 43 35 40 36 36 35 33 35 32 35 31 35 29 36 24 35 18 35 14 35 9 35 7 35 5 36 4 35 3"/>
<path d="M202 3658l36-80 35-81 35-83 35-96 35-107 35-81 36-66 35-50 35-16 35 14 35 30 35 47 36 62 35 71 35 70 35 63 35 54 35 45 36 37 35 33 35 29 35 26 35 21 36 17 35 12 35 9 35 6 35 5 35 4 36 3 35 2"/>
<path d="M202 3658l36-85 35-86 35-88 35-99 35-105 35-73 36-53 35-38 35-10 35 11 35 15 35 16 36 18 35 22 35 28 35 41 35 54 35 65 36 69 35 65 35 58 35 49 35 41 36 29 35 19 35 12 35 8 35 6 35 5 36 3 35 3"/>
<path d="M202 3658l36-80 35-80 35-83 35-95 35-105 35-77 36-60 35-46 35-13 35 15 35 29 35 40 36 52 35 61 35 61 35 57 35 52 35 45 36 39 35 35 35 31 35 30 35 25 36 19 35 15 35 10 35 7 35 6 35 4 36 3 35 3"/>
<path d="M202 3658l36-83 35-84 35-87 35-100 35-110 35-83 36-67 35-52 35-21 35 4 35 12 35 18 36 23 35 27 35 31 35 39 35 50 35 62 36 69 35 70 35 63 35 55 35 47 36 38 35 27 35 18 35 12 35 8 35 6 36 4 35 4"/>
<path d="M202 3658l36-77 35-77 35-79 35-89 35-96 35-65 36-45 35-31 35 0 35 26 35 37 35 44 36 49 35 49 35 44 35 40 35 35 35 31 36 27 35 26 35 25 35 25 35 24 36 21 35 16 35 13 35 9 35 6 35 5 36 4 35 3"/>
<path d="M202 3658l36-80 35-81 35-84 35-96 35-105 35-78 36-61 35-46 35-13 35 14 35 27 35 40 36 53 35 61 35 63 35 59 35 54 35 47 36 40 35 36 35 32 35 29 35 25 36 19 35 13 35 10 35 7 35 5 35 4 36 3 35 3"/>
<path d="M202 3658l36-79 35-80 35-81 35-93 35-101 35-72 36-53 35-38 35-7 35 20 35 32 35 43 36 53 35 57 35 56 35 51 35 45 35 39 36 34 35 31 35 28 35 26 35 24 36 18 35 14 35 10 35 7 35 6 35 4 36 3 35 3"/>
<path d="M202 3658l36-69 35-69 35-70 35-83 35-93 35-65 36-43 35-19 35 26 35 58 35 66 35 62 36 56 35 47 35 36 35 26 35 19 35 10 36 5 35 2 35 2 35 6 35 13 36 16 35 16 35 13 35 10 35 8 35 6 36 4 35 4"/>
</g>
<g fill="none" stroke="#80ff00" stroke-opacity="0.3" stroke-width="3.2">
<path d="M202 3658l36-86 35-86 35-90 35-103 35-113 35-88 36-71 35-57 35-24 35 4 35 15 35 22 36 32 35 39 35 48 35 59 35 67 35 70 36 67 35 63 35 57 35 49 35 38 36 28 35 19 35 14 35 9 35 7 35 5 36 3 35 3"/>
<path d="M202 3658l36-84 35-85 35-88 35-101 35-109 35-81 36-64 35-50 35-19 35 4 35 11 35 15 36 21 35 26 35 31 35 40 35 51 35 61 36 64 35 65 35 63 35 58 35 48 36 38 35 28 35 19 35 14 35 9 35 7 36 4 35 4"/>
<path d="M202 3658l36-85 35-85 35-90 35-102 35-114 35-91 36-75 35-60 35-27 35 2 35 16 35 25 36 34 35 41 35 49 35 56 35 65 35 67 36 64 35 62 35 58 35 50 35 40 36 31 35 22 35 16 35 11 35 8 35 5 36 4 35 3"/>
<path d="M202 3658l36-84 35-85 35-87 35-100 35-110 35-83 36-66 35-51 35-21 35 3 35 12 35 17 36 23 35 28 35 33 35 41 35 52 35 59 36 63 35 62 35 62 35 57 35 48 36 39 35 28 35 21 35 14 35 10 35 7 36 4 35 4"/>
<path d="M202 3658l36-84 35-84 35-86 35-97 35-104 35-73 36-52 35-39 35-11 35 9 35 15 35 17 36 25 35 34 35 43 35 53 35 58 35 57 36 55 35 52 35 47 35 41 35 34 36 27 35 19 35 15 35 10 35 7 35 5 36 4 35 3"/>
<path d="M202 3658l36-83 35-84 35-86 35-99 35-106 35-78 36-59 35-45 35-15 35 7 35 16 35 22 36 30 35 39 35 47 35 56 35 58 35 57 36 55 35 51 35 47 35 41 35 35 36 27 35 21 35 15 35 11 35 8 35 5 36 4 35 3"/>
<path d="M202 3658l36-85 35-86 35-89 35-101 35-111 35-83 36-65 35-51 35-20 35 5 35 14 35 19 36 27 35 35 35 42 35 54 35 64 35 66 36 65 35 62 35 57 35 49 35 39 36 29 35 21 35 14 35 10 35 7 35 5 36 4 35 3"/>
<path d="M202 3658l36-84 35-85 35-88 35-101 35-110 35-86 36-67 35-54 35-21 35 5 35 18 35 28 36 38 35 49 35 59 35 66 35 67 35 62 36 57 35 52 35 46 35 38 35 31 36 23 35 18 35 13 35 9 35 6 35 5 36 3 35 3"/>
<path d="M202 3658l36-84 35-85 35-87 35-100 35-108 35-81 36-63 35-48 35-18 35 6 35 16 35 22 36 31 35 41 35 49 35 59 35 62 35 61 36 58 35 54 35 49 35 42 35 34 36 27 35 20 35 14 35 10 35 7 35 5 36 4 35 3"/>
<path d="M202 3658l36-81 35-81 35-85 35-98 35-108 35-84 36-66 35-53 35-21 35 8 35 19 35 30 36 39 35 46 35 51 35 53 35 53 35 50 36 47 35 44 35 43 35 40 35 37 36 32 35 25 35 20 35 14 35 10 35 7 36 5 35 4"/>
<path d="M202 3658l36-79 35-80 35-82 35-95 35-104 35-77 36-59 35-45 35-13 35 16 35 29 35 41 36 51 35 57 35 56 35 51 35 46 35 40 36 36 35 31 35 29 35 26 35 26 36 24 35 22 35 16 35 13 35 9 35 7 36 4 35 4"/>
<path d="M202 3658l36-84 35-85 35-87 35-101 35-109 35-83 36-65 35-52 35-21 35 4 35 11 35 16 36 22 35 27 35 32 35 40 35 50 35 59 36 63 35 64 35 62 35 58 35 50 36 39 35 29 35 21 35 15 35 10 35 6 36 5 35 4"/>
<path d="M202 3658l36-85 35-85 35-89 35-103 35-113 35-88 36-73 35-58 35-26 35 2 35 13 35 20 36 28 35 32 35 37 35 44 35 55 35 63 36 67 35 67 35 64 35 59 35 48 36 38 35 27 35 19 35 13 35 10 35 6 36 5 35 3"/>
<path d="M202 3658l36-84 35-85 35-87 35-99 35-107 35-79 36-60 35-46 35-16 35 7 35 16 35 21 36 30 35 39 35 49 35 58 35 62 35 61 36 57 35 54 35 48 35 41 35 33 36 26 35 19 35 14 35 10 35 7 35 5 36 3 35 3"/>
<path d="M202 3658l36-84 35-85 35-89 35-101 35-113 35-88 36-71 35-57 35-25 35 3 35 14 35 22 36 30 35 36 35 41 35 50 35 58 35 63 36 64 35 62 35 59 35 53 35 45 36 34 35 26 35 18 35 12 35 9 35 6 36 5 35 3"/>
<path d="M202 3658l36-79 35-80 35-84 35-98 35-112 35-91 36-77 35-63 35-24 35 12 35 37 35 57 36 77 35 83 35 77 35 64 35 54 35 44 36 34 35 27 35 22 35 20 35 20 36 19 35 17 35 13 35 11 35 7 35 6 36 4 35 3"/>
<path d="M202 3658l36-85 35-86 35-89 35-101 35-110 35-83 36-65 35-52 35-20 35 3 35 12 35 16 36 21 35 27 35 32 35 42 35 53 35 63 36 68 35 67 35 64 35 59 35 48 36 36 35 27 35 18 35 12 35 9 35 6 36 5 35 3"/>
<path d="M202 3658l36-83 35-83 35-88 35-100 35-113 35-89 36-73 35-59 35-26 35 2 35 15 35 24 36 31 35 37 35 41 35 47 35 53 35 58 36 59 35 58 35 57 35 54 35 47 36 38 35 29 35 22 35 15 35 11 35 7 36 5 35 4"/>
</g>
<g fill="none" stroke="#00ffff" stroke-opacity="0.3" stroke-width="3.2">
<path d="M202 3658l36-67 35-67 35-68 35-77 35-84 35-51 36-27 35-7 35 25 35 45 35 44 35 43 36 41 35 38 35 34 35 29 35 26 35 23 36 21 35 16 35 13 35 9 35 7 36 6 35 5 35 5 35 5 35 4 35 3 36 3 35 3"/>
<path d="M202 3658l36-84 35-84 35-87 35-98 35-106 35-76 36-57 35-40 35-7 35 20 35 30 35 37 36 45 35 50 35 48 35 45 35 43 35 44 36 46 35 45 35 43 35 39 35 32 36 23 35 16 35 10 35 8 35 5 35 4 36 3 35 3"/>
<path d="M202 3658l36-77 35-78 35-81 35-94 35-104 35-81 36-63 35-48 35-11 35 21 35 38 35 49 36 55 35 57 35 54 35 51 35 48 35 44 36 39 35 36 35 32 35 29 35 23 36 18 35 12 35 9 35 7 35 5 35 4 36 3 35 3"/>
<path d="M202 3658l36-70 35-70 35-73 35-86 35-96 35-70 36-54 35-36 35-1 35 28 35 38 35 41 36 43 35 42 35 40 35 38 35 34 35 33 36 30 35 28 35 27 35 27 35 24 36 21 35 17 35 13 35 10 35 8 35 5 36 5 35 4"/>
<path d="M202 3658l36-80 35-80 35-82 35-92 35-97 35-66 36-43 35-26 35 8 35 33 35 44 35 49 36 49 35 43 35 35 35 32 35 32 35 32 36 32 35 32 35 31 35 29 35 24 36 18 35 13 35 9 35 7 35 5 35 3 36 3 35 3"/>
<path d="M202 3658l36-85 35-86 35-89 35-101 35-109 35-82 36-63 35-47 35-14 35 14 35 25 35 34 36 43 35 50 35 54 35 53 35 50 35 51 36 52 35 50 35 47 35 43 35 35 36 25 35 16 35 11 35 7 35 6 35 4 36 3 35 3"/>
<path d="M202 3658l36-71 35-71 35-73 35-84 35-91 35-60 36-39 35-22 35 11 35 36 35 42 35 40 36 37 35 33 35 29 35 28 35 26 35 27 36 26 35 26 35 25 35 25 35 23 36 20 35 15 35 12 35 10 35 7 35 5 36 4 35 4"/>
<path d="M202 3658l36-75 35-76 35-77 35-88 35-93 35-61 36-38 35-21 35 12 35 39 35 47 35 47 36 42 35 37 35 31 35 29 35 28 35 29 36 28 35 27 35 27 35 25 35 21 36 16 35 12 35 10 35 6 35 6 35 4 36 3 35 3"/>
<path d="M202 3658l36-75 35-76 35-77 35-88 35-94 35-63 36-40 35-23 35 10 35 37 35 45 35 46 36 43 35 37 35 32 35 29 35 30 35 29 36 28 35 29 35 27 35 27 35 22 36 18 35 13 35 10 35 8 35 5 35 4 36 4 35 3"/>
<path d="M202 3658l36-85 35-85 35-87 35-99 35-106 35-76 36-56 35-40 35-7 35 19 35 28 35 34 36 41 35 46 35 47 35 46 35 43 35 44 36 47 35 47 35 45 35 41 35 35 36 25 35 17 35 12 35 8 35 5 35 5 36 3 35 3"/>
<path d="M202 3658l36-71 35-70 35-73 35-84 35-92 35-64 36-42 35-23 35 15 35 42 35 48 35 48 36 49 35 48 35 43 35 39 35 35 35 31 36 26 35 22 35 17 35 13 35 9 36 7 35 6 35 5 35 4 35 4 35 3 36 2 35 3"/>
<path d="M202 3658l36-68 35-68 35-69 35-79 35-84 35-51 36-28 35-11 35 20 35 41 35 40 35 35 36 32 35 28 35 24 35 22 35 21 35 21 36 21 35 22 35 21 35 21 35 18 36 17 35 13 35 11 35 9 35 7 35 6 36 4 35 4"/>
<path d="M202 3658l36-75 35-75 35-78 35-90 35-98 35-70 36-51 35-34 35-1 35 28 35 39 35 43 36 44 35 42 35 37 35 35 35 35 35 33 36 33 35 32 35 31 35 30 35 28 36 23 35 18 35 12 35 10 35 6 35 5 36 5 35 3"/>
<path d="M202 3658l36-89 35-90 35-93 35-105 35-114 35-88 36-69 35-55 35-21 35 7 35 20 35 28 36 39 35 49 35 58 35 64 35 64 35 60 36 61 35 59 35 54 35 48 35 39 36 26 35 16 35 11 35 7 35 5 35 3 36 3 35 3"/>
<path d="M202 3658l36-74 35-74 35-75 35-84 35-87 35-52 36-26 35-8 35 23 35 46 35 50 35 45 36 36 35 30 35 24 35 22 35 22 35 22 36 23 35 24 35 23 35 21 35 16 36 14 35 10 35 8 35 6 35 5 35 4 36 3 35 3"/>
<path d="M202 3658l36-70 35-70 35-71 35-83 35-89 35-58 36-37 35-20 35 14 35 38 35 43 35 39 36 36 35 34 35 30 35 27 35 26 35 26 36 24 35 25 35 23 35 23 35 20 36 17 35 14 35 11 35 8 35 7 35 5 36 4 35 4"/>
<path d="M202 3658l36-80 35-80 35-83 35-96 35-105 35-78 36-61 35-44 35-10 35 19 35 33 35 42 36 50 35 52 35 48 35 45 35 43 35 42 36 41 35 38 35 37 35 35 35 32 36 25 35 17 35 13 35 8 35 6 35 4 36 4 35 3"/>
<path d="M202 3658l36-67 35-67 35-68 35-78 35-83 35-52 36-27 35-9 35 23 35 43 35 42 35 39 36 37 35 35 35 30 35 26 35 24 35 23 36 21 35 19 35 17 35 14 35 11 36 9 35 8 35 7 35 7 35 5 35 4 36 4 35 3"/>
</g>
<g fill="none" stroke="#00ffff" stroke-opacity="0.3" stroke-width="3.2">
<path d="M202 3658l36-72 35-73 35-74 35-82 35-86 35-52 36-26 35-8 35 24 35 47 35 48 35 43 36 36 35 29 35 26 35 22 35 22 35 22 36 23 35 22 35 22 35 20 35 15 36 13 35 10 35 8 35 6 35 5 35 4 36 3 35 3"/>
<path d="M202 3658l36-78 35-79 35-81 35-93 35-100 35-71 36-51 35-35 35 0 35 27 35 41 35 46 36 49 35 46 35 41 35 38 35 37 35 36 36 35 35 33 35 33 35 31 35 26 36 20 35 15 35 11 35 7 35 6 35 4 36 3 35 3"/>
<path d="M202 3658l36-67 35-68 35-70 35-81 35-92 35-64 36-46 35-29 35 7 35 32 35 39 35 39 36 41 35 41 35 37 35 34 35 31 35 29 36 26 35 24 35 23 35 22 35 19 36 17 35 14 35 11 35 10 35 7 35 6 36 4 35 4"/>
<path d="M202 3658l36-70 35-70 35-71 35-82 35-89 35-57 36-35 35-17 35 15 35 38 35 42 35 38 36 35 35 31 35 28 35 25 35 25 35 24 36 25 35 24 35 23 35 24 35 21 36 18 35 14 35 12 35 9 35 7 35 5 36 4 35 4"/>
<path d="M202 3658l36-73 35-74 35-76 35-87 35-93 35-63 36-41 35-24 35 8 35 34 35 42 35 42 36 40 35 35 35 30 35 28 35 28 35 28 36 29 35 28 35 28 35 28 35 25 36 21 35 16 35 12 35 9 35 7 35 5 36 4 35 4"/>
<path d="M202 3658l36-72 35-71 35-74 35-85 35-92 35-62 36-42 35-24 35 11 35 37 35 44 35 42 36 40 35 37 35 33 35 31 35 29 35 28 36 27 35 27 35 25 35 24 35 20 36 17 35 13 35 11 35 8 35 6 35 5 36 4 35 3"/>
<path d="M202 3658l36-72 35-73 35-75 35-85 35-91 35-60 36-38 35-20 35 15 35 42 35 47 35 45 36 41 35 38 35 33 35 31 35 29 35 28 36 26 35 25 35 24 35 20 35 17 36 13 35 10 35 8 35 7 35 5 35 4 36 3 35 3"/>
<path d="M202 3658l36-84 35-85 35-88 35-101 35-110 35-83 36-66 35-51 35-17 35 10 35 22 35 29 36 39 35 47 35 51 35 54 35 52 35 52 36 53 35 53 35 49 35 45 35 39 36 30 35 19 35 13 35 9 35 7 35 5 36 4 35 3"/>
<path d="M202 3658l36-74 35-75 35-76 35-86 35-92 35-59 36-36 35-19 35 11 35 36 35 42 35 41 36 38 35 32 35 25 35 24 35 24 35 26 36 27 35 27 35 28 35 29 35 26 36 23 35 17 35 12 35 9 35 7 35 5 36 4 35 4"/>
<path d="M202 3658l36-87 35-88 35-90 35-103 35-111 35-85 36-65 35-51 35-18 35 9 35 19 35 26 36 34 35 40 35 47 35 54 35 56 35 56 36 57 35 57 35 55 35 50 35 43 36 32 35 21 35 14 35 9 35 7 35 5 36 4 35 3"/>
<path d="M202 3658l36-74 35-75 35-77 35-88 35-95 35-67 36-46 35-29 35 5 35 33 35 42 35 44 36 44 35 39 35 36 35 33 35 32 35 32 36 30 35 29 35 29 35 27 35 25 36 19 35 15 35 11 35 8 35 6 35 5 36 4 35 3"/>
<path d="M202 3658l36-84 35-85 35-87 35-101 35-110 35-85 36-68 35-53 35-20 35 9 35 20 35 29 36 39 35 47 35 52 35 55 35 53 35 53 36 54 35 54 35 50 35 46 35 39 36 30 35 21 35 13 35 10 35 7 35 5 36 4 35 3"/>
<path d="M202 3658l36-82 35-82 35-85 35-96 35-104 35-75 36-54 35-40 35-9 35 16 35 24 35 28 36 33 35 37 35 39 35 40 35 41 35 41 36 45 35 48 35 47 35 44 35 39 36 33 35 23 35 16 35 11 35 8 35 6 36 4 35 4"/>
<path d="M202 3658l36-70 35-71 35-73 35-83 35-91 35-60 36-39 35-21 35 14 35 39 35 45 35 43 36 40 35 38 35 34 35 31 35 29 35 28 36 25 35 25 35 23 35 20 35 17 36 13 35 11 35 9 35 7 35 6 35 4 36 4 35 3"/>
<path d="M202 3658l36-73 35-73 35-76 35-85 35-92 35-61 36-39 35-23 35 10 35 36 35 42 35 41 36 38 35 33 35 29 35 26 35 27 35 27 36 27 35 27 35 28 35 27 35 25 36 21 35 17 35 12 35 9 35 7 35 5 36 4 35 4"/>
<path d="M202 3658l36-70 35-70 35-73 35-83 35-90 35-61 36-39 35-21 35 15 35 40 35 45 35 42 36 41 35 40 35 35 35 32 35 30 35 28 36 25 35 24 35 22 35 19 35 15 36 13 35 10 35 8 35 7 35 5 35 4 36 4 35 3"/>
<path d="M202 3658l36-73 35-73 35-75 35-87 35-95 35-67 36-46 35-30 35 6 35 34 35 43 35 45 36 44 35 40 35 38 35 35 35 33 35 32 36 30 35 28 35 26 35 25 35 21 36 17 35 14 35 10 35 7 35 6 35 5 36 4 35 3"/>
<path d="M202 3658l36-71 35-72 35-74 35-84 35-91 35-60 36-39 35-22 35 13 35 39 35 44 35 43 36 39 35 35 35 32 35 30 35 28 35 27 36 27 35 25 35 25 35 22 35 20 36 16 35 12 35 10 35 8 35 6 35 5 36 4 35 3"/>
<path d="M202 3658l36-69 35-69 35-70 35-80 35-83 35-48 36-24 35-6 35 24 35 45 35 44 35 36 36 32 35 28 35 23 35 20 35 20 35 20 36 21 35 21 35 20 35 19 35 16 36 14 35 11 35 9 35 8 35 6 35 5 36 4 35 3"/>
</g>
<g fill="none" stroke="#8000ff" stroke-opacity="0.3" stroke-width="3.2">
<path d="M202 3659l36-59 35-59 35-62 35-71 35-78 35-44 36-21 35-4 35 25 35 45 35 49 35 48 36 47 35 41 35 34 35 25 35 19 35 14 36 10 35 8 35 6 35 4 35 4 36 3 35 3 35 2 35 2 35 3 35 1 36 2 35 2"/>
<path d="M202 3659l36-64 35-63 35-66 35-77 35-82 35-50 36-24 35-6 35 27 35 50 35 53 35 53 36 52 35 46 35 37 35 28 35 20 35 15 36 11 35 8 35 6 35 5 35 3 36 3 35 3 35 2 35 2 35 2 35 2 36 1 35 2"/>
<path d="M202 3659l36-63 35-63 35-66 35-76 35-81 35-50 36-25 35-8 35 23 35 45 35 50 35 51 36 49 35 46 35 37 35 29 35 22 35 16 36 12 35 9 35 7 35 6 35 4 36 4 35 3 35 3 35 3 35 3 35 3 36 3 35 3"/>
<path d="M202 3659l36-55 35-55 35-57 35-68 35-73 35-40 36-16 35 0 35 30 35 50 35 53 35 52 36 49 35 43 35 32 35 23 35 15 35 10 36 5 35 4 35 1 35 1 35 0 36-1 35 0 35-1 35 0 35-1 35-1 36 0 35-1"/>
<path d="M202 3659l36-68 35-67 35-70 35-82 35-88 35-58 36-35 35-14 35 22 35 49 35 56 35 56 36 55 35 51 35 43 35 34 35 26 35 20 36 15 35 11 35 9 35 7 35 5 36 4 35 3 35 3 35 3 35 3 35 2 36 2 35 2"/>
<path d="M202 3658l36-62 35-63 35-65 35-76 35-84 35-52 36-29 35-12 35 18 35 41 35 45 35 44 36 44 35 41 35 35 35 29 35 24 35 20 36 16 35 13 35 12 35 9 35 8 36 7 35 6 35 6 35 6 35 5 35 5 36 4 35 5"/>
<path d="M202 3659l36-62 35-62 35-65 35-75 35-80 35-46 36-23 35-3 35 28 35 51 35 56 35 56 36 54 35 49 35 38 35 28 35 20 35 13 36 8 35 5 35 3 35 2 35 1 36 1 35 0 35 1 35 0 35 0 35 0 36 1 35 0"/>
<path d="M202 3658l36-66 35-66 35-69 35-82 35-89 35-59 36-38 35-19 35 15 35 40 35 46 35 45 36 45 35 42 35 37 35 34 35 29 35 26 36 22 35 18 35 16 35 13 35 11 36 9 35 7 35 7 35 7 35 5 35 6 36 4 35 4"/>
<path d="M202 3658l36-62 35-62 35-65 35-77 35-83 35-51 36-28 35-11 35 21 35 42 35 45 35 44 36 43 35 40 35 34 35 28 35 24 35 20 36 16 35 13 35 11 35 10 35 7 36 7 35 6 35 6 35 5 35 5 35 4 36 4 35 4"/>
<path d="M202 3658l36-57 35-57 35-60 35-70 35-75 35-43 36-20 35-5 35 22 35 41 35 44 35 42 36 41 35 37 35 29 35 24 35 18 35 15 36 13 35 10 35 8 35 7 35 6 36 5 35 4 35 5 35 3 35 4 35 3 36 3 35 3"/>
<path d="M202 3659l36-57 35-58 35-60 35-70 35-76 35-42 36-19 35 0 35 30 35 49 35 53 35 52 36 49 35 42 35 32 35 23 35 17 35 11 36 7 35 5 35 4 35 2 35 1 36 1 35 1 35 1 35 0 35 1 35 0 36 0 35 0"/>
<path d="M202 3658l36-65 35-66 35-69 35-79 35-86 35-55 36-33 35-14 35 16 35 38 35 41 35 42 36 41 35 39 35 34 35 29 35 26 35 22 36 18 35 16 35 15 35 12 35 11 36 9 35 9 35 8 35 9 35 8 35 7 36 8 35 9"/>
<path d="M202 3659l36-62 35-63 35-64 35-76 35-80 35-48 36-25 35-7 35 24 35 44 35 49 35 49 36 48 35 43 35 35 35 28 35 21 35 16 36 12 35 9 35 8 35 6 35 5 36 4 35 4 35 3 35 4 35 3 35 3 36 3 35 3"/>
<path d="M202 3659l36-50 35-50 35-52 35-63 35-66 35-34 36-13 35-1 35 24 35 42 35 46 35 45 36 43 35 37 35 28 35 21 35 14 35 10 36 6 35 4 35 3 35 2 35 1 36 1 35 0 35 1 35 0 35 0 35 0 36 0 35 0"/>
<path d="M202 3658l36-64 35-64 35-67 35-79 35-85 35-56 36-31 35-13 35 21 35 45 35 48 35 48 36 47 35 43 35 37 35 31 35 25 35 21 36 17 35 14 35 11 35 9 35 8 36 6 35 5 35 5 35 5 35 4 35 3 36 3 35 3"/>
<path d="M202 3659l36-62 35-62 35-64 35-75 35-80 35-48 36-24 35-8 35 24 35 44 35 50 35 51 36 51 35 46 35 37 35 29 35 21 35 16 36 11 35 8 35 7 35 4 35 4 36 3 35 2 35 3 35 2 35 2 35 2 36 2 35 3"/>
<path d="M202 3658l36-59 35-60 35-62 35-72 35-79 35-45 36-23 35-8 35 21 35 39 35 42 35 42 36 40 35 37 35 30 35 25 35 20 35 17 36 14 35 13 35 10 35 8 35 8 36 6 35 6 35 6 35 6 35 5 35 4 36 5 35 4"/>
<path d="M202 3659l36-62 35-62 35-65 35-75 35-80 35-48 36-23 35-5 35 25 35 48 35 51 35 51 36 50 35 44 35 36 35 27 35 20 35 15 36 10 35 9 35 6 35 4 35 4 36 3 35 3 35 2 35 3 35 2 35 2 36 2 35 2"/>
<path d="M202 3658l36-60 35-61 35-63 35-75 35-81 35-50 36-26 35-9 35 23 35 44 35 47 35 46 36 45 35 42 35 34 35 27 35 23 35 17 36 14 35 12 35 9 35 7 35 6 36 5 35 5 35 4 35 4 35 3 35 3 36 3 35 2"/>
</g>
<g fill="none" stroke="#bebebe" stroke-opacity="0.25" stroke-width="2.8">
<path d="M202 3658l17 2 16 11 17 24 16 26 17 17 17 1 16-15 17-28 16-28 17-15 16 5 17 19 16 26 17 21 16 9 17-3 16-13 17-20 16-20 17-14 16-7 17 2 16 6 17 7 16 6 17 2 16-2 17-4 16-6 17-5 17-3 16-1 17 0 16 1 17 1 16 1 50-1 49-2 50 0 49 1 50-1 49 0 50 0 50 0 49 0 50 0"/>
<path d="M202 3658l17-1 16-7 17-13 16-14 17-10 17-2 16 7 17 13 16 18 17 16 16 12 17 5 16-2 17-7 16-11 17-12 16-9 17-7 16-2 17 1 16 4 17 6 16 6 17 5 16 4 17 3 16 1 17-1 16-1 17-1 17-2 16-1 17-1 16 0 17 0 16 1 50 2 49 0 50 0 49 0 50 0 49 0 50 0 50 0 49 0 50 0"/>
<path d="M202 3658l17 0 16-1 17-4 16-7 17-9 17-10 16-9 17-6 16-2 17 0 16 4 17 5 16 7 17 8 16 7 17 6 16 5 17 2 16 2 17 0 16-1 17-2 16-1 17-2 16-1 17 0 16 0 17 1 16 1 17 2 17 1 16 1 17 1 16 1 17 1 16 0 50 0 49-1 50 0 49 1 50 0 49 0 50 0 50 0 49 0 50 0"/>
<path d="M202 3658l17 2 16 11 17 22 16 24 17 11 17-6 16-22 17-28 16-17 17 4 16 23 17 31 16 24 17 11 16-5 17-18 16-27 17-28 16-18 17-6 16 5 17 12 16 12 17 8 16 2 17-3 16-7 17-7 16-6 17-4 17 0 16 1 17 2 16 1 17 1 16-1 50-3 49-1 50 1 49-1 50 0 49 0 50 0 50 0 49 0 50 0"/>
<path d="M202 3658l17 4 16 18 17 21 16 5 17-22 17-44 16-42 17-19 16 7 17 33 16 50 17 42 16 19 17-3 16-22 17-33 16-31 17-17 16-2 17 10 16 17 17 16 16 10 17 3 16-4 17-7 16-8 17-5 16-3 17 1 17 2 16 3 17 3 16 1 17 0 16-1 50-3 49 1 50 0 49 0 50 0 49 0 50 0 50 0 49 0 50 0"/>
<path d="M202 3658l17-1 16-6 17-10 16-8 17-2 17 4 16 9 17 13 16 13 17 12 16 8 17 4 16-2 17-7 16-11 17-12 16-11 17-8 16-4 17 1 16 3 17 5 16 5 17 4 16 3 17 2 16 1 17 0 16 0 17-1 17-2 16-1 17-1 16-1 17-1 16 0 50 1 49 1 50 0 49 0 50 0 49 0 50 0 50 0 49 0 50 0"/>
<path d="M202 3658l17-2 16-9 17-11 16-3 17 9 17 23 16 30 17 24 16 13 17-2 16-14 17-26 16-29 17-24 16-13 17-2 16 7 17 14 16 16 17 13 16 9 17 2 16-3 17-6 16-7 17-7 16-5 17-3 16 0 17 2 17 2 16 2 17 2 16 1 17 0 16 0 50-3 49-1 50 1 49 0 50 0 49 0 50 0 50 0 49 0 50 0"/>
<path d="M202 3658l17 0 16 3 17 5 16 6 17 6 17 3 16-1 17-3 16-6 17-7 16-5 17-3 16-1 17 2 16 3 17 4 16 3 17 2 16 1 17-1 16-2 17-2 16-3 17-2 16-1 17-1 16 0 17 0 16 0 17 1 17 0 16 0 17 1 16-1 17 0 16 0 50-1 49 0 50 0 49 0 50 0 49 0 50 0 50 0 49 0 50 0"/>
<path d="M202 3658l17 3 16 8 17-4 16-27 17-39 17-25 16 1 17 26 16 46 17 37 16 9 17-21 16-37 17-31 16-11 17 7 16 21 17 25 16 18 17 5 16-7 17-11 16-10 17-3 16 2 17 6 16 7 17 5 16 1 17-1 17-2 16-2 17 0 16 0 17 1 16 2 50 1 49-1 50 1 49 0 50 0 49 0 50 0 50 0 49 0 50 0"/>
<path d="M202 3658l17-1 16-7 17-12 16-12 17-6 17 4 16 13 17 16 16 11 17 4 16-6 17-13 16-15 17-11 16-4 17 4 16 8 17 11 16 11 17 7 16 2 17-1 16-4 17-4 16-4 17-1 16 1 17 2 16 2 17 3 17 2 16 1 17 0 16-1 17-1 16 0 50 0 49 1 50 0 49 0 50 0 49 0 50 0 50 0 49 0 50 0"/>
</g>
<g fill="none" stroke="#80ff00" stroke-opacity="0.3" stroke-width="3.2">
<path d="M202 3658l36-85 35-85 35-89 35-102 35-113 35-90 36-74 35-59 35-26 35 5 35 21 35 34 36 48 35 63 35 74 35 76 35 72 35 64 36 57 35 48 35 40 35 31 35 25 36 19 35 14 35 11 35 7 35 5 35 4 36 3 35 2"/>
<path d="M202 3658l36-86 35-86 35-90 35-102 35-112 35-85 36-68 35-54 35-23 35 3 35 11 35 16 36 21 35 26 35 30 35 39 35 50 35 63 36 70 35 72 35 69 35 63 35 52 36 38 35 28 35 19 35 13 35 9 35 6 36 5 35 3"/>
<path d="M202 3658l36-82 35-83 35-85 35-99 35-109 35-84 36-67 35-52 35-21 35 8 35 21 35 32 36 43 35 54 35 60 35 62 35 58 35 54 36 49 35 44 35 40 35 35 35 30 36 26 35 19 35 15 35 11 35 8 35 6 36 4 35 3"/>
<path d="M202 3658l36-85 35-86 35-89 35-102 35-111 35-85 36-67 35-54 35-23 35 2 35 10 35 14 36 18 35 21 35 25 35 31 35 41 35 56 36 68 35 73 35 73 35 68 35 59 36 45 35 33 35 22 35 16 35 11 35 7 36 5 35 4"/>
<path d="M202 3658l36-85 35-85 35-89 35-102 35-111 35-86 36-69 35-55 35-23 35 4 35 13 35 19 36 26 35 33 35 38 35 47 35 58 35 64 36 66 35 64 35 62 35 55 35 45 36 34 35 25 35 18 35 12 35 9 35 5 36 5 35 3"/>
<path d="M202 3658l36-80 35-81 35-83 35-97 35-106 35-81 36-64 35-50 35-17 35 11 35 24 35 34 36 45 35 52 35 56 35 53 35 50 35 46 36 41 35 39 35 36 35 33 35 31 36 28 35 24 35 18 35 13 35 10 35 7 36 4 35 4"/>
<path d="M202 3658l36-82 35-83 35-85 35-95 35-100 35-68 36-46 35-34 35-8 35 11 35 15 35 16 36 23 35 30 35 40 35 48 35 52 35 52 36 50 35 48 35 45 35 40 35 34 36 28 35 21 35 16 35 11 35 8 35 6 36 4 35 3"/>
<path d="M202 3658l36-85 35-86 35-90 35-103 35-115 35-91 36-75 35-61 35-27 35 1 35 12 35 20 36 27 35 30 35 34 35 40 35 51 35 62 36 70 35 71 35 69 35 64 35 53 36 41 35 29 35 20 35 14 35 10 35 7 36 4 35 4"/>
<path d="M202 3658l36-80 35-81 35-84 35-98 35-110 35-85 36-70 35-56 35-21 35 11 35 28 35 43 36 57 35 67 35 67 35 61 35 54 35 47 36 41 35 35 35 30 35 28 35 25 36 23 35 20 35 15 35 11 35 9 35 5 36 5 35 3"/>
<path d="M202 3658l36-89 35-89 35-93 35-104 35-114 35-88 36-69 35-55 35-23 35 1 35 9 35 13 36 16 35 19 35 21 35 26 35 38 35 57 36 78 35 89 35 87 35 79 35 63 36 45 35 29 35 19 35 13 35 9 35 6 36 4 35 3"/>
<path d="M202 3658l36-80 35-82 35-84 35-97 35-108 35-83 36-67 35-53 35-19 35 11 35 26 35 39 36 52 35 62 35 63 35 59 35 54 35 47 36 42 35 37 35 32 35 30 35 27 36 24 35 19 35 16 35 11 35 9 35 5 36 5 35 3"/>
<path d="M202 3658l36-81 35-81 35-84 35-97 35-105 35-77 36-60 35-46 35-16 35 9 35 18 35 24 36 32 35 39 35 45 35 48 35 49 35 49 36 46 35 45 35 44 35 41 35 38 36 32 35 27 35 20 35 15 35 10 35 7 36 5 35 4"/>
<path d="M202 3658l36-82 35-83 35-86 35-98 35-107 35-80 36-61 35-48 35-17 35 9 35 21 35 29 36 41 35 52 35 59 35 61 35 58 35 53 36 49 35 44 35 39 35 33 35 29 36 24 35 18 35 14 35 10 35 7 35 5 36 4 35 3"/>
<path d="M202 3658l36-83 35-85 35-87 35-101 35-112 35-86 36-70 35-55 35-24 35 4 35 14 35 21 36 30 35 35 35 41 35 49 35 56 35 60 36 61 35 59 35 58 35 52 35 44 36 36 35 26 35 19 35 14 35 9 35 7 36 4 35 4"/>
<path d="M202 3658l36-88 35-89 35-92 35-106 35-116 35-91 36-74 35-61 35-27 35 0 35 11 35 18 36 24 35 27 35 30 35 37 35 49 35 67 36 80 35 84 35 79 35 70 35 55 36 39 35 26 35 17 35 11 35 8 35 5 36 4 35 3"/>
<path d="M202 3658l36-84 35-85 35-88 35-99 35-106 35-78 36-58 35-45 35-16 35 5 35 10 35 12 36 16 35 21 35 27 35 36 35 48 35 59 36 64 35 65 35 63 35 58 35 50 36 38 35 29 35 20 35 13 35 10 35 7 36 4 35 4"/>
<path d="M202 3658l36-84 35-85 35-88 35-98 35-106 35-77 36-56 35-43 35-14 35 8 35 15 35 19 36 26 35 35 35 46 35 56 35 62 35 61 36 58 35 55 35 49 35 42 35 34 36 25 35 19 35 14 35 9 35 7 35 5 36 3 35 3"/>
<path d="M202 3658l36-91 35-92 35-95 35-106 35-115 35-87 36-67 35-53 35-22 35 3 35 9 35 13 36 16 35 18 35 20 35 27 35 41 35 64 36 87 35 97 35 93 35 79 35 59 36 38 35 24 35 14 35 10 35 6 35 4 36 3 35 3"/>
<path d="M202 3658l36-84 35-84 35-88 35-100 35-110 35-84 36-67 35-53 35-20 35 6 35 19 35 29 36 40 35 52 35 61 35 67 35 65 35 60 36 55 35 50 35 42 35 36 35 30 36 22 35 18 35 12 35 9 35 6 35 5 36 3 35 3"/>
</g>
<g fill="none" stroke="#ff0000" stroke-opacity="0.22" stroke-width="3.2">
<path d="M202 3658l36-82 35-82 35-85 35-97 35-106 35-78 36-60 35-46 35-13 35 14 35 25 35 36 36 50 35 60 35 64 35 63 35 58 35 51 36 44 35 38 35 35 35 30 35 24 36 17 35 12 35 9 35 6 35 5 35 3 36 3 35 2"/>
<path d="M202 3658l36-78 35-78 35-80 35-90 35-96 35-64 36-42 35-29 35 1 35 24 35 34 35 41 36 47 35 47 35 45 35 41 35 38 35 33 36 30 35 28 35 27 35 26 35 24 36 20 35 15 35 11 35 8 35 6 35 5 36 3 35 3"/>
<path d="M202 3658l36-80 35-81 35-83 35-93 35-99 35-69 36-48 35-34 35-3 35 21 35 32 35 41 36 51 35 57 35 55 35 51 35 46 35 40 36 35 35 31 35 28 35 25 35 21 36 16 35 12 35 9 35 6 35 4 35 4 36 3 35 2"/>
<path d="M202 3658l36-77 35-78 35-79 35-90 35-97 35-69 36-48 35-34 35-1 35 26 35 39 35 50 36 55 35 55 35 49 35 44 35 37 35 31 36 27 35 25 35 23 35 22 35 22 36 18 35 15 35 10 35 8 35 6 35 5 36 3 35 3"/>
<path d="M202 3658l36-78 35-79 35-82 35-94 35-105 35-81 36-64 35-49 35-15 35 15 35 31 35 45 36 58 35 64 35 62 35 56 35 50 35 41 36 36 35 32 35 29 35 28 35 25 36 22 35 16 35 11 35 9 35 6 35 4 36 4 35 3"/>
<path d="M202 3658l36-85 35-86 35-89 35-101 35-111 35-83 36-66 35-51 35-20 35 6 35 13 35 19 36 24 35 29 35 34 35 45 35 57 35 69 36 73 35 71 35 62 35 53 35 43 36 32 35 21 35 14 35 9 35 7 35 4 36 4 35 3"/>
<path d="M202 3658l36-74 35-74 35-75 35-85 35-91 35-61 36-39 35-22 35 13 35 44 35 56 35 58 36 53 35 46 35 37 35 29 35 25 35 19 36 16 35 13 35 13 35 14 35 17 36 16 35 15 35 11 35 8 35 6 35 5 36 4 35 3"/>
<path d="M202 3658l36-90 35-91 35-94 35-106 35-115 35-89 36-69 35-56 35-24 35 1 35 9 35 13 36 17 35 19 35 20 35 25 35 35 35 56 36 84 35 103 35 97 35 77 35 60 36 44 35 27 35 17 35 10 35 8 35 5 36 4 35 3"/>
<path d="M202 3658l36-92 35-92 35-95 35-108 35-118 35-91 36-73 35-59 35-26 35 0 35 11 35 17 36 22 35 26 35 29 35 35 35 49 35 74 36 97 35 102 35 87 35 69 35 51 36 33 35 19 35 11 35 8 35 5 35 4 36 3 35 2"/>
<path d="M202 3658l36-86 35-86 35-89 35-101 35-109 35-80 36-62 35-47 35-16 35 7 35 14 35 17 36 21 35 25 35 31 35 42 35 56 35 68 36 74 35 71 35 63 35 53 35 43 36 32 35 20 35 13 35 9 35 6 35 5 36 3 35 3"/>
<path d="M202 3658l36-78 35-80 35-81 35-95 35-104 35-79 36-63 35-48 35-14 35 15 35 30 35 43 36 55 35 61 35 61 35 55 35 49 35 42 36 37 35 32 35 31 35 29 35 26 36 22 35 16 35 12 35 8 35 7 35 4 36 4 35 3"/>
<path d="M202 3658l36-81 35-82 35-85 35-96 35-105 35-78 36-60 35-45 35-11 35 17 35 31 35 47 36 63 35 71 35 71 35 64 35 53 35 45 36 37 35 32 35 27 35 22 35 18 36 13 35 9 35 7 35 5 35 4 35 3 36 2 35 2"/>
<path d="M202 3658l36-89 35-90 35-92 35-105 35-112 35-85 36-66 35-50 35-20 35 5 35 12 35 15 36 19 35 22 35 25 35 32 35 50 35 71 36 87 35 90 35 77 35 63 35 50 36 33 35 21 35 13 35 8 35 6 35 4 36 3 35 3"/>
<path d="M202 3658l36-82 35-84 35-85 35-98 35-106 35-79 36-61 35-46 35-15 35 10 35 20 35 27 36 37 35 46 35 53 35 58 35 59 35 58 36 53 35 47 35 43 35 39 35 32 36 23 35 16 35 11 35 8 35 6 35 4 36 3 35 3"/>
<path d="M202 3658l36-79 35-79 35-82 35-93 35-100 35-72 36-53 35-39 35-7 35 19 35 32 35 42 36 52 35 56 35 55 35 50 35 45 35 39 36 34 35 31 35 29 35 27 35 24 36 20 35 15 35 10 35 8 35 6 35 4 36 3 35 3"/>
<path d="M202 3658l36-74 35-75 35-76 35-88 35-97 35-69 36-50 35-33 35 5 35 40 35 58 35 64 36 65 35 59 35 47 35 38 35 30 35 24 36 17 35 13 35 12 35 14 35 15 36 15 35 12 35 10 35 8 35 5 35 5 36 3 35 3"/>
<path d="M202 3658l36-75 35-76 35-78 35-90 35-101 35-75 36-58 35-41 35-4 35 32 35 54 35 66 36 71 35 68 35 57 35 45 35 36 35 27 36 20 35 17 35 14 35 15 35 16 36 15 35 12 35 10 35 7 35 6 35 4 36 3 35 3"/>
<path d="M202 3658l36-87 35-87 35-90 35-103 35-113 35-86 36-69 35-55 35-22 35 4 35 15 35 21 36 29 35 34 35 42 35 54 35 66 35 75 36 76 35 70 35 60 35 50 35 40 36 26 35 17 35 11 35 7 35 6 35 3 36 3 35 3"/>
<path d="M202 3658l36-78 35-78 35-81 35-92 35-101 35-72 36-54 35-39 35-7 35 22 35 36 35 48 36 56 35 60 35 55 35 49 35 42 35 36 36 31 35 27 35 26 35 24 35 23 36 18 35 15 35 10 35 8 35 6 35 4 36 3 35 3"/>
</g>
<defs><path id="m6" d="M202 3658l13 0 12 0 13 0 12 0 12 0 13 0 12 0 13 0 12 0 12 0 13 0 12 0 12 0 13 0 12 0 13 0 12 0 12 0 13 0 12 0 13 0 12 0 12 0 13 0 12 0 13 0 12 0 12 0 13 0 12 0 12 0 13 0 12 0 13 0 12 0 12 0 13 0 12 0 13 0 12 0 12 0 13 0 12 0 13 0 12 0 12 0 13 0 12 0 13 0 12 0 12 0 13 0 12 0 12 0 13 0 12 0 13 0 12 0 12 0 13 0 12 0 13 0 12 0 12 0 13 0 12 0 13 0 12 0 12 0 13 0 12 0 12 0 13 0 12 0 13 0 12 0 12 0 13 0 12 0 13 0 12 0 12 0 13 0 12 0 13 0 12 0 12 0 13 0"/></defs>
<use href="#m6" fill="none" stroke="#000" stroke-width="11.2"/>
<use href="#m6" fill="none" stroke="#8c8c8c" stroke-width="7.2"/>
<defs><path id="m7" d="M202 3658l13-29 12-28 13-29 12-29 12-28 13-29 12-30 13-30 12-31 12-33 13-35 12-37 12-39 13-36 12-32 13-27 12-25 12-22 13-21 12-20 13-18 12-16 12-13 13-8 12-3 13 1 12 3 12 5 13 6 12 8 12 8 13 9 12 11 13 11 12 13 12 14 13 15 12 17 13 17 12 18 12 19 13 19 12 20 13 19 12 20 12 20 13 20 12 20 13 19 12 19 12 18 13 18 12 17 12 16 13 16 12 15 13 15 12 14 12 14 13 14 12 13 13 13 12 12 12 11 13 10 12 10 13 9 12 7 12 7 13 6 12 5 12 5 13 4 12 4 13 3 12 2 12 3 13 2 12 2 13 2 12 2 12 1 13 2 12 1 13 1 12 1 12 1 13 1"/></defs>
<use href="#m7" fill="none" stroke="#000" stroke-width="13.6"/>
<use href="#m7" fill="none" stroke="#ff0000" stroke-width="8.8"/>
<defs><path id="m8" d="M202 3658l13-29 12-30 13-29 12-30 12-30 13-29 12-31 13-31 12-32 12-34 13-36 12-39 12-39 13-37 12-34 13-28 12-26 12-24 13-23 12-21 13-19 12-18 12-14 13-10 12-4 13-1 12 1 12 3 13 4 12 5 12 6 13 7 12 7 13 9 12 9 12 11 13 12 12 12 13 14 12 15 12 15 13 17 12 17 13 19 12 20 12 20 13 21 12 21 13 22 12 21 12 21 13 20 12 20 12 20 13 20 12 19 13 19 12 19 12 18 13 17 12 16 13 16 12 14 12 14 13 13 12 11 13 11 12 10 12 9 13 8 12 7 12 6 13 5 12 5 13 5 12 4 12 3 13 3 12 3 13 2 12 2 12 2 13 2 12 1 13 2 12 1 12 1 13 1"/></defs>
<use href="#m8" fill="none" stroke="#000" stroke-width="13.6"/>
<use href="#m8" fill="none" stroke="#80ff00" stroke-width="8.8"/>
<defs><path id="m9" d="M202 3658l13-26 12-25 13-26 12-26 12-26 13-26 12-26 13-27 12-28 12-30 13-32 12-34 12-34 13-33 12-28 13-23 12-20 12-18 13-16 12-15 13-12 12-10 12-6 13-2 12 4 13 9 12 11 12 13 13 15 12 15 12 15 13 16 12 16 13 15 12 16 12 15 13 15 12 14 13 14 12 14 12 13 13 13 12 12 13 12 12 12 12 12 13 11 12 12 13 11 12 11 12 11 13 11 12 10 12 10 13 11 12 10 13 9 12 10 12 10 13 9 12 9 13 9 12 9 12 8 13 7 12 7 13 6 12 6 12 6 13 4 12 5 12 4 13 4 12 3 13 3 12 3 12 2 13 2 12 2 13 2 12 2 12 1 13 2 12 1 13 1 12 2 12 1 13 1"/></defs>
<use href="#m9" fill="none" stroke="#000" stroke-width="13.6"/>
<use href="#m9" fill="none" stroke="#00ffff" stroke-width="8.8"/>
<defs><path id="m10" d="M202 3658l13-22 12-22 13-22 12-22 12-22 13-22 12-22 13-24 12-24 12-26 13-28 12-30 12-31 13-28 12-23 13-18 12-15 12-12 13-9 12-8 13-6 12-4 12 0 13 4 12 9 13 12 12 14 12 15 13 16 12 15 12 15 13 16 12 15 13 15 12 15 12 15 13 15 12 14 13 14 12 13 12 12 13 11 12 11 13 10 12 10 12 9 13 8 12 8 13 8 12 7 12 7 13 6 12 6 12 5 13 6 12 4 13 5 12 5 12 4 13 4 12 3 13 4 12 3 12 3 13 3 12 2 13 3 12 3 12 2 13 2 12 3 12 2 13 2 12 2 13 2 12 2 12 2 13 2 12 2 13 2 12 2 12 1 13 2 12 2 13 1 12 2 12 1 13 2"/></defs>
<use href="#m10" fill="none" stroke="#000" stroke-width="13.6"/>
<use href="#m10" fill="none" stroke="#8000ff" stroke-width="8.8"/>
<g fill="none" stroke="#707070" stroke-opacity="0.22" stroke-width="2.4">
<path d="M1586 244l16 50 17 50 16 49 17 52 16 57 17 58 16 62 17 64 16 65 17 63 16 63 17 60 16 52 17 39 16 27 17 17 16 9 17 5 16 3 17 4 16 4 17 4 16 5 17 3 16 1 16-3 17-4 16-5 17-6 16-3 17-1 16 2 17 4 16 6 17 7 16 8 50 22 49 17 50 8 49 7 49 5 50 2 49 2 50 2 49 2 50 3"/>
<path d="M1586 244l16 51 17 61 16 75 17 78 16 70 17 56 16 42 17 37 16 42 17 50 16 61 17 64 16 59 17 47 16 38 17 30 16 24 17 16 16 6 17-3 16-11 17-12 16-11 17-5 16 1 16 3 17 4 16 2 17 0 16-3 17-2 16-1 17 2 16 5 17 6 16 7 50 18 49 10 50 5 49 4 49 4 50 3 49 1 50 2 49 2 50 3"/>
<path d="M1586 244l16 50 17 49 16 45 17 42 16 43 17 44 16 48 17 52 16 56 17 58 16 61 17 64 16 61 17 54 16 45 17 37 16 31 17 23 16 16 17 12 16 8 17 4 16 2 17 1 16-1 16-3 17-2 16-2 17-2 16 0 17 2 16 3 17 3 16 3 17 3 16 3 50 7 49 4 50 2 49 2 49 3 50 2 49 1 50 2 49 2 50 3"/>
<path d="M1586 244l16 48 17 39 16 28 17 32 16 47 17 64 16 78 17 82 16 70 17 53 16 40 17 36 16 36 17 41 16 45 17 48 16 46 17 36 16 23 17 10 16 1 17-5 16-5 17-3 16 1 16 3 17 4 16 4 17 2 16 0 17 0 16 0 17 0 16 1 17 2 16 3 50 10 49 5 50 0 49 3 49 3 50 2 49 1 50 2 49 2 50 3"/>
<path d="M1586 244l16 50 17 51 16 54 17 57 16 60 17 57 16 54 17 51 16 49 17 52 16 57 17 63 16 62 17 56 16 45 17 34 16 23 17 14 16 7 17 4 16 3 17 2 16 3 17 3 16 2 16 1 17-1 16-3 17-3 16-2 17-1 16 1 17 1 16 3 17 2 16 3 50 7 49 4 50 1 49 2 49 3 50 2 49 1 50 2 49 2 50 3"/>
<path d="M1586 244l16 44 17 22 16 13 17 38 16 77 17 108 16 98 17 58 16 11 17-5 16 21 17 53 16 78 17 93 16 85 17 52 16 15 17-7 16-10 17 1 16 13 17 22 16 21 17 12 16 1 16-9 17-11 16-7 17-1 16 5 17 8 16 6 17 4 16 1 17 0 16 0 50 7 49 8 50 0 49 2 49 4 50 2 49 1 50 2 49 2 50 3"/>
<path d="M1586 244l16 47 17 37 16 31 17 38 16 55 17 74 16 85 17 85 16 74 17 58 16 44 17 35 16 30 17 28 16 31 17 34 16 36 17 33 16 29 17 20 16 12 17 5 16-2 17-4 16-6 16-5 17-5 16-2 17 0 16 1 17 3 16 3 17 4 16 2 17 3 16 2 50 5 49 4 50 2 49 2 49 3 50 2 49 1 50 2 49 2 50 3"/>
<path d="M1586 244l16 51 17 57 16 60 17 62 16 61 17 54 16 48 17 42 16 38 17 40 16 47 17 56 16 60 17 59 16 54 17 47 16 36 17 25 16 14 17 6 16 1 17-3 16-4 17-2 16-2 16-2 17-1 16 0 17-1 16 1 17 1 16 1 17 2 16 2 17 2 16 2 50 6 49 5 50 1 49 2 49 3 50 2 49 1 50 2 49 2 50 3"/>
<path d="M1586 244l16 51 17 54 16 53 17 52 16 49 17 43 16 41 17 44 16 49 17 56 16 65 17 73 16 72 17 63 16 51 17 36 16 23 17 11 16 4 17 0 16 0 17 1 16 3 17 5 16 5 16 3 17 2 16 0 17-1 16-1 17-2 16 0 17 0 16 2 17 2 16 2 50 9 49 5 50 1 49 2 49 3 50 2 49 1 50 2 49 2 50 3"/>
<path d="M1586 244l16 50 17 49 16 52 17 57 16 64 17 67 16 63 17 56 16 47 17 40 16 39 17 46 16 50 17 52 16 51 17 48 16 40 17 28 16 17 17 6 16 0 17-5 16-5 17-5 16-2 16-2 17 0 16 0 17 1 16 1 17 1 16 1 17 2 16 1 17 2 16 2 50 6 49 5 50 1 49 2 49 3 50 2 49 1 50 2 49 2 50 3"/>
<path d="M1586 244l16 47 17 35 16 25 17 31 16 46 17 57 16 60 17 56 16 51 17 51 16 61 17 74 16 81 17 73 16 53 17 30 16 11 17 0 16-1 17 5 16 10 17 15 16 15 17 11 16 6 16 0 17-2 16-2 17-1 16 1 17 1 16 2 17 2 16 1 17 2 16 2 50 9 49 7 50 1 49 1 49 4 50 2 49 1 50 2 49 2 50 3"/>
<path d="M1586 244l16 50 17 51 16 52 17 53 16 55 17 55 16 51 17 49 16 46 17 45 16 49 17 54 16 56 17 54 16 50 17 44 16 37 17 28 16 19 17 11 16 5 17 1 16-2 17-2 16-3 16-3 17-3 16-2 17-1 16 0 17 1 16 2 17 3 16 3 17 3 16 3 50 7 49 4 50 1 49 2 49 3 50 2 49 1 50 2 49 2 50 3"/>
<path d="M1586 244l16 50 17 51 16 58 17 70 16 80 17 83 16 79 17 71 16 59 17 49 16 42 17 37 16 31 17 25 16 23 17 24 16 24 17 22 16 19 17 16 16 12 17 8 16 5 17 1 16-1 16-4 17-5 16-7 17-6 16-4 17-4 16-1 17 0 16 2 17 2 16 3 50 8 49 5 50 0 49 1 49 3 50 2 49 1 50 2 49 2 50 3"/>
<path d="M1586 244l16 50 17 47 16 40 17 39 16 42 17 50 16 59 17 69 16 73 17 71 16 67 17 59 16 49 17 36 16 27 17 24 16 23 17 21 16 20 17 18 16 14 17 9 16 5 17 1 16-1 16-4 17-4 16-3 17-2 16 0 17 1 16 3 17 3 16 3 17 2 16 2 50 6 49 5 50 2 49 2 49 3 50 2 49 1 50 2 49 2 50 3"/>
<path d="M1586 244l16 47 17 39 16 32 17 41 16 55 17 65 16 68 17 63 16 56 17 51 16 54 17 62 16 64 17 61 16 50 17 36 16 21 17 8 16 1 17 0 16 1 17 6 16 9 17 9 16 8 16 5 17 0 16-2 17-4 16-3 17-1 16 0 17 2 16 3 17 3 16 2 50 7 49 5 50 2 49 2 49 3 50 2 49 1 50 2 49 2 50 3"/>
<path d="M1586 244l16 48 17 41 16 36 17 40 16 51 17 64 16 73 17 80 16 78 17 71 16 64 17 56 16 47 17 36 16 25 17 19 16 15 17 12 16 10 17 9 16 10 17 9 16 8 17 7 16 6 16 2 17 0 16-2 17-3 16-3 17-2 16-2 17 0 16 1 17 2 16 3 50 9 49 5 50 2 49 1 49 3 50 2 49 1 50 2 49 2 50 3"/>
</g>
<g fill="none" stroke="#ffe000" stroke-opacity="0.22" stroke-width="2.4">
<path d="M1586 244l35 44 35 45 35 45 35 50 35 53 36 54 35 51 35 48 35 44 35 40 35 36 35 34 35 32 35 34 35 34 35 33 35 30 36 28 35 27 35 27 35 25 35 22 35 20 35 17 35 16 35 13 35 11 35 9 36 7 35 6 35 6"/>
<path d="M1586 244l35 34 35 34 35 34 35 37 35 39 36 40 35 39 35 37 35 35 35 32 35 30 35 28 35 26 35 24 35 24 35 25 35 27 36 29 35 32 35 31 35 32 35 33 35 34 35 36 35 33 35 30 35 28 35 24 36 20 35 16 35 18"/>
<path d="M1586 244l35 59 35 59 35 60 35 66 35 67 36 65 35 59 35 54 35 48 35 42 35 37 35 35 35 35 35 34 35 31 35 27 35 25 36 22 35 21 35 18 35 16 35 13 35 11 35 9 35 7 35 6 35 5 35 4 36 2 35 2 35 2"/>
<path d="M1586 244l35 12 35 12 35 12 35 14 35 16 36 18 35 20 35 22 35 27 35 31 35 36 35 41 35 46 35 48 35 50 35 50 35 49 36 46 35 44 35 45 35 47 35 48 35 43 35 39 35 36 35 29 35 22 35 16 36 11 35 7 35 4"/>
<path d="M1586 244l35 44 35 44 35 44 35 46 35 52 36 54 35 56 35 55 35 53 35 50 35 47 35 42 35 39 35 39 35 39 35 38 35 35 36 30 35 26 35 24 35 21 35 15 35 13 35 10 35 7 35 6 35 4 35 3 36 2 35 2 35 1"/>
<path d="M1586 244l35 28 35 29 35 29 35 31 35 33 36 37 35 40 35 42 35 43 35 43 35 43 35 41 35 39 35 37 35 37 35 38 35 41 36 40 35 37 35 35 35 33 35 32 35 27 35 23 35 19 35 17 35 13 35 11 36 8 35 8 35 7"/>
<path d="M1586 244l35 38 35 39 35 39 35 42 35 46 36 47 35 46 35 45 35 42 35 39 35 36 35 33 35 32 35 31 35 33 35 34 35 33 36 31 35 30 35 30 35 29 35 27 35 25 35 23 35 20 35 17 35 15 35 12 36 10 35 8 35 9"/>
<path d="M1586 244l35 45 35 44 35 46 35 50 35 53 36 54 35 52 35 49 35 45 35 42 35 37 35 35 35 33 35 35 35 35 35 34 35 30 36 29 35 27 35 26 35 25 35 21 35 18 35 17 35 14 35 11 35 10 35 7 36 7 35 5 35 5"/>
<path d="M1586 244l35 38 35 37 35 37 35 39 35 41 36 42 35 43 35 42 35 41 35 38 35 37 35 35 35 33 35 31 35 29 35 29 35 30 36 32 35 34 35 33 35 33 35 31 35 30 35 29 35 25 35 21 35 18 35 13 36 9 35 6 35 5"/>
<path d="M1586 244l35 47 35 46 35 46 35 49 35 54 36 55 35 55 35 52 35 50 35 46 35 42 35 39 35 35 35 35 35 35 35 35 35 33 36 29 35 27 35 25 35 22 35 19 35 16 35 12 35 11 35 8 35 6 35 4 36 4 35 2 35 2"/>
<path d="M1586 244l35 35 35 35 35 37 35 40 35 45 36 47 35 47 35 45 35 44 35 42 35 39 35 37 35 37 35 40 35 40 35 38 35 35 36 34 35 33 35 30 35 26 35 23 35 20 35 18 35 15 35 12 35 11 35 9 36 9 35 8 35 10"/>
<path d="M1586 244l35 39 35 39 35 40 35 43 35 48 36 49 35 49 35 47 35 45 35 42 35 38 35 36 35 35 35 36 35 37 35 37 35 34 36 31 35 30 35 29 35 27 35 24 35 20 35 18 35 15 35 13 35 10 35 9 36 8 35 6 35 7"/>
<path d="M1586 244l35 31 35 32 35 32 35 36 35 39 36 41 35 39 35 39 35 36 35 34 35 32 35 29 35 29 35 30 35 31 35 33 35 32 36 30 35 31 35 31 35 31 35 32 35 29 35 28 35 26 35 24 35 23 35 19 36 19 35 18 35 25"/>
<path d="M1586 244l35 33 35 33 35 34 35 35 35 40 36 42 35 43 35 44 35 43 35 41 35 40 35 38 35 35 35 34 35 35 35 37 35 38 36 35 35 34 35 32 35 31 35 30 35 25 35 23 35 19 35 17 35 14 35 11 36 9 35 8 35 8"/>
<path d="M1586 244l35 40 35 40 35 41 35 43 35 46 36 49 35 49 35 49 35 46 35 44 35 41 35 39 35 35 35 33 35 34 35 36 35 35 36 33 35 31 35 28 35 27 35 25 35 21 35 18 35 16 35 12 35 9 35 8 36 5 35 5 35 3"/>
<path d="M1586 244l35 46 35 45 35 46 35 51 35 55 36 56 35 54 35 52 35 49 35 45 35 40 35 38 35 37 35 38 35 38 35 35 35 31 36 29 35 27 35 24 35 21 35 18 35 14 35 12 35 10 35 8 35 6 35 5 36 5 35 3 35 3"/>
<path d="M1586 244l35 59 35 57 35 59 35 61 35 65 36 64 35 61 35 56 35 50 35 46 35 39 35 36 35 33 35 32 35 33 35 30 35 26 36 23 35 21 35 19 35 16 35 14 35 11 35 8 35 7 35 5 35 4 35 2 36 2 35 1 35 1"/>
<path d="M1586 244l35 22 35 22 35 23 35 23 35 24 36 25 35 29 35 31 35 35 35 36 35 39 35 40 35 41 35 41 35 40 35 39 35 37 36 38 35 38 35 43 35 42 35 40 35 37 35 36 35 32 35 26 35 21 35 16 36 11 35 8 35 6"/>
<path d="M1586 244l35 39 35 40 35 40 35 44 35 47 36 48 35 47 35 45 35 41 35 39 35 35 35 32 35 31 35 32 35 32 35 34 35 32 36 30 35 29 35 28 35 29 35 27 35 24 35 22 35 20 35 18 35 15 35 12 36 10 35 10 35 9"/>
<path d="M1586 244l35 27 35 26 35 27 35 27 35 29 36 32 35 33 35 33 35 34 35 34 35 32 35 33 35 31 35 31 35 29 35 30 35 30 36 32 35 36 35 38 35 37 35 37 35 38 35 38 35 36 35 31 35 28 35 23 36 18 35 16 35 15"/>
<path d="M1586 244l35 53 35 52 35 56 35 60 35 60 36 57 35 51 35 46 35 40 35 35 35 31 35 27 35 27 35 26 35 26 35 25 35 24 36 23 35 22 35 22 35 23 35 24 35 22 35 21 35 20 35 17 35 15 35 12 36 10 35 7 35 7"/>
<path d="M1586 244l35 43 35 42 35 42 35 44 35 47 36 50 35 51 35 51 35 49 35 46 35 44 35 40 35 37 35 35 35 33 35 35 35 35 36 33 35 30 35 27 35 25 35 23 35 20 35 15 35 13 35 10 35 7 35 6 36 3 35 3 35 2"/>
</g>
<g fill="none" stroke="#b03040" stroke-opacity="0.22" stroke-width="2.4">
<path d="M1586 244l35 18 35 17 35 16 35 18 35 17 36 18 35 21 35 19 35 19 35 27 35 43 35 55 35 64 35 73 35 82 35 80 35 72 36 61 35 48 35 37 35 26 35 21 35 18 35 16 35 13 35 11 35 9 35 7 36 6 35 5 35 4"/>
<path d="M1586 244l35 13 35 13 35 12 35 13 35 13 36 13 35 16 35 15 35 15 35 17 35 26 35 40 35 50 35 59 35 70 35 79 35 78 36 71 35 61 35 49 35 37 35 29 35 26 35 23 35 21 35 18 35 15 35 13 36 12 35 11 35 13"/>
<path d="M1586 244l35 14 35 13 35 12 35 13 35 13 36 13 35 14 35 15 35 16 35 15 35 15 35 21 35 31 35 43 35 52 35 60 35 73 36 81 35 80 35 73 35 63 35 48 35 36 35 27 35 23 35 21 35 16 35 14 36 10 35 8 35 8"/>
<path d="M1586 244l35 17 35 16 35 15 35 16 35 16 36 16 35 17 35 20 35 18 35 17 35 22 35 32 35 47 35 57 35 65 35 75 35 83 36 80 35 72 35 59 35 45 35 33 35 23 35 19 35 16 35 14 35 10 35 7 36 6 35 5 35 3"/>
<path d="M1586 244l35 9 35 9 35 9 35 9 35 10 36 11 35 11 35 13 35 14 35 16 35 19 35 19 35 20 35 26 35 46 35 68 35 84 36 103 35 110 35 96 35 74 35 50 35 31 35 23 35 17 35 14 35 10 35 7 36 6 35 4 35 3"/>
<path d="M1586 244l35 21 35 20 35 20 35 20 35 19 36 20 35 23 35 19 35 18 35 24 35 33 35 42 35 47 35 50 35 54 35 59 35 62 36 62 35 60 35 54 35 48 35 39 35 31 35 23 35 18 35 17 35 13 35 10 36 7 35 5 35 3"/>
<path d="M1586 244l35 11 35 11 35 10 35 11 35 11 36 12 35 12 35 13 35 15 35 15 35 14 35 18 35 29 35 43 35 55 35 67 35 82 36 89 35 86 35 75 35 59 35 44 35 31 35 27 35 23 35 19 35 16 35 13 36 11 35 9 35 10"/>
<path d="M1586 244l35 11 35 10 35 10 35 10 35 11 36 10 35 11 35 12 35 13 35 11 35 13 35 18 35 27 35 35 35 43 35 51 35 62 36 70 35 73 35 71 35 63 35 54 35 42 35 34 35 32 35 30 35 26 35 24 36 20 35 19 35 25"/>
<path d="M1586 244l35 13 35 12 35 11 35 12 35 12 36 13 35 12 35 14 35 16 35 16 35 15 35 17 35 27 35 41 35 53 35 63 35 75 36 87 35 86 35 77 35 65 35 48 35 35 35 26 35 23 35 20 35 15 35 12 36 10 35 8 35 7"/>
<path d="M1586 244l35 12 35 12 35 11 35 11 35 11 36 12 35 11 35 11 35 12 35 13 35 12 35 12 35 12 35 15 35 22 35 32 35 42 36 51 35 63 35 78 35 89 35 88 35 80 35 63 35 45 35 33 35 28 35 22 36 16 35 12 35 10"/>
<path d="M1586 244l35 16 35 16 35 14 35 16 35 16 36 17 35 19 35 19 35 18 35 23 35 38 35 54 35 65 35 77 35 88 35 88 35 78 36 64 35 49 35 35 35 25 35 21 35 18 35 14 35 13 35 10 35 8 35 7 36 6 35 4 35 5"/>
<path d="M1586 244l35 17 35 16 35 16 35 16 35 17 36 18 35 20 35 17 35 23 35 37 35 51 35 60 35 70 35 79 35 79 35 73 35 62 36 51 35 39 35 30 35 24 35 20 35 19 35 16 35 15 35 13 35 10 35 9 36 9 35 7 35 8"/>
<path d="M1586 244l35 17 35 15 35 15 35 17 35 16 36 17 35 20 35 20 35 19 35 26 35 42 35 60 35 71 35 85 35 95 35 89 35 76 36 59 35 42 35 30 35 22 35 18 35 16 35 12 35 10 35 8 35 7 35 5 36 5 35 3 35 4"/>
<path d="M1586 244l35 10 35 10 35 9 35 9 35 10 36 11 35 11 35 13 35 14 35 15 35 14 35 20 35 34 35 49 35 62 35 77 35 92 36 92 35 82 35 66 35 49 35 35 35 29 35 26 35 21 35 19 35 15 35 12 36 12 35 10 35 13"/>
<path d="M1586 244l35 16 35 16 35 14 35 15 35 16 36 14 35 16 35 18 35 16 35 16 35 17 35 23 35 33 35 43 35 51 35 58 35 67 36 76 35 77 35 71 35 63 35 51 35 38 35 27 35 23 35 19 35 15 35 12 36 9 35 6 35 5"/>
<path d="M1586 244l35 18 35 17 35 16 35 17 35 17 36 16 35 16 35 18 35 19 35 16 35 16 35 19 35 26 35 37 35 46 35 53 35 60 36 70 35 79 35 79 35 72 35 60 35 46 35 32 35 22 35 17 35 14 35 10 36 6 35 4 35 3"/>
<path d="M1586 244l35 11 35 10 35 10 35 10 35 11 36 12 35 12 35 12 35 14 35 17 35 16 35 17 35 23 35 39 35 55 35 68 35 83 36 97 35 94 35 81 35 63 35 45 35 31 35 25 35 21 35 18 35 13 35 11 36 8 35 7 35 7"/>
<path d="M1586 244l35 10 35 10 35 9 35 9 35 10 36 12 35 12 35 12 35 14 35 18 35 17 35 17 35 26 35 44 35 63 35 77 35 97 36 104 35 93 35 75 35 54 35 36 35 27 35 23 35 18 35 14 35 12 35 9 36 7 35 6 35 6"/>
<path d="M1586 244l35 19 35 17 35 17 35 19 35 18 36 20 35 22 35 20 35 23 35 36 35 56 35 68 35 79 35 90 35 90 35 79 35 64 36 48 35 34 35 24 35 19 35 17 35 13 35 11 35 9 35 8 35 6 35 4 36 4 35 4 35 3"/>
<path d="M1586 244l35 19 35 17 35 17 35 18 35 18 36 18 35 20 35 18 35 17 35 23 35 33 35 43 35 48 35 53 35 57 35 64 35 66 36 63 35 59 35 53 35 45 35 36 35 27 35 23 35 20 35 18 35 14 35 12 36 9 35 7 35 6"/>
<path d="M1586 244l35 15 35 15 35 13 35 15 35 14 36 14 35 14 35 16 35 16 35 14 35 15 35 17 35 25 35 35 35 43 35 49 35 57 36 68 35 76 35 77 35 73 35 63 35 49 35 37 35 27 35 23 35 20 35 15 36 11 35 8 35 7"/>
<path d="M1586 244l35 15 35 14 35 13 35 15 35 15 36 15 35 17 35 20 35 17 35 21 35 31 35 51 35 64 35 78 35 93 35 96 35 85 36 69 35 51 35 35 35 25 35 21 35 18 35 14 35 11 35 10 35 7 35 6 36 5 35 5 35 4"/>
<path d="M1586 244l35 11 35 11 35 10 35 10 35 12 36 12 35 13 35 14 35 17 35 16 35 17 35 24 35 42 35 59 35 74 35 92 35 101 36 93 35 76 35 57 35 39 35 29 35 24 35 20 35 16 35 13 35 10 35 8 36 8 35 6 35 7"/>
<path d="M1586 244l35 18 35 17 35 16 35 16 35 18 36 17 35 18 35 21 35 20 35 19 35 23 35 36 35 52 35 63 35 72 35 82 35 88 36 81 35 68 35 53 35 39 35 26 35 19 35 15 35 13 35 9 35 8 35 5 36 4 35 3 35 2"/>
<path d="M1586 244l35 12 35 10 35 10 35 11 35 11 36 11 35 10 35 12 35 13 35 11 35 12 35 13 35 19 35 27 35 35 35 42 35 50 36 60 35 71 35 76 35 74 35 67 35 57 35 45 35 35 35 33 35 29 35 25 36 21 35 18 35 21"/>
<path d="M1586 244l35 16 35 15 35 14 35 15 35 16 36 16 35 17 35 21 35 20 35 20 35 26 35 43 35 62 35 75 35 90 35 101 35 93 36 77 35 57 35 39 35 26 35 19 35 16 35 12 35 10 35 7 35 6 35 4 36 3 35 3 35 2"/>
<path d="M1586 244l35 17 35 15 35 15 35 16 35 16 36 18 35 18 35 17 35 24 35 36 35 49 35 56 35 65 35 72 35 73 35 67 35 60 36 51 35 41 35 33 35 26 35 23 35 21 35 19 35 18 35 16 35 14 35 12 36 11 35 10 35 12"/>
<path d="M1586 244l35 16 35 15 35 14 35 15 35 15 36 15 35 16 35 19 35 16 35 17 35 21 35 31 35 45 35 53 35 61 35 71 35 79 36 78 35 72 35 60 35 49 35 36 35 26 35 22 35 20 35 16 35 13 35 10 36 8 35 7 35 5"/>
<path d="M1586 244l35 13 35 11 35 12 35 12 35 12 36 12 35 13 35 15 35 13 35 14 35 16 35 25 35 36 35 45 35 52 35 63 35 72 36 76 35 73 35 65 35 56 35 43 35 34 35 28 35 26 35 24 35 20 35 17 36 15 35 13 35 15"/>
<path d="M1586 244l35 10 35 8 35 9 35 8 35 10 36 9 35 9 35 9 35 11 35 12 35 11 35 11 35 13 35 20 35 30 35 38 35 48 36 58 35 73 35 81 35 80 35 74 35 62 35 48 35 38 35 34 35 32 35 27 36 23 35 20 35 25"/>
</g>
<g fill="none" stroke="#40a040" stroke-opacity="0.22" stroke-width="2.4">
<path d="M1586 244l35 22 35 20 35 18 35 21 35 25 36 27 35 31 35 37 35 44 35 52 35 59 35 63 35 62 35 60 35 56 35 49 35 42 36 39 35 37 35 33 35 27 35 22 35 19 35 16 35 13 35 11 35 10 35 7 36 7 35 6 35 6"/>
<path d="M1586 244l35 23 35 20 35 19 35 23 35 26 36 29 35 32 35 38 35 45 35 51 35 56 35 55 35 54 35 52 35 49 35 43 35 38 36 35 35 34 35 34 35 29 35 26 35 22 35 20 35 18 35 16 35 13 35 12 36 9 35 10 35 10"/>
<path d="M1586 244l35 23 35 22 35 19 35 19 35 21 36 23 35 25 35 27 35 29 35 32 35 36 35 41 35 46 35 52 35 57 35 57 35 57 36 55 35 52 35 47 35 39 35 35 35 32 35 28 35 21 35 16 35 12 35 8 36 5 35 3 35 2"/>
<path d="M1586 244l35 25 35 22 35 21 35 24 35 27 36 30 35 33 35 38 35 43 35 52 35 57 35 61 35 59 35 58 35 55 35 49 35 42 36 37 35 33 35 32 35 29 35 23 35 20 35 16 35 14 35 11 35 9 35 7 36 5 35 5 35 4"/>
<path d="M1586 244l35 23 35 20 35 19 35 22 35 25 36 28 35 31 35 36 35 42 35 49 35 55 35 57 35 57 35 55 35 53 35 47 35 42 36 37 35 35 35 35 35 31 35 25 35 22 35 19 35 17 35 15 35 11 35 10 36 8 35 8 35 7"/>
<path d="M1586 244l35 28 35 25 35 24 35 28 35 31 36 35 35 38 35 45 35 52 35 59 35 63 35 63 35 59 35 55 35 51 35 42 35 37 36 32 35 31 35 28 35 23 35 19 35 16 35 13 35 11 35 9 35 7 35 6 36 4 35 4 35 3"/>
<path d="M1586 244l35 19 35 17 35 16 35 17 35 19 36 23 35 24 35 27 35 32 35 37 35 43 35 50 35 53 35 54 35 54 35 53 35 50 36 44 35 40 35 38 35 38 35 35 35 29 35 25 35 23 35 19 35 16 35 14 36 11 35 10 35 11"/>
<path d="M1586 244l35 24 35 22 35 21 35 20 35 24 36 27 35 31 35 34 35 39 35 45 35 54 35 63 35 67 35 67 35 64 35 60 35 52 36 43 35 36 35 33 35 28 35 23 35 16 35 14 35 10 35 8 35 5 35 4 36 3 35 2 35 2"/>
<path d="M1586 244l35 17 35 15 35 15 35 14 35 17 36 19 35 21 35 22 35 25 35 29 35 33 35 39 35 43 35 46 35 47 35 48 35 48 36 48 35 43 35 41 35 40 35 40 35 40 35 35 35 31 35 28 35 25 35 21 36 17 35 16 35 18"/>
<path d="M1586 244l35 26 35 22 35 22 35 26 35 29 36 32 35 35 35 41 35 46 35 51 35 52 35 49 35 48 35 45 35 43 35 38 35 34 36 32 35 30 35 31 35 30 35 29 35 25 35 23 35 21 35 19 35 17 35 14 36 11 35 10 35 10"/>
<path d="M1586 244l35 24 35 21 35 21 35 23 35 28 36 30 35 35 35 40 35 49 35 57 35 62 35 63 35 61 35 59 35 52 35 45 35 39 36 37 35 35 35 30 35 23 35 21 35 17 35 15 35 12 35 10 35 8 35 7 36 6 35 6 35 5"/>
<path d="M1586 244l35 17 35 15 35 15 35 14 35 17 36 19 35 23 35 26 35 31 35 36 35 45 35 55 35 64 35 67 35 67 35 65 35 58 36 50 35 44 35 41 35 37 35 28 35 24 35 19 35 16 35 12 35 10 35 8 36 6 35 6 35 6"/>
<path d="M1586 244l35 13 35 12 35 11 35 11 35 12 36 14 35 17 35 18 35 21 35 25 35 29 35 36 35 43 35 51 35 57 35 58 35 59 36 58 35 52 35 47 35 44 35 45 35 39 35 33 35 28 35 25 35 22 35 17 36 15 35 13 35 16"/>
<path d="M1586 244l35 24 35 22 35 19 35 21 35 23 36 25 35 28 35 29 35 31 35 36 35 39 35 44 35 48 35 50 35 51 35 49 35 49 36 48 35 44 35 39 35 36 35 35 35 34 35 29 35 23 35 19 35 16 35 11 36 9 35 6 35 4"/>
<path d="M1586 244l35 26 35 23 35 22 35 25 35 29 36 32 35 36 35 42 35 49 35 58 35 64 35 65 35 63 35 60 35 55 35 46 35 39 36 35 35 33 35 29 35 23 35 19 35 15 35 13 35 10 35 8 35 6 35 6 36 4 35 3 35 3"/>
<path d="M1586 244l35 21 35 19 35 17 35 19 35 21 36 25 35 28 35 32 35 38 35 45 35 54 35 62 35 64 35 64 35 62 35 57 35 48 36 42 35 39 35 36 35 31 35 24 35 20 35 17 35 14 35 11 35 8 35 7 36 6 35 5 35 5"/>
<path d="M1586 244l35 20 35 18 35 16 35 17 35 19 36 21 35 25 35 28 35 31 35 37 35 43 35 52 35 59 35 64 35 63 35 61 35 59 36 50 35 44 35 38 35 36 35 32 35 25 35 20 35 17 35 13 35 11 35 7 36 6 35 5 35 4"/>
<path d="M1586 244l35 18 35 16 35 16 35 16 35 19 36 22 35 25 35 29 35 35 35 42 35 52 35 62 35 66 35 66 35 65 35 60 35 51 36 45 35 43 35 39 35 31 35 25 35 21 35 17 35 14 35 11 35 9 35 7 36 7 35 6 35 6"/>
<path d="M1586 244l35 28 35 25 35 24 35 28 35 31 36 36 35 40 35 48 35 56 35 66 35 71 35 69 35 66 35 61 35 51 35 42 35 37 36 33 35 29 35 23 35 17 35 14 35 11 35 9 35 7 35 5 35 4 35 3 36 3 35 2 35 2"/>
<path d="M1586 244l35 25 35 21 35 21 35 24 35 26 36 28 35 31 35 33 35 37 35 39 35 41 35 41 35 39 35 38 35 37 35 36 35 36 36 36 35 33 35 33 35 33 35 34 35 37 35 35 35 31 35 28 35 24 35 21 36 17 35 13 35 13"/>
<path d="M1586 244l35 18 35 17 35 15 35 16 35 19 36 22 35 25 35 27 35 33 35 39 35 47 35 53 35 56 35 57 35 56 35 54 35 49 36 43 35 40 35 39 35 37 35 31 35 27 35 23 35 20 35 18 35 15 35 12 36 11 35 10 35 12"/>
<path d="M1586 244l35 21 35 19 35 18 35 19 35 21 36 24 35 26 35 29 35 31 35 37 35 42 35 46 35 50 35 51 35 50 35 50 35 48 36 45 35 40 35 38 35 35 35 36 35 33 35 28 35 24 35 20 35 18 35 14 36 11 35 9 35 8"/>
<path d="M1586 244l35 20 35 17 35 17 35 16 35 19 36 21 35 22 35 25 35 26 35 30 35 35 35 38 35 44 35 48 35 49 35 49 35 50 36 49 35 47 35 43 35 39 35 39 35 39 35 35 35 28 35 25 35 21 35 17 36 13 35 11 35 9"/>
<path d="M1586 244l35 28 35 25 35 24 35 28 35 31 36 34 35 37 35 42 35 48 35 52 35 53 35 52 35 50 35 46 35 44 35 41 35 36 36 32 35 30 35 29 35 29 35 28 35 24 35 20 35 19 35 15 35 14 35 10 36 8 35 7 35 5"/>
<path d="M1586 244l35 31 35 27 35 28 35 31 35 36 36 40 35 44 35 51 35 59 35 61 35 61 35 57 35 53 35 48 35 42 35 36 35 31 36 29 35 27 35 26 35 23 35 19 35 16 35 14 35 13 35 10 35 8 35 7 36 5 35 4 35 4"/>
<path d="M1586 244l35 32 35 28 35 27 35 30 35 34 36 38 35 41 35 47 35 54 35 61 35 64 35 64 35 60 35 56 35 50 35 43 35 35 36 31 35 28 35 25 35 21 35 17 35 13 35 11 35 9 35 7 35 5 35 4 36 3 35 2 35 1"/>
<path d="M1586 244l35 13 35 12 35 12 35 11 35 12 36 14 35 17 35 18 35 22 35 25 35 30 35 36 35 45 35 52 35 57 35 58 35 59 36 58 35 50 35 47 35 44 35 44 35 38 35 32 35 28 35 25 35 21 35 17 36 15 35 13 35 16"/>
<path d="M1586 244l35 15 35 13 35 12 35 13 35 14 36 17 35 19 35 22 35 25 35 31 35 37 35 45 35 52 35 56 35 57 35 59 35 55 36 49 35 45 35 43 35 43 35 38 35 31 35 28 35 24 35 21 35 18 35 16 36 13 35 13 35 17"/>
<path d="M1586 244l35 18 35 16 35 15 35 15 35 16 36 19 35 21 35 24 35 27 35 31 35 36 35 44 35 51 35 58 35 61 35 61 35 60 36 57 35 49 35 43 35 39 35 38 35 33 35 25 35 22 35 17 35 14 35 11 36 8 35 6 35 6"/>
<path d="M1586 244l35 24 35 22 35 20 35 21 35 24 36 28 35 32 35 35 35 41 35 49 35 58 35 66 35 69 35 68 35 64 35 59 35 49 36 40 35 35 35 32 35 26 35 20 35 15 35 12 35 9 35 7 35 5 35 4 36 3 35 2 35 2"/>
</g>
<g fill="none" stroke="#ff9a00" stroke-opacity="0.22" stroke-width="2.4">
<path d="M1586 244l35 21 35 22 35 23 35 26 35 31 36 39 35 47 35 53 35 57 35 60 35 60 35 60 35 60 35 59 35 52 35 46 35 40 36 33 35 27 35 21 35 20 35 18 35 17 35 13 35 10 35 8 35 6 35 5 36 3 35 2 35 2"/>
<path d="M1586 244l35 36 35 38 35 42 35 54 35 64 36 69 35 69 35 67 35 63 35 60 35 56 35 50 35 44 35 37 35 32 35 27 35 22 36 17 35 16 35 13 35 14 35 12 35 10 35 8 35 6 35 5 35 3 35 3 36 2 35 1 35 1"/>
<path d="M1586 244l35 27 35 29 35 33 35 42 35 52 36 57 35 59 35 59 35 58 35 57 35 55 35 53 35 46 35 42 35 36 35 31 35 27 36 23 35 20 35 20 35 20 35 18 35 15 35 14 35 11 35 10 35 7 35 6 36 5 35 5 35 4"/>
<path d="M1586 244l35 32 35 34 35 40 35 51 35 60 36 64 35 64 35 61 35 58 35 56 35 53 35 48 35 41 35 36 35 32 35 28 35 23 36 20 35 18 35 17 35 17 35 17 35 15 35 12 35 11 35 9 35 7 35 6 36 4 35 4 35 3"/>
<path d="M1586 244l35 18 35 19 35 20 35 22 35 27 36 32 35 36 35 40 35 42 35 43 35 44 35 44 35 46 35 46 35 47 35 45 35 42 36 40 35 37 35 34 35 29 35 27 35 25 35 27 35 25 35 22 35 18 35 15 36 11 35 9 35 9"/>
<path d="M1586 244l35 31 35 33 35 37 35 47 35 57 36 62 35 64 35 64 35 61 35 60 35 57 35 52 35 47 35 40 35 34 35 30 35 24 36 21 35 18 35 17 35 16 35 15 35 12 35 11 35 8 35 7 35 5 35 4 36 3 35 2 35 2"/>
<path d="M1586 244l35 23 35 25 35 27 35 32 35 40 36 48 35 53 35 55 35 57 35 56 35 56 35 56 35 54 35 49 35 43 35 39 35 33 36 28 35 23 35 22 35 20 35 20 35 18 35 15 35 12 35 10 35 8 35 6 36 5 35 4 35 4"/>
<path d="M1586 244l35 28 35 31 35 36 35 48 35 58 36 62 35 65 35 63 35 63 35 62 35 57 35 51 35 44 35 38 35 32 35 27 35 23 36 22 35 21 35 20 35 16 35 14 35 12 35 10 35 8 35 7 35 6 35 5 36 4 35 4 35 4"/>
<path d="M1586 244l35 24 35 24 35 27 35 32 35 40 36 46 35 48 35 50 35 51 35 49 35 49 35 48 35 47 35 46 35 41 35 38 35 35 36 31 35 28 35 25 35 22 35 21 35 22 35 21 35 18 35 16 35 12 35 11 36 7 35 6 35 6"/>
<path d="M1586 244l35 35 35 38 35 43 35 57 35 65 36 67 35 65 35 63 35 58 35 55 35 51 35 45 35 39 35 34 35 30 35 25 35 23 36 19 35 17 35 15 35 16 35 15 35 14 35 12 35 11 35 8 35 7 35 5 36 4 35 3 35 2"/>
<path d="M1586 244l35 31 35 33 35 38 35 46 35 57 36 64 35 65 35 66 35 64 35 61 35 60 35 54 35 48 35 41 35 36 35 29 35 24 36 19 35 18 35 16 35 15 35 13 35 10 35 9 35 7 35 5 35 4 35 3 36 2 35 2 35 1"/>
<path d="M1586 244l35 28 35 29 35 33 35 40 35 50 36 59 35 63 35 66 35 66 35 64 35 63 35 61 35 53 35 46 35 39 35 32 35 25 36 21 35 19 35 17 35 15 35 13 35 10 35 8 35 6 35 4 35 4 35 2 36 2 35 2 35 1"/>
<path d="M1586 244l35 42 35 44 35 50 35 62 35 73 36 75 35 75 35 70 35 65 35 59 35 55 35 47 35 40 35 33 35 28 35 22 35 19 36 14 35 12 35 11 35 10 35 9 35 7 35 6 35 4 35 3 35 3 35 1 36 1 35 0 35 1"/>
<path d="M1586 244l35 17 35 16 35 18 35 19 35 20 36 24 35 28 35 34 35 39 35 43 35 46 35 49 35 51 35 52 35 53 35 54 35 54 36 50 35 46 35 40 35 35 35 29 35 25 35 22 35 22 35 18 35 13 35 10 36 7 35 4 35 3"/>
<path d="M1586 244l35 23 35 23 35 26 35 32 35 39 36 46 35 48 35 50 35 50 35 49 35 50 35 49 35 48 35 44 35 41 35 37 35 34 36 31 35 26 35 24 35 22 35 23 35 23 35 21 35 18 35 16 35 13 35 11 36 9 35 7 35 8"/>
<path d="M1586 244l35 27 35 28 35 30 35 35 35 44 36 52 35 56 35 60 35 60 35 59 35 58 35 57 35 54 35 50 35 44 35 37 35 33 36 27 35 22 35 18 35 17 35 16 35 14 35 12 35 9 35 7 35 5 35 4 36 3 35 2 35 1"/>
<path d="M1586 244l35 25 35 27 35 31 35 39 35 50 36 55 35 59 35 61 35 60 35 60 35 59 35 55 35 49 35 43 35 37 35 31 35 27 36 23 35 22 35 22 35 20 35 16 35 14 35 12 35 10 35 8 35 6 35 6 36 5 35 4 35 5"/>
<path d="M1586 244l35 33 35 36 35 46 35 61 35 67 36 68 35 66 35 63 35 61 35 55 35 47 35 41 35 36 35 30 35 25 35 22 35 19 36 19 35 19 35 18 35 16 35 15 35 13 35 12 35 11 35 9 35 8 35 7 36 6 35 5 35 7"/>
<path d="M1586 244l35 42 35 46 35 58 35 76 35 83 36 84 35 79 35 74 35 69 35 60 35 49 35 40 35 32 35 25 35 20 35 18 35 16 36 15 35 12 35 9 35 8 35 6 35 5 35 4 35 2 35 3 35 1 35 2 36 1 35 1 35 1"/>
<path d="M1586 244l35 24 35 25 35 29 35 35 35 45 36 54 35 57 35 61 35 61 35 61 35 62 35 59 35 52 35 47 35 40 35 34 35 28 36 24 35 23 35 22 35 19 35 17 35 13 35 11 35 9 35 7 35 6 35 4 36 4 35 4 35 4"/>
<path d="M1586 244l35 25 35 26 35 28 35 35 35 43 36 51 35 56 35 58 35 58 35 58 35 57 35 57 35 54 35 47 35 42 35 37 35 31 36 26 35 22 35 20 35 20 35 19 35 15 35 14 35 10 35 9 35 7 35 5 36 4 35 4 35 3"/>
<path d="M1586 244l35 27 35 28 35 32 35 40 35 50 36 54 35 55 35 55 35 54 35 52 35 51 35 49 35 44 35 41 35 36 35 33 35 29 36 25 35 23 35 20 35 20 35 20 35 20 35 17 35 16 35 13 35 10 35 9 36 7 35 5 35 6"/>
<path d="M1586 244l35 39 35 44 35 57 35 72 35 77 36 76 35 72 35 66 35 62 35 53 35 45 35 37 35 31 35 26 35 22 35 18 35 16 36 16 35 15 35 15 35 13 35 12 35 11 35 9 35 8 35 7 35 6 35 5 36 4 35 4 35 3"/>
<path d="M1586 244l35 19 35 19 35 22 35 25 35 32 36 38 35 42 35 45 35 47 35 47 35 48 35 49 35 49 35 46 35 44 35 40 35 37 36 33 35 29 35 26 35 25 35 26 35 26 35 23 35 21 35 19 35 16 35 14 36 11 35 10 35 13"/>
<path d="M1586 244l35 30 35 31 35 35 35 44 35 54 36 63 35 67 35 69 35 67 35 66 35 64 35 59 35 51 35 43 35 36 35 29 35 23 36 20 35 17 35 16 35 14 35 11 35 8 35 6 35 5 35 4 35 3 35 2 36 2 35 1 35 1"/>
</g>
<path d="M1586 244l12 37 13 36 12 35 12 35 13 36 12 39 13 42 12 44 12 45 13 45 12 45 12 43 13 42 12 41 12 41 13 42 12 41 12 38 13 34 12 31 13 27 12 23 12 20 13 15 12 11 12 8 13 5 12 3 12 2 13 1 12 1 13 0 12 0 12 0 13-1 12-1 12-1 13-1 12 0 12-1 13 1 12 0 12 1 13 2 12 1 13 2 12 2 12 1 13 2 12 2 12 2 13 1 12 2 12 1 13 1 12 1 13 0 12 1 12 0 13 0 12 0 12 1 13 0 12 1 12 1 13 0 12 1 12 1 13 0 12 1 13 0 12 1 12 0 13 0 12 1 12 0 13 1 12 0 12 1 13 0 12 1 13 0 12 1 12 0 13 1 12 1 12 0 13 1" fill="none" stroke="#000000" stroke-width="13.6"/>
<defs><path id="m11" d="M1586 244l12 13 13 13 12 12 12 13 13 13 12 12 13 13 12 13 12 13 13 14 12 14 12 15 13 14 12 16 12 15 13 16 12 16 12 17 13 16 12 16 13 16 12 16 12 16 13 15 12 16 12 15 13 15 12 14 12 14 13 14 12 14 13 14 12 13 12 12 13 13 12 12 12 11 13 12 12 12 12 12 13 12 12 12 12 12 13 13 12 13 13 13 12 12 12 13 13 13 12 12 12 11 13 12 12 11 12 11 13 11 12 11 13 10 12 11 12 10 13 10 12 11 12 9 13 9 12 9 12 8 13 8 12 8 12 7 13 7 12 6 13 6 12 6 12 5 13 6 12 4 12 5 13 4 12 3 12 4 13 3 12 3 13 3 12 2 12 3 13 2 12 2 12 3 13 2"/></defs>
<use href="#m11" fill="none" stroke="#000" stroke-width="13.2"/>
<use href="#m11" fill="none" stroke="#ffff00" stroke-width="8.8"/>
<defs><path id="m12" d="M1586 244l12 5 13 4 12 5 12 4 13 4 12 4 13 4 12 4 12 4 13 5 12 4 12 4 13 5 12 4 12 5 13 4 12 5 12 4 13 5 12 4 13 5 12 5 12 6 13 5 12 6 12 6 13 5 12 5 12 5 13 6 12 5 13 6 12 7 12 8 13 9 12 10 12 13 13 14 12 16 12 18 13 18 12 20 12 21 13 22 12 24 13 25 12 27 12 29 13 30 12 30 12 31 13 30 12 30 12 28 13 27 12 26 13 24 12 23 12 20 13 19 12 17 12 15 13 13 12 12 12 10 13 10 12 9 12 9 13 8 12 8 13 7 12 7 12 7 13 6 12 6 12 5 13 5 12 5 12 4 13 4 12 3 13 3 12 3 12 3 13 3 12 3 12 2 13 3"/></defs>
<use href="#m12" fill="none" stroke="#000" stroke-width="14.8"/>
<use href="#m12" fill="none" stroke="#b0232e" stroke-width="12.4"/>
<path d="M1586 244l12 8 13 7 12 7 12 7 13 7 12 6 13 6 12 6 12 7 13 6 12 7 12 7 13 7 12 8 12 8 13 8 12 9 12 9 13 9 12 10 13 10 12 10 12 11 13 12 12 12 12 12 13 14 12 14 12 15 13 16 12 17 13 17 12 19 12 18 13 20 12 20 12 20 13 20 12 20 12 20 13 19 12 20 12 20 13 19 12 19 13 19 12 18 12 18 13 16 12 16 12 15 13 15 12 14 12 13 13 13 12 13 13 13 12 12 12 13 13 12 12 12 12 12 13 10 12 10 12 9 13 8 12 8 12 8 13 7 12 7 13 6 12 6 12 6 13 5 12 5 12 5 13 4 12 4 12 3 13 3 12 3 13 3 12 3 12 2 13 2 12 3 12 2 13 2" fill="none" stroke="#006400" stroke-width="13.2"/>
<defs><path id="m13" d="M1586 244l12 10 13 9 12 10 12 10 13 10 12 11 13 11 12 12 12 12 13 14 12 15 12 16 13 18 12 18 12 20 13 19 12 20 12 21 13 21 12 20 13 21 12 21 12 21 13 20 12 21 12 20 13 20 12 20 12 19 13 20 12 19 13 20 12 18 12 19 13 17 12 17 12 16 13 16 12 15 12 14 13 13 12 13 12 13 13 12 12 11 13 11 12 10 12 9 13 9 12 9 12 7 13 8 12 7 12 7 13 7 12 7 13 6 12 7 12 7 13 7 12 6 12 6 13 6 12 6 12 5 13 6 12 4 12 5 13 4 12 4 13 4 12 3 12 3 13 4 12 2 12 3 13 2 12 2 12 2 13 2 12 2 13 1 12 2 12 1 13 1 12 1 12 2 13 1"/></defs>
<use href="#m13" fill="none" stroke="#000" stroke-width="13.2"/>
<use href="#m13" fill="none" stroke="#ff9a00" stroke-width="8.8"/>
<g fill="none" stroke="#555" stroke-opacity="0.38" stroke-width="2.2">
<path d="M1574 3709l16 0 17 3 16 3 17 4 16 2 17 0 16 1 17 4 16 7 17 8 16 8 17 4 16-2 17-9 16-15 17-18 16-18 17-16 16-11 17-5 16-1 17 2 16 4 17 2 16 1 17-1 16-4 17-4 16-4 17-3 17-1 16 0 17 3 16 4 17 5 16 5 50 15 49 12 50 7 49 5 50 2 49 0 50 1 49 0 50 0 49 0"/>
<path d="M1574 3709l16 2 17 13 16 28 17 29 16 16 17-3 16-17 17-23 16-17 17-3 16 5 17 8 16 5 17-1 16-4 17-5 16-4 17-6 16-8 17-11 16-15 17-15 16-11 17-5 16 0 17 5 16 4 17 4 16 0 17-2 17-2 16-2 17 0 16 2 17 4 16 5 50 11 49 5 50 4 49 2 50 1 49 1 50 0 49 0 50 0 49 0"/>
<path d="M1574 3709l16 0 17 2 16-1 17-6 16-11 17-14 16-13 17-8 16-2 17 3 16 7 17 7 16 7 17 6 16 3 17 2 16 2 17 2 16 3 17 3 16 2 17 2 16 1 17 0 16-1 17-1 16-1 17-1 16-1 17 1 17 1 16 1 17 2 16 1 17 1 16 1 50 0 49-1 50 0 49 1 50 0 49 0 50 0 49 0 50 0 49 0"/>
<path d="M1574 3709l16-2 17-8 16-17 17-17 16-7 17 6 16 18 17 20 16 12 17-1 16-15 17-20 16-17 17-8 16 4 17 12 16 17 17 15 16 9 17 2 16-5 17-7 16-6 17-3 16 1 17 4 16 5 17 5 16 3 17 1 17-1 16-2 17-1 16-1 17 0 16 1 50 3 49 0 50-1 49 1 50 0 49 0 50 0 49 0 50 0 49 0"/>
<path d="M1574 3709l16 0 17 4 16 8 17 8 16 5 17 0 16-7 17-9 16-8 17-4 16 2 17 7 16 9 17 7 16 3 17-1 16-5 17-7 16-7 17-5 16-2 17 0 16 2 17 3 16 2 17 1 16 0 17-1 16-2 17-1 17-2 16 0 17-1 16 1 17 0 16 0 50 1 49-1 50 0 49 0 50 0 49 0 50 0 49 0 50 0 49 0"/>
<path d="M1574 3709l16-5 17-26 16-32 17-11 16 23 17 49 16 37 17-3 16-46 17-59 16-32 17-3 16 23 17 45 16 42 17 16 16-13 17-28 16-23 17-8 16 8 17 19 16 20 17 12 16 0 17-8 16-9 17-6 16 0 17 6 17 7 16 5 17 2 16-1 17-2 16-3 50 1 49 4 50-2 49 0 50 1 49 0 50 0 49 0 50 0 49 0"/>
<path d="M1574 3709l16-2 17-11 16-15 17-10 16 1 17 15 16 24 17 25 16 16 17 2 16-10 17-21 16-23 17-20 16-10 17-2 16 7 17 13 16 14 17 11 16 7 17 3 16-2 17-5 16-6 17-5 16-3 17-1 16 1 17 2 17 2 16 2 17 2 16 1 17 0 16-1 50-2 49 0 50 1 49 0 50 0 49 0 50 0 49 0 50 0 49 0"/>
<path d="M1574 3709l16 2 17 8 16 14 17 14 16 6 17-3 16-13 17-18 16-20 17-15 16-7 17 0 16 6 17 11 16 12 17 11 16 8 17 4 16 0 17-3 16-4 17-5 16-4 17-4 16-1 17-1 16 0 17 0 16 1 17 1 17 1 16 0 17 0 16 0 17 0 16-1 50 0 49 0 50 0 49 0 50 0 49 0 50 0 49 0 50 0 49 0"/>
<path d="M1574 3709l16 1 17 6 16 8 17 3 16-5 17-15 16-18 17-17 16-9 17 1 16 10 17 17 16 18 17 15 16 8 17 1 16-6 17-9 16-10 17-8 16-5 17-2 16 2 17 5 16 4 17 5 16 3 17 1 16 0 17-1 17-2 16-1 17-2 16 0 17 0 16 0 50 2 49 0 50 0 49 0 50 0 49 0 50 0 49 0 50 0 49 0"/>
<path d="M1574 3709l16 0 17 2 16 6 17 8 16 10 17 8 16 3 17-4 16-11 17-15 16-15 17-11 16-3 17 4 16 9 17 13 16 11 17 7 16 2 17-2 16-5 17-7 16-6 17-5 16-2 17-1 16 1 17 1 16 2 17 1 17 1 16 0 17 0 16 0 17-1 16 0 50-1 49 0 50 0 49 0 50 0 49 0 50 0 49 0 50 0 49 0"/>
<path d="M1574 3709l16-2 17-13 16-20 17-18 16-8 17-1 16 0 17-5 16-7 17-3 16 6 17 18 16 26 17 24 16 12 17-6 16-17 17-21 16-14 17-4 16 5 17 13 16 13 17 11 16 5 17 2 16-1 17-1 16 0 17 1 17 1 16 1 17 0 16-1 17 0 16-1 50 3 49 2 50-1 49 0 50 1 49 0 50 0 49 0 50 0 49 0"/>
<path d="M1574 3709l16 1 17 3 16 6 17 4 16 1 17-4 16-8 17-12 16-11 17-10 16-6 17-2 16 2 17 6 16 8 17 9 16 8 17 7 16 5 17 2 16 0 17-1 16-3 17-3 16-2 17-3 16-1 17-1 16 0 17 0 17 1 16 1 17 1 16 1 17 1 16 0 50 0 49 0 50 0 49 0 50 0 49 0 50 0 49 0 50 0 49 0"/>
<path d="M1574 3709l16 0 17 4 16 12 17 20 16 26 17 25 16 18 17 10 16 2 17-6 16-13 17-19 16-23 17-22 16-18 17-12 16-4 17 1 16 5 17 7 16 7 17 6 16 3 17 1 16-1 17-3 16-4 17-5 16-5 17-4 17-4 16-2 17-1 16-1 17 0 16 0 50 1 49 1 50-1 49-1 50 0 49 0 50 0 49 0 50 0 49 0"/>
<path d="M1574 3709l16 0 17-1 16-4 17-10 16-12 17-8 16-1 17 8 16 15 17 16 16 11 17 4 16-6 17-12 16-13 17-12 16-6 17 1 16 5 17 9 16 9 17 7 16 4 17 1 16-2 17-2 16-3 17-2 16-1 17 0 17 1 16 2 17 1 16 1 17 0 16 0 50-1 49 0 50 1 49 0 50 0 49 0 50 0 49 0 50 0 49 0"/>
<path d="M1574 3709l16-2 17-9 16-13 17-8 16 1 17 7 16 7 17 3 16-2 17-4 16-1 17 5 16 11 17 12 16 8 17 1 16-7 17-12 16-14 17-9 16-3 17 3 16 8 17 9 16 8 17 5 16 2 17-2 16-2 17-2 17-2 16-1 17 0 16 1 17 1 16 0 50 0 49 0 50 1 49 0 50 0 49 0 50 0 49 0 50 0 49 0"/>
<path d="M1574 3709l16-1 17-7 16-9 17-9 16-3 17 5 16 13 17 19 16 20 17 16 16 8 17 1 16-7 17-12 16-16 17-16 16-14 17-9 16-4 17 1 16 4 17 7 16 7 17 7 16 5 17 3 16 1 17 0 16-2 17-3 17-2 16-3 17-1 16-1 17-1 16 0 50 2 49 2 50-1 49 0 50 0 49 0 50 0 49 0 50 0 49 0"/>
</g>
<g fill="none" stroke="#ffe000" stroke-opacity="0.22" stroke-width="2.4">
<path d="M1574 3709l35-59 35-62 35-66 35-71 35-71 36-60 35-38 35-15 35 4 35 18 35 27 35 32 36 37 35 37 35 34 35 26 35 22 35 22 36 25 35 27 35 23 35 17 35 16 35 15 36 14 35 13 35 10 35 8 35 6 35 5 35 4"/>
<path d="M1574 3709l35-70 35-72 35-77 35-84 35-85 36-73 35-49 35-26 35-5 35 10 35 20 35 28 36 29 35 29 35 24 35 18 35 19 35 23 36 29 35 32 35 29 35 28 35 30 35 33 36 32 35 29 35 27 35 23 35 18 35 15 35 16"/>
<path d="M1574 3709l35-45 35-48 35-51 35-56 35-57 36-49 35-29 35-9 35 7 35 20 35 27 35 35 36 38 35 38 35 31 35 21 35 16 35 16 36 19 35 19 35 14 35 8 35 7 35 7 36 6 35 6 35 4 35 3 35 2 35 0 35 0"/>
<path d="M1574 3709l35-91 35-94 35-98 35-107 35-108 36-95 35-68 35-40 35-13 35 9 35 26 35 41 36 49 35 52 35 48 35 44 35 40 35 40 36 42 35 44 35 46 35 42 35 38 35 37 36 34 35 28 35 21 35 16 35 9 35 5 35 3"/>
<path d="M1574 3709l35-60 35-62 35-68 35-74 35-73 36-59 35-33 35-8 35 13 35 28 35 37 35 41 36 43 35 42 35 39 35 32 35 25 35 24 36 25 35 24 35 18 35 12 35 8 35 7 36 7 35 5 35 4 35 2 35 1 35 0 35 0"/>
<path d="M1574 3709l35-75 35-77 35-83 35-90 35-90 36-76 35-49 35-20 35 3 35 20 35 33 35 40 36 43 35 41 35 36 35 32 35 32 35 34 36 35 35 35 35 31 35 26 35 23 35 20 36 19 35 16 35 12 35 10 35 8 35 6 35 5"/>
<path d="M1574 3709l35-65 35-68 35-73 35-78 35-78 36-67 35-42 35-18 35 2 35 17 35 26 35 33 36 35 35 35 35 32 35 28 35 25 35 25 36 28 35 29 35 27 35 23 35 21 35 20 36 18 35 17 35 14 35 12 35 8 35 7 35 7"/>
<path d="M1574 3709l35-59 35-62 35-66 35-70 35-72 36-59 35-37 35-14 35 5 35 19 35 28 35 34 36 38 35 38 35 35 35 27 35 22 35 22 36 26 35 26 35 22 35 17 35 14 35 14 36 13 35 11 35 9 35 7 35 5 35 4 35 3"/>
<path d="M1574 3709l35-66 35-68 35-75 35-82 35-83 36-71 35-46 35-20 35 0 35 17 35 27 35 34 36 36 35 35 35 29 35 23 35 21 35 26 36 32 35 34 35 30 35 26 35 26 35 26 36 24 35 20 35 17 35 12 35 8 35 5 35 3"/>
<path d="M1574 3709l35-57 35-60 35-66 35-71 35-71 36-58 35-34 35-11 35 10 35 23 35 33 35 38 36 39 35 38 35 35 35 29 35 24 35 23 36 25 35 25 35 20 35 15 35 11 35 10 36 10 35 7 35 6 35 4 35 2 35 1 35 0"/>
<path d="M1574 3709l35-69 35-70 35-75 35-80 35-80 36-67 35-41 35-17 35 4 35 19 35 29 35 36 36 41 35 43 35 40 35 32 35 27 35 27 36 31 35 30 35 24 35 19 35 16 35 14 36 14 35 12 35 11 35 8 35 8 35 6 35 8"/>
<path d="M1574 3709l35-65 35-67 35-72 35-77 35-77 36-64 35-40 35-15 35 5 35 19 35 29 35 35 36 39 35 39 35 37 35 31 35 25 35 25 36 28 35 30 35 24 35 19 35 16 35 15 36 14 35 13 35 10 35 8 35 6 35 5 35 5"/>
<path d="M1574 3709l35-72 35-75 35-79 35-84 35-85 36-73 35-49 35-24 35-4 35 12 35 22 35 29 36 33 35 33 35 31 35 26 35 24 35 24 36 29 35 31 35 29 35 27 35 25 35 25 36 25 35 23 35 22 35 19 35 17 35 16 35 23"/>
<path d="M1574 3709l35-71 35-73 35-77 35-85 35-85 36-71 35-45 35-19 35 3 35 19 35 30 35 37 36 38 35 38 35 35 35 30 35 30 35 29 36 32 35 32 35 29 35 24 35 22 35 20 36 18 35 16 35 13 35 10 35 8 35 7 35 6"/>
<path d="M1574 3709l35-63 35-66 35-71 35-78 35-78 36-65 35-39 35-15 35 7 35 21 35 32 35 37 36 39 35 38 35 33 35 29 35 27 35 27 36 28 35 29 35 25 35 20 35 17 35 16 36 14 35 11 35 10 35 6 35 5 35 2 35 2"/>
<path d="M1574 3709l35-58 35-61 35-65 35-70 35-70 36-57 35-35 35-11 35 9 35 22 35 31 35 37 36 41 35 41 35 38 35 28 35 23 35 23 36 25 35 25 35 18 35 13 35 11 35 9 36 9 35 8 35 5 35 5 35 3 35 2 35 1"/>
<path d="M1574 3709l35-45 35-49 35-54 35-59 35-60 36-49 35-28 35-7 35 10 35 23 35 30 35 34 36 37 35 37 35 32 35 24 35 17 35 17 36 19 35 20 35 14 35 9 35 7 35 6 36 6 35 4 35 3 35 2 35 1 35 0 35-1"/>
<path d="M1574 3709l35-81 35-84 35-89 35-97 35-100 36-87 35-60 35-31 35-6 35 15 35 29 35 39 36 44 35 45 35 39 35 33 35 29 35 31 36 37 35 42 35 40 35 35 35 33 35 33 36 30 35 25 35 21 35 15 35 10 35 6 35 4"/>
<path d="M1574 3709l35-64 35-67 35-71 35-77 35-77 36-65 35-42 35-18 35 1 35 16 35 26 35 32 36 35 35 35 35 32 35 27 35 23 35 24 36 27 35 29 35 26 35 23 35 20 35 19 36 19 35 17 35 14 35 12 35 9 35 8 35 7"/>
<path d="M1574 3709l35-77 35-79 35-85 35-93 35-95 36-81 35-56 35-29 35-6 35 11 35 24 35 31 36 36 35 34 35 29 35 23 35 22 35 26 36 34 35 38 35 35 35 32 35 33 35 35 36 34 35 31 35 27 35 22 35 17 35 14 35 13"/>
<path d="M1574 3709l35-51 35-54 35-56 35-61 35-64 36-57 35-37 35-17 35 0 35 12 35 21 35 28 36 30 35 30 35 26 35 19 35 15 35 17 36 20 35 23 35 21 35 18 35 19 35 18 36 18 35 17 35 14 35 12 35 8 35 6 35 5"/>
<path d="M1574 3709l35-61 35-64 35-70 35-76 35-77 36-63 35-38 35-12 35 8 35 24 35 34 35 40 36 40 35 39 35 33 35 28 35 26 35 27 36 28 35 28 35 23 35 18 35 15 35 13 36 12 35 9 35 7 35 5 35 3 35 1 35 0"/>
</g>
<g fill="none" stroke="#b03040" stroke-opacity="0.22" stroke-width="2.4">
<path d="M1574 3709l35-92 35-96 35-103 35-103 35-94 36-83 35-66 35-46 35-22 35 6 35 33 35 54 36 64 35 70 35 80 35 79 35 64 35 49 36 33 35 24 35 24 35 29 35 30 35 23 36 12 35 9 35 6 35 6 35 4 35 3 35 3"/>
<path d="M1574 3709l35-96 35-101 35-107 35-107 35-99 36-88 35-71 35-49 35-27 35-4 35 18 35 38 36 50 35 57 35 69 35 77 35 70 35 59 36 45 35 37 35 34 35 37 35 38 35 30 36 20 35 15 35 13 35 11 35 10 35 10 35 11"/>
<path d="M1574 3709l35-96 35-100 35-107 35-107 35-99 36-87 35-74 35-50 35-24 35-7 35 7 35 19 36 32 35 41 35 51 35 59 35 65 35 68 36 65 35 60 35 59 35 56 35 48 35 34 36 23 35 17 35 14 35 12 35 8 35 7 35 6"/>
<path d="M1574 3709l35-93 35-97 35-104 35-105 35-95 36-85 35-70 35-45 35-23 35-4 35 13 35 31 36 47 35 55 35 63 35 74 35 75 35 68 36 56 35 46 35 42 35 41 35 36 35 25 36 16 35 10 35 8 35 6 35 4 35 3 35 2"/>
<path d="M1574 3709l35-101 35-103 35-110 35-111 35-103 36-90 35-75 35-52 35-27 35-6 35 11 35 18 36 21 35 25 35 45 35 66 35 76 35 90 36 93 35 83 35 70 35 58 35 43 35 30 36 17 35 11 35 7 35 6 35 4 35 3 35 1"/>
<path d="M1574 3709l35-89 35-93 35-100 35-100 35-92 36-81 35-65 35-46 35-22 35 2 35 24 35 41 36 47 35 48 35 53 35 57 35 55 35 50 36 44 35 42 35 44 35 48 35 43 35 29 36 18 35 13 35 11 35 8 35 6 35 3 35 2"/>
<path d="M1574 3709l35-99 35-102 35-108 35-110 35-101 36-89 35-75 35-52 35-25 35-7 35 6 35 17 36 30 35 41 35 54 35 65 35 74 35 77 36 70 35 61 35 56 35 51 35 44 35 33 36 23 35 16 35 14 35 11 35 9 35 8 35 8"/>
<path d="M1574 3709l35-99 35-102 35-110 35-110 35-101 36-90 35-76 35-53 35-28 35-10 35 4 35 17 36 28 35 34 35 41 35 50 35 54 35 59 36 57 35 57 35 60 35 61 35 55 35 40 36 31 35 27 35 24 35 21 35 19 35 17 35 23"/>
<path d="M1574 3709l35-97 35-101 35-108 35-108 35-100 36-88 35-74 35-51 35-25 35-6 35 6 35 17 36 28 35 39 35 51 35 62 35 67 35 74 36 71 35 64 35 61 35 56 35 47 35 33 36 22 35 16 35 14 35 10 35 8 35 7 35 5"/>
<path d="M1574 3709l35-98 35-101 35-108 35-109 35-101 36-89 35-76 35-54 35-29 35-8 35 4 35 11 36 14 35 13 35 22 35 31 35 34 35 40 36 46 35 65 35 85 35 96 35 91 35 69 36 44 35 29 35 26 35 20 35 15 35 10 35 8"/>
<path d="M1574 3709l35-94 35-97 35-105 35-104 35-96 36-85 35-67 35-46 35-23 35 2 35 29 35 52 36 65 35 75 35 86 35 86 35 70 35 52 36 33 35 23 35 22 35 29 35 31 35 21 36 12 35 8 35 5 35 6 35 4 35 3 35 3"/>
<path d="M1574 3709l35-93 35-97 35-104 35-103 35-95 36-83 35-68 35-47 35-18 35 15 35 42 35 58 36 70 35 77 35 78 35 71 35 54 35 39 36 24 35 18 35 20 35 29 35 31 35 24 36 14 35 9 35 9 35 7 35 7 35 6 35 6"/>
<path d="M1574 3709l35-93 35-98 35-104 35-104 35-95 36-84 35-67 35-45 35-22 35 4 35 33 35 58 36 72 35 83 35 92 35 88 35 68 35 46 36 28 35 17 35 19 35 26 35 29 35 19 36 10 35 5 35 4 35 4 35 3 35 2 35 2"/>
<path d="M1574 3709l35-100 35-103 35-110 35-111 35-101 36-90 35-76 35-53 35-26 35-7 35 6 35 19 36 35 35 47 35 60 35 76 35 84 35 79 36 66 35 53 35 46 35 43 35 41 35 32 36 21 35 16 35 12 35 11 35 10 35 9 35 11"/>
<path d="M1574 3709l35-94 35-97 35-105 35-105 35-97 36-86 35-71 35-47 35-24 35-7 35 9 35 22 36 34 35 42 35 49 35 56 35 60 35 63 36 61 35 59 35 59 35 59 35 50 35 34 36 21 35 16 35 13 35 11 35 7 35 5 35 3"/>
<path d="M1574 3709l35-92 35-96 35-103 35-104 35-95 36-84 35-71 35-47 35-22 35-6 35 8 35 18 36 27 35 35 35 45 35 52 35 52 35 58 36 63 35 66 35 68 35 68 35 58 35 38 36 22 35 14 35 11 35 8 35 5 35 3 35 1"/>
<path d="M1574 3709l35-99 35-102 35-110 35-110 35-101 36-89 35-75 35-52 35-27 35-4 35 7 35 16 36 24 35 37 35 54 35 66 35 76 35 84 36 78 35 68 35 59 35 53 35 43 35 32 36 20 35 14 35 12 35 9 35 7 35 5 35 5"/>
<path d="M1574 3709l35-100 35-103 35-110 35-111 35-101 36-90 35-75 35-52 35-27 35-4 35 8 35 17 36 27 35 42 35 61 35 76 35 88 35 92 36 77 35 62 35 51 35 44 35 39 35 29 36 18 35 11 35 9 35 7 35 6 35 5 35 4"/>
<path d="M1574 3709l35-91 35-96 35-102 35-102 35-93 36-82 35-65 35-45 35-18 35 15 35 46 35 67 36 79 35 88 35 88 35 77 35 56 35 36 36 19 35 12 35 17 35 24 35 26 35 18 36 9 35 4 35 4 35 3 35 3 35 2 35 1"/>
<path d="M1574 3709l35-91 35-96 35-102 35-102 35-95 36-82 35-67 35-47 35-24 35 2 35 24 35 41 36 49 35 50 35 57 35 62 35 58 35 52 36 43 35 40 35 41 35 44 35 40 35 29 36 20 35 15 35 12 35 10 35 7 35 6 35 4"/>
<path d="M1574 3709l35-95 35-98 35-105 35-107 35-97 36-87 35-73 35-49 35-25 35-7 35 6 35 17 36 26 35 33 35 41 35 49 35 49 35 56 36 60 35 64 35 69 35 70 35 62 35 43 36 26 35 21 35 16 35 14 35 9 35 7 35 5"/>
<path d="M1574 3709l35-95 35-99 35-105 35-106 35-97 36-86 35-70 35-45 35-23 35-2 35 23 35 49 36 65 35 75 35 92 35 93 35 77 35 57 36 35 35 23 35 22 35 29 35 31 35 21 36 11 35 6 35 5 35 5 35 3 35 3 35 3"/>
<path d="M1574 3709l35-99 35-102 35-109 35-109 35-101 36-88 35-75 35-51 35-24 35-5 35 9 35 23 36 43 35 57 35 72 35 90 35 92 35 81 36 60 35 45 35 35 35 37 35 36 35 27 36 15 35 10 35 8 35 7 35 6 35 5 35 5"/>
<path d="M1574 3709l35-92 35-96 35-103 35-104 35-94 36-84 35-69 35-44 35-21 35-3 35 15 35 35 36 52 35 61 35 70 35 81 35 79 35 69 36 52 35 41 35 35 35 34 35 32 35 22 36 12 35 7 35 5 35 4 35 2 35 2 35 0"/>
<path d="M1574 3709l35-98 35-102 35-109 35-110 35-101 36-90 35-76 35-53 35-28 35-10 35 3 35 12 36 20 35 26 35 34 35 41 35 42 35 49 36 55 35 62 35 70 35 75 35 69 35 51 36 34 35 30 35 26 35 24 35 19 35 16 35 19"/>
<path d="M1574 3709l35-94 35-98 35-105 35-105 35-96 36-85 35-70 35-44 35-21 35-2 35 18 35 41 36 63 35 73 35 88 35 98 35 85 35 65 36 42 35 26 35 23 35 27 35 29 35 19 36 9 35 4 35 4 35 2 35 2 35 1 35 1"/>
<path d="M1574 3709l35-93 35-98 35-104 35-104 35-96 36-83 35-69 35-48 35-18 35 16 35 39 35 55 36 65 35 70 35 71 35 66 35 52 35 38 36 27 35 20 35 23 35 31 35 34 35 26 36 17 35 13 35 11 35 11 35 9 35 9 35 10"/>
<path d="M1574 3709l35-94 35-98 35-105 35-105 35-97 36-86 35-71 35-46 35-25 35-5 35 13 35 31 36 44 35 52 35 59 35 70 35 71 35 66 36 55 35 48 35 45 35 44 35 39 35 29 36 18 35 13 35 11 35 9 35 6 35 5 35 4"/>
<path d="M1574 3709l35-97 35-101 35-108 35-108 35-100 36-89 35-74 35-50 35-27 35-8 35 8 35 24 36 37 35 42 35 51 35 61 35 65 35 64 36 57 35 52 35 52 35 52 35 45 35 35 36 26 35 20 35 18 35 15 35 13 35 12 35 13"/>
<path d="M1574 3709l35-100 35-104 35-111 35-111 35-103 36-92 35-77 35-56 35-30 35-9 35 2 35 10 36 15 35 18 35 29 35 38 35 40 35 46 36 57 35 68 35 76 35 81 35 75 35 53 36 37 35 32 35 28 35 25 35 21 35 19 35 23"/>
</g>
<g fill="none" stroke="#40a040" stroke-opacity="0.22" stroke-width="2.4">
<path d="M1574 3709l35-79 35-83 35-94 35-103 35-100 36-84 35-59 35-27 35 5 35 30 35 50 35 59 36 60 35 59 35 53 35 42 35 38 35 37 36 40 35 36 35 23 35 15 35 14 35 15 36 13 35 11 35 8 35 7 35 5 35 4 35 5"/>
<path d="M1574 3709l35-78 35-83 35-93 35-101 35-99 36-83 35-57 35-26 35 6 35 30 35 46 35 51 36 52 35 51 35 45 35 38 35 33 35 34 36 37 35 36 35 27 35 18 35 17 35 18 36 18 35 16 35 12 35 11 35 8 35 8 35 8"/>
<path d="M1574 3709l35-77 35-82 35-93 35-104 35-105 36-88 35-65 35-36 35-10 35 11 35 26 35 38 36 45 35 50 35 53 35 52 35 51 35 54 36 55 35 48 35 36 35 28 35 27 35 26 36 20 35 16 35 11 35 7 35 4 35 2 35 0"/>
<path d="M1574 3709l35-76 35-81 35-91 35-100 35-98 36-82 35-57 35-26 35 5 35 30 35 48 35 57 36 58 35 55 35 52 35 43 35 37 35 36 36 36 35 35 35 26 35 16 35 14 35 15 36 13 35 11 35 9 35 6 35 4 35 3 35 2"/>
<path d="M1574 3709l35-78 35-83 35-93 35-102 35-100 36-83 35-59 35-28 35 3 35 27 35 46 35 54 36 54 35 54 35 49 35 43 35 36 35 36 36 38 35 37 35 28 35 18 35 17 35 17 36 17 35 14 35 11 35 9 35 7 35 5 35 6"/>
<path d="M1574 3709l35-72 35-79 35-88 35-96 35-95 36-76 35-52 35-19 35 13 35 38 35 53 35 59 36 57 35 54 35 47 35 37 35 32 35 31 36 33 35 31 35 21 35 11 35 11 35 12 36 11 35 9 35 6 35 5 35 3 35 2 35 1"/>
<path d="M1574 3709l35-82 35-86 35-96 35-107 35-105 36-90 35-65 35-36 35-7 35 15 35 34 35 46 36 52 35 53 35 50 35 48 35 44 35 43 36 43 35 40 35 35 35 27 35 24 35 24 36 22 35 19 35 16 35 12 35 10 35 8 35 9"/>
<path d="M1574 3709l35-76 35-82 35-92 35-102 35-102 36-84 35-59 35-30 35 0 35 24 35 45 35 58 36 65 35 66 35 60 35 54 35 47 35 42 36 39 35 35 35 25 35 16 35 11 35 12 36 10 35 8 35 5 35 3 35 2 35 0 35 0"/>
<path d="M1574 3709l35-84 35-88 35-98 35-108 35-108 36-93 35-69 35-41 35-13 35 7 35 25 35 35 36 41 35 45 35 44 35 42 35 43 35 46 36 46 35 44 35 36 35 33 35 35 35 32 36 31 35 27 35 24 35 20 35 16 35 14 35 16"/>
<path d="M1574 3709l35-75 35-81 35-91 35-97 35-96 36-80 35-54 35-23 35 7 35 29 35 42 35 46 36 46 35 44 35 39 35 34 35 29 35 30 36 33 35 33 35 28 35 22 35 20 35 21 36 20 35 19 35 16 35 13 35 10 35 8 35 8"/>
<path d="M1574 3709l35-77 35-82 35-92 35-100 35-98 36-81 35-55 35-23 35 10 35 35 35 53 35 59 36 59 35 57 35 49 35 39 35 35 35 35 36 37 35 33 35 21 35 13 35 13 35 12 36 13 35 10 35 7 35 6 35 5 35 3 35 4"/>
<path d="M1574 3709l35-84 35-88 35-97 35-109 35-109 36-92 35-66 35-38 35-8 35 15 35 36 35 51 36 62 35 65 35 64 35 59 35 53 35 48 36 46 35 44 35 34 35 21 35 18 35 18 36 15 35 13 35 9 35 7 35 5 35 4 35 4"/>
<path d="M1574 3709l35-88 35-91 35-101 35-112 35-113 36-97 35-73 35-45 35-18 35 4 35 20 35 32 36 42 35 50 35 53 35 52 35 54 35 57 36 54 35 49 35 41 35 37 35 34 35 31 36 28 35 25 35 20 35 16 35 14 35 11 35 14"/>
<path d="M1574 3709l35-77 35-82 35-92 35-103 35-102 36-86 35-63 35-34 35-7 35 14 35 30 35 41 36 46 35 49 35 47 35 44 35 44 35 46 36 47 35 41 35 33 35 27 35 29 35 27 36 23 35 19 35 15 35 10 35 7 35 4 35 3"/>
<path d="M1574 3709l35-75 35-80 35-90 35-99 35-96 36-80 35-54 35-22 35 10 35 36 35 55 35 61 36 61 35 59 35 51 35 41 35 34 35 34 36 36 35 31 35 20 35 12 35 10 35 11 36 10 35 8 35 6 35 4 35 3 35 2 35 1"/>
<path d="M1574 3709l35-80 35-85 35-94 35-105 35-104 36-86 35-62 35-31 35-2 35 24 35 45 35 58 36 62 35 62 35 58 35 52 35 43 35 41 36 41 35 39 35 28 35 17 35 15 35 15 36 13 35 11 35 8 35 6 35 5 35 3 35 3"/>
<path d="M1574 3709l35-81 35-85 35-96 35-107 35-106 36-90 35-65 35-36 35-7 35 15 35 35 35 48 36 57 35 62 35 59 35 56 35 53 35 50 36 45 35 41 35 33 35 25 35 20 35 18 36 16 35 14 35 9 35 7 35 5 35 3 35 2"/>
<path d="M1574 3709l35-83 35-87 35-96 35-108 35-106 36-89 35-65 35-34 35-5 35 22 35 42 35 58 36 64 35 64 35 62 35 55 35 45 35 44 36 45 35 42 35 27 35 18 35 16 35 16 36 13 35 12 35 8 35 6 35 5 35 5 35 4"/>
<path d="M1574 3709l35-72 35-79 35-88 35-96 35-94 36-76 35-50 35-16 35 17 35 44 35 61 35 66 36 64 35 59 35 48 35 37 35 31 35 32 36 32 35 25 35 14 35 8 35 6 35 7 36 7 35 5 35 4 35 2 35 1 35 1 35 0"/>
<path d="M1574 3709l35-76 35-82 35-92 35-99 35-99 36-83 35-60 35-30 35-2 35 18 35 31 35 38 36 38 35 36 35 34 35 31 35 31 35 34 36 37 35 35 35 30 35 27 35 31 35 33 36 30 35 28 35 24 35 19 35 15 35 12 35 11"/>
<path d="M1574 3709l35-82 35-87 35-97 35-107 35-106 36-90 35-65 35-36 35-6 35 18 35 37 35 49 36 55 35 55 35 53 35 49 35 43 35 42 36 42 35 42 35 34 35 24 35 21 35 21 36 20 35 18 35 14 35 11 35 10 35 8 35 10"/>
<path d="M1574 3709l35-79 35-85 35-94 35-105 35-103 36-88 35-64 35-35 35-7 35 15 35 33 35 43 36 48 35 49 35 47 35 44 35 44 35 43 36 43 35 40 35 32 35 29 35 28 35 25 36 24 35 20 35 17 35 13 35 9 35 7 35 7"/>
<path d="M1574 3709l35-81 35-86 35-96 35-106 35-107 36-90 35-67 35-39 35-13 35 9 35 25 35 36 36 42 35 46 35 46 35 44 35 44 35 48 36 50 35 45 35 36 35 31 35 34 35 33 36 28 35 24 35 21 35 15 35 12 35 8 35 8"/>
<path d="M1574 3709l35-72 35-79 35-88 35-96 35-94 36-78 35-53 35-21 35 8 35 30 35 44 35 49 36 48 35 45 35 41 35 35 35 31 35 31 36 33 35 31 35 26 35 21 35 19 35 18 36 18 35 16 35 13 35 9 35 7 35 4 35 4"/>
<path d="M1574 3709l35-70 35-76 35-85 35-92 35-90 36-72 35-45 35-13 35 19 35 40 35 51 35 53 36 51 35 47 35 39 35 31 35 26 35 28 36 30 35 28 35 20 35 12 35 11 35 13 36 12 35 10 35 8 35 6 35 4 35 2 35 2"/>
<path d="M1574 3709l35-69 35-75 35-86 35-93 35-91 36-74 35-49 35-17 35 14 35 40 35 55 35 59 36 59 35 54 35 47 35 37 35 31 35 29 36 31 35 28 35 18 35 10 35 8 35 10 36 8 35 7 35 5 35 3 35 1 35 0 35 0"/>
<path d="M1574 3709l35-87 35-92 35-100 35-112 35-113 36-97 35-73 35-45 35-17 35 4 35 21 35 33 36 43 35 51 35 53 35 53 35 53 35 56 36 53 35 49 35 41 35 36 35 33 35 30 36 28 35 24 35 20 35 16 35 13 35 12 35 14"/>
<path d="M1574 3709l35-86 35-90 35-100 35-110 35-111 36-95 35-70 35-42 35-13 35 9 35 28 35 42 36 50 35 55 35 54 35 52 35 50 35 48 36 47 35 46 35 39 35 31 35 26 35 25 36 24 35 21 35 18 35 14 35 12 35 11 35 15"/>
<path d="M1574 3709l35-83 35-87 35-97 35-109 35-108 36-93 35-68 35-40 35-12 35 10 35 27 35 40 36 50 35 56 35 58 35 55 35 55 35 55 36 51 35 46 35 36 35 30 35 28 35 23 36 21 35 18 35 13 35 10 35 7 35 4 35 4"/>
<path d="M1574 3709l35-77 35-81 35-92 35-103 35-101 36-83 35-59 35-28 35 2 35 27 35 49 35 62 36 68 35 65 35 61 35 53 35 43 35 40 36 37 35 35 35 23 35 13 35 10 35 10 36 9 35 7 35 5 35 3 35 1 35 1 35 0"/>
</g>
<g fill="none" stroke="#ff9a00" stroke-opacity="0.22" stroke-width="2.4">
<path d="M1574 3709l35-82 35-84 35-88 35-94 35-93 36-74 35-42 35-11 35 18 35 40 35 54 35 58 36 59 35 58 35 48 35 39 35 32 35 28 36 25 35 23 35 18 35 15 35 12 35 11 36 8 35 6 35 5 35 5 35 3 35 2 35 1"/>
<path d="M1574 3709l35-68 35-68 35-68 35-68 35-60 36-45 35-21 35 4 35 24 35 40 35 49 35 49 36 43 35 37 35 28 35 20 35 14 35 13 36 15 35 14 35 12 35 9 35 6 35 5 36 4 35 3 35 3 35 3 35 1 35 1 35 1"/>
<path d="M1574 3709l35-76 35-77 35-78 35-79 35-72 36-57 35-31 35-4 35 19 35 38 35 49 35 49 36 47 35 41 35 32 35 25 35 19 35 18 36 19 35 21 35 18 35 14 35 12 35 11 36 9 35 8 35 6 35 6 35 5 35 4 35 4"/>
<path d="M1574 3709l35-72 35-71 35-72 35-69 35-64 36-50 35-26 35-3 35 20 35 37 35 46 35 45 36 41 35 36 35 28 35 20 35 17 35 15 36 17 35 18 35 16 35 13 35 10 35 10 36 8 35 8 35 6 35 6 35 4 35 3 35 3"/>
<path d="M1574 3709l35-85 35-87 35-91 35-98 35-97 36-81 35-53 35-23 35 2 35 25 35 37 35 42 36 46 35 45 35 43 35 38 35 35 35 35 36 35 35 34 35 28 35 23 35 21 35 24 36 22 35 20 35 18 35 14 35 11 35 9 35 8"/>
<path d="M1574 3709l35-72 35-73 35-74 35-75 35-67 36-51 35-25 35 0 35 22 35 40 35 50 35 50 36 47 35 39 35 31 35 23 35 17 35 15 36 17 35 18 35 15 35 11 35 9 35 7 36 6 35 5 35 5 35 4 35 2 35 2 35 2"/>
<path d="M1574 3709l35-80 35-81 35-84 35-89 35-83 36-66 35-37 35-8 35 18 35 37 35 49 35 54 36 54 35 48 35 39 35 31 35 26 35 23 36 22 35 22 35 20 35 16 35 14 35 11 36 10 35 9 35 7 35 6 35 5 35 4 35 3"/>
<path d="M1574 3709l35-75 35-75 35-75 35-73 35-66 36-51 35-26 35 0 35 23 35 43 35 50 35 48 36 45 35 37 35 28 35 20 35 16 35 17 36 21 35 20 35 15 35 11 35 8 35 7 36 6 35 5 35 5 35 5 35 3 35 4 35 4"/>
<path d="M1574 3709l35-80 35-81 35-84 35-88 35-84 36-68 35-41 35-13 35 11 35 31 35 41 35 46 36 48 35 44 35 37 35 32 35 27 35 27 36 26 35 25 35 21 35 17 35 19 35 17 36 16 35 14 35 12 35 10 35 7 35 6 35 5"/>
<path d="M1574 3709l35-68 35-69 35-67 35-65 35-59 36-47 35-24 35-1 35 19 35 35 35 45 35 42 36 40 35 33 35 26 35 19 35 15 35 14 36 16 35 16 35 15 35 12 35 10 35 9 36 8 35 7 35 6 35 5 35 4 35 2 35 2"/>
<path d="M1574 3709l35-72 35-73 35-74 35-74 35-67 36-50 35-25 35 3 35 24 35 42 35 53 35 52 36 48 35 40 35 31 35 23 35 17 35 15 36 16 35 16 35 14 35 10 35 7 35 5 36 5 35 3 35 4 35 3 35 2 35 1 35 1"/>
<path d="M1574 3709l35-75 35-77 35-78 35-81 35-74 36-54 35-27 35 2 35 27 35 45 35 56 35 58 36 53 35 45 35 35 35 25 35 19 35 16 36 17 35 18 35 14 35 9 35 6 35 5 36 4 35 3 35 3 35 2 35 2 35 1 35 1"/>
<path d="M1574 3709l35-62 35-61 35-62 35-59 35-52 36-38 35-15 35 6 35 26 35 40 35 47 35 46 36 40 35 32 35 24 35 16 35 11 35 10 36 11 35 12 35 8 35 6 35 4 35 2 36 2 35 2 35 1 35 2 35 1 35 0 35 0"/>
<path d="M1574 3709l35-87 35-88 35-94 35-101 35-103 36-89 35-61 35-30 35 0 35 24 35 40 35 46 36 51 35 51 35 49 35 47 35 46 35 45 36 44 35 41 35 34 35 25 35 20 35 19 36 20 35 16 35 13 35 9 35 7 35 4 35 2"/>
<path d="M1574 3709l35-81 35-82 35-85 35-89 35-84 36-68 35-41 35-14 35 11 35 31 35 42 35 47 36 48 35 44 35 36 35 31 35 27 35 25 36 25 35 24 35 21 35 19 35 20 35 17 36 16 35 14 35 13 35 10 35 9 35 7 35 7"/>
<path d="M1574 3709l35-76 35-78 35-81 35-85 35-81 36-61 35-33 35-5 35 21 35 41 35 51 35 54 36 54 35 49 35 39 35 31 35 25 35 22 36 21 35 19 35 16 35 12 35 11 35 8 36 7 35 6 35 4 35 4 35 2 35 2 35 1"/>
<path d="M1574 3709l35-78 35-79 35-80 35-82 35-74 36-58 35-31 35-3 35 21 35 41 35 52 35 53 36 48 35 43 35 33 35 24 35 19 35 19 36 21 35 23 35 18 35 13 35 10 35 9 36 7 35 7 35 6 35 5 35 4 35 5 35 4"/>
<path d="M1574 3709l35-71 35-70 35-65 35-60 35-57 36-46 35-24 35 0 35 21 35 36 35 41 35 39 36 36 35 29 35 21 35 15 35 13 35 14 36 17 35 19 35 15 35 12 35 9 35 9 36 8 35 8 35 7 35 7 35 6 35 5 35 6"/>
<path d="M1574 3709l35-62 35-60 35-53 35-45 35-42 36-30 35-11 35 10 35 30 35 40 35 42 35 38 36 33 35 25 35 16 35 11 35 9 35 10 36 11 35 11 35 6 35 3 35 1 35 1 36 0 35 1 35 1 35 2 35 1 35 0 35 1"/>
<path d="M1574 3709l35-79 35-81 35-82 35-86 35-78 36-60 35-33 35-3 35 22 35 42 35 55 35 56 36 53 35 46 35 36 35 27 35 21 35 19 36 21 35 23 35 18 35 13 35 10 35 8 36 6 35 6 35 5 35 4 35 4 35 4 35 3"/>
<path d="M1574 3709l35-78 35-80 35-83 35-86 35-80 36-62 35-35 35-6 35 20 35 39 35 50 35 54 36 54 35 46 35 38 35 30 35 24 35 21 36 21 35 21 35 18 35 15 35 12 35 10 36 9 35 7 35 6 35 5 35 4 35 3 35 3"/>
<path d="M1574 3709l35-77 35-77 35-79 35-80 35-75 36-60 35-34 35-8 35 14 35 33 35 44 35 47 36 45 35 39 35 33 35 26 35 22 35 20 36 21 35 21 35 19 35 16 35 16 35 15 36 12 35 12 35 10 35 8 35 7 35 5 35 5"/>
<path d="M1574 3709l35-65 35-62 35-55 35-48 35-48 36-37 35-19 35 3 35 23 35 34 35 37 35 36 36 31 35 26 35 17 35 12 35 9 35 11 36 14 35 15 35 13 35 8 35 7 35 7 36 6 35 5 35 5 35 5 35 4 35 3 35 3"/>
<path d="M1574 3709l35-85 35-86 35-89 35-95 35-92 36-75 35-47 35-19 35 8 35 29 35 41 35 46 36 49 35 46 35 39 35 34 35 29 35 28 36 27 35 27 35 24 35 22 35 22 35 20 36 19 35 16 35 16 35 13 35 11 35 10 35 12"/>
<path d="M1574 3709l35-74 35-74 35-76 35-77 35-70 36-50 35-24 35 5 35 28 35 47 35 57 35 56 36 51 35 43 35 32 35 22 35 16 35 15 36 16 35 17 35 12 35 7 35 5 35 4 36 2 35 3 35 2 35 2 35 1 35 1 35 1"/>
</g>
<path d="M1574 3709l12 0 12 0 13 0 12 0 13 0 12 0 12 0 13 0 12 0 12 0 13 0 12 0 13 0 12 0 12 0 13 0 12 0 13 0 12 0 12 0 13 0 12 0 12 0 13 0 12 0 13 0 12 0 12 0 13 0 12 0 13 0 12 0 12 0 13 0 12 0 12 0 13 0 12 0 13 0 12 0 12 0 13 0 12 0 13 0 12 0 12 0 13 0 12 0 12 0 13 0 12 0 13 0 12 0 12 0 13 0 12 0 13 0 12 0 12 0 13 0 12 0 12 0 13 0 12 0 13 0 12 0 12 0 13 0 12 0 13 0 12 0 12 0 13 0 12 0 12 0 13 0 12 0 13 0 12 0 12 0 13 0 12 0 13 0 12 0 12 0 13 0 12 0 12 0" fill="none" stroke="#000000" stroke-width="15.2"/>
<defs><path id="m14" d="M1574 3709l12-24 12-23 13-24 12-25 13-24 12-26 12-25 13-27 12-28 12-28 13-29 12-30 13-29 12-28 12-26 13-25 12-21 13-19 12-15 12-11 13-9 12-5 12-3 13 0 12 2 13 4 12 7 12 7 13 9 12 11 13 11 12 12 12 13 13 13 12 13 12 13 13 14 12 13 13 13 12 13 12 12 13 12 12 11 13 11 12 10 12 10 13 10 12 10 12 9 13 10 12 10 13 10 12 11 12 10 13 11 12 11 13 11 12 10 12 9 13 9 12 9 12 8 13 7 12 7 13 7 12 7 12 6 13 7 12 6 13 6 12 6 12 5 13 6 12 4 12 5 13 4 12 4 13 3 12 4 12 3 13 2 12 2 13 2 12 2 12 2 13 2 12 1 12 2"/></defs>
<use href="#m14" fill="none" stroke="#000" stroke-width="13.2"/>
<use href="#m14" fill="none" stroke="#ffff00" stroke-width="8.8"/>
<defs><path id="m15" d="M1574 3709l12-34 12-34 13-35 12-35 13-35 12-37 12-37 13-38 12-39 12-39 13-38 12-36 13-36 12-33 12-33 13-31 12-30 13-28 12-26 12-24 13-21 12-17 12-13 13-11 12-7 13-5 12-3 12-1 13 0 12 2 13 3 12 5 12 6 13 8 12 10 12 11 13 13 12 13 13 16 12 16 12 18 13 19 12 21 13 22 12 23 12 24 13 25 12 25 12 26 13 26 12 26 13 25 12 24 12 22 13 22 12 21 13 21 12 20 12 20 13 19 12 19 12 19 13 17 12 16 13 15 12 13 12 12 13 10 12 9 13 7 12 7 12 6 13 6 12 5 12 5 13 4 12 4 13 4 12 4 12 3 13 3 12 3 13 2 12 3 12 2 13 2 12 2 12 2"/></defs>
<use href="#m15" fill="none" stroke="#000" stroke-width="14.8"/>
<use href="#m15" fill="none" stroke="#b0232e" stroke-width="12.4"/>
<path d="M1574 3709l12-28 12-28 13-28 12-29 13-30 12-31 12-33 13-34 12-35 12-37 13-37 12-38 13-37 12-36 12-34 13-31 12-28 13-26 12-22 12-18 13-16 12-11 12-7 13-4 12-1 13 3 12 5 12 8 13 10 12 12 13 14 12 16 12 17 13 18 12 19 12 19 13 19 12 20 13 19 12 19 12 19 13 18 12 18 13 18 12 17 12 17 13 16 12 16 12 15 13 16 12 15 13 15 12 14 12 15 13 14 12 14 13 13 12 13 12 11 13 10 12 9 12 9 13 8 12 8 13 7 12 7 12 8 13 7 12 7 13 6 12 7 12 6 13 6 12 5 12 4 13 5 12 4 13 3 12 3 12 3 13 2 12 3 13 2 12 2 12 1 13 2 12 1 12 2" fill="none" stroke="#006400" stroke-width="12.8"/>
<defs><path id="m16" d="M1574 3709l12-27 12-26 13-27 12-27 13-27 12-27 12-28 13-28 12-28 12-28 13-28 12-28 13-26 12-25 12-23 13-21 12-18 13-14 12-11 12-7 13-4 12-1 12 2 13 5 12 8 13 10 12 12 12 14 13 16 12 17 13 18 12 18 12 18 13 17 12 18 12 17 13 16 12 15 13 15 12 14 12 12 13 11 12 11 13 10 12 8 12 8 13 8 12 7 12 7 13 6 12 7 13 6 12 7 12 7 13 7 12 7 13 7 12 6 12 7 13 5 12 6 12 5 13 4 12 5 13 4 12 4 12 3 13 4 12 3 13 3 12 3 12 3 13 3 12 2 12 3 13 2 12 2 13 2 12 2 12 2 13 2 12 1 13 1 12 2 12 1 13 1 12 1 12 1"/></defs>
<use href="#m16" fill="none" stroke="#000" stroke-width="13.2"/>
<use href="#m16" fill="none" stroke="#ff9a00" stroke-width="8.8"/>
</g>
</svg>
</body></html>
